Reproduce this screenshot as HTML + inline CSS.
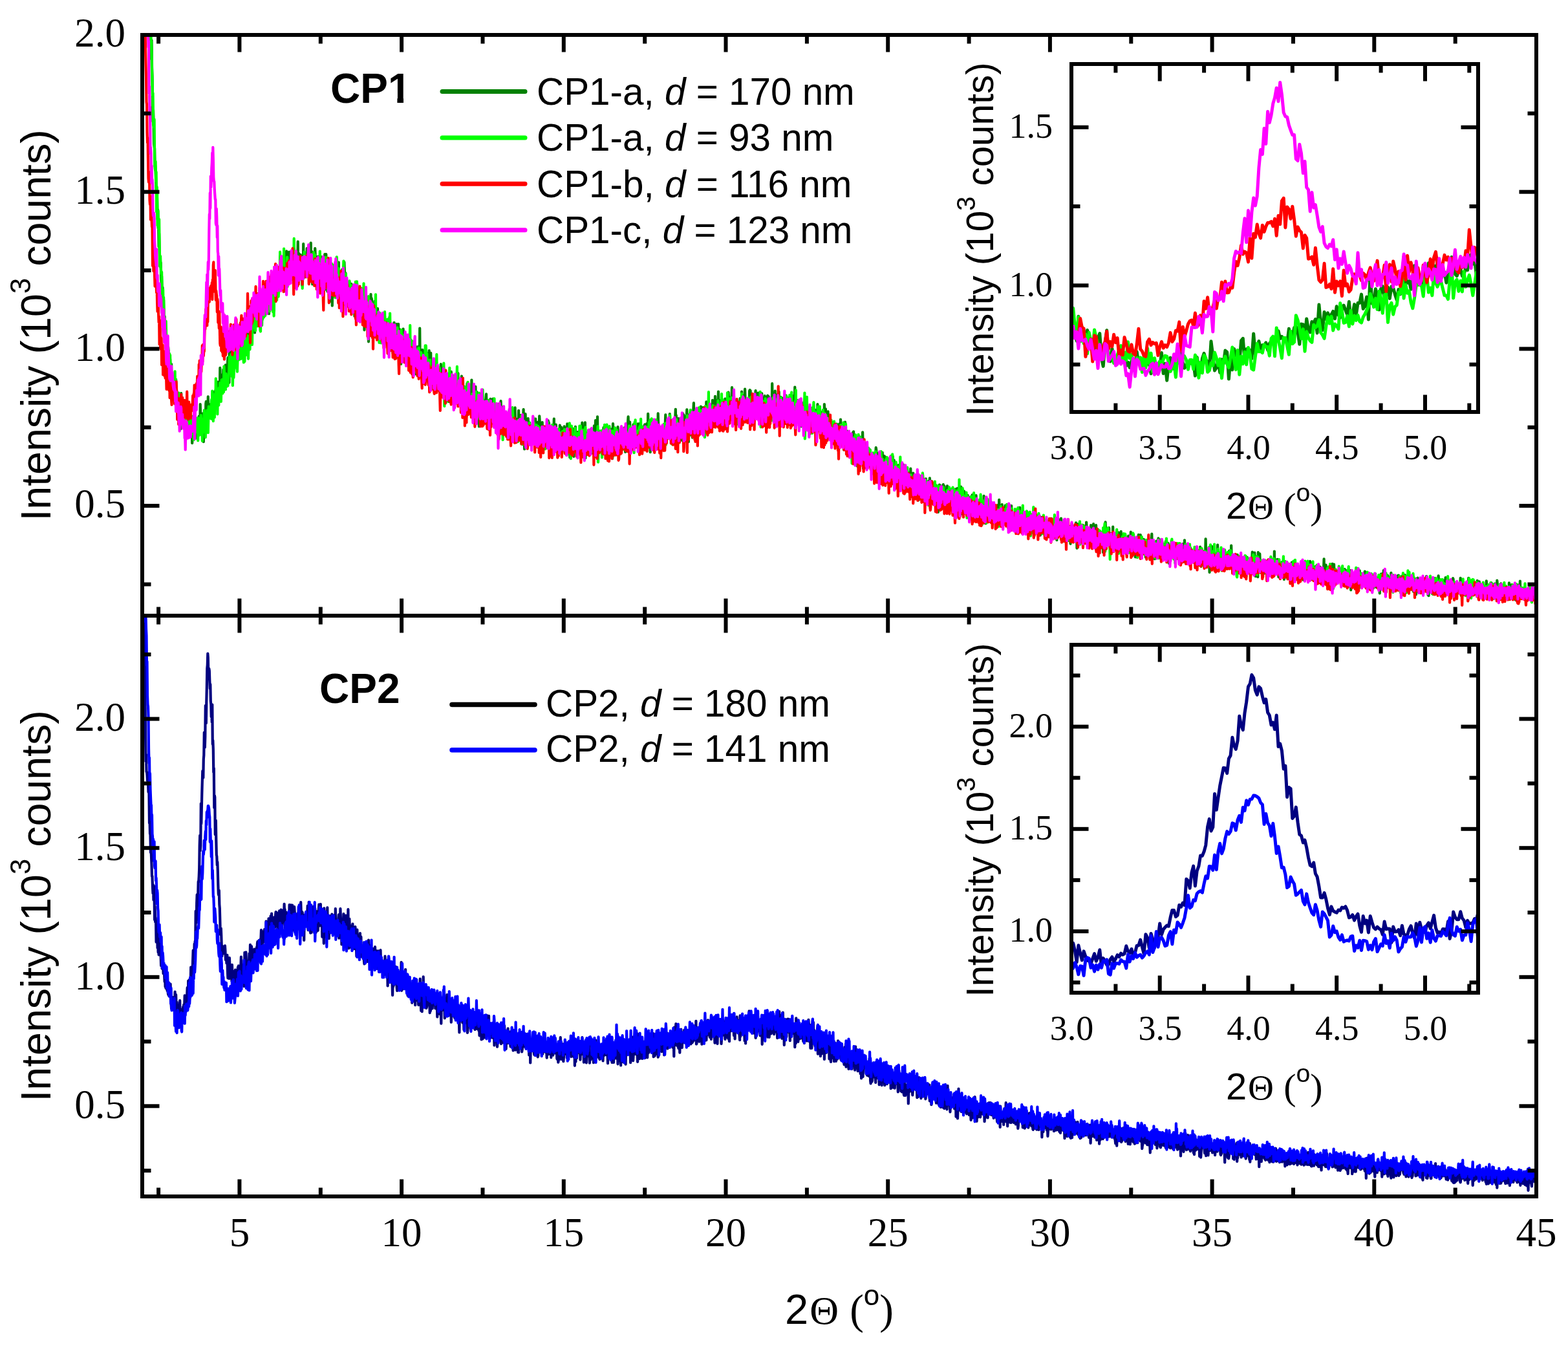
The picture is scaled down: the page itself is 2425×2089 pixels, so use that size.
<!DOCTYPE html>
<html><head><meta charset="utf-8"><title>XRD patterns CP1 CP2</title>
<style>html,body{margin:0;padding:0;background:#fff;overflow:hidden}svg{display:block}</style></head><body>
<svg width="2425" height="2089" viewBox="0 0 2425 2089">
<rect width="2425" height="2089" fill="#fff"/>
<defs>
<clipPath id="cT"><rect x="220.0" y="54.0" width="2156.0" height="898.0"/></clipPath>
<clipPath id="cB"><rect x="220.0" y="952.0" width="2156.0" height="898.0"/></clipPath>
<clipPath id="cI1"><rect x="1657.0" y="99.0" width="629.0" height="538.0"/></clipPath>
<clipPath id="cI2"><rect x="1657.0" y="997.0" width="629.0" height="538.0"/></clipPath>
</defs>
<g clip-path="url(#cT)" fill="none" stroke-width="4.2" stroke-linejoin="round" stroke-linecap="butt">
<path stroke="#008000" d="M218.0 -200.0L218.5 -200.0L219.0 -200.0L219.5 -200.0L220.0 -200.0L220.5 -200.0L221.0 -200.0L221.5 -200.0L222.0 -200.0L222.5 -200.0L223.0 -200.0L223.5 -200.0L224.0 -200.0L224.5 -200.0L225.0 -178.7L225.5 -182.7L226.0 -153.6L226.5 -130.1L227.0 -104.1L227.5 -99.0L228.0 -89.2L228.5 -68.8L229.0 -85.1L229.5 -65.2L230.0 20.9L230.5 18.7L231.0 -0.2L231.5 18.5L232.0 20.7L232.5 35.1L233.0 14.7L233.5 89.5L234.0 91.1L234.5 62.4L235.0 102.9L235.5 117.8L236.0 153.5L236.5 188.0L237.0 170.6L237.5 185.6L238.1 222.2L238.6 226.5L239.1 229.6L239.6 257.2L240.1 255.5L240.6 264.1L241.1 276.1L241.6 295.5L242.1 287.9L242.6 293.1L243.1 311.8L243.6 339.2L244.1 324.4L244.6 353.0L245.1 341.5L245.6 381.4L246.1 361.1L246.6 384.7L247.1 411.6L247.6 404.8L248.1 404.8L248.6 406.3L249.1 430.0L249.6 438.4L250.1 427.0L250.6 445.0L251.1 443.7L251.6 445.2L252.1 487.9L252.6 469.5L253.1 463.8L253.6 491.6L254.1 504.6L254.6 489.0L255.1 501.4L255.6 498.2L256.1 520.0L256.6 540.1L257.1 526.5L257.6 535.4L258.1 523.5L258.6 535.1L259.1 562.7L259.6 560.4L260.1 536.8L260.6 542.7L261.1 562.9L261.6 557.6L262.1 554.8L262.6 557.4L263.1 555.0L263.6 565.5L264.1 572.6L264.6 577.2L265.1 563.1L265.6 607.1L266.1 582.9L266.6 583.1L267.1 603.6L267.6 584.0L268.1 598.6L268.6 582.1L269.1 596.6L269.6 589.1L270.1 584.6L270.6 597.1L271.1 614.7L271.6 624.5L272.1 586.9L272.6 611.6L273.1 620.6L273.6 612.6L274.2 618.6L274.7 608.0L275.2 619.7L275.7 621.9L276.2 632.4L276.7 620.1L277.2 639.7L277.7 621.3L278.2 613.0L278.7 650.7L279.2 663.5L279.7 629.0L280.2 608.2L280.7 651.4L281.2 656.0L281.7 636.2L282.2 654.3L282.7 651.9L283.2 651.5L283.7 642.7L284.2 654.7L284.7 647.9L285.2 654.0L285.7 662.6L286.2 657.4L286.7 665.5L287.2 655.4L287.7 669.2L288.2 669.6L288.7 641.3L289.2 659.2L289.7 659.9L290.2 654.1L290.7 665.2L291.2 663.5L291.7 656.4L292.2 658.3L292.7 674.8L293.2 652.3L293.7 668.4L294.2 673.6L294.7 671.8L295.2 665.9L295.7 642.9L296.2 674.5L296.7 659.2L297.2 685.1L297.7 660.7L298.2 650.3L298.7 663.0L299.2 667.3L299.7 657.4L300.2 651.9L300.7 652.2L301.2 637.3L301.7 657.2L302.2 666.2L302.7 660.9L303.2 660.2L303.7 658.1L304.2 659.6L304.7 657.2L305.2 678.1L305.7 649.6L306.2 665.5L306.7 672.2L307.2 651.5L307.7 643.6L308.2 652.9L308.7 656.5L309.2 668.7L309.7 625.1L310.3 647.5L310.8 670.1L311.3 665.5L311.8 655.1L312.3 673.3L312.8 652.9L313.3 659.4L313.8 639.4L314.3 641.6L314.8 683.1L315.3 650.6L315.8 668.9L316.3 636.7L316.8 646.7L317.3 641.4L317.8 659.0L318.3 624.3L318.8 620.8L319.3 655.2L319.8 637.1L320.3 647.8L320.8 638.7L321.3 651.7L321.8 613.4L322.3 645.2L322.8 635.7L323.3 624.9L323.8 637.0L324.3 630.9L324.8 633.5L325.3 627.2L325.8 638.4L326.3 628.6L326.8 624.8L327.3 625.2L327.8 619.5L328.3 622.7L328.8 609.1L329.3 621.0L329.8 617.8L330.3 623.1L330.8 620.5L331.3 628.3L331.8 605.7L332.3 624.7L332.8 618.8L333.3 604.3L333.8 602.6L334.3 611.1L334.8 629.6L335.3 598.6L335.8 599.4L336.3 618.6L336.8 590.6L337.3 607.3L337.8 611.3L338.3 595.0L338.8 597.2L339.3 591.2L339.8 612.4L340.3 568.9L340.8 597.6L341.3 608.1L341.8 580.2L342.3 591.1L342.8 581.5L343.3 588.7L343.8 584.1L344.3 579.2L344.8 590.5L345.3 571.5L345.9 584.8L346.4 588.7L346.9 575.7L347.4 570.0L347.9 577.4L348.4 584.3L348.9 564.4L349.4 593.5L349.9 583.1L350.4 568.5L350.9 585.2L351.4 566.4L351.9 566.4L352.4 553.1L352.9 575.1L353.4 570.4L353.9 557.0L354.4 591.7L354.9 519.3L355.4 567.0L355.9 566.4L356.4 544.8L356.9 555.4L357.4 576.8L357.9 544.7L358.4 540.7L358.9 556.5L359.4 553.3L359.9 542.3L360.4 559.4L360.9 540.9L361.4 543.0L361.9 553.4L362.4 561.7L362.9 545.5L363.4 552.9L363.9 527.3L364.4 537.5L364.9 528.1L365.4 535.5L365.9 532.7L366.4 545.3L366.9 525.1L367.4 509.2L367.9 535.7L368.4 538.3L368.9 531.5L369.4 534.7L369.9 536.5L370.4 524.3L370.9 529.0L371.4 505.1L371.9 523.3L372.4 518.1L372.9 508.9L373.4 524.8L373.9 500.8L374.4 527.7L374.9 529.4L375.4 522.7L375.9 518.7L376.4 535.3L376.9 516.3L377.4 537.5L377.9 495.8L378.4 515.0L378.9 521.9L379.4 524.9L379.9 517.2L380.4 514.4L380.9 524.9L381.4 522.6L382.0 512.0L382.5 515.9L383.0 495.5L383.5 492.1L384.0 506.6L384.5 499.7L385.0 523.5L385.5 496.0L386.0 504.4L386.5 496.6L387.0 480.6L387.5 532.6L388.0 497.3L388.5 515.0L389.0 491.1L389.5 516.3L390.0 504.3L390.5 494.0L391.0 487.6L391.5 494.2L392.0 505.3L392.5 501.2L393.0 480.7L393.5 492.2L394.0 514.5L394.5 479.0L395.0 484.2L395.5 477.2L396.0 493.1L396.5 476.4L397.0 501.7L397.5 478.5L398.0 492.5L398.5 475.7L399.0 470.4L399.5 493.9L400.0 483.7L400.5 481.8L401.0 465.2L401.5 471.1L402.0 497.3L402.5 473.3L403.0 468.7L403.5 448.8L404.0 501.1L404.5 484.5L405.0 457.8L405.5 494.6L406.0 491.8L406.5 467.2L407.0 459.6L407.5 482.5L408.0 464.9L408.5 470.2L409.0 449.9L409.5 470.5L410.0 455.9L410.5 481.8L411.0 471.0L411.5 469.1L412.0 451.1L412.5 458.2L413.0 476.2L413.5 455.4L414.0 453.4L414.5 465.0L415.0 466.3L415.5 464.7L416.0 485.1L416.5 457.7L417.0 456.2L417.5 471.0L418.1 447.4L418.6 476.6L419.1 464.1L419.6 462.2L420.1 426.3L420.6 476.5L421.1 444.9L421.6 438.6L422.1 445.8L422.6 433.4L423.1 463.7L423.6 481.1L424.1 436.7L424.6 463.9L425.1 450.6L425.6 461.9L426.1 429.1L426.6 430.9L427.1 452.8L427.6 428.6L428.1 439.0L428.6 441.9L429.1 438.2L429.6 441.1L430.1 428.5L430.6 432.0L431.1 440.7L431.6 420.3L432.1 442.9L432.6 429.1L433.1 426.4L433.6 410.3L434.1 438.2L434.6 404.9L435.1 426.9L435.6 431.5L436.1 437.7L436.6 418.7L437.1 425.8L437.6 441.9L438.1 441.6L438.6 432.7L439.1 433.8L439.6 407.4L440.1 402.7L440.6 409.5L441.1 416.4L441.6 427.3L442.1 419.7L442.6 407.1L443.1 388.4L443.6 405.8L444.1 422.8L444.6 417.7L445.1 425.0L445.6 429.0L446.1 419.9L446.6 414.0L447.1 389.7L447.6 415.6L448.1 396.2L448.6 390.0L449.1 414.5L449.6 391.9L450.1 404.8L450.6 421.2L451.1 410.9L451.6 414.3L452.1 417.8L452.6 417.2L453.1 411.9L453.7 407.4L454.2 426.6L454.7 413.6L455.2 435.6L455.7 409.2L456.2 403.7L456.7 410.3L457.2 408.3L457.7 403.7L458.2 422.0L458.7 415.5L459.2 404.3L459.7 396.9L460.2 405.7L460.7 373.7L461.2 412.6L461.7 396.3L462.2 392.2L462.7 412.7L463.2 422.7L463.7 427.9L464.2 408.0L464.7 393.9L465.2 406.1L465.7 407.5L466.2 415.5L466.7 401.5L467.2 441.2L467.7 406.2L468.2 409.1L468.7 429.7L469.2 377.2L469.7 429.8L470.2 425.1L470.7 426.9L471.2 392.7L471.7 422.1L472.2 399.1L472.7 400.3L473.2 405.1L473.7 428.2L474.2 417.9L474.7 384.1L475.2 427.9L475.7 421.1L476.2 411.2L476.7 396.9L477.2 405.2L477.7 398.0L478.2 424.7L478.7 395.1L479.2 400.7L479.7 432.8L480.2 386.6L480.7 375.6L481.2 420.9L481.7 408.8L482.2 389.2L482.7 431.8L483.2 439.5L483.7 429.4L484.2 418.8L484.7 419.1L485.2 401.8L485.7 407.0L486.2 429.6L486.7 403.0L487.2 384.0L487.7 394.2L488.2 397.5L488.7 412.0L489.2 398.0L489.8 427.0L490.3 401.9L490.8 414.5L491.3 396.9L491.8 406.9L492.3 430.0L492.8 412.4L493.3 396.6L493.8 431.4L494.3 423.3L494.8 426.6L495.3 437.5L495.8 401.7L496.3 396.9L496.8 404.7L497.3 413.1L497.8 417.7L498.3 413.7L498.8 428.2L499.3 404.6L499.8 402.7L500.3 404.6L500.8 426.3L501.3 417.7L501.8 421.5L502.3 393.2L502.8 417.0L503.3 447.5L503.8 414.4L504.3 393.1L504.8 410.9L505.3 408.4L505.8 421.1L506.3 450.7L506.8 448.7L507.3 440.9L507.8 424.9L508.3 418.9L508.8 413.7L509.3 429.2L509.8 410.6L510.3 429.1L510.8 435.7L511.3 413.4L511.8 439.5L512.3 466.3L512.8 442.5L513.3 426.1L513.8 472.7L514.3 433.5L514.8 433.6L515.3 449.9L515.8 451.2L516.3 436.8L516.8 438.5L517.3 412.8L517.8 426.1L518.3 454.8L518.8 444.8L519.3 422.7L519.8 405.9L520.3 428.2L520.8 429.8L521.3 407.8L521.8 435.5L522.3 440.1L522.8 456.5L523.3 444.0L523.8 405.6L524.3 458.0L524.8 437.8L525.3 458.7L525.9 437.0L526.4 426.5L526.9 443.2L527.4 429.7L527.9 430.3L528.4 434.7L528.9 416.9L529.4 430.8L529.9 446.8L530.4 452.6L530.9 455.4L531.4 436.8L531.9 448.7L532.4 405.4L532.9 418.5L533.4 448.4L533.9 450.5L534.4 422.0L534.9 473.6L535.4 453.5L535.9 433.9L536.4 460.9L536.9 455.1L537.4 453.7L537.9 439.7L538.4 447.6L538.9 444.2L539.4 441.9L539.9 450.4L540.4 435.4L540.9 462.0L541.4 472.5L541.9 477.8L542.4 476.0L542.9 461.2L543.4 439.1L543.9 451.7L544.4 463.1L544.9 470.3L545.4 463.0L545.9 461.6L546.4 464.4L546.9 477.1L547.4 464.0L547.9 443.2L548.4 488.9L548.9 461.9L549.4 489.0L549.9 456.8L550.4 470.4L550.9 489.7L551.4 459.3L551.9 435.5L552.4 460.1L552.9 445.7L553.4 463.5L553.9 493.4L554.4 456.5L554.9 469.7L555.4 484.9L555.9 453.7L556.4 461.2L556.9 473.1L557.4 454.0L557.9 478.9L558.4 458.1L558.9 480.8L559.4 460.5L559.9 484.0L560.4 448.1L560.9 465.9L561.5 449.9L562.0 482.0L562.5 477.6L563.0 459.7L563.5 510.3L564.0 487.4L564.5 458.5L565.0 467.0L565.5 460.3L566.0 478.8L566.5 467.2L567.0 485.8L567.5 495.3L568.0 500.3L568.5 484.9L569.0 485.5L569.5 487.1L570.0 528.3L570.5 507.3L571.0 487.5L571.5 476.7L572.0 489.3L572.5 494.0L573.0 514.4L573.5 455.0L574.0 498.8L574.5 460.9L575.0 463.2L575.5 481.5L576.0 493.8L576.5 484.6L577.0 502.9L577.5 484.0L578.0 488.1L578.5 481.4L579.0 476.1L579.5 465.9L580.0 495.6L580.5 476.5L581.0 502.2L581.5 504.2L582.0 500.9L582.5 506.4L583.0 480.0L583.5 481.3L584.0 477.0L584.5 495.3L585.0 491.7L585.5 503.8L586.0 512.2L586.5 490.8L587.0 493.8L587.5 513.0L588.0 490.4L588.5 522.7L589.0 501.8L589.5 508.5L590.0 507.6L590.5 515.6L591.0 488.4L591.5 494.1L592.0 486.2L592.5 501.0L593.0 520.9L593.5 508.9L594.0 520.4L594.5 498.7L595.0 488.9L595.5 501.4L596.0 514.4L596.5 511.8L597.0 504.5L597.6 527.3L598.1 506.2L598.6 506.0L599.1 516.5L599.6 515.3L600.1 507.8L600.6 521.7L601.1 522.2L601.6 501.1L602.1 509.0L602.6 489.9L603.1 526.3L603.6 537.4L604.1 501.3L604.6 501.5L605.1 524.8L605.6 535.0L606.1 516.4L606.6 539.8L607.1 521.3L607.6 546.5L608.1 520.9L608.6 546.6L609.1 521.8L609.6 498.8L610.1 523.1L610.6 509.7L611.1 529.1L611.6 532.9L612.1 541.4L612.6 508.0L613.1 523.2L613.6 501.2L614.1 539.0L614.6 526.8L615.1 523.2L615.6 505.9L616.1 501.0L616.6 534.3L617.1 541.2L617.6 549.7L618.1 509.3L618.6 528.7L619.1 536.6L619.6 529.1L620.1 562.8L620.6 552.2L621.1 517.5L621.6 525.1L622.1 528.8L622.6 544.5L623.1 523.9L623.6 508.7L624.1 548.8L624.6 532.9L625.1 539.3L625.6 529.2L626.1 534.3L626.6 536.9L627.1 547.0L627.6 536.1L628.1 544.4L628.6 538.7L629.1 538.1L629.6 529.1L630.1 545.9L630.6 542.9L631.1 525.1L631.6 542.5L632.1 543.5L632.6 529.2L633.1 537.5L633.7 540.3L634.2 539.1L634.7 558.7L635.2 536.9L635.7 526.1L636.2 536.3L636.7 564.7L637.2 541.1L637.7 557.1L638.2 548.7L638.7 544.6L639.2 562.2L639.7 529.8L640.2 548.6L640.7 537.9L641.2 540.4L641.7 531.7L642.2 534.2L642.7 569.2L643.2 550.0L643.7 578.7L644.2 557.3L644.7 542.8L645.2 540.7L645.7 536.4L646.2 558.4L646.7 549.9L647.2 553.2L647.7 538.6L648.2 535.0L648.7 560.6L649.2 507.7L649.7 557.0L650.2 562.2L650.7 550.2L651.2 548.7L651.7 551.9L652.2 567.8L652.7 541.0L653.2 559.7L653.7 541.2L654.2 543.5L654.7 578.1L655.2 574.8L655.7 575.6L656.2 560.1L656.7 563.1L657.2 560.8L657.7 575.1L658.2 559.7L658.7 547.8L659.2 583.2L659.7 569.1L660.2 563.9L660.7 569.2L661.2 570.6L661.7 546.1L662.2 552.7L662.7 558.7L663.2 579.6L663.7 542.0L664.2 566.3L664.7 578.7L665.2 576.1L665.7 578.5L666.2 545.9L666.7 570.6L667.2 572.9L667.7 601.3L668.2 565.3L668.7 588.4L669.3 589.8L669.8 568.3L670.3 587.3L670.8 566.4L671.3 563.2L671.8 600.3L672.3 579.9L672.8 598.4L673.3 579.9L673.8 568.1L674.3 597.1L674.8 557.8L675.3 584.7L675.8 596.1L676.3 583.3L676.8 572.2L677.3 599.8L677.8 583.0L678.3 600.6L678.8 568.8L679.3 582.3L679.8 589.9L680.3 572.1L680.8 601.5L681.3 590.7L681.8 563.2L682.3 588.2L682.8 570.1L683.3 585.0L683.8 596.5L684.3 591.3L684.8 587.6L685.3 594.0L685.8 599.6L686.3 599.4L686.8 608.5L687.3 589.1L687.8 586.0L688.3 581.9L688.8 614.0L689.3 582.0L689.8 592.5L690.3 610.4L690.8 591.9L691.3 583.4L691.8 587.3L692.3 585.2L692.8 582.8L693.3 583.8L693.8 595.7L694.3 621.2L694.8 605.3L695.3 591.9L695.8 602.4L696.3 588.5L696.8 587.5L697.3 597.1L697.8 574.9L698.3 610.3L698.8 587.2L699.3 604.8L699.8 608.9L700.3 592.5L700.8 607.6L701.3 589.9L701.8 615.0L702.3 600.6L702.8 611.7L703.3 604.6L703.8 606.6L704.3 616.2L704.8 594.7L705.4 618.3L705.9 615.4L706.4 592.8L706.9 592.2L707.4 596.2L707.9 600.5L708.4 577.2L708.9 620.1L709.4 614.7L709.9 618.1L710.4 595.3L710.9 603.1L711.4 593.4L711.9 595.4L712.4 610.3L712.9 617.8L713.4 620.2L713.9 581.7L714.4 597.1L714.9 601.9L715.4 613.6L715.9 612.2L716.4 614.2L716.9 614.3L717.4 639.8L717.9 611.8L718.4 616.0L718.9 608.1L719.4 609.4L719.9 602.0L720.4 612.7L720.9 603.3L721.4 644.1L721.9 626.8L722.4 593.0L722.9 628.8L723.4 617.8L723.9 606.2L724.4 625.7L724.9 606.7L725.4 632.9L725.9 639.0L726.4 632.3L726.9 636.5L727.4 617.1L727.9 621.0L728.4 613.6L728.9 630.3L729.4 587.6L729.9 619.6L730.4 619.3L730.9 613.6L731.4 622.3L731.9 627.2L732.4 618.9L732.9 609.3L733.4 612.6L733.9 609.6L734.4 627.9L734.9 630.8L735.4 597.9L735.9 625.0L736.4 616.7L736.9 613.9L737.4 606.1L737.9 639.4L738.4 629.3L738.9 629.1L739.4 627.8L739.9 653.2L740.4 626.0L740.9 659.5L741.5 621.9L742.0 619.3L742.5 618.9L743.0 640.6L743.5 615.3L744.0 637.2L744.5 641.8L745.0 639.1L745.5 637.9L746.0 626.1L746.5 618.6L747.0 653.6L747.5 635.4L748.0 618.6L748.5 627.2L749.0 623.8L749.5 647.9L750.0 619.2L750.5 649.2L751.0 628.7L751.5 615.2L752.0 609.4L752.5 625.8L753.0 621.7L753.5 639.6L754.0 638.4L754.5 619.2L755.0 633.3L755.5 635.1L756.0 650.5L756.5 632.4L757.0 626.9L757.5 644.1L758.0 641.0L758.5 616.8L759.0 633.5L759.5 639.3L760.0 649.5L760.5 643.7L761.0 639.7L761.5 621.0L762.0 644.4L762.5 616.6L763.0 648.7L763.5 642.3L764.0 628.6L764.5 641.5L765.0 648.7L765.5 640.8L766.0 634.3L766.5 659.8L767.0 643.0L767.5 641.6L768.0 645.3L768.5 632.3L769.0 647.8L769.5 645.7L770.0 641.3L770.5 633.5L771.0 644.8L771.5 624.9L772.0 653.3L772.5 628.1L773.0 653.3L773.5 645.5L774.0 639.6L774.5 620.2L775.0 633.9L775.5 649.3L776.0 629.8L776.5 647.6L777.1 654.5L777.6 640.4L778.1 644.8L778.6 635.1L779.1 652.8L779.6 642.2L780.1 639.6L780.6 643.9L781.1 647.7L781.6 655.7L782.1 637.5L782.6 646.6L783.1 642.7L783.6 652.7L784.1 648.7L784.6 661.1L785.1 648.4L785.6 640.8L786.1 648.8L786.6 640.2L787.1 646.8L787.6 634.9L788.1 653.1L788.6 670.0L789.1 646.4L789.6 653.5L790.1 663.1L790.6 644.6L791.1 649.3L791.6 647.5L792.1 656.7L792.6 650.9L793.1 650.5L793.6 633.3L794.1 661.7L794.6 654.3L795.1 650.2L795.6 674.4L796.1 673.2L796.6 630.4L797.1 675.6L797.6 649.1L798.1 665.6L798.6 664.8L799.1 679.0L799.6 666.9L800.1 647.9L800.6 673.0L801.1 650.6L801.6 654.0L802.1 634.8L802.6 663.5L803.1 643.9L803.6 648.5L804.1 662.1L804.6 678.0L805.1 642.1L805.6 675.0L806.1 665.1L806.6 650.0L807.1 647.6L807.6 670.1L808.1 661.1L808.6 663.9L809.1 647.8L809.6 633.0L810.1 682.4L810.6 651.5L811.1 694.4L811.6 662.1L812.1 675.1L812.6 640.2L813.2 661.1L813.7 671.5L814.2 669.0L814.7 670.1L815.2 661.7L815.7 665.8L816.2 656.8L816.7 647.0L817.2 656.7L817.7 678.7L818.2 683.4L818.7 673.8L819.2 653.6L819.7 669.4L820.2 673.3L820.7 664.5L821.2 682.1L821.7 679.2L822.2 660.8L822.7 670.2L823.2 672.0L823.7 663.5L824.2 673.9L824.7 675.2L825.2 672.8L825.7 661.0L826.2 667.3L826.7 681.5L827.2 671.7L827.7 661.2L828.2 647.6L828.7 681.6L829.2 665.1L829.7 671.9L830.2 659.9L830.7 664.3L831.2 652.9L831.7 663.8L832.2 675.8L832.7 675.9L833.2 665.4L833.7 665.7L834.2 643.4L834.7 651.6L835.2 683.6L835.7 666.7L836.2 685.6L836.7 689.4L837.2 662.7L837.7 664.9L838.2 682.8L838.7 653.0L839.2 682.4L839.7 684.6L840.2 664.4L840.7 669.4L841.2 673.7L841.7 672.8L842.2 669.7L842.7 673.9L843.2 674.4L843.7 693.7L844.2 687.6L844.7 666.0L845.2 680.8L845.7 666.9L846.2 659.3L846.7 677.2L847.2 670.2L847.7 650.3L848.2 665.8L848.7 653.2L849.3 656.7L849.8 665.5L850.3 675.3L850.8 683.5L851.3 686.6L851.8 668.9L852.3 669.3L852.8 676.5L853.3 665.2L853.8 681.5L854.3 662.5L854.8 674.5L855.3 675.5L855.8 675.2L856.3 676.4L856.8 647.7L857.3 693.4L857.8 673.6L858.3 661.9L858.8 667.8L859.3 679.2L859.8 656.6L860.3 687.9L860.8 690.7L861.3 669.9L861.8 692.5L862.3 702.8L862.8 666.7L863.3 668.1L863.8 668.5L864.3 682.2L864.8 674.8L865.3 687.6L865.8 657.7L866.3 668.3L866.8 668.9L867.3 698.8L867.8 668.3L868.3 660.8L868.8 663.9L869.3 668.7L869.8 677.6L870.3 681.4L870.8 671.0L871.3 673.5L871.8 675.2L872.3 681.3L872.8 659.3L873.3 690.9L873.8 678.3L874.3 684.5L874.8 666.7L875.3 662.3L875.8 664.5L876.3 669.9L876.8 693.9L877.3 655.3L877.8 672.7L878.3 679.6L878.8 678.2L879.3 682.3L879.8 673.9L880.3 675.1L880.8 682.6L881.3 707.1L881.8 679.0L882.3 673.4L882.8 672.9L883.3 680.4L883.8 673.7L884.3 667.4L884.9 684.0L885.4 662.6L885.9 700.4L886.4 692.8L886.9 688.9L887.4 705.9L887.9 689.9L888.4 665.1L888.9 665.2L889.4 677.8L889.9 659.9L890.4 676.3L890.9 684.5L891.4 676.3L891.9 680.5L892.4 670.9L892.9 695.7L893.4 668.0L893.9 684.1L894.4 669.6L894.9 696.1L895.4 683.7L895.9 678.2L896.4 669.2L896.9 692.6L897.4 660.7L897.9 673.8L898.4 685.0L898.9 665.7L899.4 678.1L899.9 666.4L900.4 653.5L900.9 670.7L901.4 685.1L901.9 684.0L902.4 672.8L902.9 676.1L903.4 688.5L903.9 686.7L904.4 672.0L904.9 653.4L905.4 708.4L905.9 671.4L906.4 681.7L906.9 670.8L907.4 669.8L907.9 678.8L908.4 690.6L908.9 694.9L909.4 700.2L909.9 665.9L910.4 681.8L910.9 685.4L911.4 682.5L911.9 694.3L912.4 676.1L912.9 664.9L913.4 666.9L913.9 696.8L914.4 664.5L914.9 688.0L915.4 700.7L915.9 693.1L916.4 690.2L916.9 679.6L917.4 691.0L917.9 696.3L918.4 682.5L918.9 658.3L919.4 687.4L919.9 674.5L920.4 678.7L921.0 650.2L921.5 700.6L922.0 667.5L922.5 693.8L923.0 686.2L923.5 680.7L924.0 644.4L924.5 688.1L925.0 700.5L925.5 665.3L926.0 688.9L926.5 682.3L927.0 679.9L927.5 678.6L928.0 681.6L928.5 676.7L929.0 675.4L929.5 670.2L930.0 684.4L930.5 688.0L931.0 691.4L931.5 673.1L932.0 680.2L932.5 673.6L933.0 673.7L933.5 661.1L934.0 677.4L934.5 671.4L935.0 693.0L935.5 691.6L936.0 683.1L936.5 693.1L937.0 672.0L937.5 694.4L938.0 678.9L938.5 706.8L939.0 691.8L939.5 683.3L940.0 682.4L940.5 699.3L941.0 678.3L941.5 668.7L942.0 672.3L942.5 686.7L943.0 685.9L943.5 692.5L944.0 672.4L944.5 663.3L945.0 685.1L945.5 698.0L946.0 677.0L946.5 671.3L947.0 709.2L947.5 677.5L948.0 655.0L948.5 669.9L949.0 672.8L949.5 674.4L950.0 667.0L950.5 689.2L951.0 688.0L951.5 674.1L952.0 686.2L952.5 675.7L953.0 699.6L953.5 670.0L954.0 669.0L954.5 677.8L955.0 676.4L955.5 660.2L956.0 690.1L956.5 688.2L957.1 690.1L957.6 682.6L958.1 689.1L958.6 677.4L959.1 684.9L959.6 693.7L960.1 694.8L960.6 664.1L961.1 678.2L961.6 679.9L962.1 677.0L962.6 678.1L963.1 668.8L963.6 670.9L964.1 683.6L964.6 686.1L965.1 688.9L965.6 690.7L966.1 661.2L966.6 686.8L967.1 699.0L967.6 685.9L968.1 685.2L968.6 672.7L969.1 686.1L969.6 670.3L970.1 671.8L970.6 662.0L971.1 651.9L971.6 644.3L972.1 660.8L972.6 688.7L973.1 680.2L973.6 672.9L974.1 652.6L974.6 668.0L975.1 662.0L975.6 677.3L976.1 668.7L976.6 667.2L977.1 680.2L977.6 666.4L978.1 663.1L978.6 676.7L979.1 663.5L979.6 656.4L980.1 674.0L980.6 674.6L981.1 678.0L981.6 681.4L982.1 672.7L982.6 678.9L983.1 677.7L983.6 682.8L984.1 691.2L984.6 684.5L985.1 670.3L985.6 687.1L986.1 681.0L986.6 655.4L987.1 661.1L987.6 681.3L988.1 666.8L988.6 680.7L989.1 655.2L989.6 679.8L990.1 672.3L990.6 657.7L991.1 682.3L991.6 658.4L992.1 682.0L992.7 670.1L993.2 676.0L993.7 673.6L994.2 670.7L994.7 673.3L995.2 683.7L995.7 662.6L996.2 664.1L996.7 657.7L997.2 656.5L997.7 686.9L998.2 657.5L998.7 657.2L999.2 677.6L999.7 660.0L1000.2 655.1L1000.7 677.4L1001.2 686.7L1001.7 675.2L1002.2 639.9L1002.7 668.4L1003.2 684.5L1003.7 673.7L1004.2 681.9L1004.7 675.1L1005.2 669.5L1005.7 699.1L1006.2 666.3L1006.7 654.4L1007.2 672.4L1007.7 674.4L1008.2 657.7L1008.7 684.1L1009.2 683.7L1009.7 685.3L1010.2 671.3L1010.7 665.1L1011.2 670.4L1011.7 663.1L1012.2 659.9L1012.7 663.5L1013.2 678.0L1013.7 671.9L1014.2 654.8L1014.7 680.4L1015.2 671.4L1015.7 673.1L1016.2 670.4L1016.7 680.3L1017.2 683.3L1017.7 639.3L1018.2 657.3L1018.7 675.8L1019.2 668.4L1019.7 660.0L1020.2 671.4L1020.7 660.4L1021.2 674.2L1021.7 671.2L1022.2 668.0L1022.7 672.1L1023.2 694.4L1023.7 666.5L1024.2 663.7L1024.7 661.1L1025.2 677.6L1025.7 662.4L1026.2 663.7L1026.7 686.0L1027.2 690.7L1027.7 660.4L1028.2 676.4L1028.8 654.3L1029.3 641.3L1029.8 671.9L1030.3 673.0L1030.8 665.2L1031.3 657.3L1031.8 677.7L1032.3 650.7L1032.8 653.4L1033.3 657.0L1033.8 670.4L1034.3 653.9L1034.8 654.4L1035.3 677.6L1035.8 640.2L1036.3 667.1L1036.8 659.4L1037.3 669.4L1037.8 659.0L1038.3 650.1L1038.8 672.2L1039.3 681.7L1039.8 667.9L1040.3 677.5L1040.8 671.2L1041.3 663.9L1041.8 663.1L1042.3 647.6L1042.8 673.6L1043.3 657.9L1043.8 667.6L1044.3 646.2L1044.8 632.9L1045.3 658.0L1045.8 642.3L1046.3 667.1L1046.8 679.1L1047.3 675.3L1047.8 678.6L1048.3 671.4L1048.8 663.2L1049.3 647.2L1049.8 652.2L1050.3 654.8L1050.8 664.7L1051.3 668.0L1051.8 659.2L1052.3 657.9L1052.8 656.4L1053.3 655.0L1053.8 660.4L1054.3 680.8L1054.8 671.5L1055.3 668.0L1055.8 639.2L1056.3 663.2L1056.8 650.5L1057.3 641.4L1057.8 654.1L1058.3 662.2L1058.8 660.9L1059.3 669.1L1059.8 653.7L1060.3 644.2L1060.8 650.4L1061.3 647.9L1061.8 648.3L1062.3 633.4L1062.8 663.4L1063.3 654.2L1063.8 647.7L1064.3 641.3L1064.9 683.1L1065.4 661.1L1065.9 657.3L1066.4 666.5L1066.9 644.9L1067.4 651.8L1067.9 658.7L1068.4 672.6L1068.9 668.9L1069.4 664.8L1069.9 648.0L1070.4 667.0L1070.9 676.6L1071.4 669.3L1071.9 659.2L1072.4 632.9L1072.9 623.2L1073.4 657.2L1073.9 640.6L1074.4 635.1L1074.9 636.2L1075.4 652.1L1075.9 665.5L1076.4 655.9L1076.9 671.5L1077.4 647.0L1077.9 640.6L1078.4 671.1L1078.9 649.6L1079.4 645.4L1079.9 634.1L1080.4 632.4L1080.9 638.8L1081.4 655.8L1081.9 651.8L1082.4 633.4L1082.9 654.1L1083.4 647.4L1083.9 628.6L1084.4 644.9L1084.9 662.1L1085.4 649.3L1085.9 638.3L1086.4 647.6L1086.9 631.7L1087.4 630.1L1087.9 652.3L1088.4 650.3L1088.9 645.4L1089.4 658.0L1089.9 639.4L1090.4 645.6L1090.9 634.2L1091.4 650.1L1091.9 653.1L1092.4 621.3L1092.9 652.6L1093.4 649.0L1093.9 650.5L1094.4 645.3L1094.9 652.2L1095.4 641.8L1095.9 649.3L1096.4 645.7L1096.9 636.4L1097.4 632.3L1097.9 634.8L1098.4 648.7L1098.9 635.2L1099.4 641.1L1099.9 640.7L1100.5 659.4L1101.0 631.3L1101.5 640.6L1102.0 618.8L1102.5 631.1L1103.0 651.4L1103.5 654.3L1104.0 624.6L1104.5 648.1L1105.0 629.7L1105.5 641.1L1106.0 612.8L1106.5 636.3L1107.0 619.4L1107.5 621.3L1108.0 642.2L1108.5 640.5L1109.0 619.1L1109.5 636.3L1110.0 646.4L1110.5 621.9L1111.0 605.6L1111.5 636.1L1112.0 619.0L1112.5 637.2L1113.0 619.2L1113.5 637.7L1114.0 619.1L1114.5 628.2L1115.0 636.5L1115.5 631.4L1116.0 640.4L1116.5 647.1L1117.0 646.1L1117.5 634.2L1118.0 645.8L1118.5 628.0L1119.0 626.7L1119.5 627.3L1120.0 638.5L1120.5 631.8L1121.0 632.6L1121.5 616.6L1122.0 641.5L1122.5 636.4L1123.0 634.4L1123.5 633.2L1124.0 640.2L1124.5 638.7L1125.0 619.1L1125.5 638.5L1126.0 620.0L1126.5 606.7L1127.0 615.4L1127.5 651.7L1128.0 621.1L1128.5 624.5L1129.0 623.6L1129.5 649.1L1130.0 620.8L1130.5 642.5L1131.0 614.2L1131.5 616.7L1132.0 599.1L1132.5 633.7L1133.0 647.1L1133.5 616.6L1134.0 618.5L1134.5 633.3L1135.0 612.6L1135.5 620.4L1136.0 643.7L1136.6 632.5L1137.1 633.5L1137.6 629.5L1138.1 625.8L1138.6 636.2L1139.1 630.2L1139.6 620.8L1140.1 628.6L1140.6 630.8L1141.1 631.2L1141.6 628.7L1142.1 650.1L1142.6 625.4L1143.1 639.5L1143.6 625.9L1144.1 644.6L1144.6 616.1L1145.1 624.2L1145.6 643.0L1146.1 624.1L1146.6 635.9L1147.1 605.5L1147.6 620.9L1148.1 636.2L1148.6 624.0L1149.1 627.0L1149.6 612.4L1150.1 622.3L1150.6 620.5L1151.1 639.8L1151.6 617.1L1152.1 601.7L1152.6 618.9L1153.1 626.9L1153.6 624.5L1154.1 637.8L1154.6 624.3L1155.1 639.5L1155.6 625.9L1156.1 631.1L1156.6 636.3L1157.1 619.6L1157.6 644.1L1158.1 627.0L1158.6 642.2L1159.1 604.8L1159.6 603.1L1160.1 616.5L1160.6 604.0L1161.1 619.5L1161.6 620.1L1162.1 631.6L1162.6 637.2L1163.1 625.0L1163.6 632.9L1164.1 631.8L1164.6 617.9L1165.1 628.1L1165.6 645.1L1166.1 629.2L1166.6 635.7L1167.1 630.2L1167.6 639.7L1168.1 612.5L1168.6 604.2L1169.1 639.9L1169.6 619.1L1170.1 619.7L1170.6 639.5L1171.1 625.6L1171.6 610.1L1172.1 616.8L1172.7 607.7L1173.2 640.8L1173.7 635.8L1174.2 623.5L1174.7 622.8L1175.2 626.7L1175.7 631.7L1176.2 632.0L1176.7 634.3L1177.2 621.8L1177.7 659.9L1178.2 608.3L1178.7 633.5L1179.2 644.2L1179.7 620.9L1180.2 644.0L1180.7 622.8L1181.2 632.2L1181.7 620.5L1182.2 618.2L1182.7 612.2L1183.2 633.4L1183.7 631.1L1184.2 627.8L1184.7 644.5L1185.2 620.7L1185.7 626.2L1186.2 643.7L1186.7 613.5L1187.2 611.7L1187.7 643.5L1188.2 621.2L1188.7 613.2L1189.2 618.1L1189.7 639.7L1190.2 644.6L1190.7 629.5L1191.2 634.0L1191.7 628.3L1192.2 629.4L1192.7 622.0L1193.2 634.9L1193.7 630.2L1194.2 593.2L1194.7 629.9L1195.2 619.7L1195.7 625.1L1196.2 625.9L1196.7 639.4L1197.2 622.4L1197.7 629.3L1198.2 619.0L1198.7 604.5L1199.2 626.6L1199.7 619.8L1200.2 641.0L1200.7 627.5L1201.2 610.6L1201.7 629.7L1202.2 636.5L1202.7 626.6L1203.2 631.3L1203.7 632.0L1204.2 633.6L1204.7 605.8L1205.2 639.6L1205.7 634.2L1206.2 636.2L1206.7 614.8L1207.2 632.9L1207.7 614.2L1208.3 627.7L1208.8 630.0L1209.3 647.1L1209.8 615.6L1210.3 623.6L1210.8 625.3L1211.3 631.6L1211.8 635.2L1212.3 645.3L1212.8 619.3L1213.3 627.4L1213.8 634.9L1214.3 638.2L1214.8 629.4L1215.3 632.0L1215.8 611.6L1216.3 622.0L1216.8 638.3L1217.3 644.4L1217.8 634.2L1218.3 642.3L1218.8 630.8L1219.3 627.0L1219.8 624.4L1220.3 627.1L1220.8 634.4L1221.3 625.2L1221.8 642.8L1222.3 633.4L1222.8 623.0L1223.3 629.3L1223.8 647.8L1224.3 646.6L1224.8 652.1L1225.3 612.0L1225.8 651.6L1226.3 635.1L1226.8 612.0L1227.3 621.1L1227.8 618.4L1228.3 639.9L1228.8 625.5L1229.3 598.5L1229.8 634.9L1230.3 629.8L1230.8 638.5L1231.3 635.1L1231.8 630.7L1232.3 618.9L1232.8 645.9L1233.3 652.3L1233.8 635.4L1234.3 633.4L1234.8 619.4L1235.3 627.7L1235.8 643.6L1236.3 629.8L1236.8 623.5L1237.3 633.4L1237.8 640.9L1238.3 629.2L1238.8 641.4L1239.3 659.3L1239.8 622.1L1240.3 652.9L1240.8 641.9L1241.3 641.8L1241.8 642.3L1242.3 641.8L1242.8 655.5L1243.3 632.7L1243.8 638.7L1244.4 638.8L1244.9 626.9L1245.4 626.8L1245.9 624.2L1246.4 618.4L1246.9 634.8L1247.4 658.2L1247.9 638.0L1248.4 640.5L1248.9 640.0L1249.4 648.0L1249.9 651.5L1250.4 632.1L1250.9 630.3L1251.4 654.8L1251.9 635.7L1252.4 644.1L1252.9 646.9L1253.4 634.6L1253.9 643.4L1254.4 649.4L1254.9 642.6L1255.4 666.6L1255.9 650.6L1256.4 649.0L1256.9 660.4L1257.4 642.4L1257.9 641.5L1258.4 651.9L1258.9 647.2L1259.4 637.6L1259.9 633.4L1260.4 654.8L1260.9 642.3L1261.4 634.5L1261.9 647.1L1262.4 656.0L1262.9 656.2L1263.4 651.3L1263.9 659.8L1264.4 625.0L1264.9 655.1L1265.4 644.4L1265.9 647.0L1266.4 642.0L1266.9 654.1L1267.4 664.9L1267.9 631.4L1268.4 651.5L1268.9 649.5L1269.4 648.9L1269.9 637.0L1270.4 642.9L1270.9 638.6L1271.4 643.0L1271.9 650.9L1272.4 650.1L1272.9 661.8L1273.4 675.8L1273.9 656.7L1274.4 666.5L1274.9 625.0L1275.4 637.1L1275.9 641.8L1276.4 661.8L1276.9 632.3L1277.4 675.7L1277.9 670.3L1278.4 665.8L1278.9 668.1L1279.4 656.0L1279.9 655.6L1280.5 636.4L1281.0 647.2L1281.5 644.9L1282.0 654.4L1282.5 661.2L1283.0 667.6L1283.5 677.3L1284.0 670.4L1284.5 665.2L1285.0 652.5L1285.5 680.7L1286.0 677.4L1286.5 659.7L1287.0 674.4L1287.5 659.1L1288.0 667.9L1288.5 672.1L1289.0 679.0L1289.5 665.3L1290.0 672.8L1290.5 671.8L1291.0 672.5L1291.5 663.5L1292.0 664.3L1292.5 685.6L1293.0 668.4L1293.5 662.5L1294.0 655.6L1294.5 658.8L1295.0 665.6L1295.5 681.1L1296.0 677.3L1296.5 658.7L1297.0 677.2L1297.5 658.1L1298.0 655.7L1298.5 682.2L1299.0 665.7L1299.5 672.2L1300.0 648.6L1300.5 662.3L1301.0 677.7L1301.5 667.8L1302.0 682.9L1302.5 674.7L1303.0 671.1L1303.5 672.1L1304.0 670.7L1304.5 684.6L1305.0 695.5L1305.5 679.2L1306.0 685.5L1306.5 683.7L1307.0 652.6L1307.5 663.8L1308.0 679.0L1308.5 693.3L1309.0 692.2L1309.5 674.2L1310.0 666.7L1310.5 682.1L1311.0 677.8L1311.5 676.9L1312.0 668.3L1312.5 701.2L1313.0 679.2L1313.5 676.8L1314.0 671.2L1314.5 677.7L1315.0 694.5L1315.5 689.2L1316.1 700.0L1316.6 681.5L1317.1 681.9L1317.6 678.8L1318.1 695.4L1318.6 697.7L1319.1 668.9L1319.6 684.0L1320.1 667.3L1320.6 682.0L1321.1 703.1L1321.6 678.8L1322.1 674.5L1322.6 693.3L1323.1 709.7L1323.6 681.9L1324.1 691.1L1324.6 686.9L1325.1 719.6L1325.6 685.8L1326.1 721.0L1326.6 700.9L1327.1 682.3L1327.6 712.1L1328.1 712.9L1328.6 698.0L1329.1 675.6L1329.6 676.4L1330.1 700.8L1330.6 683.8L1331.1 688.8L1331.6 692.6L1332.1 692.0L1332.6 704.0L1333.1 687.9L1333.6 685.5L1334.1 668.3L1334.6 687.9L1335.1 724.5L1335.6 711.4L1336.1 695.3L1336.6 698.5L1337.1 719.6L1337.6 701.5L1338.1 704.2L1338.6 701.3L1339.1 702.4L1339.6 691.6L1340.1 686.2L1340.6 694.9L1341.1 714.4L1341.6 712.1L1342.1 710.3L1342.6 704.2L1343.1 708.5L1343.6 708.0L1344.1 714.4L1344.6 694.8L1345.1 696.2L1345.6 695.5L1346.1 706.8L1346.6 701.4L1347.1 716.3L1347.6 717.7L1348.1 713.0L1348.6 701.4L1349.1 709.5L1349.6 720.3L1350.1 707.5L1350.6 704.4L1351.1 707.4L1351.6 716.5L1352.2 709.1L1352.7 714.6L1353.2 713.9L1353.7 711.7L1354.2 703.1L1354.7 692.2L1355.2 695.3L1355.7 705.4L1356.2 716.5L1356.7 715.9L1357.2 715.7L1357.7 701.1L1358.2 742.6L1358.7 711.1L1359.2 735.0L1359.7 714.5L1360.2 700.9L1360.7 724.6L1361.2 739.3L1361.7 702.1L1362.2 700.2L1362.7 711.1L1363.2 703.5L1363.7 725.3L1364.2 705.0L1364.7 699.8L1365.2 711.1L1365.7 715.2L1366.2 705.0L1366.7 706.9L1367.2 726.8L1367.7 705.1L1368.2 711.8L1368.7 718.2L1369.2 706.6L1369.7 710.8L1370.2 713.0L1370.7 726.3L1371.2 712.7L1371.7 733.1L1372.2 723.2L1372.7 739.7L1373.2 740.1L1373.7 718.2L1374.2 723.9L1374.7 722.4L1375.2 717.5L1375.7 720.3L1376.2 733.3L1376.7 723.7L1377.2 725.4L1377.7 730.4L1378.2 726.6L1378.7 729.3L1379.2 732.5L1379.7 729.6L1380.2 724.0L1380.7 705.5L1381.2 735.4L1381.7 721.9L1382.2 742.5L1382.7 711.5L1383.2 731.5L1383.7 726.9L1384.2 715.6L1384.7 718.8L1385.2 744.5L1385.7 723.8L1386.2 732.1L1386.7 723.7L1387.2 728.7L1387.7 723.0L1388.3 727.9L1388.8 732.5L1389.3 719.4L1389.8 747.4L1390.3 736.3L1390.8 741.9L1391.3 733.9L1391.8 737.1L1392.3 734.5L1392.8 738.2L1393.3 738.3L1393.8 750.5L1394.3 734.4L1394.8 731.2L1395.3 740.6L1395.8 741.5L1396.3 741.6L1396.8 718.4L1397.3 733.7L1397.8 732.0L1398.3 739.2L1398.8 741.5L1399.3 745.6L1399.8 721.4L1400.3 754.4L1400.8 734.5L1401.3 738.0L1401.8 740.6L1402.3 754.1L1402.8 751.0L1403.3 728.9L1403.8 746.0L1404.3 730.5L1404.8 732.9L1405.3 734.0L1405.8 732.5L1406.3 752.5L1406.8 745.4L1407.3 734.1L1407.8 753.8L1408.3 724.7L1408.8 747.3L1409.3 742.6L1409.8 752.4L1410.3 738.8L1410.8 750.0L1411.3 745.4L1411.8 754.6L1412.3 731.6L1412.8 760.0L1413.3 739.5L1413.8 741.8L1414.3 740.1L1414.8 754.9L1415.3 734.7L1415.8 735.6L1416.3 743.9L1416.8 742.6L1417.3 747.5L1417.8 739.8L1418.3 754.6L1418.8 741.2L1419.3 742.9L1419.8 761.2L1420.3 773.5L1420.8 748.9L1421.3 749.6L1421.8 736.2L1422.3 747.9L1422.8 753.6L1423.3 762.4L1423.9 750.1L1424.4 755.2L1424.9 760.5L1425.4 751.1L1425.9 739.7L1426.4 749.5L1426.9 761.0L1427.4 747.6L1427.9 761.9L1428.4 766.9L1428.9 746.7L1429.4 757.2L1429.9 741.1L1430.4 749.2L1430.9 760.4L1431.4 750.6L1431.9 740.3L1432.4 755.1L1432.9 763.9L1433.4 760.2L1433.9 761.9L1434.4 765.7L1434.9 767.0L1435.4 750.5L1435.9 744.0L1436.4 758.6L1436.9 747.6L1437.4 746.6L1437.9 739.3L1438.4 757.8L1438.9 759.6L1439.4 752.3L1439.9 755.7L1440.4 753.9L1440.9 744.4L1441.4 761.5L1441.9 755.4L1442.4 767.3L1442.9 759.5L1443.4 764.7L1443.9 765.7L1444.4 760.7L1444.9 763.1L1445.4 755.4L1445.9 751.4L1446.4 773.9L1446.9 749.9L1447.4 781.4L1447.9 757.7L1448.4 753.4L1448.9 766.8L1449.4 762.9L1449.9 768.4L1450.4 752.4L1450.9 791.9L1451.4 770.9L1451.9 780.4L1452.4 760.1L1452.9 749.6L1453.4 750.8L1453.9 756.1L1454.4 760.3L1454.9 770.3L1455.4 751.4L1455.9 757.3L1456.4 771.6L1456.9 776.0L1457.4 770.0L1457.9 753.7L1458.4 752.3L1458.9 749.0L1459.4 772.2L1460.0 768.4L1460.5 751.9L1461.0 763.2L1461.5 758.2L1462.0 778.4L1462.5 769.4L1463.0 766.3L1463.5 769.7L1464.0 770.5L1464.5 782.3L1465.0 751.3L1465.5 765.7L1466.0 781.2L1466.5 757.2L1467.0 767.0L1467.5 761.0L1468.0 769.8L1468.5 775.6L1469.0 775.6L1469.5 765.2L1470.0 761.3L1470.5 764.2L1471.0 762.9L1471.5 757.8L1472.0 766.7L1472.5 760.0L1473.0 759.2L1473.5 767.1L1474.0 770.8L1474.5 774.4L1475.0 781.8L1475.5 785.4L1476.0 758.3L1476.5 771.1L1477.0 776.3L1477.5 756.4L1478.0 762.3L1478.5 771.1L1479.0 762.3L1479.5 773.8L1480.0 768.8L1480.5 755.1L1481.0 762.5L1481.5 775.2L1482.0 766.3L1482.5 761.8L1483.0 774.3L1483.5 777.3L1484.0 755.8L1484.5 776.4L1485.0 786.2L1485.5 772.6L1486.0 752.5L1486.5 768.3L1487.0 765.3L1487.5 794.8L1488.0 779.7L1488.5 763.3L1489.0 778.6L1489.5 762.6L1490.0 770.6L1490.5 771.5L1491.0 759.6L1491.5 780.2L1492.0 780.1L1492.5 774.8L1493.0 774.0L1493.5 792.1L1494.0 764.8L1494.5 774.4L1495.0 778.2L1495.5 771.0L1496.1 780.7L1496.6 765.9L1497.1 776.8L1497.6 770.8L1498.1 786.0L1498.6 780.5L1499.1 774.6L1499.6 787.0L1500.1 784.6L1500.6 779.1L1501.1 768.4L1501.6 771.9L1502.1 770.7L1502.6 776.5L1503.1 771.1L1503.6 765.3L1504.1 778.3L1504.6 776.0L1505.1 774.8L1505.6 798.9L1506.1 781.5L1506.6 776.8L1507.1 773.9L1507.6 784.0L1508.1 772.2L1508.6 787.3L1509.1 783.2L1509.6 766.2L1510.1 794.4L1510.6 782.9L1511.1 783.7L1511.6 783.3L1512.1 787.6L1512.6 776.9L1513.1 792.9L1513.6 795.4L1514.1 779.0L1514.6 794.6L1515.1 780.3L1515.6 783.8L1516.1 790.4L1516.6 787.5L1517.1 785.4L1517.6 780.5L1518.1 790.7L1518.6 787.0L1519.1 798.4L1519.6 787.9L1520.1 803.2L1520.6 786.2L1521.1 790.1L1521.6 766.9L1522.1 774.5L1522.6 787.9L1523.1 778.0L1523.6 784.2L1524.1 797.5L1524.6 809.4L1525.1 777.2L1525.6 784.0L1526.1 805.6L1526.6 782.1L1527.1 779.7L1527.6 794.5L1528.1 781.2L1528.6 804.3L1529.1 790.7L1529.6 788.6L1530.1 781.9L1530.6 785.6L1531.1 787.3L1531.7 784.5L1532.2 795.6L1532.7 776.4L1533.2 793.1L1533.7 782.9L1534.2 790.3L1534.7 792.7L1535.2 785.3L1535.7 786.7L1536.2 778.7L1536.7 781.3L1537.2 796.4L1537.7 786.8L1538.2 790.6L1538.7 798.9L1539.2 801.8L1539.7 789.7L1540.2 797.0L1540.7 804.8L1541.2 793.3L1541.7 790.6L1542.2 791.8L1542.7 803.8L1543.2 798.3L1543.7 780.8L1544.2 800.3L1544.7 796.4L1545.2 772.8L1545.7 790.6L1546.2 798.5L1546.7 811.6L1547.2 791.4L1547.7 806.9L1548.2 794.8L1548.7 802.5L1549.2 809.9L1549.7 780.1L1550.2 796.1L1550.7 787.0L1551.2 788.8L1551.7 802.2L1552.2 794.9L1552.7 799.1L1553.2 787.3L1553.7 792.3L1554.2 799.5L1554.7 781.5L1555.2 791.9L1555.7 792.6L1556.2 803.9L1556.7 793.4L1557.2 810.3L1557.7 793.2L1558.2 805.8L1558.7 795.9L1559.2 800.2L1559.7 795.8L1560.2 794.8L1560.7 798.7L1561.2 798.8L1561.7 811.7L1562.2 815.5L1562.7 787.4L1563.2 793.7L1563.7 812.2L1564.2 782.0L1564.7 805.6L1565.2 794.8L1565.7 795.7L1566.2 798.7L1566.7 794.3L1567.2 812.2L1567.8 800.4L1568.3 802.4L1568.8 799.5L1569.3 802.9L1569.8 806.3L1570.3 807.2L1570.8 793.0L1571.3 808.5L1571.8 797.9L1572.3 798.1L1572.8 802.2L1573.3 797.7L1573.8 796.8L1574.3 806.5L1574.8 798.9L1575.3 785.1L1575.8 811.6L1576.3 804.9L1576.8 809.2L1577.3 784.9L1577.8 815.1L1578.3 802.7L1578.8 794.7L1579.3 810.7L1579.8 804.4L1580.3 809.6L1580.8 815.3L1581.3 804.2L1581.8 799.3L1582.3 807.3L1582.8 802.5L1583.3 798.0L1583.8 793.6L1584.3 815.2L1584.8 799.0L1585.3 810.0L1585.8 821.3L1586.3 811.7L1586.8 799.3L1587.3 802.4L1587.8 814.9L1588.3 791.2L1588.8 801.9L1589.3 806.2L1589.8 810.5L1590.3 802.1L1590.8 809.4L1591.3 796.1L1591.8 803.4L1592.3 800.9L1592.8 809.1L1593.3 819.5L1593.8 802.1L1594.3 815.7L1594.8 807.9L1595.3 807.2L1595.8 814.0L1596.3 799.5L1596.8 819.9L1597.3 794.5L1597.8 812.8L1598.3 799.4L1598.8 796.6L1599.3 815.6L1599.8 814.6L1600.3 800.1L1600.8 806.8L1601.3 807.8L1601.8 824.6L1602.3 823.1L1602.8 804.2L1603.3 796.5L1603.9 815.3L1604.4 816.8L1604.9 807.6L1605.4 805.5L1605.9 804.7L1606.4 813.6L1606.9 826.7L1607.4 797.3L1607.9 814.4L1608.4 799.3L1608.9 827.6L1609.4 807.3L1609.9 814.9L1610.4 820.1L1610.9 802.4L1611.4 799.8L1611.9 816.1L1612.4 805.6L1612.9 820.6L1613.4 816.8L1613.9 813.7L1614.4 814.7L1614.9 806.3L1615.4 822.3L1615.9 803.7L1616.4 803.8L1616.9 814.1L1617.4 822.6L1617.9 833.0L1618.4 813.2L1618.9 818.9L1619.4 812.0L1619.9 822.1L1620.4 813.1L1620.9 813.8L1621.4 813.2L1621.9 811.0L1622.4 811.1L1622.9 805.4L1623.4 820.5L1623.9 807.8L1624.4 812.7L1624.9 817.7L1625.4 822.8L1625.9 801.9L1626.4 812.5L1626.9 819.1L1627.4 814.1L1627.9 814.8L1628.4 819.5L1628.9 826.9L1629.4 813.9L1629.9 816.7L1630.4 817.9L1630.9 807.2L1631.4 826.9L1631.9 823.9L1632.4 814.6L1632.9 809.0L1633.4 811.0L1633.9 810.1L1634.4 835.1L1634.9 812.3L1635.4 813.1L1635.9 811.0L1636.4 822.7L1636.9 812.7L1637.4 808.6L1637.9 803.6L1638.4 815.2L1638.9 828.7L1639.5 817.1L1640.0 812.2L1640.5 813.5L1641.0 801.7L1641.5 819.7L1642.0 826.8L1642.5 823.6L1643.0 812.8L1643.5 825.3L1644.0 827.4L1644.5 825.8L1645.0 808.7L1645.5 817.0L1646.0 821.9L1646.5 812.0L1647.0 813.5L1647.5 827.6L1648.0 812.6L1648.5 817.6L1649.0 837.1L1649.5 829.9L1650.0 817.8L1650.5 816.0L1651.0 822.7L1651.5 828.7L1652.0 818.4L1652.5 835.9L1653.0 816.0L1653.5 822.1L1654.0 821.1L1654.5 826.5L1655.0 814.2L1655.5 840.8L1656.0 828.6L1656.5 816.6L1657.0 827.5L1657.5 809.5L1658.0 818.3L1658.5 828.3L1659.0 812.7L1659.5 822.9L1660.0 817.3L1660.5 827.5L1661.0 827.4L1661.5 816.6L1662.0 821.8L1662.5 829.0L1663.0 830.2L1663.5 817.5L1664.0 808.4L1664.5 830.1L1665.0 817.6L1665.5 847.6L1666.0 835.0L1666.5 817.9L1667.0 810.4L1667.5 823.3L1668.0 819.3L1668.5 821.8L1669.0 815.7L1669.5 833.2L1670.0 819.0L1670.5 828.0L1671.0 827.4L1671.5 824.7L1672.0 826.5L1672.5 831.3L1673.0 827.1L1673.5 833.0L1674.0 812.9L1674.5 819.5L1675.0 828.9L1675.6 812.4L1676.1 815.0L1676.6 821.7L1677.1 830.3L1677.6 823.9L1678.1 821.4L1678.6 814.7L1679.1 827.8L1679.6 831.1L1680.1 807.6L1680.6 815.2L1681.1 824.2L1681.6 834.5L1682.1 823.0L1682.6 817.9L1683.1 821.0L1683.6 820.5L1684.1 827.1L1684.6 818.2L1685.1 832.6L1685.6 831.4L1686.1 832.0L1686.6 833.3L1687.1 812.1L1687.6 842.2L1688.1 826.4L1688.6 836.6L1689.1 838.8L1689.6 827.9L1690.1 841.7L1690.6 829.7L1691.1 810.2L1691.6 830.1L1692.1 825.5L1692.6 836.4L1693.1 825.5L1693.6 841.9L1694.1 828.2L1694.6 830.9L1695.1 812.2L1695.6 830.8L1696.1 833.2L1696.6 835.0L1697.1 840.4L1697.6 824.3L1698.1 818.8L1698.6 833.9L1699.1 825.1L1699.6 834.0L1700.1 827.9L1700.6 827.6L1701.1 843.2L1701.6 837.9L1702.1 824.0L1702.6 847.4L1703.1 831.8L1703.6 834.8L1704.1 839.7L1704.6 831.8L1705.1 829.8L1705.6 828.0L1706.1 854.1L1706.6 818.9L1707.1 836.7L1707.6 824.3L1708.1 834.0L1708.6 837.9L1709.1 833.7L1709.6 807.3L1710.1 820.6L1710.6 836.4L1711.1 831.8L1711.7 824.5L1712.2 829.1L1712.7 833.3L1713.2 835.6L1713.7 843.0L1714.2 828.1L1714.7 825.3L1715.2 816.2L1715.7 839.1L1716.2 829.4L1716.7 835.1L1717.2 824.6L1717.7 835.8L1718.2 840.4L1718.7 849.0L1719.2 829.5L1719.7 834.1L1720.2 826.3L1720.7 840.1L1721.2 814.5L1721.7 841.6L1722.2 831.7L1722.7 832.6L1723.2 827.1L1723.7 837.6L1724.2 843.8L1724.7 844.5L1725.2 829.9L1725.7 835.8L1726.2 833.9L1726.7 843.5L1727.2 835.8L1727.7 835.3L1728.2 832.1L1728.7 849.2L1729.2 843.6L1729.7 823.4L1730.2 840.7L1730.7 838.3L1731.2 841.0L1731.7 850.0L1732.2 846.7L1732.7 835.0L1733.2 843.6L1733.7 821.8L1734.2 850.5L1734.7 854.2L1735.2 841.7L1735.7 848.4L1736.2 827.5L1736.7 842.3L1737.2 834.7L1737.7 850.5L1738.2 833.7L1738.7 834.0L1739.2 829.3L1739.7 837.6L1740.2 835.3L1740.7 838.3L1741.2 832.2L1741.7 843.2L1742.2 835.5L1742.7 844.6L1743.2 834.4L1743.7 842.4L1744.2 845.5L1744.7 845.9L1745.2 828.6L1745.7 853.2L1746.2 852.6L1746.7 835.6L1747.3 848.9L1747.8 844.7L1748.3 845.0L1748.8 822.7L1749.3 846.6L1749.8 847.1L1750.3 844.5L1750.8 839.6L1751.3 837.5L1751.8 853.5L1752.3 838.2L1752.8 826.1L1753.3 856.3L1753.8 837.4L1754.3 835.9L1754.8 840.9L1755.3 843.8L1755.8 861.3L1756.3 832.8L1756.8 845.1L1757.3 844.3L1757.8 832.9L1758.3 861.6L1758.8 843.4L1759.3 838.2L1759.8 837.3L1760.3 838.3L1760.8 826.9L1761.3 841.1L1761.8 835.3L1762.3 837.3L1762.8 855.4L1763.3 849.8L1763.8 827.1L1764.3 846.0L1764.8 844.5L1765.3 854.5L1765.8 846.8L1766.3 854.7L1766.8 849.1L1767.3 839.9L1767.8 851.1L1768.3 849.4L1768.8 833.9L1769.3 840.9L1769.8 840.7L1770.3 836.9L1770.8 849.4L1771.3 848.2L1771.8 861.6L1772.3 839.4L1772.8 847.0L1773.3 845.4L1773.8 854.2L1774.3 840.6L1774.8 840.7L1775.3 844.3L1775.8 858.5L1776.3 852.6L1776.8 846.3L1777.3 852.7L1777.8 843.1L1778.3 838.3L1778.8 852.3L1779.3 847.9L1779.8 852.0L1780.3 838.4L1780.8 839.6L1781.3 825.6L1781.8 846.8L1782.3 854.3L1782.8 843.8L1783.4 849.0L1783.9 845.7L1784.4 837.4L1784.9 849.6L1785.4 841.7L1785.9 864.3L1786.4 839.2L1786.9 846.6L1787.4 849.7L1787.9 851.8L1788.4 836.7L1788.9 852.0L1789.4 838.1L1789.9 852.2L1790.4 847.9L1790.9 845.5L1791.4 832.4L1791.9 846.5L1792.4 846.7L1792.9 849.2L1793.4 851.1L1793.9 853.6L1794.4 834.6L1794.9 837.4L1795.4 854.5L1795.9 847.9L1796.4 858.5L1796.9 841.9L1797.4 844.0L1797.9 848.6L1798.4 855.9L1798.9 843.6L1799.4 844.9L1799.9 851.2L1800.4 844.1L1800.9 860.5L1801.4 854.8L1801.9 857.6L1802.4 849.3L1802.9 837.2L1803.4 850.0L1803.9 841.6L1804.4 850.8L1804.9 853.9L1805.4 842.8L1805.9 846.6L1806.4 839.8L1806.9 843.4L1807.4 857.5L1807.9 871.2L1808.4 850.2L1808.9 860.6L1809.4 862.5L1809.9 863.2L1810.4 856.7L1810.9 853.3L1811.4 851.8L1811.9 835.9L1812.4 861.5L1812.9 852.2L1813.4 861.9L1813.9 860.1L1814.4 851.8L1814.9 849.2L1815.4 862.6L1815.9 843.7L1816.4 860.0L1816.9 845.3L1817.4 853.3L1817.9 845.9L1818.4 848.7L1818.9 855.4L1819.5 849.5L1820.0 863.8L1820.5 863.6L1821.0 856.3L1821.5 842.9L1822.0 859.5L1822.5 858.4L1823.0 840.9L1823.5 853.6L1824.0 854.0L1824.5 862.3L1825.0 853.8L1825.5 849.7L1826.0 854.8L1826.5 848.6L1827.0 852.0L1827.5 846.5L1828.0 848.4L1828.5 855.9L1829.0 848.2L1829.5 841.1L1830.0 852.8L1830.5 864.7L1831.0 853.8L1831.5 856.9L1832.0 835.4L1832.5 849.8L1833.0 864.3L1833.5 857.2L1834.0 844.6L1834.5 865.0L1835.0 859.9L1835.5 856.2L1836.0 857.4L1836.5 861.0L1837.0 855.5L1837.5 867.5L1838.0 861.1L1838.5 861.4L1839.0 859.2L1839.5 859.3L1840.0 857.1L1840.5 859.9L1841.0 860.5L1841.5 854.6L1842.0 850.6L1842.5 850.2L1843.0 866.5L1843.5 855.9L1844.0 852.1L1844.5 860.0L1845.0 854.5L1845.5 859.8L1846.0 855.4L1846.5 870.0L1847.0 854.9L1847.5 862.2L1848.0 864.3L1848.5 861.0L1849.0 851.3L1849.5 851.7L1850.0 857.1L1850.5 852.5L1851.0 862.3L1851.5 868.8L1852.0 873.7L1852.5 859.7L1853.0 860.7L1853.5 859.4L1854.0 859.3L1854.5 850.6L1855.1 867.0L1855.6 866.0L1856.1 845.5L1856.6 854.4L1857.1 862.7L1857.6 876.0L1858.1 867.0L1858.6 863.4L1859.1 861.4L1859.6 859.4L1860.1 862.7L1860.6 852.3L1861.1 870.2L1861.6 863.4L1862.1 866.5L1862.6 855.5L1863.1 860.2L1863.6 855.6L1864.1 861.1L1864.6 833.3L1865.1 856.4L1865.6 867.7L1866.1 862.1L1866.6 865.2L1867.1 856.5L1867.6 855.0L1868.1 859.5L1868.6 863.9L1869.1 867.7L1869.6 850.5L1870.1 854.3L1870.6 885.0L1871.1 862.4L1871.6 869.4L1872.1 865.9L1872.6 850.4L1873.1 871.8L1873.6 871.2L1874.1 844.9L1874.6 867.1L1875.1 865.3L1875.6 855.0L1876.1 867.6L1876.6 863.5L1877.1 862.0L1877.6 853.3L1878.1 876.2L1878.6 870.4L1879.1 865.2L1879.6 857.4L1880.1 869.2L1880.6 861.0L1881.1 868.4L1881.6 867.6L1882.1 855.1L1882.6 866.5L1883.1 842.6L1883.6 862.2L1884.1 856.6L1884.6 859.5L1885.1 876.9L1885.6 876.9L1886.1 861.7L1886.6 873.8L1887.1 869.7L1887.6 868.1L1888.1 872.6L1888.6 856.9L1889.1 860.0L1889.6 864.6L1890.1 861.8L1890.6 872.9L1891.2 859.6L1891.7 872.7L1892.2 854.7L1892.7 871.4L1893.2 870.7L1893.7 857.9L1894.2 861.8L1894.7 873.9L1895.2 862.3L1895.7 866.9L1896.2 866.9L1896.7 862.4L1897.2 862.5L1897.7 859.6L1898.2 863.7L1898.7 864.9L1899.2 868.2L1899.7 856.4L1900.2 873.4L1900.7 853.4L1901.2 851.5L1901.7 851.6L1902.2 868.9L1902.7 852.3L1903.2 859.5L1903.7 860.1L1904.2 843.6L1904.7 866.8L1905.2 864.0L1905.7 877.7L1906.2 885.0L1906.7 866.4L1907.2 865.4L1907.7 863.4L1908.2 866.5L1908.7 883.6L1909.2 866.1L1909.7 860.6L1910.2 857.3L1910.7 876.1L1911.2 875.8L1911.7 874.4L1912.2 874.1L1912.7 881.4L1913.2 874.6L1913.7 857.8L1914.2 877.5L1914.7 883.6L1915.2 871.8L1915.7 873.6L1916.2 864.9L1916.7 875.5L1917.2 871.4L1917.7 876.4L1918.2 877.4L1918.7 867.6L1919.2 869.5L1919.7 870.9L1920.2 866.7L1920.7 876.7L1921.2 870.5L1921.7 869.2L1922.2 862.1L1922.7 884.9L1923.2 873.5L1923.7 867.7L1924.2 875.4L1924.7 870.5L1925.2 866.2L1925.7 867.8L1926.2 884.1L1926.7 880.3L1927.3 892.3L1927.8 866.7L1928.3 870.1L1928.8 861.8L1929.3 871.4L1929.8 880.3L1930.3 864.0L1930.8 881.7L1931.3 872.1L1931.8 873.6L1932.3 866.4L1932.8 865.5L1933.3 875.4L1933.8 877.8L1934.3 872.8L1934.8 876.8L1935.3 865.6L1935.8 869.8L1936.3 862.4L1936.8 853.5L1937.3 879.2L1937.8 877.3L1938.3 869.4L1938.8 870.1L1939.3 875.6L1939.8 885.8L1940.3 854.5L1940.8 872.6L1941.3 881.9L1941.8 891.1L1942.3 863.2L1942.8 871.1L1943.3 873.6L1943.8 881.3L1944.3 874.5L1944.8 876.6L1945.3 892.2L1945.8 854.2L1946.3 870.7L1946.8 876.6L1947.3 881.2L1947.8 878.6L1948.3 856.4L1948.8 871.4L1949.3 884.2L1949.8 867.9L1950.3 870.8L1950.8 870.7L1951.3 875.6L1951.8 875.9L1952.3 873.2L1952.8 876.4L1953.3 885.2L1953.8 882.3L1954.3 874.9L1954.8 886.8L1955.3 876.1L1955.8 877.5L1956.3 869.9L1956.8 874.1L1957.3 877.6L1957.8 877.6L1958.3 872.3L1958.8 868.7L1959.3 883.5L1959.8 886.9L1960.3 881.2L1960.8 892.7L1961.3 881.6L1961.8 869.8L1962.3 868.8L1962.9 864.8L1963.4 875.6L1963.9 875.0L1964.4 880.6L1964.9 880.1L1965.4 874.3L1965.9 869.8L1966.4 873.4L1966.9 891.4L1967.4 873.0L1967.9 876.7L1968.4 881.1L1968.9 875.8L1969.4 870.3L1969.9 875.9L1970.4 882.3L1970.9 852.6L1971.4 881.8L1971.9 873.8L1972.4 868.1L1972.9 883.6L1973.4 873.4L1973.9 883.6L1974.4 879.5L1974.9 883.1L1975.4 864.8L1975.9 887.7L1976.4 874.0L1976.9 877.6L1977.4 892.3L1977.9 865.3L1978.4 882.2L1978.9 880.0L1979.4 876.6L1979.9 884.8L1980.4 883.9L1980.9 878.6L1981.4 884.8L1981.9 877.7L1982.4 869.3L1982.9 885.9L1983.4 890.1L1983.9 879.7L1984.4 875.8L1984.9 874.0L1985.4 886.8L1985.9 896.0L1986.4 872.6L1986.9 873.9L1987.4 868.2L1987.9 886.2L1988.4 875.2L1988.9 872.0L1989.4 892.7L1989.9 871.8L1990.4 869.2L1990.9 875.4L1991.4 875.7L1991.9 874.3L1992.4 881.6L1992.9 890.2L1993.4 886.5L1993.9 881.2L1994.4 886.1L1994.9 872.7L1995.4 883.0L1995.9 881.0L1996.4 893.0L1996.9 877.4L1997.4 885.4L1997.9 869.6L1998.4 892.9L1999.0 878.2L1999.5 883.5L2000.0 883.3L2000.5 868.5L2001.0 873.9L2001.5 887.0L2002.0 870.9L2002.5 885.6L2003.0 875.3L2003.5 893.5L2004.0 883.5L2004.5 883.3L2005.0 883.6L2005.5 892.7L2006.0 895.0L2006.5 881.6L2007.0 877.2L2007.5 881.3L2008.0 884.1L2008.5 892.5L2009.0 883.7L2009.5 885.8L2010.0 887.0L2010.5 880.7L2011.0 880.8L2011.5 879.2L2012.0 884.0L2012.5 888.1L2013.0 883.7L2013.5 884.5L2014.0 894.1L2014.5 884.9L2015.0 894.3L2015.5 896.6L2016.0 888.5L2016.5 887.3L2017.0 877.9L2017.5 885.1L2018.0 879.2L2018.5 872.8L2019.0 882.2L2019.5 880.4L2020.0 888.1L2020.5 877.4L2021.0 882.9L2021.5 882.9L2022.0 891.4L2022.5 890.1L2023.0 888.3L2023.5 882.9L2024.0 876.0L2024.5 894.5L2025.0 886.4L2025.5 886.1L2026.0 867.9L2026.5 885.5L2027.0 887.9L2027.5 878.9L2028.0 892.1L2028.5 880.5L2029.0 896.2L2029.5 870.2L2030.0 884.8L2030.5 887.6L2031.0 893.9L2031.5 885.8L2032.0 884.2L2032.5 890.0L2033.0 876.5L2033.5 887.3L2034.0 884.4L2034.5 883.1L2035.1 875.6L2035.6 887.9L2036.1 884.8L2036.6 883.3L2037.1 881.1L2037.6 898.4L2038.1 877.5L2038.6 886.5L2039.1 890.7L2039.6 886.0L2040.1 899.3L2040.6 891.3L2041.1 884.6L2041.6 876.5L2042.1 886.6L2042.6 883.3L2043.1 888.2L2043.6 880.2L2044.1 889.1L2044.6 883.2L2045.1 888.8L2045.6 893.3L2046.1 893.5L2046.6 891.2L2047.1 878.6L2047.6 864.4L2048.1 888.2L2048.6 892.1L2049.1 883.2L2049.6 883.6L2050.1 890.8L2050.6 873.7L2051.1 881.1L2051.6 880.7L2052.1 886.9L2052.6 886.5L2053.1 880.7L2053.6 897.2L2054.1 893.2L2054.6 887.0L2055.1 897.9L2055.6 876.3L2056.1 892.2L2056.6 890.9L2057.1 885.7L2057.6 877.5L2058.1 888.4L2058.6 893.5L2059.1 894.7L2059.6 886.7L2060.1 892.4L2060.6 871.9L2061.1 879.8L2061.6 910.6L2062.1 895.1L2062.6 886.3L2063.1 872.7L2063.6 902.9L2064.1 892.0L2064.6 880.6L2065.1 893.9L2065.6 888.6L2066.1 892.7L2066.6 884.6L2067.1 896.9L2067.6 889.2L2068.1 899.5L2068.6 882.8L2069.1 885.4L2069.6 889.9L2070.1 889.5L2070.7 889.6L2071.2 892.4L2071.7 888.9L2072.2 887.5L2072.7 890.6L2073.2 894.3L2073.7 893.0L2074.2 893.4L2074.7 887.2L2075.2 889.4L2075.7 876.9L2076.2 891.7L2076.7 890.1L2077.2 895.0L2077.7 890.1L2078.2 893.9L2078.7 896.8L2079.2 889.9L2079.7 880.1L2080.2 897.0L2080.7 895.6L2081.2 891.5L2081.7 889.6L2082.2 882.4L2082.7 895.9L2083.2 892.5L2083.7 897.1L2084.2 897.7L2084.7 895.0L2085.2 899.5L2085.7 888.8L2086.2 884.8L2086.7 895.6L2087.2 897.0L2087.7 883.2L2088.2 893.8L2088.7 882.2L2089.2 912.3L2089.7 893.7L2090.2 899.6L2090.7 896.3L2091.2 887.2L2091.7 885.4L2092.2 894.1L2092.7 886.5L2093.2 900.7L2093.7 891.2L2094.2 894.2L2094.7 904.8L2095.2 887.1L2095.7 897.9L2096.2 890.5L2096.7 898.7L2097.2 892.3L2097.7 889.4L2098.2 893.7L2098.7 897.0L2099.2 889.7L2099.7 892.4L2100.2 896.8L2100.7 893.7L2101.2 894.6L2101.7 896.4L2102.2 888.0L2102.7 882.4L2103.2 897.7L2103.7 895.1L2104.2 900.8L2104.7 903.5L2105.2 886.8L2105.7 899.1L2106.2 892.3L2106.8 903.9L2107.3 899.1L2107.8 891.6L2108.3 891.7L2108.8 893.4L2109.3 892.2L2109.8 893.6L2110.3 888.3L2110.8 883.7L2111.3 891.4L2111.8 896.1L2112.3 902.3L2112.8 898.7L2113.3 897.7L2113.8 885.8L2114.3 906.1L2114.8 901.1L2115.3 902.7L2115.8 890.0L2116.3 900.6L2116.8 908.3L2117.3 909.9L2117.8 894.0L2118.3 907.2L2118.8 888.8L2119.3 889.1L2119.8 904.0L2120.3 898.7L2120.8 896.4L2121.3 906.7L2121.8 905.0L2122.3 901.0L2122.8 897.0L2123.3 895.0L2123.8 909.6L2124.3 895.4L2124.8 897.8L2125.3 898.9L2125.8 900.3L2126.3 890.3L2126.8 886.8L2127.3 900.4L2127.8 898.6L2128.3 908.2L2128.8 900.3L2129.3 893.0L2129.8 898.3L2130.3 895.3L2130.8 898.5L2131.3 897.1L2131.8 893.4L2132.3 892.7L2132.8 911.0L2133.3 899.4L2133.8 917.5L2134.3 897.9L2134.8 901.7L2135.3 902.1L2135.8 887.7L2136.3 895.8L2136.8 890.7L2137.3 894.1L2137.8 887.0L2138.3 900.0L2138.8 900.1L2139.3 899.1L2139.8 882.1L2140.3 901.4L2140.8 898.4L2141.3 889.4L2141.8 892.5L2142.3 902.0L2142.9 887.1L2143.4 895.6L2143.9 889.2L2144.4 894.9L2144.9 893.8L2145.4 904.0L2145.9 889.6L2146.4 903.8L2146.9 898.7L2147.4 892.0L2147.9 901.5L2148.4 898.5L2148.9 899.3L2149.4 898.4L2149.9 895.6L2150.4 909.5L2150.9 903.1L2151.4 885.9L2151.9 912.7L2152.4 904.0L2152.9 894.5L2153.4 912.1L2153.9 905.6L2154.4 905.3L2154.9 889.6L2155.4 905.8L2155.9 895.9L2156.4 904.3L2156.9 900.1L2157.4 907.8L2157.9 910.1L2158.4 903.5L2158.9 909.5L2159.4 901.6L2159.9 899.7L2160.4 897.8L2160.9 890.5L2161.4 891.2L2161.9 908.0L2162.4 905.7L2162.9 889.6L2163.4 901.2L2163.9 903.4L2164.4 893.8L2164.9 905.1L2165.4 894.9L2165.9 903.1L2166.4 892.6L2166.9 902.1L2167.4 895.8L2167.9 894.3L2168.4 890.6L2168.9 906.6L2169.4 904.0L2169.9 910.8L2170.4 912.9L2170.9 904.8L2171.4 900.6L2171.9 893.4L2172.4 904.5L2172.9 889.1L2173.4 900.6L2173.9 896.0L2174.4 903.6L2174.9 910.2L2175.4 891.6L2175.9 904.0L2176.4 894.8L2176.9 904.6L2177.4 898.3L2177.9 903.3L2178.5 904.6L2179.0 903.3L2179.5 897.9L2180.0 910.4L2180.5 908.9L2181.0 896.1L2181.5 907.4L2182.0 901.4L2182.5 911.6L2183.0 904.2L2183.5 895.6L2184.0 902.3L2184.5 901.5L2185.0 905.5L2185.5 902.3L2186.0 914.7L2186.5 913.8L2187.0 900.5L2187.5 914.8L2188.0 894.7L2188.5 897.7L2189.0 911.2L2189.5 917.7L2190.0 919.3L2190.5 901.5L2191.0 904.2L2191.5 894.8L2192.0 900.6L2192.5 893.5L2193.0 898.0L2193.5 910.0L2194.0 905.0L2194.5 909.4L2195.0 906.0L2195.5 907.4L2196.0 905.6L2196.5 895.2L2197.0 907.7L2197.5 912.0L2198.0 908.4L2198.5 907.4L2199.0 908.1L2199.5 905.5L2200.0 907.2L2200.5 897.2L2201.0 898.5L2201.5 909.5L2202.0 898.1L2202.5 895.4L2203.0 904.6L2203.5 910.1L2204.0 901.8L2204.5 905.2L2205.0 902.6L2205.5 911.7L2206.0 891.2L2206.5 906.1L2207.0 901.4L2207.5 908.8L2208.0 904.0L2208.5 919.9L2209.0 913.5L2209.5 921.2L2210.0 898.7L2210.5 914.2L2211.0 915.3L2211.5 897.9L2212.0 908.4L2212.5 906.3L2213.0 898.3L2213.5 902.1L2214.0 903.3L2214.6 901.1L2215.1 918.1L2215.6 897.1L2216.1 896.9L2216.6 893.5L2217.1 919.2L2217.6 911.1L2218.1 909.3L2218.6 894.6L2219.1 902.0L2219.6 894.2L2220.1 902.9L2220.6 910.0L2221.1 914.3L2221.6 909.6L2222.1 896.9L2222.6 911.5L2223.1 917.6L2223.6 904.2L2224.1 897.2L2224.6 890.3L2225.1 898.1L2225.6 899.9L2226.1 917.8L2226.6 908.7L2227.1 908.8L2227.6 905.5L2228.1 912.4L2228.6 901.3L2229.1 898.4L2229.6 905.8L2230.1 908.5L2230.6 905.4L2231.1 904.2L2231.6 901.6L2232.1 912.4L2232.6 897.5L2233.1 906.6L2233.6 908.0L2234.1 902.5L2234.6 911.5L2235.1 901.4L2235.6 893.2L2236.1 904.3L2236.6 905.9L2237.1 910.3L2237.6 897.6L2238.1 900.0L2238.6 917.1L2239.1 901.1L2239.6 911.8L2240.1 915.1L2240.6 908.0L2241.1 911.9L2241.6 900.2L2242.1 915.9L2242.6 916.1L2243.1 913.9L2243.6 908.8L2244.1 904.1L2244.6 915.0L2245.1 912.6L2245.6 918.1L2246.1 909.3L2246.6 914.7L2247.1 894.2L2247.6 895.8L2248.1 914.2L2248.6 907.4L2249.1 905.6L2249.6 911.9L2250.1 910.9L2250.7 904.3L2251.2 910.2L2251.7 910.5L2252.2 908.8L2252.7 900.7L2253.2 910.3L2253.7 906.2L2254.2 907.2L2254.7 904.2L2255.2 910.1L2255.7 912.0L2256.2 913.3L2256.7 907.4L2257.2 908.1L2257.7 910.6L2258.2 907.6L2258.7 893.9L2259.2 904.1L2259.7 920.9L2260.2 900.9L2260.7 908.3L2261.2 915.8L2261.7 900.7L2262.2 909.8L2262.7 902.9L2263.2 913.3L2263.7 902.7L2264.2 911.3L2264.7 903.4L2265.2 904.3L2265.7 917.0L2266.2 907.3L2266.7 906.7L2267.2 910.1L2267.7 921.1L2268.2 908.0L2268.7 911.9L2269.2 902.2L2269.7 916.7L2270.2 903.7L2270.7 909.1L2271.2 893.8L2271.7 916.5L2272.2 904.0L2272.7 913.6L2273.2 916.2L2273.7 903.4L2274.2 906.4L2274.7 903.6L2275.2 920.6L2275.7 918.0L2276.2 906.7L2276.7 915.8L2277.2 902.1L2277.7 899.9L2278.2 911.3L2278.7 910.4L2279.2 910.4L2279.7 912.5L2280.2 910.9L2280.7 912.2L2281.2 908.0L2281.7 912.9L2282.2 914.1L2282.7 912.7L2283.2 914.8L2283.7 911.4L2284.2 907.5L2284.7 897.9L2285.2 921.4L2285.7 919.8L2286.3 911.5L2286.8 910.9L2287.3 911.5L2287.8 899.3L2288.3 922.8L2288.8 912.3L2289.3 919.4L2289.8 913.3L2290.3 908.1L2290.8 920.6L2291.3 905.0L2291.8 916.9L2292.3 918.2L2292.8 922.0L2293.3 916.0L2293.8 916.3L2294.3 906.4L2294.8 921.6L2295.3 910.4L2295.8 906.5L2296.3 913.4L2296.8 907.0L2297.3 916.3L2297.8 909.3L2298.3 914.1L2298.8 898.4L2299.3 913.8L2299.8 914.0L2300.3 909.6L2300.8 915.5L2301.3 913.4L2301.8 910.1L2302.3 906.7L2302.8 916.1L2303.3 911.9L2303.8 913.4L2304.3 908.0L2304.8 907.3L2305.3 909.9L2305.8 910.8L2306.3 901.2L2306.8 918.1L2307.3 902.3L2307.8 909.3L2308.3 922.3L2308.8 911.9L2309.3 921.7L2309.8 913.6L2310.3 925.6L2310.8 908.3L2311.3 917.9L2311.8 902.5L2312.3 917.5L2312.8 912.6L2313.3 921.6L2313.8 913.9L2314.3 912.8L2314.8 909.9L2315.3 897.6L2315.8 902.8L2316.3 908.3L2316.8 915.3L2317.3 915.0L2317.8 915.2L2318.3 918.7L2318.8 909.1L2319.3 913.7L2319.8 910.1L2320.3 915.0L2320.8 911.1L2321.3 902.4L2321.8 911.3L2322.4 907.7L2322.9 918.8L2323.4 914.4L2323.9 915.9L2324.4 910.4L2324.9 911.7L2325.4 917.8L2325.9 911.4L2326.4 912.8L2326.9 923.4L2327.4 913.8L2327.9 906.2L2328.4 919.2L2328.9 906.8L2329.4 909.3L2329.9 912.6L2330.4 910.9L2330.9 918.7L2331.4 909.3L2331.9 922.6L2332.4 920.8L2332.9 910.4L2333.4 920.7L2333.9 901.3L2334.4 911.8L2334.9 908.2L2335.4 907.8L2335.9 916.4L2336.4 913.8L2336.9 911.0L2337.4 914.0L2337.9 904.2L2338.4 907.6L2338.9 912.7L2339.4 906.2L2339.9 913.7L2340.4 909.3L2340.9 913.2L2341.4 915.9L2341.9 920.1L2342.4 918.8L2342.9 914.0L2343.4 911.7L2343.9 927.7L2344.4 917.1L2344.9 910.9L2345.4 915.6L2345.9 921.5L2346.4 921.0L2346.9 904.3L2347.4 924.7L2347.9 916.9L2348.4 909.8L2348.9 927.4L2349.4 910.8L2349.9 924.7L2350.4 908.8L2350.9 898.5L2351.4 922.9L2351.9 915.6L2352.4 912.9L2352.9 918.8L2353.4 911.9L2353.9 919.7L2354.4 918.8L2354.9 920.4L2355.4 915.7L2355.9 912.5L2356.4 909.4L2356.9 916.2L2357.4 922.2L2357.9 918.6L2358.5 918.8L2359.0 918.1L2359.5 912.1L2360.0 916.6L2360.5 915.2L2361.0 915.5L2361.5 916.4L2362.0 918.8L2362.5 911.4L2363.0 916.5L2363.5 916.7L2364.0 923.0L2364.5 920.4L2365.0 919.8L2365.5 912.6L2366.0 927.1L2366.5 911.7L2367.0 915.5L2367.5 920.7L2368.0 921.7L2368.5 913.3L2369.0 915.1L2369.5 928.8L2370.0 920.8L2370.5 922.2L2371.0 917.0L2371.5 920.6L2372.0 913.8L2372.5 919.9L2373.0 918.4L2373.5 909.1L2374.0 918.3L2374.5 919.9L2375.0 916.6L2375.5 924.9L2376.0 926.8"/>
<path stroke="#00FF00" d="M218.0 -200.0L218.5 -200.0L219.0 -200.0L219.5 -200.0L220.0 -200.0L220.5 -200.0L221.0 -200.0L221.5 -200.0L222.0 -200.0L222.5 -200.0L223.0 -200.0L223.5 -200.0L224.0 -200.0L224.5 -191.4L225.0 -198.1L225.5 -168.3L226.0 -163.9L226.5 -123.7L227.0 -122.3L227.5 -86.3L228.0 -105.7L228.5 -77.9L229.0 -66.3L229.5 -53.6L230.0 -12.0L230.5 -32.6L231.0 -42.8L231.5 41.5L232.0 57.3L232.5 67.3L233.0 38.4L233.5 66.7L234.0 64.5L234.5 86.3L235.0 110.7L235.5 124.5L236.0 147.5L236.5 143.9L237.0 193.1L237.5 194.7L238.1 197.1L238.6 184.5L239.1 241.2L239.6 259.4L240.1 263.2L240.6 249.8L241.1 280.5L241.6 265.9L242.1 327.5L242.6 289.3L243.1 300.5L243.6 348.7L244.1 333.4L244.6 326.4L245.1 353.7L245.6 349.8L246.1 339.0L246.6 380.3L247.1 397.1L247.6 411.6L248.1 396.0L248.6 413.2L249.1 418.3L249.6 423.8L250.1 420.5L250.6 453.6L251.1 468.9L251.6 490.5L252.1 447.9L252.6 472.1L253.1 459.8L253.6 487.6L254.1 503.7L254.6 492.7L255.1 505.9L255.6 527.1L256.1 527.2L256.6 496.6L257.1 520.1L257.6 523.8L258.1 537.2L258.6 546.6L259.1 529.7L259.6 546.3L260.1 558.3L260.6 553.6L261.1 566.8L261.6 555.9L262.1 546.9L262.6 575.1L263.1 549.1L263.6 578.6L264.1 570.9L264.6 586.1L265.1 581.0L265.6 580.2L266.1 588.7L266.6 594.5L267.1 596.6L267.6 600.7L268.1 612.3L268.6 598.5L269.1 592.6L269.6 588.7L270.1 594.2L270.6 574.3L271.1 602.6L271.6 614.2L272.1 588.1L272.6 625.5L273.1 603.2L273.6 628.3L274.2 614.5L274.7 644.2L275.2 611.7L275.7 626.1L276.2 637.4L276.7 607.7L277.2 620.1L277.7 630.1L278.2 640.9L278.7 634.1L279.2 637.0L279.7 628.0L280.2 628.5L280.7 647.0L281.2 646.9L281.7 648.0L282.2 658.7L282.7 651.0L283.2 646.3L283.7 638.2L284.2 631.8L284.7 657.2L285.2 642.3L285.7 654.4L286.2 626.0L286.7 651.2L287.2 645.5L287.7 662.6L288.2 661.8L288.7 650.7L289.2 658.0L289.7 650.0L290.2 672.4L290.7 647.4L291.2 665.5L291.7 635.8L292.2 659.0L292.7 643.3L293.2 671.8L293.7 651.0L294.2 666.0L294.7 661.5L295.2 655.6L295.7 659.5L296.2 652.9L296.7 647.4L297.2 648.4L297.7 656.9L298.2 671.5L298.7 665.1L299.2 658.1L299.7 680.1L300.2 647.3L300.7 658.6L301.2 658.8L301.7 645.2L302.2 648.6L302.7 654.0L303.2 668.2L303.7 653.6L304.2 653.5L304.7 667.9L305.2 646.3L305.7 652.8L306.2 681.3L306.7 657.8L307.2 673.8L307.7 646.7L308.2 650.6L308.7 672.3L309.2 669.8L309.7 658.5L310.3 662.3L310.8 642.1L311.3 650.9L311.8 662.3L312.3 652.3L312.8 681.8L313.3 654.8L313.8 648.2L314.3 659.8L314.8 665.5L315.3 650.6L315.8 634.3L316.3 654.0L316.8 668.7L317.3 638.9L317.8 676.3L318.3 648.3L318.8 659.8L319.3 641.5L319.8 660.9L320.3 634.7L320.8 645.3L321.3 667.4L321.8 669.1L322.3 648.6L322.8 628.6L323.3 640.9L323.8 640.4L324.3 642.8L324.8 630.3L325.3 633.4L325.8 633.5L326.3 647.3L326.8 620.8L327.3 617.7L327.8 648.0L328.3 604.5L328.8 622.1L329.3 635.4L329.8 651.1L330.3 619.7L330.8 619.8L331.3 632.4L331.8 645.5L332.3 609.7L332.8 628.9L333.3 626.4L333.8 585.4L334.3 592.7L334.8 605.5L335.3 621.1L335.8 606.4L336.3 640.4L336.8 610.2L337.3 619.4L337.8 624.4L338.3 626.7L338.8 599.8L339.3 603.8L339.8 601.8L340.3 592.2L340.8 611.7L341.3 615.4L341.8 620.9L342.3 602.1L342.8 587.6L343.3 597.7L343.8 586.9L344.3 608.4L344.8 598.6L345.3 601.2L345.9 606.2L346.4 566.6L346.9 578.1L347.4 597.1L347.9 596.1L348.4 586.2L348.9 602.5L349.4 577.9L349.9 598.5L350.4 585.9L350.9 593.0L351.4 585.1L351.9 594.7L352.4 596.7L352.9 588.0L353.4 583.3L353.9 577.4L354.4 571.7L354.9 552.2L355.4 560.2L355.9 572.7L356.4 559.3L356.9 576.3L357.4 548.1L357.9 558.6L358.4 582.0L358.9 554.1L359.4 552.4L359.9 596.2L360.4 570.5L360.9 566.1L361.4 583.9L361.9 572.0L362.4 569.6L362.9 550.0L363.4 551.8L363.9 520.9L364.4 559.1L364.9 538.2L365.4 551.3L365.9 548.0L366.4 565.7L366.9 574.6L367.4 559.0L367.9 538.3L368.4 526.9L368.9 538.8L369.4 539.4L369.9 556.1L370.4 524.5L370.9 526.2L371.4 550.0L371.9 543.1L372.4 554.9L372.9 522.1L373.4 535.4L373.9 541.4L374.4 534.4L374.9 533.5L375.4 544.3L375.9 554.7L376.4 554.9L376.9 560.5L377.4 531.2L377.9 507.8L378.4 558.9L378.9 534.4L379.4 530.4L379.9 548.3L380.4 532.3L380.9 549.0L381.4 518.2L382.0 541.4L382.5 531.7L383.0 523.4L383.5 537.5L384.0 554.8L384.5 537.5L385.0 519.6L385.5 529.9L386.0 524.4L386.5 540.3L387.0 522.4L387.5 512.6L388.0 519.8L388.5 492.5L389.0 518.6L389.5 527.5L390.0 533.0L390.5 493.3L391.0 507.4L391.5 490.7L392.0 496.2L392.5 478.4L393.0 481.6L393.5 502.6L394.0 492.5L394.5 480.3L395.0 511.1L395.5 473.4L396.0 475.7L396.5 478.0L397.0 493.4L397.5 485.7L398.0 504.5L398.5 487.5L399.0 495.7L399.5 485.7L400.0 493.1L400.5 481.7L401.0 468.7L401.5 502.5L402.0 471.0L402.5 510.7L403.0 512.5L403.5 483.7L404.0 481.4L404.5 474.8L405.0 503.2L405.5 480.6L406.0 477.5L406.5 461.3L407.0 479.6L407.5 470.2L408.0 490.6L408.5 479.0L409.0 482.1L409.5 465.4L410.0 488.4L410.5 485.6L411.0 465.3L411.5 447.6L412.0 466.6L412.5 467.0L413.0 475.3L413.5 454.4L414.0 461.4L414.5 443.8L415.0 462.7L415.5 479.8L416.0 473.7L416.5 478.7L417.0 481.5L417.5 445.2L418.1 450.8L418.6 478.7L419.1 435.2L419.6 456.0L420.1 472.0L420.6 452.1L421.1 457.6L421.6 466.6L422.1 482.3L422.6 453.2L423.1 448.6L423.6 488.6L424.1 443.0L424.6 441.1L425.1 455.6L425.6 446.3L426.1 451.0L426.6 458.0L427.1 450.2L427.6 424.7L428.1 463.9L428.6 438.8L429.1 438.6L429.6 450.4L430.1 445.7L430.6 458.6L431.1 449.8L431.6 436.3L432.1 430.9L432.6 447.7L433.1 389.7L433.6 441.2L434.1 430.3L434.6 434.6L435.1 436.3L435.6 410.8L436.1 435.8L436.6 408.7L437.1 410.7L437.6 441.7L438.1 410.7L438.6 434.5L439.1 384.5L439.6 429.3L440.1 436.8L440.6 450.3L441.1 440.7L441.6 429.7L442.1 435.3L442.6 438.1L443.1 429.8L443.6 422.2L444.1 397.5L444.6 443.2L445.1 425.9L445.6 431.5L446.1 439.4L446.6 435.4L447.1 429.9L447.6 405.8L448.1 419.0L448.6 423.8L449.1 406.8L449.6 411.4L450.1 418.6L450.6 409.5L451.1 427.2L451.6 405.6L452.1 407.8L452.6 420.5L453.1 432.2L453.7 391.7L454.2 412.5L454.7 368.9L455.2 423.2L455.7 400.9L456.2 419.7L456.7 409.4L457.2 400.7L457.7 424.6L458.2 414.1L458.7 410.1L459.2 410.7L459.7 403.4L460.2 397.0L460.7 399.7L461.2 407.9L461.7 416.8L462.2 428.2L462.7 422.3L463.2 419.1L463.7 401.2L464.2 416.5L464.7 429.3L465.2 401.7L465.7 422.6L466.2 422.0L466.7 414.0L467.2 403.6L467.7 446.0L468.2 426.9L468.7 407.7L469.2 415.6L469.7 422.9L470.2 418.1L470.7 389.6L471.2 416.7L471.7 399.5L472.2 398.3L472.7 416.5L473.2 403.3L473.7 416.5L474.2 418.8L474.7 426.4L475.2 396.9L475.7 415.7L476.2 418.0L476.7 426.5L477.2 383.2L477.7 399.0L478.2 411.9L478.7 420.3L479.2 432.7L479.7 405.9L480.2 406.0L480.7 431.2L481.2 393.4L481.7 399.2L482.2 425.0L482.7 419.1L483.2 417.4L483.7 408.9L484.2 413.6L484.7 435.7L485.2 390.1L485.7 407.3L486.2 393.6L486.7 393.9L487.2 415.6L487.7 407.8L488.2 402.2L488.7 401.9L489.2 415.9L489.8 422.8L490.3 413.4L490.8 426.0L491.3 422.6L491.8 444.5L492.3 413.7L492.8 430.3L493.3 423.7L493.8 416.5L494.3 411.4L494.8 388.6L495.3 413.6L495.8 437.6L496.3 415.2L496.8 426.1L497.3 411.8L497.8 428.0L498.3 428.6L498.8 425.9L499.3 427.9L499.8 445.7L500.3 429.0L500.8 419.7L501.3 402.2L501.8 424.3L502.3 425.8L502.8 412.2L503.3 413.0L503.8 397.9L504.3 413.0L504.8 422.2L505.3 402.7L505.8 400.2L506.3 429.9L506.8 421.0L507.3 448.2L507.8 429.3L508.3 437.3L508.8 427.9L509.3 432.2L509.8 428.0L510.3 427.5L510.8 419.2L511.3 423.4L511.8 435.4L512.3 446.3L512.8 410.1L513.3 407.9L513.8 435.5L514.3 421.2L514.8 451.9L515.3 452.9L515.8 434.6L516.3 409.8L516.8 446.7L517.3 444.1L517.8 409.2L518.3 460.3L518.8 424.0L519.3 426.8L519.8 437.3L520.3 432.0L520.8 397.3L521.3 452.0L521.8 440.7L522.3 440.0L522.8 447.0L523.3 456.9L523.8 415.0L524.3 435.3L524.8 464.2L525.3 449.5L525.9 434.0L526.4 434.5L526.9 461.4L527.4 442.5L527.9 437.9L528.4 436.4L528.9 436.8L529.4 469.1L529.9 416.9L530.4 440.8L530.9 418.3L531.4 403.6L531.9 447.4L532.4 463.1L532.9 433.5L533.4 448.9L533.9 453.2L534.4 461.9L534.9 423.5L535.4 454.3L535.9 468.4L536.4 455.2L536.9 465.8L537.4 447.4L537.9 456.1L538.4 465.6L538.9 442.4L539.4 460.5L539.9 441.5L540.4 434.3L540.9 457.8L541.4 462.3L541.9 450.6L542.4 441.2L542.9 454.4L543.4 452.8L543.9 455.6L544.4 451.2L544.9 447.1L545.4 466.5L545.9 463.7L546.4 456.7L546.9 467.2L547.4 456.3L547.9 451.0L548.4 459.4L548.9 468.0L549.4 470.9L549.9 435.6L550.4 448.4L550.9 477.1L551.4 473.6L551.9 435.7L552.4 441.3L552.9 461.2L553.4 447.1L553.9 484.9L554.4 464.4L554.9 454.4L555.4 491.5L555.9 476.8L556.4 455.2L556.9 450.8L557.4 475.5L557.9 463.5L558.4 445.6L558.9 473.9L559.4 487.7L559.9 470.4L560.4 475.5L560.9 452.2L561.5 468.7L562.0 482.6L562.5 438.3L563.0 479.4L563.5 466.3L564.0 464.0L564.5 463.0L565.0 472.0L565.5 466.8L566.0 476.4L566.5 495.8L567.0 479.6L567.5 479.9L568.0 480.2L568.5 476.3L569.0 487.5L569.5 461.0L570.0 458.2L570.5 511.0L571.0 481.0L571.5 491.5L572.0 518.4L572.5 477.1L573.0 492.0L573.5 489.2L574.0 493.6L574.5 470.1L575.0 468.6L575.5 482.5L576.0 477.3L576.5 489.0L577.0 486.1L577.5 498.8L578.0 488.6L578.5 499.5L579.0 485.1L579.5 479.4L580.0 487.0L580.5 475.5L581.0 455.4L581.5 521.7L582.0 493.2L582.5 501.7L583.0 500.6L583.5 513.5L584.0 494.7L584.5 499.4L585.0 505.0L585.5 500.4L586.0 505.5L586.5 529.9L587.0 483.7L587.5 503.0L588.0 512.3L588.5 495.7L589.0 509.4L589.5 530.5L590.0 489.3L590.5 524.6L591.0 505.3L591.5 501.2L592.0 485.0L592.5 487.6L593.0 502.0L593.5 515.1L594.0 510.8L594.5 490.9L595.0 482.0L595.5 499.3L596.0 515.8L596.5 493.7L597.0 513.1L597.6 514.0L598.1 512.8L598.6 501.5L599.1 506.2L599.6 497.0L600.1 493.4L600.6 504.4L601.1 543.2L601.6 535.1L602.1 510.6L602.6 514.1L603.1 484.6L603.6 514.5L604.1 516.6L604.6 502.4L605.1 501.2L605.6 519.1L606.1 510.1L606.6 532.1L607.1 530.0L607.6 501.3L608.1 537.1L608.6 506.4L609.1 510.1L609.6 509.3L610.1 507.9L610.6 513.0L611.1 549.6L611.6 534.9L612.1 529.9L612.6 510.2L613.1 537.9L613.6 532.7L614.1 528.6L614.6 506.7L615.1 543.8L615.6 543.1L616.1 517.2L616.6 554.3L617.1 522.1L617.6 533.0L618.1 548.3L618.6 533.4L619.1 541.6L619.6 526.5L620.1 524.4L620.6 510.0L621.1 530.3L621.6 529.3L622.1 538.7L622.6 531.8L623.1 518.1L623.6 557.8L624.1 524.2L624.6 540.4L625.1 532.8L625.6 530.0L626.1 523.5L626.6 532.1L627.1 540.8L627.6 532.0L628.1 536.4L628.6 539.7L629.1 534.8L629.6 526.5L630.1 536.7L630.6 536.9L631.1 556.3L631.6 541.5L632.1 564.7L632.6 531.4L633.1 553.6L633.7 524.8L634.2 503.1L634.7 547.9L635.2 525.9L635.7 538.4L636.2 551.4L636.7 555.6L637.2 537.8L637.7 527.5L638.2 541.5L638.7 566.3L639.2 560.7L639.7 550.6L640.2 530.5L640.7 544.9L641.2 544.8L641.7 533.9L642.2 552.7L642.7 551.7L643.2 553.4L643.7 574.6L644.2 546.0L644.7 547.2L645.2 540.4L645.7 568.9L646.2 564.6L646.7 542.5L647.2 550.9L647.7 537.8L648.2 567.1L648.7 553.9L649.2 565.7L649.7 553.5L650.2 564.2L650.7 551.6L651.2 545.1L651.7 550.8L652.2 583.2L652.7 548.4L653.2 555.3L653.7 574.8L654.2 573.3L654.7 562.4L655.2 555.6L655.7 569.2L656.2 584.7L656.7 560.8L657.2 562.8L657.7 534.3L658.2 582.3L658.7 534.3L659.2 544.7L659.7 563.5L660.2 546.8L660.7 567.1L661.2 556.4L661.7 578.6L662.2 568.8L662.7 583.1L663.2 590.7L663.7 574.6L664.2 580.0L664.7 564.9L665.2 556.5L665.7 575.2L666.2 572.8L666.7 571.7L667.2 595.7L667.7 571.6L668.2 575.3L668.7 576.5L669.3 590.2L669.8 601.7L670.3 580.4L670.8 573.7L671.3 561.3L671.8 564.4L672.3 560.7L672.8 574.8L673.3 565.4L673.8 582.9L674.3 572.9L674.8 569.5L675.3 548.0L675.8 579.0L676.3 598.4L676.8 565.7L677.3 593.2L677.8 584.5L678.3 587.8L678.8 595.9L679.3 568.3L679.8 578.0L680.3 593.4L680.8 585.3L681.3 592.0L681.8 579.3L682.3 592.1L682.8 597.3L683.3 596.2L683.8 594.0L684.3 585.3L684.8 600.7L685.3 590.8L685.8 584.6L686.3 561.5L686.8 580.2L687.3 628.1L687.8 597.9L688.3 596.8L688.8 588.3L689.3 573.3L689.8 583.9L690.3 621.9L690.8 590.0L691.3 592.8L691.8 589.4L692.3 578.1L692.8 608.7L693.3 582.0L693.8 616.3L694.3 595.6L694.8 591.9L695.3 568.9L695.8 606.0L696.3 618.5L696.8 589.6L697.3 606.5L697.8 579.5L698.3 607.8L698.8 610.2L699.3 584.5L699.8 599.0L700.3 588.2L700.8 618.3L701.3 580.9L701.8 608.7L702.3 591.8L702.8 614.4L703.3 621.4L703.8 605.9L704.3 601.0L704.8 584.2L705.4 599.5L705.9 595.4L706.4 596.4L706.9 566.9L707.4 615.1L707.9 590.1L708.4 607.6L708.9 602.9L709.4 613.1L709.9 592.6L710.4 622.3L710.9 623.4L711.4 610.2L711.9 622.1L712.4 599.8L712.9 597.5L713.4 618.1L713.9 599.8L714.4 617.6L714.9 610.5L715.4 610.2L715.9 587.8L716.4 610.9L716.9 622.2L717.4 622.6L717.9 597.3L718.4 632.3L718.9 618.1L719.4 617.3L719.9 642.6L720.4 619.0L720.9 601.6L721.4 611.2L721.9 625.2L722.4 606.3L722.9 608.7L723.4 590.9L723.9 624.5L724.4 620.5L724.9 615.7L725.4 618.1L725.9 615.7L726.4 618.4L726.9 625.7L727.4 637.0L727.9 624.7L728.4 635.0L728.9 631.2L729.4 625.5L729.9 613.2L730.4 609.4L730.9 632.4L731.4 616.6L731.9 611.0L732.4 621.5L732.9 640.9L733.4 647.3L733.9 612.4L734.4 611.3L734.9 619.2L735.4 635.4L735.9 605.8L736.4 609.0L736.9 624.3L737.4 626.8L737.9 647.7L738.4 615.8L738.9 644.2L739.4 617.3L739.9 617.0L740.4 624.8L740.9 607.5L741.5 630.4L742.0 619.9L742.5 617.7L743.0 624.5L743.5 632.7L744.0 613.5L744.5 623.4L745.0 630.9L745.5 630.9L746.0 627.7L746.5 602.6L747.0 628.6L747.5 633.0L748.0 643.0L748.5 645.2L749.0 653.5L749.5 628.6L750.0 631.3L750.5 644.1L751.0 649.8L751.5 636.4L752.0 639.0L752.5 648.9L753.0 629.9L753.5 632.0L754.0 634.6L754.5 625.2L755.0 642.3L755.5 618.9L756.0 647.1L756.5 629.4L757.0 628.3L757.5 639.1L758.0 632.2L758.5 651.7L759.0 654.6L759.5 639.6L760.0 646.1L760.5 630.9L761.0 637.7L761.5 631.1L762.0 634.9L762.5 636.5L763.0 638.1L763.5 643.8L764.0 645.2L764.5 616.3L765.0 660.9L765.5 642.8L766.0 629.2L766.5 636.3L767.0 625.0L767.5 635.3L768.0 656.7L768.5 646.1L769.0 658.9L769.5 631.3L770.0 626.3L770.5 648.5L771.0 637.3L771.5 648.7L772.0 660.9L772.5 649.6L773.0 663.1L773.5 651.6L774.0 642.8L774.5 637.1L775.0 630.8L775.5 649.9L776.0 643.6L776.5 641.7L777.1 640.4L777.6 680.1L778.1 656.4L778.6 638.4L779.1 660.9L779.6 645.3L780.1 638.8L780.6 670.6L781.1 651.1L781.6 646.5L782.1 649.3L782.6 667.4L783.1 646.0L783.6 656.7L784.1 641.0L784.6 645.8L785.1 657.3L785.6 649.2L786.1 659.5L786.6 659.8L787.1 670.2L787.6 655.1L788.1 643.4L788.6 651.6L789.1 653.4L789.6 660.7L790.1 659.8L790.6 645.5L791.1 671.4L791.6 630.9L792.1 655.6L792.6 630.2L793.1 641.9L793.6 660.4L794.1 647.5L794.6 653.3L795.1 651.2L795.6 647.7L796.1 663.3L796.6 664.4L797.1 662.3L797.6 673.4L798.1 661.1L798.6 655.7L799.1 655.8L799.6 656.7L800.1 663.7L800.6 650.4L801.1 683.0L801.6 664.5L802.1 664.0L802.6 650.3L803.1 653.2L803.6 651.9L804.1 661.1L804.6 650.8L805.1 673.2L805.6 661.3L806.1 686.3L806.6 643.2L807.1 644.8L807.6 669.9L808.1 673.0L808.6 687.4L809.1 681.2L809.6 662.7L810.1 666.1L810.6 681.2L811.1 670.4L811.6 672.5L812.1 659.9L812.6 657.4L813.2 668.1L813.7 664.5L814.2 666.1L814.7 689.8L815.2 664.4L815.7 667.4L816.2 658.4L816.7 687.8L817.2 658.6L817.7 674.6L818.2 664.6L818.7 654.2L819.2 684.6L819.7 683.0L820.2 657.2L820.7 681.4L821.2 679.6L821.7 662.2L822.2 671.4L822.7 660.6L823.2 666.1L823.7 669.9L824.2 658.8L824.7 645.4L825.2 671.3L825.7 653.7L826.2 657.8L826.7 669.4L827.2 665.7L827.7 681.5L828.2 678.0L828.7 668.1L829.2 671.9L829.7 657.0L830.2 686.2L830.7 675.1L831.2 679.1L831.7 673.8L832.2 659.2L832.7 685.8L833.2 662.9L833.7 679.2L834.2 676.3L834.7 661.6L835.2 676.1L835.7 665.6L836.2 671.9L836.7 675.2L837.2 677.4L837.7 692.9L838.2 682.0L838.7 671.9L839.2 671.6L839.7 690.6L840.2 662.9L840.7 667.8L841.2 688.8L841.7 686.1L842.2 668.9L842.7 694.3L843.2 683.0L843.7 675.5L844.2 676.4L844.7 675.7L845.2 670.8L845.7 684.2L846.2 680.8L846.7 652.6L847.2 691.2L847.7 680.7L848.2 674.6L848.7 683.1L849.3 662.4L849.8 675.3L850.3 667.8L850.8 705.4L851.3 663.2L851.8 663.7L852.3 685.0L852.8 662.2L853.3 673.9L853.8 666.6L854.3 656.8L854.8 676.0L855.3 688.4L855.8 677.4L856.3 691.5L856.8 686.3L857.3 686.0L857.8 685.5L858.3 664.7L858.8 668.5L859.3 687.8L859.8 665.4L860.3 696.7L860.8 685.4L861.3 679.7L861.8 665.0L862.3 670.2L862.8 673.3L863.3 664.0L863.8 670.5L864.3 663.4L864.8 687.3L865.3 697.4L865.8 683.4L866.3 669.6L866.8 676.0L867.3 669.1L867.8 671.1L868.3 673.4L868.8 670.1L869.3 687.1L869.8 667.2L870.3 690.5L870.8 680.7L871.3 695.1L871.8 673.9L872.3 696.7L872.8 664.0L873.3 694.6L873.8 676.9L874.3 681.3L874.8 689.5L875.3 666.0L875.8 684.7L876.3 663.7L876.8 691.4L877.3 688.9L877.8 702.2L878.3 674.0L878.8 670.0L879.3 677.7L879.8 682.0L880.3 690.4L880.8 654.3L881.3 672.1L881.8 700.7L882.3 683.8L882.8 709.2L883.3 662.9L883.8 658.5L884.3 664.2L884.9 681.0L885.4 687.0L885.9 696.0L886.4 674.6L886.9 688.7L887.4 684.6L887.9 687.6L888.4 683.9L888.9 670.6L889.4 661.8L889.9 678.9L890.4 680.3L890.9 692.9L891.4 694.2L891.9 692.4L892.4 670.8L892.9 677.9L893.4 669.9L893.9 675.9L894.4 685.1L894.9 694.4L895.4 684.7L895.9 696.5L896.4 658.5L896.9 677.7L897.4 684.7L897.9 658.6L898.4 685.0L898.9 674.5L899.4 682.5L899.9 676.8L900.4 684.8L900.9 675.3L901.4 664.9L901.9 694.8L902.4 705.5L902.9 665.8L903.4 678.9L903.9 671.1L904.4 684.0L904.9 663.6L905.4 660.6L905.9 693.9L906.4 673.4L906.9 687.7L907.4 698.8L907.9 684.3L908.4 674.6L908.9 696.2L909.4 695.3L909.9 667.3L910.4 680.7L910.9 676.6L911.4 693.9L911.9 688.5L912.4 679.9L912.9 679.2L913.4 679.7L913.9 663.6L914.4 679.5L914.9 698.5L915.4 691.2L915.9 682.2L916.4 667.3L916.9 689.3L917.4 686.0L917.9 682.0L918.4 689.6L918.9 690.9L919.4 684.4L919.9 670.7L920.4 676.5L921.0 685.1L921.5 677.4L922.0 696.2L922.5 670.8L923.0 673.7L923.5 678.7L924.0 700.2L924.5 659.3L925.0 714.6L925.5 693.2L926.0 692.3L926.5 674.3L927.0 698.8L927.5 679.4L928.0 683.8L928.5 685.3L929.0 672.5L929.5 666.2L930.0 677.6L930.5 685.1L931.0 707.5L931.5 665.6L932.0 685.4L932.5 702.7L933.0 680.2L933.5 665.8L934.0 683.6L934.5 695.0L935.0 656.8L935.5 675.1L936.0 678.1L936.5 670.6L937.0 706.1L937.5 682.6L938.0 683.7L938.5 656.5L939.0 688.1L939.5 687.9L940.0 697.2L940.5 690.8L941.0 683.9L941.5 678.7L942.0 683.8L942.5 659.1L943.0 676.0L943.5 674.3L944.0 666.1L944.5 674.3L945.0 687.1L945.5 698.6L946.0 677.2L946.5 690.5L947.0 666.4L947.5 689.7L948.0 706.0L948.5 680.5L949.0 668.9L949.5 683.2L950.0 678.8L950.5 679.1L951.0 661.4L951.5 677.3L952.0 681.1L952.5 687.5L953.0 698.9L953.5 664.7L954.0 667.5L954.5 691.1L955.0 673.5L955.5 676.6L956.0 684.5L956.5 683.6L957.1 671.6L957.6 693.5L958.1 685.8L958.6 680.7L959.1 679.9L959.6 682.1L960.1 677.2L960.6 673.6L961.1 689.6L961.6 678.5L962.1 685.3L962.6 662.4L963.1 695.1L963.6 681.8L964.1 671.2L964.6 682.2L965.1 682.7L965.6 684.9L966.1 675.3L966.6 691.8L967.1 679.5L967.6 679.7L968.1 694.9L968.6 675.3L969.1 683.5L969.6 674.7L970.1 668.4L970.6 674.1L971.1 691.2L971.6 674.2L972.1 695.7L972.6 686.2L973.1 658.7L973.6 677.4L974.1 659.8L974.6 679.3L975.1 677.1L975.6 689.6L976.1 666.4L976.6 679.1L977.1 669.8L977.6 671.8L978.1 670.6L978.6 672.8L979.1 676.9L979.6 676.3L980.1 684.0L980.6 700.1L981.1 670.5L981.6 652.5L982.1 663.7L982.6 649.4L983.1 670.1L983.6 686.3L984.1 686.5L984.6 666.9L985.1 671.3L985.6 676.9L986.1 666.6L986.6 684.7L987.1 668.9L987.6 677.8L988.1 672.8L988.6 661.1L989.1 675.9L989.6 658.8L990.1 659.2L990.6 682.6L991.1 647.8L991.6 687.9L992.1 674.9L992.7 665.4L993.2 699.3L993.7 661.9L994.2 660.6L994.7 674.6L995.2 670.2L995.7 670.7L996.2 675.4L996.7 660.8L997.2 677.1L997.7 673.3L998.2 668.5L998.7 663.0L999.2 660.0L999.7 689.1L1000.2 695.3L1000.7 673.8L1001.2 672.8L1001.7 684.3L1002.2 668.5L1002.7 664.8L1003.2 667.5L1003.7 653.0L1004.2 683.4L1004.7 671.3L1005.2 649.6L1005.7 663.6L1006.2 683.9L1006.7 668.9L1007.2 657.7L1007.7 647.3L1008.2 663.3L1008.7 657.5L1009.2 683.3L1009.7 673.4L1010.2 656.9L1010.7 681.3L1011.2 671.0L1011.7 691.4L1012.2 653.3L1012.7 671.5L1013.2 663.5L1013.7 686.9L1014.2 684.7L1014.7 649.0L1015.2 673.4L1015.7 675.6L1016.2 663.5L1016.7 662.9L1017.2 691.4L1017.7 680.1L1018.2 668.3L1018.7 668.7L1019.2 664.7L1019.7 673.5L1020.2 671.7L1020.7 665.9L1021.2 676.1L1021.7 677.6L1022.2 674.3L1022.7 667.8L1023.2 669.5L1023.7 673.2L1024.2 670.5L1024.7 668.0L1025.2 663.7L1025.7 663.1L1026.2 681.8L1026.7 655.9L1027.2 685.2L1027.7 660.6L1028.2 674.8L1028.8 660.0L1029.3 654.4L1029.8 687.8L1030.3 659.4L1030.8 663.0L1031.3 671.3L1031.8 661.6L1032.3 671.5L1032.8 664.4L1033.3 677.6L1033.8 656.5L1034.3 658.6L1034.8 656.8L1035.3 672.6L1035.8 644.0L1036.3 642.3L1036.8 665.7L1037.3 669.4L1037.8 669.1L1038.3 656.5L1038.8 652.5L1039.3 672.6L1039.8 687.1L1040.3 658.7L1040.8 664.2L1041.3 661.6L1041.8 657.6L1042.3 676.0L1042.8 662.5L1043.3 666.5L1043.8 658.7L1044.3 648.9L1044.8 662.7L1045.3 672.4L1045.8 648.3L1046.3 654.3L1046.8 664.6L1047.3 682.8L1047.8 672.0L1048.3 660.3L1048.8 655.5L1049.3 667.7L1049.8 656.6L1050.3 668.7L1050.8 666.1L1051.3 655.1L1051.8 664.1L1052.3 659.3L1052.8 650.8L1053.3 647.7L1053.8 667.3L1054.3 663.3L1054.8 675.4L1055.3 675.1L1055.8 656.6L1056.3 665.8L1056.8 680.9L1057.3 653.5L1057.8 669.0L1058.3 662.9L1058.8 654.4L1059.3 654.4L1059.8 659.5L1060.3 681.4L1060.8 652.0L1061.3 665.1L1061.8 674.3L1062.3 683.2L1062.8 642.6L1063.3 655.9L1063.8 656.1L1064.3 650.2L1064.9 657.8L1065.4 673.7L1065.9 648.8L1066.4 644.9L1066.9 650.2L1067.4 638.3L1067.9 633.8L1068.4 664.6L1068.9 660.3L1069.4 644.8L1069.9 652.8L1070.4 652.1L1070.9 643.6L1071.4 645.6L1071.9 658.9L1072.4 652.2L1072.9 661.6L1073.4 655.4L1073.9 665.7L1074.4 675.3L1074.9 658.2L1075.4 659.0L1075.9 641.7L1076.4 633.6L1076.9 651.2L1077.4 645.8L1077.9 658.3L1078.4 661.4L1078.9 653.8L1079.4 653.5L1079.9 646.6L1080.4 648.4L1080.9 630.3L1081.4 651.7L1081.9 668.0L1082.4 647.3L1082.9 656.1L1083.4 645.8L1083.9 635.0L1084.4 655.1L1084.9 648.3L1085.4 641.2L1085.9 657.9L1086.4 644.2L1086.9 640.2L1087.4 636.8L1087.9 633.3L1088.4 639.3L1088.9 641.0L1089.4 661.4L1089.9 676.1L1090.4 656.0L1090.9 628.0L1091.4 642.9L1091.9 670.2L1092.4 648.7L1092.9 639.4L1093.4 664.9L1093.9 636.5L1094.4 656.2L1094.9 630.6L1095.4 642.1L1095.9 606.2L1096.4 657.5L1096.9 638.5L1097.4 658.8L1097.9 628.0L1098.4 639.7L1098.9 630.2L1099.4 639.6L1099.9 654.2L1100.5 648.0L1101.0 654.6L1101.5 652.2L1102.0 638.1L1102.5 627.1L1103.0 629.4L1103.5 633.3L1104.0 645.7L1104.5 633.0L1105.0 648.7L1105.5 636.2L1106.0 628.7L1106.5 640.5L1107.0 643.6L1107.5 643.1L1108.0 630.7L1108.5 641.3L1109.0 654.2L1109.5 642.3L1110.0 649.7L1110.5 619.6L1111.0 636.9L1111.5 654.1L1112.0 633.6L1112.5 628.2L1113.0 632.0L1113.5 640.5L1114.0 634.4L1114.5 632.7L1115.0 624.1L1115.5 631.4L1116.0 609.0L1116.5 637.9L1117.0 617.3L1117.5 634.9L1118.0 654.9L1118.5 648.5L1119.0 655.9L1119.5 654.6L1120.0 620.3L1120.5 641.9L1121.0 627.0L1121.5 644.4L1122.0 633.9L1122.5 646.0L1123.0 623.3L1123.5 636.3L1124.0 638.5L1124.5 635.0L1125.0 607.4L1125.5 627.5L1126.0 622.8L1126.5 647.1L1127.0 640.0L1127.5 628.8L1128.0 653.9L1128.5 616.3L1129.0 628.7L1129.5 631.9L1130.0 633.9L1130.5 634.2L1131.0 637.3L1131.5 614.9L1132.0 623.0L1132.5 616.4L1133.0 634.4L1133.5 641.1L1134.0 614.7L1134.5 644.9L1135.0 637.6L1135.5 622.0L1136.0 617.5L1136.6 645.6L1137.1 633.2L1137.6 629.6L1138.1 631.4L1138.6 639.9L1139.1 621.7L1139.6 635.7L1140.1 632.3L1140.6 655.9L1141.1 630.6L1141.6 652.1L1142.1 620.8L1142.6 623.3L1143.1 635.0L1143.6 627.0L1144.1 627.6L1144.6 630.6L1145.1 624.5L1145.6 630.2L1146.1 634.3L1146.6 638.0L1147.1 608.8L1147.6 626.2L1148.1 628.7L1148.6 619.9L1149.1 633.0L1149.6 632.9L1150.1 620.5L1150.6 616.2L1151.1 620.4L1151.6 645.8L1152.1 627.6L1152.6 628.6L1153.1 623.0L1153.6 638.7L1154.1 640.7L1154.6 629.7L1155.1 638.8L1155.6 640.9L1156.1 629.1L1156.6 617.4L1157.1 626.7L1157.6 615.2L1158.1 640.1L1158.6 620.1L1159.1 628.5L1159.6 638.7L1160.1 633.3L1160.6 638.5L1161.1 630.9L1161.6 637.2L1162.1 613.7L1162.6 632.6L1163.1 645.1L1163.6 630.8L1164.1 624.0L1164.6 632.2L1165.1 618.4L1165.6 639.2L1166.1 638.5L1166.6 609.5L1167.1 628.5L1167.6 622.2L1168.1 622.8L1168.6 621.8L1169.1 628.1L1169.6 630.8L1170.1 616.0L1170.6 634.4L1171.1 627.3L1171.6 620.7L1172.1 633.3L1172.7 646.6L1173.2 623.4L1173.7 616.1L1174.2 625.8L1174.7 648.3L1175.2 621.3L1175.7 605.9L1176.2 646.8L1176.7 660.4L1177.2 631.7L1177.7 628.0L1178.2 619.8L1178.7 619.4L1179.2 627.8L1179.7 622.6L1180.2 625.1L1180.7 627.5L1181.2 629.7L1181.7 630.8L1182.2 620.9L1182.7 624.4L1183.2 634.0L1183.7 616.4L1184.2 637.6L1184.7 631.8L1185.2 627.6L1185.7 651.2L1186.2 633.6L1186.7 619.4L1187.2 619.9L1187.7 643.1L1188.2 638.9L1188.7 641.8L1189.2 632.1L1189.7 630.2L1190.2 647.9L1190.7 625.8L1191.2 628.7L1191.7 630.4L1192.2 637.3L1192.7 631.7L1193.2 650.2L1193.7 627.0L1194.2 627.3L1194.7 631.0L1195.2 643.4L1195.7 615.1L1196.2 616.8L1196.7 651.5L1197.2 625.1L1197.7 628.2L1198.2 659.6L1198.7 624.0L1199.2 622.5L1199.7 621.8L1200.2 628.2L1200.7 637.6L1201.2 636.1L1201.7 624.3L1202.2 616.7L1202.7 635.9L1203.2 633.5L1203.7 622.3L1204.2 655.2L1204.7 625.3L1205.2 633.2L1205.7 655.8L1206.2 621.8L1206.7 641.2L1207.2 621.6L1207.7 615.0L1208.3 645.2L1208.8 644.7L1209.3 631.1L1209.8 651.2L1210.3 622.8L1210.8 629.1L1211.3 620.0L1211.8 652.4L1212.3 629.1L1212.8 626.2L1213.3 652.3L1213.8 621.5L1214.3 647.6L1214.8 629.8L1215.3 647.1L1215.8 623.0L1216.3 612.6L1216.8 631.5L1217.3 632.0L1217.8 617.5L1218.3 637.6L1218.8 632.0L1219.3 623.3L1219.8 627.9L1220.3 614.8L1220.8 619.2L1221.3 610.9L1221.8 633.3L1222.3 620.3L1222.8 642.6L1223.3 622.9L1223.8 613.2L1224.3 606.5L1224.8 647.8L1225.3 635.6L1225.8 625.5L1226.3 643.9L1226.8 627.6L1227.3 627.9L1227.8 639.8L1228.3 640.5L1228.8 645.0L1229.3 631.1L1229.8 620.2L1230.3 631.6L1230.8 603.3L1231.3 652.2L1231.8 642.0L1232.3 627.8L1232.8 648.7L1233.3 631.8L1233.8 626.6L1234.3 634.1L1234.8 638.8L1235.3 625.7L1235.8 631.8L1236.3 628.5L1236.8 630.7L1237.3 644.8L1237.8 649.9L1238.3 641.8L1238.8 635.6L1239.3 639.9L1239.8 627.1L1240.3 635.2L1240.8 627.2L1241.3 637.1L1241.8 646.9L1242.3 629.2L1242.8 633.3L1243.3 648.8L1243.8 644.1L1244.4 607.6L1244.9 678.5L1245.4 627.1L1245.9 639.5L1246.4 641.2L1246.9 644.0L1247.4 646.6L1247.9 613.9L1248.4 646.3L1248.9 644.9L1249.4 632.4L1249.9 637.4L1250.4 644.1L1250.9 645.5L1251.4 657.7L1251.9 630.3L1252.4 655.0L1252.9 670.9L1253.4 631.3L1253.9 635.0L1254.4 639.9L1254.9 650.0L1255.4 630.6L1255.9 656.9L1256.4 669.8L1256.9 643.2L1257.4 636.0L1257.9 638.4L1258.4 622.0L1258.9 636.5L1259.4 648.9L1259.9 648.7L1260.4 636.6L1260.9 647.8L1261.4 648.9L1261.9 667.8L1262.4 651.4L1262.9 663.0L1263.4 645.7L1263.9 647.2L1264.4 640.8L1264.9 628.8L1265.4 651.6L1265.9 633.3L1266.4 663.1L1266.9 648.6L1267.4 639.8L1267.9 628.7L1268.4 663.9L1268.9 654.5L1269.4 650.3L1269.9 653.4L1270.4 663.4L1270.9 671.5L1271.4 667.1L1271.9 654.4L1272.4 669.1L1272.9 633.8L1273.4 640.4L1273.9 676.4L1274.4 660.7L1274.9 640.3L1275.4 639.2L1275.9 643.3L1276.4 672.6L1276.9 660.8L1277.4 642.4L1277.9 656.1L1278.4 662.8L1278.9 652.2L1279.4 647.1L1279.9 657.1L1280.5 656.2L1281.0 647.1L1281.5 666.0L1282.0 670.3L1282.5 651.6L1283.0 674.2L1283.5 655.4L1284.0 669.6L1284.5 652.2L1285.0 675.5L1285.5 649.5L1286.0 659.5L1286.5 666.5L1287.0 673.1L1287.5 665.5L1288.0 674.5L1288.5 677.9L1289.0 652.6L1289.5 658.4L1290.0 651.6L1290.5 681.0L1291.0 688.1L1291.5 684.3L1292.0 659.5L1292.5 658.1L1293.0 688.3L1293.5 656.4L1294.0 673.1L1294.5 682.0L1295.0 669.8L1295.5 662.9L1296.0 672.0L1296.5 671.9L1297.0 679.7L1297.5 686.5L1298.0 675.1L1298.5 689.5L1299.0 664.9L1299.5 681.5L1300.0 657.7L1300.5 690.4L1301.0 657.3L1301.5 683.2L1302.0 683.6L1302.5 670.8L1303.0 664.4L1303.5 675.2L1304.0 679.1L1304.5 653.3L1305.0 670.2L1305.5 689.6L1306.0 679.5L1306.5 658.1L1307.0 673.6L1307.5 668.5L1308.0 655.5L1308.5 685.0L1309.0 674.7L1309.5 686.6L1310.0 679.6L1310.5 674.0L1311.0 695.1L1311.5 679.1L1312.0 679.5L1312.5 669.8L1313.0 688.4L1313.5 696.3L1314.0 678.3L1314.5 695.4L1315.0 681.4L1315.5 677.6L1316.1 693.9L1316.6 686.0L1317.1 696.4L1317.6 716.6L1318.1 701.8L1318.6 709.2L1319.1 686.5L1319.6 698.8L1320.1 689.1L1320.6 688.4L1321.1 676.7L1321.6 692.5L1322.1 693.5L1322.6 684.0L1323.1 672.3L1323.6 691.1L1324.1 686.9L1324.6 693.2L1325.1 699.1L1325.6 708.6L1326.1 693.1L1326.6 695.6L1327.1 695.7L1327.6 671.9L1328.1 697.5L1328.6 690.6L1329.1 698.4L1329.6 682.2L1330.1 698.5L1330.6 675.6L1331.1 699.0L1331.6 688.1L1332.1 685.9L1332.6 699.8L1333.1 688.4L1333.6 697.3L1334.1 706.6L1334.6 706.0L1335.1 695.6L1335.6 680.3L1336.1 705.2L1336.6 694.4L1337.1 709.3L1337.6 698.3L1338.1 715.4L1338.6 710.2L1339.1 702.2L1339.6 710.5L1340.1 705.7L1340.6 692.4L1341.1 704.9L1341.6 711.6L1342.1 717.4L1342.6 710.3L1343.1 692.6L1343.6 706.1L1344.1 707.2L1344.6 698.3L1345.1 697.4L1345.6 695.9L1346.1 710.7L1346.6 717.0L1347.1 725.3L1347.6 715.2L1348.1 712.2L1348.6 700.8L1349.1 705.5L1349.6 715.2L1350.1 700.2L1350.6 723.2L1351.1 721.3L1351.6 722.9L1352.2 722.4L1352.7 713.8L1353.2 720.4L1353.7 719.8L1354.2 698.0L1354.7 727.9L1355.2 723.6L1355.7 715.6L1356.2 708.7L1356.7 708.6L1357.2 716.8L1357.7 718.2L1358.2 717.4L1358.7 707.1L1359.2 724.9L1359.7 740.2L1360.2 713.9L1360.7 728.4L1361.2 717.1L1361.7 702.3L1362.2 716.0L1362.7 698.2L1363.2 734.3L1363.7 715.5L1364.2 714.2L1364.7 709.9L1365.2 726.5L1365.7 717.5L1366.2 718.2L1366.7 718.8L1367.2 734.3L1367.7 738.2L1368.2 715.0L1368.7 717.3L1369.2 720.8L1369.7 714.8L1370.2 710.5L1370.7 734.0L1371.2 714.2L1371.7 707.1L1372.2 712.3L1372.7 717.0L1373.2 716.1L1373.7 738.5L1374.2 729.0L1374.7 713.6L1375.2 709.1L1375.7 719.9L1376.2 729.6L1376.7 726.6L1377.2 716.7L1377.7 705.0L1378.2 717.9L1378.7 731.6L1379.2 720.1L1379.7 722.3L1380.2 702.4L1380.7 721.2L1381.2 727.2L1381.7 728.6L1382.2 740.7L1382.7 739.1L1383.2 733.5L1383.7 737.2L1384.2 727.2L1384.7 728.4L1385.2 720.1L1385.7 714.5L1386.2 728.7L1386.7 732.5L1387.2 749.7L1387.7 727.2L1388.3 724.6L1388.8 739.4L1389.3 735.9L1389.8 739.3L1390.3 721.6L1390.8 726.4L1391.3 720.6L1391.8 745.5L1392.3 706.5L1392.8 742.4L1393.3 744.4L1393.8 732.4L1394.3 740.2L1394.8 716.5L1395.3 739.3L1395.8 742.4L1396.3 725.8L1396.8 723.6L1397.3 744.7L1397.8 741.4L1398.3 740.4L1398.8 738.7L1399.3 720.1L1399.8 725.0L1400.3 727.2L1400.8 725.3L1401.3 738.3L1401.8 729.9L1402.3 739.7L1402.8 746.8L1403.3 722.8L1403.8 757.5L1404.3 740.0L1404.8 746.1L1405.3 757.3L1405.8 744.7L1406.3 740.5L1406.8 736.8L1407.3 750.0L1407.8 734.5L1408.3 739.2L1408.8 734.4L1409.3 762.0L1409.8 747.6L1410.3 749.5L1410.8 737.9L1411.3 751.3L1411.8 749.3L1412.3 755.8L1412.8 756.6L1413.3 754.3L1413.8 735.6L1414.3 756.1L1414.8 770.0L1415.3 743.1L1415.8 750.8L1416.3 741.1L1416.8 741.5L1417.3 750.2L1417.8 751.5L1418.3 753.1L1418.8 747.9L1419.3 755.8L1419.8 746.4L1420.3 734.9L1420.8 755.4L1421.3 755.3L1421.8 755.6L1422.3 743.5L1422.8 743.3L1423.3 735.9L1423.9 743.3L1424.4 749.3L1424.9 746.3L1425.4 763.8L1425.9 745.7L1426.4 749.7L1426.9 731.3L1427.4 738.4L1427.9 760.2L1428.4 757.9L1428.9 744.0L1429.4 773.1L1429.9 762.1L1430.4 749.7L1430.9 747.2L1431.4 751.9L1431.9 742.6L1432.4 756.9L1432.9 753.5L1433.4 756.6L1433.9 765.6L1434.4 754.7L1434.9 760.7L1435.4 754.8L1435.9 781.3L1436.4 755.0L1436.9 761.5L1437.4 762.5L1437.9 756.3L1438.4 761.5L1438.9 748.1L1439.4 745.3L1439.9 749.0L1440.4 748.5L1440.9 754.5L1441.4 757.9L1441.9 770.9L1442.4 762.3L1442.9 747.2L1443.4 751.7L1443.9 764.1L1444.4 758.5L1444.9 749.5L1445.4 761.5L1445.9 744.5L1446.4 767.7L1446.9 753.0L1447.4 754.1L1447.9 759.3L1448.4 758.3L1448.9 756.2L1449.4 783.5L1449.9 757.3L1450.4 751.0L1450.9 758.4L1451.4 751.5L1451.9 774.0L1452.4 763.5L1452.9 759.9L1453.4 765.8L1453.9 752.0L1454.4 759.0L1454.9 768.7L1455.4 756.2L1455.9 756.4L1456.4 768.6L1456.9 758.6L1457.4 761.2L1457.9 761.7L1458.4 777.2L1458.9 753.3L1459.4 759.5L1460.0 766.1L1460.5 762.7L1461.0 763.1L1461.5 769.4L1462.0 772.2L1462.5 765.9L1463.0 772.7L1463.5 771.9L1464.0 778.5L1464.5 770.3L1465.0 758.3L1465.5 766.0L1466.0 767.8L1466.5 771.4L1467.0 772.7L1467.5 783.1L1468.0 753.3L1468.5 776.1L1469.0 783.7L1469.5 765.8L1470.0 767.4L1470.5 774.9L1471.0 784.2L1471.5 783.5L1472.0 755.7L1472.5 771.9L1473.0 777.2L1473.5 753.5L1474.0 776.5L1474.5 780.3L1475.0 766.6L1475.5 768.4L1476.0 757.3L1476.5 787.0L1477.0 769.8L1477.5 788.7L1478.0 768.5L1478.5 779.2L1479.0 777.6L1479.5 780.4L1480.0 765.7L1480.5 758.5L1481.0 774.8L1481.5 776.6L1482.0 779.1L1482.5 769.6L1483.0 784.4L1483.5 741.6L1484.0 777.3L1484.5 759.2L1485.0 774.0L1485.5 788.5L1486.0 790.5L1486.5 780.0L1487.0 782.9L1487.5 778.7L1488.0 787.4L1488.5 754.7L1489.0 757.0L1489.5 794.1L1490.0 772.8L1490.5 766.3L1491.0 780.8L1491.5 780.0L1492.0 767.9L1492.5 773.2L1493.0 789.8L1493.5 767.2L1494.0 783.4L1494.5 761.6L1495.0 788.1L1495.5 800.8L1496.1 778.6L1496.6 768.4L1497.1 775.1L1497.6 778.6L1498.1 788.9L1498.6 771.9L1499.1 797.9L1499.6 773.4L1500.1 792.3L1500.6 786.8L1501.1 793.7L1501.6 790.1L1502.1 767.9L1502.6 793.0L1503.1 780.4L1503.6 789.8L1504.1 772.9L1504.6 795.4L1505.1 782.9L1505.6 774.6L1506.1 762.1L1506.6 794.5L1507.1 791.8L1507.6 784.3L1508.1 770.2L1508.6 793.7L1509.1 776.7L1509.6 790.3L1510.1 794.3L1510.6 799.7L1511.1 783.8L1511.6 776.0L1512.1 786.3L1512.6 805.3L1513.1 790.9L1513.6 776.9L1514.1 777.9L1514.6 783.7L1515.1 772.6L1515.6 798.4L1516.1 798.2L1516.6 764.7L1517.1 780.8L1517.6 789.1L1518.1 791.9L1518.6 811.5L1519.1 779.9L1519.6 807.1L1520.1 806.3L1520.6 788.6L1521.1 774.3L1521.6 792.2L1522.1 785.2L1522.6 792.8L1523.1 785.3L1523.6 804.6L1524.1 769.7L1524.6 798.4L1525.1 784.4L1525.6 808.7L1526.1 773.4L1526.6 786.0L1527.1 771.5L1527.6 796.4L1528.1 780.8L1528.6 792.2L1529.1 791.1L1529.6 778.8L1530.1 799.4L1530.6 784.3L1531.1 773.2L1531.7 775.2L1532.2 781.7L1532.7 788.6L1533.2 800.8L1533.7 778.6L1534.2 798.4L1534.7 781.1L1535.2 795.4L1535.7 792.4L1536.2 792.6L1536.7 787.1L1537.2 796.9L1537.7 791.4L1538.2 798.0L1538.7 788.4L1539.2 790.8L1539.7 789.6L1540.2 801.5L1540.7 790.9L1541.2 793.6L1541.7 788.8L1542.2 793.8L1542.7 803.4L1543.2 787.9L1543.7 800.9L1544.2 792.3L1544.7 814.1L1545.2 790.5L1545.7 789.2L1546.2 803.9L1546.7 790.2L1547.2 799.1L1547.7 783.2L1548.2 789.9L1548.7 807.6L1549.2 798.2L1549.7 812.6L1550.2 799.5L1550.7 791.7L1551.2 789.2L1551.7 797.9L1552.2 799.3L1552.7 795.8L1553.2 802.9L1553.7 794.5L1554.2 787.4L1554.7 795.9L1555.2 790.0L1555.7 805.1L1556.2 802.5L1556.7 795.1L1557.2 779.9L1557.7 789.2L1558.2 783.0L1558.7 798.2L1559.2 787.4L1559.7 814.1L1560.2 794.2L1560.7 818.0L1561.2 788.0L1561.7 794.9L1562.2 788.8L1562.7 795.8L1563.2 804.1L1563.7 806.5L1564.2 798.1L1564.7 786.4L1565.2 794.4L1565.7 805.1L1566.2 805.4L1566.7 806.8L1567.2 802.5L1567.8 801.5L1568.3 805.2L1568.8 800.9L1569.3 815.3L1569.8 787.1L1570.3 799.1L1570.8 787.7L1571.3 798.9L1571.8 803.4L1572.3 801.0L1572.8 799.9L1573.3 807.9L1573.8 805.5L1574.3 785.0L1574.8 793.9L1575.3 807.1L1575.8 797.9L1576.3 810.2L1576.8 790.2L1577.3 811.9L1577.8 795.0L1578.3 802.9L1578.8 802.9L1579.3 810.6L1579.8 805.8L1580.3 810.4L1580.8 811.4L1581.3 799.7L1581.8 781.5L1582.3 807.1L1582.8 795.3L1583.3 804.4L1583.8 810.8L1584.3 792.6L1584.8 799.0L1585.3 794.6L1585.8 803.9L1586.3 803.7L1586.8 812.4L1587.3 807.6L1587.8 790.4L1588.3 825.7L1588.8 802.2L1589.3 792.7L1589.8 798.7L1590.3 798.1L1590.8 808.4L1591.3 796.1L1591.8 796.0L1592.3 806.7L1592.8 791.7L1593.3 810.9L1593.8 828.7L1594.3 806.9L1594.8 808.0L1595.3 814.6L1595.8 811.3L1596.3 812.1L1596.8 823.6L1597.3 796.7L1597.8 807.6L1598.3 784.1L1598.8 808.0L1599.3 804.5L1599.8 821.4L1600.3 799.3L1600.8 818.0L1601.3 803.8L1601.8 800.5L1602.3 802.0L1602.8 816.2L1603.3 816.0L1603.9 802.4L1604.4 798.8L1604.9 796.6L1605.4 809.7L1605.9 810.5L1606.4 793.9L1606.9 815.0L1607.4 803.3L1607.9 812.8L1608.4 822.6L1608.9 820.1L1609.4 806.4L1609.9 808.6L1610.4 806.3L1610.9 813.8L1611.4 815.3L1611.9 808.5L1612.4 812.7L1612.9 825.3L1613.4 815.2L1613.9 796.7L1614.4 818.3L1614.9 806.9L1615.4 812.6L1615.9 805.6L1616.4 819.7L1616.9 823.4L1617.4 808.5L1617.9 818.6L1618.4 812.9L1618.9 815.5L1619.4 804.5L1619.9 810.7L1620.4 811.9L1620.9 821.7L1621.4 826.9L1621.9 820.7L1622.4 806.3L1622.9 807.7L1623.4 808.7L1623.9 817.4L1624.4 822.9L1624.9 804.2L1625.4 812.7L1625.9 809.8L1626.4 822.7L1626.9 820.6L1627.4 809.2L1627.9 808.5L1628.4 823.6L1628.9 812.6L1629.4 825.3L1629.9 804.9L1630.4 809.8L1630.9 796.0L1631.4 802.7L1631.9 821.5L1632.4 814.3L1632.9 820.2L1633.4 815.0L1633.9 809.6L1634.4 816.5L1634.9 816.0L1635.4 828.1L1635.9 811.8L1636.4 817.0L1636.9 811.7L1637.4 808.2L1637.9 817.0L1638.4 811.4L1638.9 822.7L1639.5 809.5L1640.0 817.9L1640.5 822.9L1641.0 819.9L1641.5 830.2L1642.0 823.7L1642.5 822.0L1643.0 818.2L1643.5 819.3L1644.0 824.2L1644.5 820.4L1645.0 837.1L1645.5 818.3L1646.0 814.4L1646.5 812.6L1647.0 810.2L1647.5 821.3L1648.0 820.4L1648.5 823.8L1649.0 824.0L1649.5 819.0L1650.0 808.7L1650.5 834.6L1651.0 824.6L1651.5 818.2L1652.0 829.1L1652.5 817.2L1653.0 832.5L1653.5 823.9L1654.0 835.1L1654.5 818.9L1655.0 828.0L1655.5 816.1L1656.0 824.1L1656.5 829.9L1657.0 825.4L1657.5 821.0L1658.0 822.3L1658.5 824.4L1659.0 825.4L1659.5 822.4L1660.0 815.6L1660.5 827.6L1661.0 819.2L1661.5 834.1L1662.0 815.4L1662.5 820.2L1663.0 826.3L1663.5 826.2L1664.0 837.8L1664.5 822.9L1665.0 825.8L1665.5 835.6L1666.0 827.7L1666.5 819.3L1667.0 822.8L1667.5 822.1L1668.0 829.1L1668.5 817.5L1669.0 824.9L1669.5 817.7L1670.0 806.4L1670.5 841.7L1671.0 829.3L1671.5 825.2L1672.0 831.5L1672.5 816.8L1673.0 828.4L1673.5 811.7L1674.0 819.4L1674.5 822.3L1675.0 826.1L1675.6 819.0L1676.1 822.1L1676.6 814.0L1677.1 822.9L1677.6 817.9L1678.1 823.1L1678.6 823.9L1679.1 839.6L1679.6 826.8L1680.1 823.7L1680.6 836.7L1681.1 838.6L1681.6 829.8L1682.1 824.9L1682.6 841.5L1683.1 825.0L1683.6 819.8L1684.1 829.9L1684.6 825.9L1685.1 824.2L1685.6 833.6L1686.1 823.1L1686.6 824.7L1687.1 838.7L1687.6 824.3L1688.1 821.5L1688.6 837.7L1689.1 821.8L1689.6 831.2L1690.1 840.2L1690.6 837.8L1691.1 836.7L1691.6 825.0L1692.1 833.6L1692.6 832.9L1693.1 840.2L1693.6 829.8L1694.1 840.3L1694.6 835.7L1695.1 825.2L1695.6 824.9L1696.1 834.8L1696.6 831.0L1697.1 826.3L1697.6 830.9L1698.1 821.0L1698.6 820.0L1699.1 831.8L1699.6 841.3L1700.1 832.6L1700.6 820.4L1701.1 822.3L1701.6 821.9L1702.1 822.6L1702.6 836.1L1703.1 829.7L1703.6 823.2L1704.1 830.0L1704.6 825.1L1705.1 840.6L1705.6 842.4L1706.1 816.1L1706.6 826.4L1707.1 827.8L1707.6 820.9L1708.1 814.7L1708.6 809.5L1709.1 852.8L1709.6 830.1L1710.1 824.9L1710.6 849.1L1711.1 848.2L1711.7 835.1L1712.2 818.3L1712.7 826.1L1713.2 816.3L1713.7 831.7L1714.2 825.4L1714.7 821.8L1715.2 830.6L1715.7 834.6L1716.2 833.6L1716.7 864.9L1717.2 832.2L1717.7 850.2L1718.2 841.8L1718.7 829.4L1719.2 832.0L1719.7 851.8L1720.2 831.2L1720.7 829.4L1721.2 834.1L1721.7 830.2L1722.2 831.3L1722.7 850.0L1723.2 837.9L1723.7 838.7L1724.2 846.3L1724.7 836.9L1725.2 843.3L1725.7 837.4L1726.2 843.9L1726.7 828.4L1727.2 818.9L1727.7 841.8L1728.2 836.9L1728.7 836.9L1729.2 833.8L1729.7 838.9L1730.2 855.8L1730.7 834.9L1731.2 838.9L1731.7 846.7L1732.2 839.7L1732.7 842.3L1733.2 836.3L1733.7 841.0L1734.2 840.8L1734.7 837.7L1735.2 836.7L1735.7 838.7L1736.2 829.4L1736.7 837.0L1737.2 845.3L1737.7 825.1L1738.2 838.3L1738.7 826.6L1739.2 848.1L1739.7 835.0L1740.2 825.7L1740.7 829.4L1741.2 839.1L1741.7 844.7L1742.2 844.9L1742.7 841.6L1743.2 848.1L1743.7 846.4L1744.2 848.5L1744.7 848.6L1745.2 838.7L1745.7 855.0L1746.2 839.4L1746.7 835.3L1747.3 848.6L1747.8 848.4L1748.3 841.0L1748.8 841.6L1749.3 833.7L1749.8 857.5L1750.3 842.1L1750.8 830.3L1751.3 841.0L1751.8 827.5L1752.3 824.3L1752.8 846.4L1753.3 829.9L1753.8 837.9L1754.3 842.3L1754.8 844.5L1755.3 844.1L1755.8 849.8L1756.3 843.9L1756.8 835.1L1757.3 832.6L1757.8 845.9L1758.3 838.6L1758.8 839.1L1759.3 862.0L1759.8 837.4L1760.3 853.1L1760.8 852.5L1761.3 836.7L1761.8 830.0L1762.3 852.5L1762.8 850.8L1763.3 851.4L1763.8 848.1L1764.3 847.1L1764.8 850.7L1765.3 857.2L1765.8 830.1L1766.3 848.4L1766.8 850.6L1767.3 837.3L1767.8 847.6L1768.3 836.0L1768.8 838.5L1769.3 837.0L1769.8 848.2L1770.3 840.0L1770.8 857.6L1771.3 856.2L1771.8 844.8L1772.3 847.9L1772.8 834.8L1773.3 847.7L1773.8 859.8L1774.3 845.2L1774.8 848.2L1775.3 844.4L1775.8 855.3L1776.3 852.3L1776.8 845.7L1777.3 840.3L1777.8 843.0L1778.3 840.4L1778.8 858.0L1779.3 848.3L1779.8 844.9L1780.3 839.0L1780.8 844.7L1781.3 848.8L1781.8 847.9L1782.3 847.7L1782.8 858.4L1783.4 846.9L1783.9 840.9L1784.4 841.7L1784.9 862.2L1785.4 847.5L1785.9 859.5L1786.4 839.0L1786.9 843.5L1787.4 842.2L1787.9 853.2L1788.4 863.3L1788.9 856.3L1789.4 851.0L1789.9 860.1L1790.4 856.3L1790.9 834.5L1791.4 858.9L1791.9 844.2L1792.4 863.4L1792.9 846.8L1793.4 842.2L1793.9 845.4L1794.4 839.5L1794.9 834.9L1795.4 860.0L1795.9 847.1L1796.4 845.2L1796.9 846.0L1797.4 836.9L1797.9 847.3L1798.4 840.1L1798.9 840.5L1799.4 848.5L1799.9 845.5L1800.4 855.9L1800.9 847.4L1801.4 848.5L1801.9 851.2L1802.4 853.8L1802.9 842.6L1803.4 851.1L1803.9 832.5L1804.4 840.1L1804.9 844.5L1805.4 855.1L1805.9 843.5L1806.4 849.6L1806.9 850.1L1807.4 859.4L1807.9 846.4L1808.4 849.1L1808.9 854.7L1809.4 856.4L1809.9 853.4L1810.4 861.6L1810.9 855.7L1811.4 840.7L1811.9 856.6L1812.4 833.6L1812.9 862.2L1813.4 843.3L1813.9 843.4L1814.4 842.9L1814.9 847.6L1815.4 864.7L1815.9 843.3L1816.4 844.0L1816.9 852.1L1817.4 870.9L1817.9 844.2L1818.4 859.9L1818.9 854.9L1819.5 843.2L1820.0 842.6L1820.5 850.1L1821.0 857.5L1821.5 840.0L1822.0 844.3L1822.5 854.6L1823.0 861.0L1823.5 851.4L1824.0 864.2L1824.5 840.1L1825.0 850.0L1825.5 856.8L1826.0 850.9L1826.5 867.2L1827.0 854.8L1827.5 859.4L1828.0 866.8L1828.5 859.6L1829.0 852.0L1829.5 865.9L1830.0 856.5L1830.5 866.4L1831.0 853.6L1831.5 868.9L1832.0 849.8L1832.5 850.3L1833.0 849.1L1833.5 841.6L1834.0 854.4L1834.5 854.9L1835.0 851.3L1835.5 859.7L1836.0 870.9L1836.5 865.7L1837.0 865.8L1837.5 855.0L1838.0 861.5L1838.5 859.7L1839.0 852.4L1839.5 855.4L1840.0 841.5L1840.5 857.4L1841.0 864.4L1841.5 847.4L1842.0 860.5L1842.5 858.0L1843.0 849.8L1843.5 856.2L1844.0 852.3L1844.5 862.5L1845.0 860.1L1845.5 852.9L1846.0 862.1L1846.5 861.1L1847.0 858.4L1847.5 845.9L1848.0 846.9L1848.5 856.5L1849.0 857.8L1849.5 863.8L1850.0 848.3L1850.5 855.4L1851.0 851.4L1851.5 869.5L1852.0 852.6L1852.5 857.6L1853.0 853.1L1853.5 851.0L1854.0 858.9L1854.5 861.9L1855.1 853.9L1855.6 868.5L1856.1 848.4L1856.6 856.8L1857.1 868.0L1857.6 849.7L1858.1 852.3L1858.6 848.0L1859.1 852.1L1859.6 856.1L1860.1 860.2L1860.6 868.1L1861.1 854.3L1861.6 855.6L1862.1 863.4L1862.6 855.8L1863.1 867.2L1863.6 852.4L1864.1 859.4L1864.6 858.8L1865.1 866.3L1865.6 853.6L1866.1 859.7L1866.6 865.4L1867.1 858.2L1867.6 862.8L1868.1 853.4L1868.6 873.0L1869.1 870.3L1869.6 846.3L1870.1 865.5L1870.6 858.1L1871.1 865.0L1871.6 860.4L1872.1 842.3L1872.6 877.2L1873.1 858.2L1873.6 862.0L1874.1 862.3L1874.6 868.6L1875.1 869.9L1875.6 852.5L1876.1 859.1L1876.6 872.1L1877.1 863.1L1877.6 873.3L1878.1 841.6L1878.6 860.6L1879.1 877.1L1879.6 856.6L1880.1 859.0L1880.6 861.4L1881.1 862.5L1881.6 868.1L1882.1 865.5L1882.6 879.4L1883.1 854.4L1883.6 849.2L1884.1 860.7L1884.6 859.9L1885.1 874.9L1885.6 867.9L1886.1 875.5L1886.6 874.8L1887.1 860.9L1887.6 854.4L1888.1 865.7L1888.6 846.6L1889.1 859.1L1889.6 882.4L1890.1 868.6L1890.6 855.8L1891.2 864.5L1891.7 858.0L1892.2 878.5L1892.7 856.4L1893.2 874.9L1893.7 863.6L1894.2 850.3L1894.7 865.7L1895.2 868.1L1895.7 860.7L1896.2 872.8L1896.7 873.8L1897.2 859.4L1897.7 878.0L1898.2 876.2L1898.7 853.8L1899.2 876.4L1899.7 863.8L1900.2 858.9L1900.7 867.7L1901.2 875.3L1901.7 861.3L1902.2 874.5L1902.7 851.8L1903.2 851.1L1903.7 875.5L1904.2 863.5L1904.7 873.2L1905.2 865.2L1905.7 870.0L1906.2 875.5L1906.7 864.4L1907.2 880.7L1907.7 866.1L1908.2 869.7L1908.7 874.4L1909.2 861.9L1909.7 868.4L1910.2 871.4L1910.7 870.1L1911.2 870.6L1911.7 862.1L1912.2 871.3L1912.7 890.8L1913.2 892.4L1913.7 877.2L1914.2 878.8L1914.7 871.6L1915.2 879.7L1915.7 875.7L1916.2 859.9L1916.7 879.7L1917.2 863.6L1917.7 870.8L1918.2 860.3L1918.7 863.4L1919.2 869.7L1919.7 862.1L1920.2 868.5L1920.7 878.6L1921.2 866.6L1921.7 866.6L1922.2 871.2L1922.7 868.5L1923.2 873.7L1923.7 868.1L1924.2 872.6L1924.7 882.1L1925.2 872.7L1925.7 859.0L1926.2 864.7L1926.7 859.8L1927.3 870.9L1927.8 874.0L1928.3 879.0L1928.8 870.0L1929.3 863.7L1929.8 865.3L1930.3 865.9L1930.8 875.2L1931.3 870.7L1931.8 877.3L1932.3 865.5L1932.8 867.3L1933.3 876.5L1933.8 870.9L1934.3 888.6L1934.8 866.8L1935.3 878.1L1935.8 874.8L1936.3 867.7L1936.8 867.3L1937.3 877.3L1937.8 860.7L1938.3 857.6L1938.8 861.9L1939.3 863.0L1939.8 872.2L1940.3 862.5L1940.8 879.2L1941.3 881.0L1941.8 871.7L1942.3 871.1L1942.8 879.4L1943.3 860.1L1943.8 883.9L1944.3 888.4L1944.8 876.3L1945.3 861.4L1945.8 868.0L1946.3 871.0L1946.8 872.6L1947.3 869.6L1947.8 871.4L1948.3 873.1L1948.8 874.8L1949.3 885.7L1949.8 866.9L1950.3 877.2L1950.8 871.4L1951.3 870.6L1951.8 866.7L1952.3 880.1L1952.8 868.4L1953.3 868.3L1953.8 875.4L1954.3 875.0L1954.8 873.6L1955.3 882.2L1955.8 878.2L1956.3 883.2L1956.8 866.3L1957.3 880.7L1957.8 882.9L1958.3 874.0L1958.8 871.3L1959.3 878.0L1959.8 882.3L1960.3 872.4L1960.8 869.3L1961.3 887.5L1961.8 869.0L1962.3 888.6L1962.9 871.0L1963.4 879.0L1963.9 877.7L1964.4 870.7L1964.9 865.5L1965.4 860.9L1965.9 866.2L1966.4 871.2L1966.9 886.0L1967.4 879.3L1967.9 875.4L1968.4 880.8L1968.9 872.3L1969.4 878.3L1969.9 863.7L1970.4 878.0L1970.9 886.0L1971.4 880.5L1971.9 882.1L1972.4 871.8L1972.9 866.9L1973.4 869.7L1973.9 869.7L1974.4 882.2L1974.9 885.2L1975.4 883.1L1975.9 877.1L1976.4 879.9L1976.9 875.4L1977.4 870.1L1977.9 877.0L1978.4 865.3L1978.9 883.2L1979.4 873.1L1979.9 878.2L1980.4 870.5L1980.9 878.1L1981.4 881.7L1981.9 878.9L1982.4 884.4L1982.9 886.0L1983.4 872.4L1983.9 882.6L1984.4 869.6L1984.9 860.3L1985.4 881.1L1985.9 872.2L1986.4 879.2L1986.9 892.3L1987.4 879.4L1987.9 868.2L1988.4 887.6L1988.9 880.1L1989.4 880.3L1989.9 889.5L1990.4 876.9L1990.9 880.3L1991.4 875.1L1991.9 879.0L1992.4 889.6L1992.9 878.5L1993.4 875.1L1993.9 881.4L1994.4 875.7L1994.9 875.9L1995.4 895.3L1995.9 875.5L1996.4 894.5L1996.9 889.4L1997.4 881.2L1997.9 887.3L1998.4 886.2L1999.0 872.5L1999.5 888.2L2000.0 872.2L2000.5 867.6L2001.0 870.7L2001.5 888.8L2002.0 891.9L2002.5 880.6L2003.0 865.9L2003.5 882.7L2004.0 885.2L2004.5 882.2L2005.0 876.0L2005.5 872.9L2006.0 881.5L2006.5 882.5L2007.0 878.0L2007.5 881.4L2008.0 884.7L2008.5 894.4L2009.0 881.0L2009.5 886.2L2010.0 883.7L2010.5 884.1L2011.0 888.4L2011.5 878.2L2012.0 874.6L2012.5 878.5L2013.0 887.0L2013.5 881.2L2014.0 877.5L2014.5 883.3L2015.0 877.6L2015.5 892.7L2016.0 884.3L2016.5 872.6L2017.0 875.8L2017.5 883.8L2018.0 882.1L2018.5 867.7L2019.0 875.3L2019.5 888.1L2020.0 881.0L2020.5 886.5L2021.0 887.5L2021.5 891.9L2022.0 878.3L2022.5 867.7L2023.0 877.4L2023.5 892.8L2024.0 879.8L2024.5 894.0L2025.0 882.1L2025.5 876.3L2026.0 873.4L2026.5 883.0L2027.0 881.7L2027.5 883.9L2028.0 885.3L2028.5 873.1L2029.0 890.9L2029.5 895.5L2030.0 871.9L2030.5 868.4L2031.0 895.7L2031.5 877.9L2032.0 878.9L2032.5 887.6L2033.0 891.4L2033.5 883.7L2034.0 887.2L2034.5 879.1L2035.1 889.4L2035.6 876.7L2036.1 889.5L2036.6 873.7L2037.1 879.0L2037.6 877.3L2038.1 888.1L2038.6 887.0L2039.1 886.1L2039.6 877.2L2040.1 890.3L2040.6 891.2L2041.1 887.3L2041.6 883.3L2042.1 886.5L2042.6 886.4L2043.1 895.2L2043.6 890.4L2044.1 893.7L2044.6 878.9L2045.1 886.6L2045.6 881.6L2046.1 895.6L2046.6 886.8L2047.1 884.0L2047.6 894.0L2048.1 891.2L2048.6 890.4L2049.1 885.8L2049.6 885.0L2050.1 896.9L2050.6 884.8L2051.1 885.7L2051.6 885.2L2052.1 893.4L2052.6 887.9L2053.1 878.5L2053.6 879.5L2054.1 891.8L2054.6 876.5L2055.1 890.6L2055.6 894.0L2056.1 880.0L2056.6 885.7L2057.1 872.0L2057.6 889.7L2058.1 887.2L2058.6 883.1L2059.1 886.4L2059.6 891.1L2060.1 888.4L2060.6 888.6L2061.1 888.7L2061.6 888.8L2062.1 899.3L2062.6 882.5L2063.1 893.1L2063.6 890.6L2064.1 894.4L2064.6 890.4L2065.1 882.3L2065.6 880.4L2066.1 887.0L2066.6 888.1L2067.1 892.9L2067.6 891.3L2068.1 887.8L2068.6 890.6L2069.1 896.4L2069.6 889.2L2070.1 897.0L2070.7 875.5L2071.2 887.8L2071.7 893.9L2072.2 886.8L2072.7 895.2L2073.2 891.9L2073.7 879.5L2074.2 881.4L2074.7 898.5L2075.2 898.1L2075.7 894.0L2076.2 875.0L2076.7 890.2L2077.2 888.9L2077.7 894.3L2078.2 881.7L2078.7 884.3L2079.2 902.9L2079.7 896.9L2080.2 903.7L2080.7 899.2L2081.2 896.8L2081.7 900.5L2082.2 895.8L2082.7 886.7L2083.2 883.8L2083.7 890.8L2084.2 886.6L2084.7 901.0L2085.2 881.7L2085.7 876.1L2086.2 892.9L2086.7 888.1L2087.2 889.6L2087.7 907.0L2088.2 885.2L2088.7 889.0L2089.2 903.4L2089.7 895.3L2090.2 884.5L2090.7 888.6L2091.2 902.0L2091.7 896.6L2092.2 897.4L2092.7 891.7L2093.2 897.7L2093.7 892.6L2094.2 894.2L2094.7 903.2L2095.2 890.3L2095.7 891.4L2096.2 897.9L2096.7 888.3L2097.2 877.8L2097.7 904.3L2098.2 892.0L2098.7 887.9L2099.2 893.4L2099.7 897.7L2100.2 878.8L2100.7 897.3L2101.2 894.8L2101.7 898.4L2102.2 885.8L2102.7 908.7L2103.2 900.3L2103.7 897.4L2104.2 892.2L2104.7 892.0L2105.2 887.7L2105.7 895.3L2106.2 899.6L2106.8 895.0L2107.3 900.6L2107.8 898.4L2108.3 898.1L2108.8 892.8L2109.3 889.3L2109.8 902.5L2110.3 899.1L2110.8 895.3L2111.3 895.1L2111.8 897.0L2112.3 891.4L2112.8 896.8L2113.3 907.2L2113.8 886.6L2114.3 904.0L2114.8 884.5L2115.3 893.9L2115.8 893.5L2116.3 905.7L2116.8 894.0L2117.3 897.3L2117.8 901.6L2118.3 892.3L2118.8 891.0L2119.3 888.1L2119.8 904.4L2120.3 901.6L2120.8 887.0L2121.3 892.8L2121.8 891.0L2122.3 900.0L2122.8 894.1L2123.3 891.1L2123.8 904.8L2124.3 901.2L2124.8 895.0L2125.3 887.6L2125.8 899.7L2126.3 892.4L2126.8 902.5L2127.3 904.9L2127.8 892.8L2128.3 903.9L2128.8 896.8L2129.3 900.9L2129.8 893.8L2130.3 905.7L2130.8 906.6L2131.3 906.8L2131.8 898.8L2132.3 889.0L2132.8 892.1L2133.3 896.4L2133.8 898.6L2134.3 889.7L2134.8 898.5L2135.3 891.0L2135.8 889.0L2136.3 893.5L2136.8 895.5L2137.3 895.6L2137.8 898.7L2138.3 896.4L2138.8 904.1L2139.3 903.9L2139.8 888.1L2140.3 899.3L2140.8 909.7L2141.3 889.7L2141.8 889.7L2142.3 895.8L2142.9 906.9L2143.4 886.1L2143.9 891.7L2144.4 890.8L2144.9 900.6L2145.4 896.3L2145.9 900.9L2146.4 900.7L2146.9 906.8L2147.4 904.4L2147.9 902.6L2148.4 899.1L2148.9 892.9L2149.4 895.8L2149.9 911.3L2150.4 892.8L2150.9 909.5L2151.4 896.5L2151.9 901.0L2152.4 899.4L2152.9 903.0L2153.4 906.8L2153.9 889.3L2154.4 916.0L2154.9 905.9L2155.4 891.5L2155.9 900.3L2156.4 900.1L2156.9 905.9L2157.4 907.8L2157.9 896.5L2158.4 901.6L2158.9 898.3L2159.4 895.6L2159.9 911.9L2160.4 907.5L2160.9 905.1L2161.4 899.3L2161.9 896.3L2162.4 907.7L2162.9 902.4L2163.4 901.7L2163.9 901.8L2164.4 890.9L2164.9 906.0L2165.4 900.1L2165.9 916.4L2166.4 902.1L2166.9 900.6L2167.4 896.8L2167.9 904.8L2168.4 905.2L2168.9 909.5L2169.4 904.9L2169.9 886.1L2170.4 912.9L2170.9 912.9L2171.4 901.2L2171.9 908.0L2172.4 893.7L2172.9 911.8L2173.4 891.2L2173.9 904.9L2174.4 912.9L2174.9 916.6L2175.4 908.1L2175.9 906.4L2176.4 899.9L2176.9 910.7L2177.4 882.4L2177.9 896.9L2178.5 903.6L2179.0 906.1L2179.5 884.8L2180.0 907.5L2180.5 897.6L2181.0 892.9L2181.5 908.7L2182.0 898.9L2182.5 906.0L2183.0 893.6L2183.5 893.3L2184.0 899.2L2184.5 901.8L2185.0 910.9L2185.5 886.9L2186.0 893.0L2186.5 898.3L2187.0 893.2L2187.5 903.0L2188.0 910.5L2188.5 897.0L2189.0 909.5L2189.5 906.7L2190.0 898.4L2190.5 913.6L2191.0 903.2L2191.5 905.4L2192.0 911.1L2192.5 911.5L2193.0 905.0L2193.5 905.5L2194.0 902.6L2194.5 913.5L2195.0 903.2L2195.5 912.1L2196.0 909.1L2196.5 897.6L2197.0 908.4L2197.5 907.2L2198.0 909.4L2198.5 904.1L2199.0 898.7L2199.5 906.4L2200.0 899.9L2200.5 912.8L2201.0 901.3L2201.5 905.1L2202.0 903.9L2202.5 910.5L2203.0 908.5L2203.5 902.5L2204.0 912.3L2204.5 899.6L2205.0 907.5L2205.5 901.7L2206.0 912.1L2206.5 915.4L2207.0 900.6L2207.5 900.4L2208.0 905.2L2208.5 900.7L2209.0 905.1L2209.5 900.7L2210.0 904.1L2210.5 911.4L2211.0 898.0L2211.5 911.5L2212.0 890.6L2212.5 906.2L2213.0 911.4L2213.5 906.8L2214.0 905.0L2214.6 904.5L2215.1 901.8L2215.6 909.4L2216.1 918.9L2216.6 911.1L2217.1 902.8L2217.6 898.4L2218.1 918.6L2218.6 905.0L2219.1 898.5L2219.6 914.9L2220.1 894.7L2220.6 910.8L2221.1 906.6L2221.6 909.1L2222.1 894.4L2222.6 900.2L2223.1 905.2L2223.6 908.4L2224.1 917.1L2224.6 908.1L2225.1 910.1L2225.6 907.1L2226.1 918.7L2226.6 898.1L2227.1 900.5L2227.6 896.0L2228.1 910.3L2228.6 906.7L2229.1 914.5L2229.6 900.8L2230.1 908.1L2230.6 895.8L2231.1 901.9L2231.6 901.7L2232.1 903.2L2232.6 916.4L2233.1 902.1L2233.6 917.3L2234.1 905.0L2234.6 903.1L2235.1 914.5L2235.6 911.1L2236.1 908.2L2236.6 905.4L2237.1 905.3L2237.6 907.0L2238.1 912.9L2238.6 905.5L2239.1 891.2L2239.6 911.1L2240.1 897.1L2240.6 915.2L2241.1 911.7L2241.6 899.0L2242.1 902.1L2242.6 897.3L2243.1 903.8L2243.6 911.7L2244.1 907.3L2244.6 910.7L2245.1 901.1L2245.6 904.0L2246.1 899.9L2246.6 912.5L2247.1 909.7L2247.6 910.9L2248.1 910.5L2248.6 909.2L2249.1 900.0L2249.6 907.3L2250.1 900.7L2250.7 907.0L2251.2 919.9L2251.7 917.4L2252.2 909.6L2252.7 901.0L2253.2 908.5L2253.7 918.1L2254.2 907.8L2254.7 910.3L2255.2 904.9L2255.7 903.4L2256.2 907.0L2256.7 913.0L2257.2 915.5L2257.7 911.2L2258.2 909.4L2258.7 906.7L2259.2 912.0L2259.7 913.1L2260.2 905.9L2260.7 903.9L2261.2 907.4L2261.7 915.8L2262.2 911.2L2262.7 895.4L2263.2 916.2L2263.7 911.7L2264.2 903.6L2264.7 915.6L2265.2 911.5L2265.7 901.3L2266.2 903.3L2266.7 921.1L2267.2 905.8L2267.7 911.7L2268.2 918.6L2268.7 903.0L2269.2 913.1L2269.7 910.1L2270.2 915.3L2270.7 904.8L2271.2 904.1L2271.7 904.9L2272.2 894.7L2272.7 906.0L2273.2 911.9L2273.7 906.5L2274.2 907.7L2274.7 905.2L2275.2 924.9L2275.7 904.3L2276.2 896.9L2276.7 904.1L2277.2 913.6L2277.7 895.9L2278.2 904.6L2278.7 896.4L2279.2 903.1L2279.7 911.2L2280.2 919.7L2280.7 908.6L2281.2 905.8L2281.7 911.7L2282.2 917.6L2282.7 903.9L2283.2 914.0L2283.7 900.4L2284.2 912.8L2284.7 906.9L2285.2 911.4L2285.7 906.8L2286.3 906.0L2286.8 922.9L2287.3 913.9L2287.8 913.2L2288.3 913.4L2288.8 910.2L2289.3 902.6L2289.8 916.3L2290.3 906.5L2290.8 912.5L2291.3 914.5L2291.8 919.5L2292.3 915.1L2292.8 917.2L2293.3 907.4L2293.8 900.7L2294.3 907.0L2294.8 905.8L2295.3 915.6L2295.8 906.1L2296.3 915.9L2296.8 916.5L2297.3 909.1L2297.8 914.8L2298.3 906.8L2298.8 909.9L2299.3 912.6L2299.8 914.6L2300.3 909.7L2300.8 909.3L2301.3 910.5L2301.8 904.0L2302.3 914.7L2302.8 919.8L2303.3 919.4L2303.8 917.3L2304.3 917.0L2304.8 912.1L2305.3 901.0L2305.8 917.7L2306.3 916.7L2306.8 914.7L2307.3 917.6L2307.8 916.3L2308.3 907.1L2308.8 903.6L2309.3 916.0L2309.8 912.1L2310.3 905.9L2310.8 909.7L2311.3 912.9L2311.8 909.6L2312.3 912.5L2312.8 916.1L2313.3 908.7L2313.8 915.9L2314.3 915.1L2314.8 910.2L2315.3 919.2L2315.8 907.7L2316.3 916.7L2316.8 918.3L2317.3 908.9L2317.8 908.2L2318.3 906.5L2318.8 904.1L2319.3 918.6L2319.8 914.1L2320.3 919.2L2320.8 917.2L2321.3 907.3L2321.8 910.8L2322.4 911.1L2322.9 910.2L2323.4 915.4L2323.9 905.1L2324.4 919.0L2324.9 908.9L2325.4 916.6L2325.9 918.7L2326.4 900.8L2326.9 915.4L2327.4 909.0L2327.9 918.1L2328.4 917.8L2328.9 906.0L2329.4 910.9L2329.9 913.0L2330.4 910.6L2330.9 909.8L2331.4 908.4L2331.9 910.6L2332.4 909.5L2332.9 911.8L2333.4 912.9L2333.9 907.0L2334.4 927.1L2334.9 908.8L2335.4 913.7L2335.9 912.8L2336.4 915.5L2336.9 918.3L2337.4 910.4L2337.9 921.4L2338.4 920.2L2338.9 920.3L2339.4 904.4L2339.9 914.5L2340.4 914.6L2340.9 923.1L2341.4 914.2L2341.9 909.6L2342.4 921.4L2342.9 914.4L2343.4 913.6L2343.9 911.2L2344.4 909.0L2344.9 903.0L2345.4 915.1L2345.9 915.0L2346.4 919.0L2346.9 909.4L2347.4 915.5L2347.9 912.5L2348.4 911.1L2348.9 916.3L2349.4 916.5L2349.9 914.5L2350.4 914.6L2350.9 915.2L2351.4 916.4L2351.9 915.8L2352.4 908.3L2352.9 919.3L2353.4 915.1L2353.9 915.6L2354.4 909.2L2354.9 918.8L2355.4 917.2L2355.9 918.8L2356.4 911.0L2356.9 912.0L2357.4 913.2L2357.9 915.0L2358.5 902.4L2359.0 914.1L2359.5 927.5L2360.0 924.7L2360.5 924.4L2361.0 918.7L2361.5 925.2L2362.0 916.1L2362.5 924.8L2363.0 916.6L2363.5 920.1L2364.0 913.3L2364.5 915.6L2365.0 922.2L2365.5 905.6L2366.0 923.2L2366.5 919.7L2367.0 924.9L2367.5 910.7L2368.0 910.9L2368.5 917.2L2369.0 931.4L2369.5 912.0L2370.0 906.0L2370.5 922.1L2371.0 914.0L2371.5 911.4L2372.0 916.6L2372.5 924.0L2373.0 918.1L2373.5 920.8L2374.0 913.7L2374.5 927.6L2375.0 913.9L2375.5 916.7L2376.0 926.5"/>
<path stroke="#FF0000" d="M218.0 -200.0L218.5 -200.0L219.0 -200.0L219.5 -200.0L220.0 -185.8L220.5 -152.0L221.0 -81.1L221.5 -87.0L222.0 -49.6L222.5 -110.5L223.0 -32.0L223.5 -3.5L224.0 13.3L224.5 41.4L225.0 73.6L225.5 97.6L226.0 118.2L226.5 157.5L227.0 161.3L227.5 203.9L228.0 220.5L228.5 213.3L229.0 245.6L229.5 275.8L230.0 281.5L230.5 279.6L231.0 266.0L231.5 309.3L232.0 316.2L232.5 303.3L233.0 339.6L233.5 336.6L234.0 324.7L234.5 336.2L235.0 350.8L235.5 349.5L236.0 411.1L236.5 361.1L237.0 399.8L237.5 419.2L238.1 398.9L238.6 401.2L239.1 426.0L239.6 442.6L240.1 433.2L240.6 440.3L241.1 424.9L241.6 439.5L242.1 452.3L242.6 444.0L243.1 467.1L243.6 481.7L244.1 465.0L244.6 469.6L245.1 485.5L245.6 498.3L246.1 489.7L246.6 532.5L247.1 495.0L247.6 503.7L248.1 538.3L248.6 521.3L249.1 540.4L249.6 522.8L250.1 564.1L250.6 553.3L251.1 535.7L251.6 533.3L252.1 579.5L252.6 561.2L253.1 553.6L253.6 568.6L254.1 543.3L254.6 581.5L255.1 564.4L255.6 584.7L256.1 556.0L256.6 576.4L257.1 583.0L257.6 601.9L258.1 561.4L258.6 574.9L259.1 576.8L259.6 573.8L260.1 585.3L260.6 599.2L261.1 602.7L261.6 604.2L262.1 578.9L262.6 615.2L263.1 605.9L263.6 603.9L264.1 598.5L264.6 595.4L265.1 618.9L265.6 626.0L266.1 606.1L266.6 592.4L267.1 599.1L267.6 606.8L268.1 614.4L268.6 608.1L269.1 615.7L269.6 604.0L270.1 624.5L270.6 614.4L271.1 618.5L271.6 611.8L272.1 616.8L272.6 590.2L273.1 604.1L273.6 605.4L274.2 648.8L274.7 629.9L275.2 634.3L275.7 621.8L276.2 656.1L276.7 616.1L277.2 618.1L277.7 646.6L278.2 643.3L278.7 641.8L279.2 632.3L279.7 625.8L280.2 609.8L280.7 636.6L281.2 625.7L281.7 633.3L282.2 614.8L282.7 627.0L283.2 620.0L283.7 648.8L284.2 638.6L284.7 646.0L285.2 618.8L285.7 628.7L286.2 639.9L286.7 641.5L287.2 630.3L287.7 643.9L288.2 646.3L288.7 629.4L289.2 605.7L289.7 637.1L290.2 640.3L290.7 647.1L291.2 648.5L291.7 626.1L292.2 621.7L292.7 631.1L293.2 626.7L293.7 628.7L294.2 627.8L294.7 646.8L295.2 633.4L295.7 625.8L296.2 635.5L296.7 630.9L297.2 634.0L297.7 627.1L298.2 611.9L298.7 625.8L299.2 621.6L299.7 608.7L300.2 609.5L300.7 595.6L301.2 639.8L301.7 602.9L302.2 617.7L302.7 608.7L303.2 598.6L303.7 593.9L304.2 592.6L304.7 601.6L305.2 581.8L305.7 603.0L306.2 599.1L306.7 585.3L307.2 599.6L307.7 563.6L308.2 575.1L308.7 557.7L309.2 582.1L309.7 583.2L310.3 572.7L310.8 561.8L311.3 574.8L311.8 558.5L312.3 559.5L312.8 534.3L313.3 559.5L313.8 533.1L314.3 550.7L314.8 550.2L315.3 541.9L315.8 543.2L316.3 520.1L316.8 502.8L317.3 508.9L317.8 497.2L318.3 478.1L318.8 491.5L319.3 487.5L319.8 489.3L320.3 503.5L320.8 466.5L321.3 497.6L321.8 460.0L322.3 465.5L322.8 445.8L323.3 459.3L323.8 466.8L324.3 446.9L324.8 457.2L325.3 449.0L325.8 443.1L326.3 443.1L326.8 441.5L327.3 448.5L327.8 437.0L328.3 463.1L328.8 432.5L329.3 445.5L329.8 409.7L330.3 405.4L330.8 450.6L331.3 418.8L331.8 422.3L332.3 437.2L332.8 418.1L333.3 438.3L333.8 464.0L334.3 449.7L334.8 455.1L335.3 457.8L335.8 482.4L336.3 462.3L336.8 466.6L337.3 498.6L337.8 497.7L338.3 495.5L338.8 507.7L339.3 481.8L339.8 508.3L340.3 531.0L340.8 534.4L341.3 530.9L341.8 505.5L342.3 542.5L342.8 541.5L343.3 537.6L343.8 544.7L344.3 514.1L344.8 550.3L345.3 533.0L345.9 539.8L346.4 533.0L346.9 555.6L347.4 516.2L347.9 540.1L348.4 537.2L348.9 549.3L349.4 545.9L349.9 528.2L350.4 522.0L350.9 524.4L351.4 517.7L351.9 523.5L352.4 531.9L352.9 520.6L353.4 523.1L353.9 531.7L354.4 520.1L354.9 512.0L355.4 525.3L355.9 532.6L356.4 517.7L356.9 501.5L357.4 529.0L357.9 526.9L358.4 526.9L358.9 508.3L359.4 548.6L359.9 518.7L360.4 507.3L360.9 533.5L361.4 502.3L361.9 514.6L362.4 528.6L362.9 518.1L363.4 540.8L363.9 527.4L364.4 494.9L364.9 530.8L365.4 493.7L365.9 519.0L366.4 504.0L366.9 516.2L367.4 546.4L367.9 523.4L368.4 512.6L368.9 530.0L369.4 532.0L369.9 508.4L370.4 521.4L370.9 534.8L371.4 520.5L371.9 499.0L372.4 516.3L372.9 496.6L373.4 487.8L373.9 507.3L374.4 522.3L374.9 523.9L375.4 505.8L375.9 492.8L376.4 500.3L376.9 495.7L377.4 508.4L377.9 497.5L378.4 507.3L378.9 504.5L379.4 516.9L379.9 520.0L380.4 504.3L380.9 512.1L381.4 509.3L382.0 486.2L382.5 496.1L383.0 453.9L383.5 480.4L384.0 501.0L384.5 480.9L385.0 486.0L385.5 499.6L386.0 474.2L386.5 499.3L387.0 530.1L387.5 476.2L388.0 495.0L388.5 465.2L389.0 494.0L389.5 500.6L390.0 462.1L390.5 497.7L391.0 479.2L391.5 461.2L392.0 479.0L392.5 481.0L393.0 477.8L393.5 466.8L394.0 489.0L394.5 468.6L395.0 468.3L395.5 443.1L396.0 479.6L396.5 487.0L397.0 463.2L397.5 478.3L398.0 468.0L398.5 469.5L399.0 454.2L399.5 479.1L400.0 470.5L400.5 504.3L401.0 480.2L401.5 445.4L402.0 475.9L402.5 475.5L403.0 482.1L403.5 456.0L404.0 461.0L404.5 479.6L405.0 452.7L405.5 457.8L406.0 450.2L406.5 469.2L407.0 434.9L407.5 453.0L408.0 459.9L408.5 464.9L409.0 460.4L409.5 444.2L410.0 459.6L410.5 439.9L411.0 446.4L411.5 434.9L412.0 441.9L412.5 453.8L413.0 479.6L413.5 447.6L414.0 440.0L414.5 448.4L415.0 442.2L415.5 456.3L416.0 454.4L416.5 461.8L417.0 428.3L417.5 444.9L418.1 453.7L418.6 465.1L419.1 447.6L419.6 424.2L420.1 437.6L420.6 454.0L421.1 422.5L421.6 421.9L422.1 427.8L422.6 429.9L423.1 424.1L423.6 432.3L424.1 428.4L424.6 450.2L425.1 416.7L425.6 434.4L426.1 408.0L426.6 466.1L427.1 425.9L427.6 421.3L428.1 439.9L428.6 427.9L429.1 423.1L429.6 425.0L430.1 440.6L430.6 434.4L431.1 417.0L431.6 412.8L432.1 429.4L432.6 429.2L433.1 426.9L433.6 414.3L434.1 444.2L434.6 447.8L435.1 426.2L435.6 443.7L436.1 435.8L436.6 425.6L437.1 419.4L437.6 441.7L438.1 414.0L438.6 451.2L439.1 417.1L439.6 447.7L440.1 443.0L440.6 414.8L441.1 429.8L441.6 435.2L442.1 429.9L442.6 416.4L443.1 423.7L443.6 423.2L444.1 407.2L444.6 432.9L445.1 429.2L445.6 429.8L446.1 405.0L446.6 407.6L447.1 403.2L447.6 422.4L448.1 424.2L448.6 409.5L449.1 427.7L449.6 409.8L450.1 411.4L450.6 432.1L451.1 423.2L451.6 423.7L452.1 396.6L452.6 384.1L453.1 423.4L453.7 421.7L454.2 455.3L454.7 418.8L455.2 422.0L455.7 437.6L456.2 410.5L456.7 444.8L457.2 425.1L457.7 419.9L458.2 440.2L458.7 409.4L459.2 406.5L459.7 442.2L460.2 442.5L460.7 413.1L461.2 422.4L461.7 439.6L462.2 426.2L462.7 423.5L463.2 424.0L463.7 409.9L464.2 416.3L464.7 396.1L465.2 401.9L465.7 412.0L466.2 406.2L466.7 402.6L467.2 411.6L467.7 439.8L468.2 409.4L468.7 420.9L469.2 398.3L469.7 420.6L470.2 414.3L470.7 417.1L471.2 397.4L471.7 419.3L472.2 425.9L472.7 417.4L473.2 428.4L473.7 419.6L474.2 422.0L474.7 418.0L475.2 393.8L475.7 427.9L476.2 421.4L476.7 424.9L477.2 412.2L477.7 439.3L478.2 432.2L478.7 422.7L479.2 414.3L479.7 423.0L480.2 429.7L480.7 435.2L481.2 415.2L481.7 401.7L482.2 418.2L482.7 420.3L483.2 416.7L483.7 437.1L484.2 428.1L484.7 427.6L485.2 419.6L485.7 424.6L486.2 442.0L486.7 408.1L487.2 400.1L487.7 428.8L488.2 419.3L488.7 421.5L489.2 414.2L489.8 447.4L490.3 402.6L490.8 433.2L491.3 408.2L491.8 425.7L492.3 432.8L492.8 429.4L493.3 414.6L493.8 440.4L494.3 433.6L494.8 435.4L495.3 453.6L495.8 410.1L496.3 420.8L496.8 429.8L497.3 412.9L497.8 443.9L498.3 431.4L498.8 405.6L499.3 416.6L499.8 463.4L500.3 479.7L500.8 446.7L501.3 416.5L501.8 439.0L502.3 435.6L502.8 424.0L503.3 445.9L503.8 430.3L504.3 422.2L504.8 427.3L505.3 428.6L505.8 443.4L506.3 427.6L506.8 441.6L507.3 416.9L507.8 399.1L508.3 447.2L508.8 468.3L509.3 443.4L509.8 432.3L510.3 423.0L510.8 423.0L511.3 450.2L511.8 450.7L512.3 421.5L512.8 455.9L513.3 424.9L513.8 444.3L514.3 430.5L514.8 431.8L515.3 431.2L515.8 431.0L516.3 457.4L516.8 439.4L517.3 443.9L517.8 440.2L518.3 427.4L518.8 449.4L519.3 456.2L519.8 456.8L520.3 451.3L520.8 436.6L521.3 459.5L521.8 431.7L522.3 444.6L522.8 452.4L523.3 468.7L523.8 446.6L524.3 440.7L524.8 476.2L525.3 434.5L525.9 428.5L526.4 447.6L526.9 445.9L527.4 419.0L527.9 436.2L528.4 466.9L528.9 454.9L529.4 457.3L529.9 457.6L530.4 489.5L530.9 445.6L531.4 465.8L531.9 454.9L532.4 459.5L532.9 445.7L533.4 462.6L533.9 470.1L534.4 451.8L534.9 439.9L535.4 464.7L535.9 441.2L536.4 457.3L536.9 468.9L537.4 440.3L537.9 473.8L538.4 448.4L538.9 470.1L539.4 457.2L539.9 481.3L540.4 476.1L540.9 449.8L541.4 462.5L541.9 465.1L542.4 472.2L542.9 460.2L543.4 486.5L543.9 483.0L544.4 470.0L544.9 479.9L545.4 478.4L545.9 470.0L546.4 471.4L546.9 473.0L547.4 447.0L547.9 456.6L548.4 454.0L548.9 472.0L549.4 479.1L549.9 492.8L550.4 477.8L550.9 502.5L551.4 482.0L551.9 463.6L552.4 452.1L552.9 461.7L553.4 487.6L553.9 469.2L554.4 487.5L554.9 465.5L555.4 479.0L555.9 465.9L556.4 442.6L556.9 466.0L557.4 446.9L557.9 477.3L558.4 484.8L558.9 462.2L559.4 457.2L559.9 489.3L560.4 481.0L560.9 502.5L561.5 485.8L562.0 471.3L562.5 485.2L563.0 492.4L563.5 504.5L564.0 480.5L564.5 475.0L565.0 478.3L565.5 483.6L566.0 505.2L566.5 463.9L567.0 489.5L567.5 491.3L568.0 479.7L568.5 520.1L569.0 491.8L569.5 493.4L570.0 487.0L570.5 474.2L571.0 486.7L571.5 518.9L572.0 499.0L572.5 492.1L573.0 493.5L573.5 513.6L574.0 519.4L574.5 489.8L575.0 493.2L575.5 498.7L576.0 522.5L576.5 475.4L577.0 539.6L577.5 505.6L578.0 472.8L578.5 503.9L579.0 499.2L579.5 518.9L580.0 485.0L580.5 521.5L581.0 501.0L581.5 503.1L582.0 519.7L582.5 494.0L583.0 525.7L583.5 516.3L584.0 507.9L584.5 513.6L585.0 502.2L585.5 496.5L586.0 513.5L586.5 517.3L587.0 517.5L587.5 516.0L588.0 500.6L588.5 514.9L589.0 507.0L589.5 514.2L590.0 524.8L590.5 502.4L591.0 528.4L591.5 514.9L592.0 495.5L592.5 530.6L593.0 517.1L593.5 538.1L594.0 524.2L594.5 537.8L595.0 523.1L595.5 526.0L596.0 517.5L596.5 498.5L597.0 516.4L597.6 511.9L598.1 521.8L598.6 524.9L599.1 533.2L599.6 546.6L600.1 522.1L600.6 501.8L601.1 517.6L601.6 531.5L602.1 502.9L602.6 531.1L603.1 534.0L603.6 542.4L604.1 539.5L604.6 530.5L605.1 501.1L605.6 530.8L606.1 542.2L606.6 537.0L607.1 532.4L607.6 552.6L608.1 528.7L608.6 521.6L609.1 527.1L609.6 523.8L610.1 549.3L610.6 555.1L611.1 516.2L611.6 519.2L612.1 554.4L612.6 531.8L613.1 534.6L613.6 528.3L614.1 533.1L614.6 542.9L615.1 534.2L615.6 535.2L616.1 538.3L616.6 562.5L617.1 577.9L617.6 549.4L618.1 560.9L618.6 536.7L619.1 531.1L619.6 537.5L620.1 546.2L620.6 540.9L621.1 527.0L621.6 552.2L622.1 531.1L622.6 534.4L623.1 540.7L623.6 525.6L624.1 554.4L624.6 533.2L625.1 558.0L625.6 556.4L626.1 560.7L626.6 541.5L627.1 560.0L627.6 547.6L628.1 563.5L628.6 535.4L629.1 525.9L629.6 547.2L630.1 529.3L630.6 543.8L631.1 523.5L631.6 550.7L632.1 572.8L632.6 533.7L633.1 555.1L633.7 567.3L634.2 562.9L634.7 575.8L635.2 557.5L635.7 569.6L636.2 537.2L636.7 548.3L637.2 578.6L637.7 577.2L638.2 565.6L638.7 583.5L639.2 560.7L639.7 560.3L640.2 570.1L640.7 567.7L641.2 554.8L641.7 543.5L642.2 543.1L642.7 562.3L643.2 552.3L643.7 573.1L644.2 558.9L644.7 576.9L645.2 555.9L645.7 581.5L646.2 578.5L646.7 566.8L647.2 560.1L647.7 586.0L648.2 575.0L648.7 566.9L649.2 566.2L649.7 580.3L650.2 568.9L650.7 574.0L651.2 553.4L651.7 564.6L652.2 588.9L652.7 600.5L653.2 571.9L653.7 558.7L654.2 571.9L654.7 563.5L655.2 581.2L655.7 592.8L656.2 566.7L656.7 575.3L657.2 568.5L657.7 594.9L658.2 575.8L658.7 586.4L659.2 568.9L659.7 586.8L660.2 587.6L660.7 587.8L661.2 565.1L661.7 581.1L662.2 591.4L662.7 595.2L663.2 595.9L663.7 565.1L664.2 606.5L664.7 594.9L665.2 576.8L665.7 570.5L666.2 587.5L666.7 576.4L667.2 577.2L667.7 574.8L668.2 587.0L668.7 567.4L669.3 585.8L669.8 569.7L670.3 602.8L670.8 577.9L671.3 605.6L671.8 609.0L672.3 584.6L672.8 601.5L673.3 586.1L673.8 605.3L674.3 572.6L674.8 592.8L675.3 607.3L675.8 591.5L676.3 583.2L676.8 604.0L677.3 588.5L677.8 570.1L678.3 585.0L678.8 596.2L679.3 603.5L679.8 589.8L680.3 615.9L680.8 635.0L681.3 606.2L681.8 611.7L682.3 577.4L682.8 597.5L683.3 611.7L683.8 614.2L684.3 594.2L684.8 610.9L685.3 608.2L685.8 602.6L686.3 600.7L686.8 601.0L687.3 601.1L687.8 587.0L688.3 582.5L688.8 623.8L689.3 572.5L689.8 602.7L690.3 589.5L690.8 614.0L691.3 601.4L691.8 603.1L692.3 604.7L692.8 596.1L693.3 599.1L693.8 619.4L694.3 608.9L694.8 599.0L695.3 599.9L695.8 612.6L696.3 612.3L696.8 611.1L697.3 623.0L697.8 625.5L698.3 591.3L698.8 615.4L699.3 609.8L699.8 620.4L700.3 596.0L700.8 590.8L701.3 615.0L701.8 606.5L702.3 622.1L702.8 592.1L703.3 602.5L703.8 624.1L704.3 599.3L704.8 610.4L705.4 610.0L705.9 611.1L706.4 623.7L706.9 622.5L707.4 608.9L707.9 617.3L708.4 628.4L708.9 593.0L709.4 620.2L709.9 624.7L710.4 626.7L710.9 610.4L711.4 607.3L711.9 616.4L712.4 609.2L712.9 637.9L713.4 624.7L713.9 626.2L714.4 620.9L714.9 615.4L715.4 645.9L715.9 584.6L716.4 632.6L716.9 618.4L717.4 613.0L717.9 613.1L718.4 620.7L718.9 658.5L719.4 637.1L719.9 615.5L720.4 635.8L720.9 637.7L721.4 653.5L721.9 611.4L722.4 620.1L722.9 637.1L723.4 628.4L723.9 628.4L724.4 640.8L724.9 631.1L725.4 625.2L725.9 622.0L726.4 613.9L726.9 628.9L727.4 635.0L727.9 625.1L728.4 637.6L728.9 645.3L729.4 617.3L729.9 635.6L730.4 630.0L730.9 624.1L731.4 645.1L731.9 624.8L732.4 627.4L732.9 634.1L733.4 628.7L733.9 642.5L734.4 659.8L734.9 637.6L735.4 645.2L735.9 624.6L736.4 632.0L736.9 641.7L737.4 635.2L737.9 620.2L738.4 623.1L738.9 632.3L739.4 631.9L739.9 640.5L740.4 639.1L740.9 631.0L741.5 639.6L742.0 635.0L742.5 651.8L743.0 658.6L743.5 659.2L744.0 644.8L744.5 624.5L745.0 626.5L745.5 652.2L746.0 659.1L746.5 632.0L747.0 636.1L747.5 657.7L748.0 629.8L748.5 640.4L749.0 627.3L749.5 639.0L750.0 633.0L750.5 639.9L751.0 655.0L751.5 646.9L752.0 652.3L752.5 635.1L753.0 656.6L753.5 663.1L754.0 637.8L754.5 632.7L755.0 629.5L755.5 633.9L756.0 664.3L756.5 655.2L757.0 653.7L757.5 648.0L758.0 672.9L758.5 648.4L759.0 645.4L759.5 659.8L760.0 647.8L760.5 635.7L761.0 649.2L761.5 637.8L762.0 638.6L762.5 645.8L763.0 646.4L763.5 655.4L764.0 637.1L764.5 657.1L765.0 660.0L765.5 644.1L766.0 660.8L766.5 647.9L767.0 640.9L767.5 652.4L768.0 652.4L768.5 643.3L769.0 645.5L769.5 672.0L770.0 669.7L770.5 639.7L771.0 650.7L771.5 679.2L772.0 671.1L772.5 655.7L773.0 667.4L773.5 651.1L774.0 655.8L774.5 651.4L775.0 670.6L775.5 650.4L776.0 635.4L776.5 667.1L777.1 643.3L777.6 647.3L778.1 651.4L778.6 659.8L779.1 672.5L779.6 669.5L780.1 651.1L780.6 648.9L781.1 646.4L781.6 649.6L782.1 650.5L782.6 665.9L783.1 674.9L783.6 659.2L784.1 656.0L784.6 661.0L785.1 679.4L785.6 668.3L786.1 679.4L786.6 661.3L787.1 675.1L787.6 665.3L788.1 660.0L788.6 662.4L789.1 648.7L789.6 676.9L790.1 689.3L790.6 654.3L791.1 649.4L791.6 649.3L792.1 662.5L792.6 659.8L793.1 664.8L793.6 681.0L794.1 673.1L794.6 661.3L795.1 673.6L795.6 646.0L796.1 685.0L796.6 672.8L797.1 655.7L797.6 675.2L798.1 681.4L798.6 684.1L799.1 677.3L799.6 652.5L800.1 665.0L800.6 664.1L801.1 675.9L801.6 660.9L802.1 669.4L802.6 681.1L803.1 676.1L803.6 669.1L804.1 658.5L804.6 672.4L805.1 666.4L805.6 649.7L806.1 681.4L806.6 686.6L807.1 662.0L807.6 668.3L808.1 674.5L808.6 670.7L809.1 677.6L809.6 668.4L810.1 678.1L810.6 665.7L811.1 687.8L811.6 684.1L812.1 673.9L812.6 680.7L813.2 667.9L813.7 676.3L814.2 682.1L814.7 674.0L815.2 682.4L815.7 694.0L816.2 689.5L816.7 686.0L817.2 682.5L817.7 676.4L818.2 667.6L818.7 671.8L819.2 658.4L819.7 664.2L820.2 680.5L820.7 660.4L821.2 665.8L821.7 684.0L822.2 675.7L822.7 667.3L823.2 676.9L823.7 668.5L824.2 675.5L824.7 672.3L825.2 683.7L825.7 676.2L826.2 684.6L826.7 673.3L827.2 699.5L827.7 677.3L828.2 667.4L828.7 674.9L829.2 681.8L829.7 675.7L830.2 691.1L830.7 691.1L831.2 686.0L831.7 683.8L832.2 671.7L832.7 692.3L833.2 671.6L833.7 700.0L834.2 691.5L834.7 683.3L835.2 670.3L835.7 689.9L836.2 706.9L836.7 678.8L837.2 683.9L837.7 695.6L838.2 695.3L838.7 691.6L839.2 683.0L839.7 676.9L840.2 700.5L840.7 659.3L841.2 685.0L841.7 688.8L842.2 677.4L842.7 683.7L843.2 659.4L843.7 673.1L844.2 689.3L844.7 689.7L845.2 691.0L845.7 689.4L846.2 678.4L846.7 692.9L847.2 668.3L847.7 687.0L848.2 687.8L848.7 675.9L849.3 708.1L849.8 696.8L850.3 680.1L850.8 686.7L851.3 687.0L851.8 682.7L852.3 693.7L852.8 689.1L853.3 702.2L853.8 707.9L854.3 673.7L854.8 697.8L855.3 695.6L855.8 672.6L856.3 676.4L856.8 693.8L857.3 693.9L857.8 689.2L858.3 698.8L858.8 682.5L859.3 687.0L859.8 687.2L860.3 680.5L860.8 681.0L861.3 668.9L861.8 672.5L862.3 707.7L862.8 679.4L863.3 701.5L863.8 704.9L864.3 681.7L864.8 697.2L865.3 693.0L865.8 678.0L866.3 697.0L866.8 699.6L867.3 686.3L867.8 676.7L868.3 684.3L868.8 707.0L869.3 697.3L869.8 691.9L870.3 669.3L870.8 680.7L871.3 681.2L871.8 677.4L872.3 693.9L872.8 685.4L873.3 685.3L873.8 701.3L874.3 691.0L874.8 684.7L875.3 702.6L875.8 682.1L876.3 682.7L876.8 679.8L877.3 699.5L877.8 689.9L878.3 675.4L878.8 682.6L879.3 699.8L879.8 688.8L880.3 675.8L880.8 692.1L881.3 687.2L881.8 663.5L882.3 691.8L882.8 692.6L883.3 702.3L883.8 698.6L884.3 675.3L884.9 693.0L885.4 704.4L885.9 701.7L886.4 691.5L886.9 683.3L887.4 699.7L887.9 683.9L888.4 697.0L888.9 687.8L889.4 686.1L889.9 685.2L890.4 696.5L890.9 693.6L891.4 686.4L891.9 705.9L892.4 690.0L892.9 686.4L893.4 680.7L893.9 692.4L894.4 694.0L894.9 690.5L895.4 700.0L895.9 694.4L896.4 687.7L896.9 689.1L897.4 703.5L897.9 695.8L898.4 715.2L898.9 683.6L899.4 698.1L899.9 689.8L900.4 704.3L900.9 693.3L901.4 687.6L901.9 681.8L902.4 707.2L902.9 683.4L903.4 694.3L903.9 701.0L904.4 687.4L904.9 695.8L905.4 695.8L905.9 700.3L906.4 690.2L906.9 692.3L907.4 694.6L907.9 703.1L908.4 698.3L908.9 688.4L909.4 678.9L909.9 693.1L910.4 677.4L910.9 692.9L911.4 704.6L911.9 686.0L912.4 703.3L912.9 688.5L913.4 681.2L913.9 696.2L914.4 693.8L914.9 666.1L915.4 690.3L915.9 690.0L916.4 684.4L916.9 693.9L917.4 693.8L917.9 688.8L918.4 718.8L918.9 677.6L919.4 704.5L919.9 704.6L920.4 687.1L921.0 692.6L921.5 706.5L922.0 690.6L922.5 705.3L923.0 700.5L923.5 709.2L924.0 701.9L924.5 688.6L925.0 691.6L925.5 689.6L926.0 683.0L926.5 693.4L927.0 700.1L927.5 696.0L928.0 675.1L928.5 692.6L929.0 689.5L929.5 694.0L930.0 690.3L930.5 688.3L931.0 693.1L931.5 694.7L932.0 701.4L932.5 702.1L933.0 688.6L933.5 684.9L934.0 683.0L934.5 692.4L935.0 701.9L935.5 686.2L936.0 686.3L936.5 709.2L937.0 684.3L937.5 686.6L938.0 674.9L938.5 705.1L939.0 706.7L939.5 684.4L940.0 712.3L940.5 700.7L941.0 704.6L941.5 703.7L942.0 713.3L942.5 695.3L943.0 682.1L943.5 687.8L944.0 687.8L944.5 696.4L945.0 676.9L945.5 686.7L946.0 681.0L946.5 709.1L947.0 688.6L947.5 704.6L948.0 688.4L948.5 690.0L949.0 704.3L949.5 690.1L950.0 679.4L950.5 686.5L951.0 685.5L951.5 701.1L952.0 699.1L952.5 703.7L953.0 690.2L953.5 678.7L954.0 686.8L954.5 691.4L955.0 703.5L955.5 686.5L956.0 693.8L956.5 711.8L957.1 709.8L957.6 694.7L958.1 700.6L958.6 673.0L959.1 690.4L959.6 702.0L960.1 696.0L960.6 673.4L961.1 700.8L961.6 682.1L962.1 685.6L962.6 674.4L963.1 684.5L963.6 694.5L964.1 684.4L964.6 689.3L965.1 679.4L965.6 690.5L966.1 668.3L966.6 690.8L967.1 684.8L967.6 696.7L968.1 688.1L968.6 689.1L969.1 687.4L969.6 679.4L970.1 695.0L970.6 698.2L971.1 676.9L971.6 692.0L972.1 696.1L972.6 676.2L973.1 680.2L973.6 717.3L974.1 692.6L974.6 679.9L975.1 679.3L975.6 693.8L976.1 671.2L976.6 696.7L977.1 690.5L977.6 686.6L978.1 687.9L978.6 679.0L979.1 676.6L979.6 688.1L980.1 672.4L980.6 694.9L981.1 689.7L981.6 668.6L982.1 686.2L982.6 675.6L983.1 691.8L983.6 689.9L984.1 688.1L984.6 685.0L985.1 690.4L985.6 686.5L986.1 679.3L986.6 673.4L987.1 685.2L987.6 679.3L988.1 676.3L988.6 697.9L989.1 703.2L989.6 668.4L990.1 671.6L990.6 685.2L991.1 681.9L991.6 695.9L992.1 700.7L992.7 682.1L993.2 701.6L993.7 675.4L994.2 692.7L994.7 682.0L995.2 664.0L995.7 664.4L996.2 687.9L996.7 673.2L997.2 696.0L997.7 691.1L998.2 680.6L998.7 669.4L999.2 690.7L999.7 678.4L1000.2 683.2L1000.7 698.0L1001.2 685.6L1001.7 667.6L1002.2 684.9L1002.7 678.3L1003.2 674.7L1003.7 691.7L1004.2 670.1L1004.7 667.0L1005.2 665.9L1005.7 668.9L1006.2 688.3L1006.7 689.5L1007.2 691.6L1007.7 692.8L1008.2 691.5L1008.7 671.8L1009.2 666.6L1009.7 689.6L1010.2 673.5L1010.7 696.2L1011.2 685.8L1011.7 693.1L1012.2 699.9L1012.7 681.4L1013.2 681.0L1013.7 686.3L1014.2 687.4L1014.7 692.4L1015.2 682.9L1015.7 688.0L1016.2 678.7L1016.7 694.5L1017.2 678.6L1017.7 675.4L1018.2 667.2L1018.7 669.2L1019.2 678.6L1019.7 688.1L1020.2 700.6L1020.7 680.5L1021.2 664.7L1021.7 661.9L1022.2 708.1L1022.7 688.3L1023.2 683.7L1023.7 691.2L1024.2 677.6L1024.7 679.1L1025.2 685.1L1025.7 679.7L1026.2 696.8L1026.7 689.8L1027.2 688.8L1027.7 668.9L1028.2 696.7L1028.8 680.9L1029.3 669.9L1029.8 679.0L1030.3 669.3L1030.8 685.3L1031.3 673.2L1031.8 667.9L1032.3 653.0L1032.8 669.6L1033.3 661.7L1033.8 677.2L1034.3 676.1L1034.8 659.7L1035.3 670.5L1035.8 661.1L1036.3 668.8L1036.8 653.0L1037.3 650.0L1037.8 685.6L1038.3 655.5L1038.8 671.2L1039.3 670.6L1039.8 677.0L1040.3 667.6L1040.8 687.8L1041.3 683.4L1041.8 683.7L1042.3 671.8L1042.8 664.7L1043.3 666.6L1043.8 670.5L1044.3 681.1L1044.8 693.9L1045.3 669.7L1045.8 672.4L1046.3 669.9L1046.8 657.9L1047.3 675.7L1047.8 675.8L1048.3 699.2L1048.8 667.0L1049.3 673.6L1049.8 681.2L1050.3 668.5L1050.8 684.3L1051.3 678.6L1051.8 650.5L1052.3 663.9L1052.8 661.8L1053.3 663.6L1053.8 664.7L1054.3 669.5L1054.8 646.0L1055.3 672.2L1055.8 663.1L1056.3 673.6L1056.8 674.9L1057.3 698.1L1057.8 692.2L1058.3 653.2L1058.8 653.7L1059.3 675.1L1059.8 670.5L1060.3 663.1L1060.8 680.9L1061.3 649.8L1061.8 681.1L1062.3 677.3L1062.8 700.0L1063.3 651.9L1063.8 668.0L1064.3 650.3L1064.9 679.5L1065.4 664.3L1065.9 667.1L1066.4 665.5L1066.9 644.2L1067.4 641.8L1067.9 651.6L1068.4 671.4L1068.9 656.6L1069.4 651.3L1069.9 659.9L1070.4 659.6L1070.9 660.3L1071.4 675.7L1071.9 662.6L1072.4 647.0L1072.9 676.1L1073.4 663.7L1073.9 655.0L1074.4 679.6L1074.9 665.5L1075.4 682.9L1075.9 670.3L1076.4 679.2L1076.9 673.2L1077.4 668.3L1077.9 665.7L1078.4 664.6L1078.9 689.4L1079.4 643.9L1079.9 664.7L1080.4 673.8L1080.9 668.3L1081.4 657.4L1081.9 672.1L1082.4 665.2L1082.9 665.6L1083.4 653.8L1083.9 668.2L1084.4 654.3L1084.9 655.3L1085.4 660.7L1085.9 644.6L1086.4 658.3L1086.9 671.7L1087.4 654.7L1087.9 656.4L1088.4 658.0L1088.9 654.7L1089.4 630.3L1089.9 654.2L1090.4 651.4L1090.9 659.2L1091.4 641.2L1091.9 656.6L1092.4 664.9L1092.9 669.5L1093.4 649.3L1093.9 646.6L1094.4 673.0L1094.9 662.9L1095.4 647.1L1095.9 642.4L1096.4 669.1L1096.9 658.5L1097.4 644.0L1097.9 659.5L1098.4 658.4L1098.9 659.2L1099.4 667.8L1099.9 652.1L1100.5 648.9L1101.0 668.3L1101.5 650.9L1102.0 639.1L1102.5 649.3L1103.0 640.6L1103.5 657.7L1104.0 635.4L1104.5 660.1L1105.0 629.2L1105.5 655.9L1106.0 658.8L1106.5 660.7L1107.0 655.0L1107.5 655.8L1108.0 657.9L1108.5 653.6L1109.0 642.0L1109.5 639.4L1110.0 653.3L1110.5 635.0L1111.0 660.6L1111.5 660.8L1112.0 661.9L1112.5 641.7L1113.0 666.4L1113.5 664.5L1114.0 633.5L1114.5 628.3L1115.0 632.4L1115.5 665.0L1116.0 647.5L1116.5 637.9L1117.0 646.3L1117.5 665.9L1118.0 651.1L1118.5 666.6L1119.0 661.1L1119.5 621.8L1120.0 638.7L1120.5 663.4L1121.0 663.6L1121.5 640.8L1122.0 653.0L1122.5 639.1L1123.0 653.2L1123.5 647.9L1124.0 642.6L1124.5 657.2L1125.0 667.4L1125.5 658.8L1126.0 653.0L1126.5 647.1L1127.0 645.3L1127.5 645.3L1128.0 638.4L1128.5 654.6L1129.0 627.9L1129.5 620.7L1130.0 639.6L1130.5 641.5L1131.0 629.1L1131.5 636.0L1132.0 641.2L1132.5 645.2L1133.0 651.7L1133.5 656.6L1134.0 635.2L1134.5 629.0L1135.0 655.0L1135.5 643.4L1136.0 640.0L1136.6 647.3L1137.1 651.1L1137.6 646.8L1138.1 665.0L1138.6 642.7L1139.1 645.3L1139.6 617.2L1140.1 630.8L1140.6 645.7L1141.1 641.7L1141.6 621.5L1142.1 622.7L1142.6 639.2L1143.1 642.8L1143.6 658.1L1144.1 645.0L1144.6 643.1L1145.1 649.6L1145.6 620.8L1146.1 662.8L1146.6 642.5L1147.1 636.1L1147.6 635.7L1148.1 621.1L1148.6 657.0L1149.1 649.4L1149.6 639.5L1150.1 639.1L1150.6 645.1L1151.1 649.5L1151.6 628.1L1152.1 652.8L1152.6 647.3L1153.1 623.8L1153.6 620.4L1154.1 630.4L1154.6 650.6L1155.1 650.5L1155.6 651.1L1156.1 653.8L1156.6 645.4L1157.1 625.8L1157.6 638.0L1158.1 649.4L1158.6 649.7L1159.1 654.3L1159.6 626.6L1160.1 664.2L1160.6 637.5L1161.1 657.5L1161.6 653.1L1162.1 658.1L1162.6 629.5L1163.1 641.7L1163.6 608.8L1164.1 652.9L1164.6 653.6L1165.1 634.0L1165.6 634.3L1166.1 644.2L1166.6 664.5L1167.1 624.1L1167.6 634.4L1168.1 636.4L1168.6 648.0L1169.1 633.6L1169.6 647.6L1170.1 640.6L1170.6 643.4L1171.1 626.5L1171.6 646.7L1172.1 645.3L1172.7 628.4L1173.2 638.7L1173.7 641.6L1174.2 644.2L1174.7 630.3L1175.2 649.0L1175.7 636.0L1176.2 617.8L1176.7 636.9L1177.2 650.7L1177.7 655.6L1178.2 639.9L1178.7 656.0L1179.2 660.3L1179.7 650.6L1180.2 654.5L1180.7 631.6L1181.2 658.7L1181.7 623.4L1182.2 650.7L1182.7 640.5L1183.2 634.1L1183.7 639.4L1184.2 633.6L1184.7 653.6L1185.2 668.6L1185.7 644.5L1186.2 661.8L1186.7 649.0L1187.2 631.3L1187.7 644.6L1188.2 649.3L1188.7 655.6L1189.2 645.8L1189.7 644.5L1190.2 660.9L1190.7 639.1L1191.2 655.1L1191.7 640.1L1192.2 647.9L1192.7 631.2L1193.2 632.7L1193.7 642.6L1194.2 644.0L1194.7 637.7L1195.2 626.7L1195.7 630.4L1196.2 640.9L1196.7 639.1L1197.2 624.4L1197.7 661.8L1198.2 636.5L1198.7 653.3L1199.2 627.0L1199.7 648.5L1200.2 644.1L1200.7 655.4L1201.2 642.6L1201.7 633.5L1202.2 623.3L1202.7 657.5L1203.2 647.9L1203.7 597.3L1204.2 631.8L1204.7 642.9L1205.2 636.8L1205.7 673.9L1206.2 624.2L1206.7 641.1L1207.2 659.7L1207.7 629.5L1208.3 650.5L1208.8 655.1L1209.3 637.2L1209.8 638.6L1210.3 648.7L1210.8 644.3L1211.3 659.2L1211.8 660.4L1212.3 633.3L1212.8 628.5L1213.3 638.9L1213.8 639.6L1214.3 648.7L1214.8 645.7L1215.3 655.1L1215.8 624.0L1216.3 651.1L1216.8 639.8L1217.3 644.7L1217.8 661.0L1218.3 622.4L1218.8 649.4L1219.3 654.1L1219.8 643.9L1220.3 655.8L1220.8 645.2L1221.3 656.8L1221.8 639.2L1222.3 645.2L1222.8 661.9L1223.3 634.1L1223.8 644.0L1224.3 659.2L1224.8 642.4L1225.3 641.7L1225.8 625.2L1226.3 656.9L1226.8 637.1L1227.3 648.3L1227.8 640.2L1228.3 650.5L1228.8 648.2L1229.3 642.0L1229.8 661.6L1230.3 672.3L1230.8 648.3L1231.3 653.5L1231.8 647.4L1232.3 641.2L1232.8 651.2L1233.3 635.1L1233.8 649.5L1234.3 647.8L1234.8 639.7L1235.3 642.6L1235.8 650.6L1236.3 648.2L1236.8 658.6L1237.3 657.1L1237.8 649.0L1238.3 640.9L1238.8 655.5L1239.3 640.9L1239.8 628.4L1240.3 626.2L1240.8 650.8L1241.3 639.1L1241.8 644.3L1242.3 642.5L1242.8 642.0L1243.3 645.8L1243.8 642.5L1244.4 649.9L1244.9 655.3L1245.4 649.5L1245.9 646.9L1246.4 638.7L1246.9 648.7L1247.4 644.6L1247.9 636.9L1248.4 664.2L1248.9 656.6L1249.4 647.6L1249.9 653.7L1250.4 665.8L1250.9 643.0L1251.4 655.4L1251.9 666.2L1252.4 633.3L1252.9 669.9L1253.4 655.5L1253.9 663.3L1254.4 654.6L1254.9 649.6L1255.4 665.6L1255.9 657.7L1256.4 658.2L1256.9 668.4L1257.4 643.9L1257.9 655.5L1258.4 661.0L1258.9 665.6L1259.4 662.0L1259.9 656.9L1260.4 664.0L1260.9 644.8L1261.4 688.2L1261.9 683.9L1262.4 662.7L1262.9 681.1L1263.4 661.1L1263.9 668.1L1264.4 654.3L1264.9 656.5L1265.4 646.6L1265.9 651.3L1266.4 647.8L1266.9 656.3L1267.4 650.5L1267.9 657.2L1268.4 669.9L1268.9 677.6L1269.4 677.5L1269.9 658.6L1270.4 691.3L1270.9 662.7L1271.4 673.5L1271.9 657.0L1272.4 663.4L1272.9 674.4L1273.4 666.1L1273.9 692.2L1274.4 663.8L1274.9 661.9L1275.4 688.2L1275.9 658.2L1276.4 669.5L1276.9 666.5L1277.4 684.8L1277.9 662.3L1278.4 662.9L1278.9 669.9L1279.4 681.1L1279.9 661.9L1280.5 656.8L1281.0 666.6L1281.5 660.2L1282.0 678.2L1282.5 670.3L1283.0 668.1L1283.5 671.0L1284.0 641.5L1284.5 668.6L1285.0 679.8L1285.5 664.6L1286.0 686.3L1286.5 670.4L1287.0 666.2L1287.5 680.6L1288.0 679.0L1288.5 686.2L1289.0 674.6L1289.5 683.9L1290.0 657.5L1290.5 669.9L1291.0 679.8L1291.5 693.4L1292.0 655.5L1292.5 663.9L1293.0 673.4L1293.5 676.8L1294.0 677.4L1294.5 684.8L1295.0 659.2L1295.5 678.0L1296.0 696.5L1296.5 688.2L1297.0 709.7L1297.5 674.3L1298.0 673.5L1298.5 662.8L1299.0 659.5L1299.5 691.5L1300.0 678.4L1300.5 672.7L1301.0 675.3L1301.5 689.9L1302.0 675.9L1302.5 679.6L1303.0 670.5L1303.5 686.1L1304.0 688.8L1304.5 692.1L1305.0 691.1L1305.5 695.7L1306.0 691.4L1306.5 682.6L1307.0 683.4L1307.5 674.5L1308.0 677.3L1308.5 682.8L1309.0 702.5L1309.5 684.2L1310.0 678.1L1310.5 705.3L1311.0 703.7L1311.5 702.4L1312.0 703.7L1312.5 696.0L1313.0 703.4L1313.5 689.5L1314.0 707.2L1314.5 695.8L1315.0 700.3L1315.5 705.7L1316.1 684.5L1316.6 695.8L1317.1 690.6L1317.6 700.5L1318.1 689.7L1318.6 691.1L1319.1 699.7L1319.6 717.5L1320.1 690.1L1320.6 691.8L1321.1 697.7L1321.6 697.5L1322.1 699.1L1322.6 698.8L1323.1 712.0L1323.6 702.2L1324.1 698.6L1324.6 709.0L1325.1 713.2L1325.6 683.4L1326.1 697.1L1326.6 707.3L1327.1 709.6L1327.6 732.9L1328.1 720.3L1328.6 708.2L1329.1 692.3L1329.6 728.2L1330.1 714.2L1330.6 686.9L1331.1 700.4L1331.6 703.5L1332.1 695.7L1332.6 709.9L1333.1 710.9L1333.6 701.9L1334.1 700.8L1334.6 721.4L1335.1 694.5L1335.6 729.3L1336.1 718.6L1336.6 679.3L1337.1 717.4L1337.6 705.5L1338.1 723.3L1338.6 716.5L1339.1 721.1L1339.6 718.0L1340.1 707.3L1340.6 696.3L1341.1 705.8L1341.6 699.0L1342.1 720.9L1342.6 700.7L1343.1 710.4L1343.6 702.4L1344.1 721.4L1344.6 719.8L1345.1 703.5L1345.6 711.7L1346.1 717.3L1346.6 725.8L1347.1 720.1L1347.6 714.4L1348.1 712.3L1348.6 725.9L1349.1 724.0L1349.6 716.4L1350.1 732.6L1350.6 711.8L1351.1 721.9L1351.6 723.6L1352.2 747.6L1352.7 739.5L1353.2 734.1L1353.7 729.7L1354.2 735.4L1354.7 720.6L1355.2 723.4L1355.7 727.8L1356.2 746.3L1356.7 711.3L1357.2 728.9L1357.7 720.3L1358.2 733.5L1358.7 727.0L1359.2 720.1L1359.7 725.2L1360.2 718.0L1360.7 730.1L1361.2 708.1L1361.7 748.2L1362.2 734.8L1362.7 719.4L1363.2 732.3L1363.7 734.6L1364.2 748.5L1364.7 718.4L1365.2 750.3L1365.7 726.1L1366.2 729.6L1366.7 723.0L1367.2 717.3L1367.7 739.7L1368.2 741.0L1368.7 736.3L1369.2 750.9L1369.7 725.4L1370.2 738.1L1370.7 732.7L1371.2 746.1L1371.7 734.9L1372.2 741.6L1372.7 736.3L1373.2 746.9L1373.7 725.8L1374.2 743.0L1374.7 762.6L1375.2 730.6L1375.7 740.4L1376.2 746.6L1376.7 712.7L1377.2 738.8L1377.7 752.0L1378.2 745.0L1378.7 735.3L1379.2 741.7L1379.7 727.2L1380.2 729.3L1380.7 748.2L1381.2 740.1L1381.7 734.4L1382.2 745.2L1382.7 746.0L1383.2 732.8L1383.7 737.4L1384.2 756.2L1384.7 747.9L1385.2 746.9L1385.7 744.2L1386.2 750.4L1386.7 730.1L1387.2 753.5L1387.7 754.9L1388.3 742.3L1388.8 767.1L1389.3 755.2L1389.8 738.9L1390.3 758.6L1390.8 754.1L1391.3 735.2L1391.8 741.7L1392.3 745.9L1392.8 744.3L1393.3 753.7L1393.8 744.2L1394.3 749.5L1394.8 723.0L1395.3 742.7L1395.8 751.6L1396.3 749.0L1396.8 748.2L1397.3 762.7L1397.8 757.4L1398.3 734.5L1398.8 763.7L1399.3 755.8L1399.8 740.2L1400.3 735.7L1400.8 760.9L1401.3 736.7L1401.8 754.9L1402.3 735.3L1402.8 747.0L1403.3 754.9L1403.8 745.2L1404.3 747.2L1404.8 760.5L1405.3 732.1L1405.8 756.8L1406.3 742.4L1406.8 758.7L1407.3 772.1L1407.8 765.5L1408.3 755.7L1408.8 748.3L1409.3 738.1L1409.8 754.7L1410.3 758.5L1410.8 768.1L1411.3 756.8L1411.8 753.7L1412.3 778.4L1412.8 744.4L1413.3 746.3L1413.8 735.5L1414.3 766.7L1414.8 757.8L1415.3 758.3L1415.8 771.6L1416.3 767.2L1416.8 768.8L1417.3 754.5L1417.8 755.5L1418.3 746.9L1418.8 764.1L1419.3 774.0L1419.8 756.5L1420.3 757.4L1420.8 754.8L1421.3 749.5L1421.8 767.4L1422.3 754.3L1422.8 772.0L1423.3 761.0L1423.9 756.1L1424.4 764.1L1424.9 761.2L1425.4 776.9L1425.9 770.0L1426.4 762.6L1426.9 775.8L1427.4 772.7L1427.9 741.4L1428.4 762.5L1428.9 773.2L1429.4 775.4L1429.9 752.5L1430.4 792.9L1430.9 769.8L1431.4 761.0L1431.9 772.7L1432.4 762.6L1432.9 777.9L1433.4 768.3L1433.9 768.0L1434.4 768.5L1434.9 767.5L1435.4 768.8L1435.9 758.7L1436.4 772.1L1436.9 775.4L1437.4 772.7L1437.9 773.2L1438.4 785.0L1438.9 788.9L1439.4 783.8L1439.9 768.5L1440.4 777.8L1440.9 775.5L1441.4 744.6L1441.9 761.4L1442.4 774.3L1442.9 778.5L1443.4 759.6L1443.9 780.3L1444.4 761.4L1444.9 767.7L1445.4 760.4L1445.9 780.5L1446.4 765.3L1446.9 791.2L1447.4 775.9L1447.9 764.3L1448.4 768.1L1448.9 792.2L1449.4 768.6L1449.9 770.9L1450.4 776.0L1450.9 782.4L1451.4 778.4L1451.9 781.4L1452.4 767.3L1452.9 772.0L1453.4 766.5L1453.9 770.2L1454.4 788.9L1454.9 775.8L1455.4 757.1L1455.9 787.9L1456.4 775.0L1456.9 785.1L1457.4 786.3L1457.9 776.2L1458.4 769.7L1458.9 771.3L1459.4 774.3L1460.0 769.9L1460.5 794.3L1461.0 771.5L1461.5 775.6L1462.0 781.3L1462.5 779.8L1463.0 787.9L1463.5 769.2L1464.0 787.3L1464.5 794.2L1465.0 780.6L1465.5 786.1L1466.0 781.6L1466.5 767.0L1467.0 782.5L1467.5 780.2L1468.0 760.4L1468.5 794.8L1469.0 778.4L1469.5 771.1L1470.0 768.1L1470.5 761.4L1471.0 788.6L1471.5 777.0L1472.0 783.7L1472.5 787.2L1473.0 789.8L1473.5 796.8L1474.0 780.3L1474.5 776.6L1475.0 793.6L1475.5 776.8L1476.0 789.2L1476.5 793.6L1477.0 808.7L1477.5 774.2L1478.0 778.0L1478.5 787.7L1479.0 788.5L1479.5 797.1L1480.0 780.4L1480.5 786.0L1481.0 780.5L1481.5 784.0L1482.0 798.8L1482.5 800.4L1483.0 782.2L1483.5 801.9L1484.0 783.8L1484.5 778.1L1485.0 798.5L1485.5 780.5L1486.0 786.4L1486.5 782.0L1487.0 792.9L1487.5 787.3L1488.0 783.3L1488.5 770.5L1489.0 780.7L1489.5 783.0L1490.0 799.7L1490.5 784.7L1491.0 794.2L1491.5 788.7L1492.0 785.7L1492.5 779.3L1493.0 782.9L1493.5 786.8L1494.0 789.2L1494.5 776.3L1495.0 797.1L1495.5 788.7L1496.1 776.5L1496.6 791.1L1497.1 781.8L1497.6 781.4L1498.1 771.5L1498.6 779.4L1499.1 805.1L1499.6 790.1L1500.1 787.6L1500.6 782.8L1501.1 787.0L1501.6 773.4L1502.1 780.8L1502.6 801.9L1503.1 797.1L1503.6 810.4L1504.1 775.7L1504.6 793.0L1505.1 793.3L1505.6 806.7L1506.1 796.4L1506.6 788.7L1507.1 796.5L1507.6 796.6L1508.1 798.9L1508.6 775.2L1509.1 798.6L1509.6 807.1L1510.1 798.7L1510.6 797.4L1511.1 795.2L1511.6 796.8L1512.1 805.0L1512.6 796.7L1513.1 791.5L1513.6 808.1L1514.1 777.3L1514.6 779.9L1515.1 812.3L1515.6 799.2L1516.1 786.7L1516.6 783.8L1517.1 779.9L1517.6 813.2L1518.1 806.6L1518.6 801.3L1519.1 791.7L1519.6 806.7L1520.1 793.0L1520.6 792.9L1521.1 790.6L1521.6 809.0L1522.1 795.6L1522.6 796.8L1523.1 801.4L1523.6 785.8L1524.1 800.4L1524.6 784.6L1525.1 803.4L1525.6 782.5L1526.1 783.1L1526.6 805.7L1527.1 795.2L1527.6 795.5L1528.1 807.4L1528.6 791.4L1529.1 793.3L1529.6 806.7L1530.1 798.0L1530.6 790.9L1531.1 800.5L1531.7 805.7L1532.2 784.4L1532.7 808.3L1533.2 796.4L1533.7 789.4L1534.2 792.5L1534.7 816.5L1535.2 802.8L1535.7 801.2L1536.2 802.0L1536.7 794.5L1537.2 795.3L1537.7 799.1L1538.2 798.0L1538.7 791.4L1539.2 789.3L1539.7 817.9L1540.2 781.1L1540.7 805.9L1541.2 794.0L1541.7 815.9L1542.2 805.9L1542.7 812.7L1543.2 791.7L1543.7 793.6L1544.2 801.6L1544.7 803.3L1545.2 798.4L1545.7 810.5L1546.2 807.7L1546.7 809.2L1547.2 795.0L1547.7 802.3L1548.2 814.1L1548.7 799.7L1549.2 798.2L1549.7 790.6L1550.2 808.2L1550.7 799.6L1551.2 784.7L1551.7 806.5L1552.2 806.9L1552.7 799.2L1553.2 808.4L1553.7 804.0L1554.2 808.7L1554.7 811.3L1555.2 796.5L1555.7 807.9L1556.2 813.7L1556.7 807.4L1557.2 806.2L1557.7 802.4L1558.2 796.8L1558.7 789.5L1559.2 816.4L1559.7 807.8L1560.2 822.0L1560.7 803.9L1561.2 801.3L1561.7 812.0L1562.2 814.4L1562.7 815.3L1563.2 819.9L1563.7 801.1L1564.2 789.8L1564.7 817.1L1565.2 792.6L1565.7 808.3L1566.2 819.8L1566.7 802.5L1567.2 800.9L1567.8 804.3L1568.3 810.2L1568.8 793.2L1569.3 810.7L1569.8 802.7L1570.3 802.7L1570.8 816.5L1571.3 825.1L1571.8 824.2L1572.3 812.5L1572.8 805.9L1573.3 825.0L1573.8 815.8L1574.3 795.9L1574.8 825.5L1575.3 805.7L1575.8 806.8L1576.3 803.0L1576.8 823.2L1577.3 807.3L1577.8 822.7L1578.3 798.7L1578.8 818.3L1579.3 807.4L1579.8 817.9L1580.3 809.8L1580.8 824.7L1581.3 808.7L1581.8 806.0L1582.3 811.6L1582.8 797.3L1583.3 808.4L1583.8 804.9L1584.3 807.5L1584.8 795.5L1585.3 817.9L1585.8 814.6L1586.3 814.3L1586.8 807.0L1587.3 810.3L1587.8 805.3L1588.3 810.1L1588.8 817.4L1589.3 813.5L1589.8 809.2L1590.3 833.3L1590.8 801.0L1591.3 818.3L1591.8 816.6L1592.3 811.2L1592.8 815.8L1593.3 826.5L1593.8 815.8L1594.3 801.7L1594.8 804.8L1595.3 803.2L1595.8 819.0L1596.3 816.2L1596.8 805.1L1597.3 801.4L1597.8 814.3L1598.3 823.1L1598.8 831.7L1599.3 802.3L1599.8 828.3L1600.3 811.2L1600.8 807.2L1601.3 786.5L1601.8 813.6L1602.3 816.3L1602.8 811.3L1603.3 811.0L1603.9 803.8L1604.4 809.6L1604.9 822.5L1605.4 834.5L1605.9 813.3L1606.4 822.0L1606.9 803.7L1607.4 827.9L1607.9 814.6L1608.4 822.9L1608.9 824.3L1609.4 802.0L1609.9 815.3L1610.4 818.5L1610.9 810.5L1611.4 824.0L1611.9 820.5L1612.4 823.0L1612.9 799.9L1613.4 814.6L1613.9 812.1L1614.4 807.9L1614.9 819.5L1615.4 819.4L1615.9 832.6L1616.4 814.0L1616.9 816.0L1617.4 822.1L1617.9 807.9L1618.4 834.4L1618.9 815.1L1619.4 831.1L1619.9 829.1L1620.4 821.0L1620.9 807.5L1621.4 829.9L1621.9 828.3L1622.4 830.3L1622.9 801.9L1623.4 815.2L1623.9 816.3L1624.4 801.8L1624.9 817.9L1625.4 838.8L1625.9 824.8L1626.4 831.0L1626.9 802.7L1627.4 833.2L1627.9 818.1L1628.4 825.5L1628.9 824.9L1629.4 821.0L1629.9 822.5L1630.4 827.4L1630.9 832.4L1631.4 827.4L1631.9 830.9L1632.4 829.8L1632.9 820.9L1633.4 823.4L1633.9 818.0L1634.4 824.4L1634.9 805.5L1635.4 829.0L1635.9 831.5L1636.4 813.8L1636.9 829.1L1637.4 821.9L1637.9 814.6L1638.4 824.1L1638.9 826.5L1639.5 815.0L1640.0 820.7L1640.5 828.4L1641.0 834.4L1641.5 827.3L1642.0 838.6L1642.5 831.9L1643.0 833.9L1643.5 821.9L1644.0 817.9L1644.5 830.4L1645.0 828.7L1645.5 834.6L1646.0 837.1L1646.5 828.9L1647.0 820.4L1647.5 821.3L1648.0 820.4L1648.5 828.0L1649.0 849.6L1649.5 817.8L1650.0 814.5L1650.5 818.1L1651.0 818.3L1651.5 816.7L1652.0 803.0L1652.5 823.7L1653.0 813.0L1653.5 819.6L1654.0 820.9L1654.5 828.0L1655.0 830.0L1655.5 836.9L1656.0 822.1L1656.5 830.0L1657.0 837.9L1657.5 834.2L1658.0 838.0L1658.5 813.9L1659.0 830.0L1659.5 827.1L1660.0 838.6L1660.5 837.2L1661.0 819.3L1661.5 830.5L1662.0 826.7L1662.5 812.8L1663.0 810.7L1663.5 823.0L1664.0 824.8L1664.5 827.1L1665.0 831.7L1665.5 811.9L1666.0 840.0L1666.5 830.4L1667.0 846.3L1667.5 840.8L1668.0 826.5L1668.5 826.1L1669.0 827.3L1669.5 833.1L1670.0 836.5L1670.5 835.2L1671.0 833.9L1671.5 821.3L1672.0 818.3L1672.5 827.2L1673.0 835.7L1673.5 839.3L1674.0 828.7L1674.5 833.4L1675.0 847.2L1675.6 819.9L1676.1 831.8L1676.6 834.6L1677.1 839.5L1677.6 839.6L1678.1 824.5L1678.6 840.4L1679.1 831.6L1679.6 827.1L1680.1 816.9L1680.6 827.6L1681.1 833.2L1681.6 836.8L1682.1 825.8L1682.6 824.6L1683.1 837.0L1683.6 828.4L1684.1 834.8L1684.6 847.6L1685.1 842.4L1685.6 827.0L1686.1 821.7L1686.6 828.3L1687.1 836.0L1687.6 840.5L1688.1 829.9L1688.6 831.8L1689.1 848.5L1689.6 829.3L1690.1 840.9L1690.6 829.3L1691.1 830.6L1691.6 829.1L1692.1 826.2L1692.6 829.5L1693.1 844.5L1693.6 844.4L1694.1 827.0L1694.6 831.9L1695.1 849.4L1695.6 853.2L1696.1 828.7L1696.6 817.5L1697.1 829.4L1697.6 838.6L1698.1 834.4L1698.6 859.9L1699.1 845.3L1699.6 828.4L1700.1 829.8L1700.6 855.2L1701.1 827.3L1701.6 832.9L1702.1 829.6L1702.6 839.4L1703.1 837.7L1703.6 847.0L1704.1 835.3L1704.6 830.5L1705.1 846.1L1705.6 835.2L1706.1 842.9L1706.6 829.7L1707.1 830.3L1707.6 858.6L1708.1 835.0L1708.6 830.4L1709.1 843.8L1709.6 841.0L1710.1 840.5L1710.6 849.0L1711.1 840.4L1711.7 826.5L1712.2 835.7L1712.7 827.0L1713.2 831.5L1713.7 829.9L1714.2 839.1L1714.7 833.7L1715.2 823.4L1715.7 828.0L1716.2 837.8L1716.7 846.5L1717.2 848.5L1717.7 838.8L1718.2 837.2L1718.7 856.4L1719.2 839.3L1719.7 838.3L1720.2 838.8L1720.7 846.0L1721.2 822.3L1721.7 834.3L1722.2 853.2L1722.7 847.8L1723.2 835.3L1723.7 837.8L1724.2 841.1L1724.7 842.6L1725.2 844.2L1725.7 846.3L1726.2 851.2L1726.7 838.0L1727.2 866.0L1727.7 849.1L1728.2 832.8L1728.7 849.8L1729.2 853.3L1729.7 827.7L1730.2 834.9L1730.7 845.0L1731.2 848.7L1731.7 845.9L1732.2 846.9L1732.7 846.2L1733.2 850.4L1733.7 839.9L1734.2 849.1L1734.7 859.6L1735.2 855.4L1735.7 844.8L1736.2 853.4L1736.7 865.5L1737.2 832.7L1737.7 841.2L1738.2 849.3L1738.7 849.8L1739.2 841.4L1739.7 834.4L1740.2 851.0L1740.7 842.5L1741.2 851.2L1741.7 843.4L1742.2 855.6L1742.7 861.4L1743.2 845.7L1743.7 847.1L1744.2 840.7L1744.7 852.2L1745.2 835.5L1745.7 846.1L1746.2 834.3L1746.7 849.9L1747.3 834.8L1747.8 847.8L1748.3 846.2L1748.8 839.5L1749.3 862.1L1749.8 856.4L1750.3 832.7L1750.8 860.2L1751.3 852.0L1751.8 843.5L1752.3 836.1L1752.8 852.3L1753.3 847.2L1753.8 857.6L1754.3 851.6L1754.8 840.1L1755.3 845.9L1755.8 848.9L1756.3 845.3L1756.8 847.7L1757.3 847.5L1757.8 851.9L1758.3 857.1L1758.8 843.6L1759.3 858.7L1759.8 841.0L1760.3 832.0L1760.8 837.1L1761.3 830.7L1761.8 858.1L1762.3 847.7L1762.8 856.5L1763.3 855.9L1763.8 863.9L1764.3 859.9L1764.8 843.1L1765.3 844.5L1765.8 840.4L1766.3 841.1L1766.8 844.0L1767.3 857.0L1767.8 851.4L1768.3 844.6L1768.8 840.5L1769.3 853.8L1769.8 854.8L1770.3 854.4L1770.8 838.0L1771.3 846.4L1771.8 853.6L1772.3 857.4L1772.8 847.7L1773.3 864.9L1773.8 853.2L1774.3 856.1L1774.8 856.3L1775.3 850.0L1775.8 848.3L1776.3 827.2L1776.8 851.0L1777.3 846.3L1777.8 858.5L1778.3 865.4L1778.8 842.9L1779.3 836.4L1779.8 860.3L1780.3 852.9L1780.8 843.5L1781.3 851.7L1781.8 871.8L1782.3 844.5L1782.8 853.9L1783.4 847.0L1783.9 860.6L1784.4 845.9L1784.9 844.7L1785.4 858.9L1785.9 849.3L1786.4 858.4L1786.9 857.4L1787.4 860.8L1787.9 857.0L1788.4 859.1L1788.9 844.4L1789.4 855.6L1789.9 862.9L1790.4 843.1L1790.9 849.7L1791.4 846.3L1791.9 854.8L1792.4 848.8L1792.9 855.2L1793.4 862.1L1793.9 853.7L1794.4 853.5L1794.9 853.6L1795.4 848.1L1795.9 868.7L1796.4 852.6L1796.9 861.4L1797.4 857.3L1797.9 851.6L1798.4 854.7L1798.9 860.6L1799.4 849.4L1799.9 855.9L1800.4 848.1L1800.9 845.8L1801.4 858.5L1801.9 864.4L1802.4 855.2L1802.9 849.4L1803.4 853.4L1803.9 865.3L1804.4 869.5L1804.9 863.6L1805.4 863.8L1805.9 851.4L1806.4 855.9L1806.9 849.6L1807.4 857.3L1807.9 843.5L1808.4 856.7L1808.9 852.5L1809.4 860.1L1809.9 853.5L1810.4 848.5L1810.9 851.0L1811.4 847.2L1811.9 862.1L1812.4 853.8L1812.9 844.1L1813.4 855.6L1813.9 858.9L1814.4 859.5L1814.9 861.9L1815.4 856.7L1815.9 847.1L1816.4 854.5L1816.9 858.3L1817.4 864.4L1817.9 867.2L1818.4 839.8L1818.9 862.2L1819.5 857.8L1820.0 862.5L1820.5 857.5L1821.0 862.2L1821.5 858.1L1822.0 847.8L1822.5 864.9L1823.0 855.2L1823.5 859.9L1824.0 853.9L1824.5 864.9L1825.0 856.5L1825.5 867.4L1826.0 874.0L1826.5 870.2L1827.0 867.5L1827.5 869.0L1828.0 862.9L1828.5 852.0L1829.0 869.4L1829.5 857.3L1830.0 859.7L1830.5 866.4L1831.0 868.3L1831.5 857.9L1832.0 857.6L1832.5 864.1L1833.0 862.6L1833.5 861.7L1834.0 871.8L1834.5 860.9L1835.0 859.5L1835.5 848.5L1836.0 871.8L1836.5 868.8L1837.0 861.6L1837.5 866.8L1838.0 865.5L1838.5 862.5L1839.0 864.9L1839.5 863.0L1840.0 859.4L1840.5 875.3L1841.0 858.7L1841.5 880.2L1842.0 850.2L1842.5 856.2L1843.0 868.0L1843.5 855.7L1844.0 864.6L1844.5 860.3L1845.0 857.9L1845.5 861.1L1846.0 863.8L1846.5 859.2L1847.0 865.5L1847.5 867.0L1848.0 871.4L1848.5 878.0L1849.0 852.4L1849.5 858.6L1850.0 875.2L1850.5 861.7L1851.0 863.2L1851.5 881.5L1852.0 871.2L1852.5 865.8L1853.0 852.1L1853.5 856.9L1854.0 855.8L1854.5 863.0L1855.1 857.9L1855.6 874.4L1856.1 861.0L1856.6 860.2L1857.1 875.3L1857.6 864.0L1858.1 854.5L1858.6 851.6L1859.1 855.5L1859.6 871.5L1860.1 867.0L1860.6 870.3L1861.1 857.2L1861.6 872.9L1862.1 874.5L1862.6 878.9L1863.1 865.3L1863.6 863.6L1864.1 871.5L1864.6 872.7L1865.1 868.6L1865.6 857.2L1866.1 877.4L1866.6 867.7L1867.1 865.9L1867.6 864.8L1868.1 858.3L1868.6 861.6L1869.1 865.8L1869.6 857.0L1870.1 859.5L1870.6 865.9L1871.1 866.4L1871.6 877.1L1872.1 867.4L1872.6 874.3L1873.1 877.0L1873.6 870.7L1874.1 881.6L1874.6 875.5L1875.1 872.8L1875.6 866.6L1876.1 871.5L1876.6 866.3L1877.1 857.6L1877.6 863.4L1878.1 878.1L1878.6 882.9L1879.1 876.6L1879.6 876.5L1880.1 884.7L1880.6 882.9L1881.1 883.0L1881.6 874.9L1882.1 860.0L1882.6 858.0L1883.1 878.4L1883.6 874.3L1884.1 881.2L1884.6 883.3L1885.1 871.9L1885.6 871.1L1886.1 876.3L1886.6 867.1L1887.1 874.3L1887.6 864.0L1888.1 875.8L1888.6 865.9L1889.1 873.8L1889.6 871.5L1890.1 867.9L1890.6 882.4L1891.2 878.1L1891.7 873.3L1892.2 874.9L1892.7 871.0L1893.2 879.0L1893.7 882.9L1894.2 874.0L1894.7 871.2L1895.2 879.3L1895.7 864.5L1896.2 868.4L1896.7 867.3L1897.2 867.9L1897.7 879.9L1898.2 858.1L1898.7 878.9L1899.2 871.0L1899.7 868.4L1900.2 871.3L1900.7 872.4L1901.2 879.7L1901.7 876.7L1902.2 873.6L1902.7 864.3L1903.2 878.7L1903.7 868.9L1904.2 870.7L1904.7 873.3L1905.2 878.0L1905.7 875.0L1906.2 886.6L1906.7 873.3L1907.2 871.7L1907.7 877.9L1908.2 870.3L1908.7 871.9L1909.2 879.5L1909.7 868.2L1910.2 878.2L1910.7 856.8L1911.2 881.9L1911.7 880.4L1912.2 879.2L1912.7 872.9L1913.2 866.3L1913.7 874.1L1914.2 877.8L1914.7 861.1L1915.2 867.6L1915.7 877.1L1916.2 876.0L1916.7 886.4L1917.2 875.0L1917.7 862.9L1918.2 883.9L1918.7 885.8L1919.2 874.7L1919.7 893.1L1920.2 865.8L1920.7 886.9L1921.2 881.3L1921.7 877.3L1922.2 867.5L1922.7 873.5L1923.2 890.2L1923.7 888.8L1924.2 875.2L1924.7 891.9L1925.2 879.0L1925.7 883.0L1926.2 871.3L1926.7 868.5L1927.3 895.4L1927.8 874.3L1928.3 872.8L1928.8 883.1L1929.3 882.0L1929.8 886.4L1930.3 880.3L1930.8 875.0L1931.3 868.3L1931.8 867.7L1932.3 880.2L1932.8 884.2L1933.3 871.1L1933.8 898.3L1934.3 888.6L1934.8 873.9L1935.3 862.6L1935.8 884.3L1936.3 878.0L1936.8 886.8L1937.3 879.4L1937.8 879.5L1938.3 884.4L1938.8 876.2L1939.3 880.3L1939.8 875.5L1940.3 880.7L1940.8 887.9L1941.3 878.3L1941.8 873.2L1942.3 885.1L1942.8 869.8L1943.3 876.3L1943.8 882.2L1944.3 879.4L1944.8 882.7L1945.3 886.2L1945.8 873.2L1946.3 873.4L1946.8 883.1L1947.3 881.3L1947.8 881.5L1948.3 875.1L1948.8 869.6L1949.3 884.9L1949.8 878.0L1950.3 880.4L1950.8 876.4L1951.3 870.1L1951.8 886.7L1952.3 895.2L1952.8 881.8L1953.3 892.1L1953.8 868.7L1954.3 885.7L1954.8 882.8L1955.3 879.1L1955.8 879.4L1956.3 884.0L1956.8 881.0L1957.3 874.3L1957.8 883.3L1958.3 868.0L1958.8 878.7L1959.3 898.1L1959.8 875.0L1960.3 893.9L1960.8 879.0L1961.3 865.4L1961.8 873.9L1962.3 889.7L1962.9 887.4L1963.4 881.6L1963.9 871.4L1964.4 887.0L1964.9 874.0L1965.4 879.7L1965.9 882.7L1966.4 883.2L1966.9 870.2L1967.4 892.9L1967.9 890.3L1968.4 875.9L1968.9 875.3L1969.4 891.7L1969.9 889.0L1970.4 890.7L1970.9 878.7L1971.4 887.3L1971.9 872.6L1972.4 877.3L1972.9 881.0L1973.4 881.5L1973.9 879.1L1974.4 877.1L1974.9 883.0L1975.4 881.3L1975.9 877.7L1976.4 883.8L1976.9 876.3L1977.4 884.4L1977.9 888.9L1978.4 882.2L1978.9 871.9L1979.4 873.1L1979.9 895.1L1980.4 881.6L1980.9 887.4L1981.4 886.3L1981.9 886.5L1982.4 885.7L1982.9 887.9L1983.4 886.2L1983.9 882.8L1984.4 892.9L1984.9 893.2L1985.4 892.4L1985.9 892.6L1986.4 880.5L1986.9 892.5L1987.4 885.4L1987.9 884.4L1988.4 879.9L1988.9 884.8L1989.4 877.6L1989.9 885.5L1990.4 883.4L1990.9 879.9L1991.4 895.5L1991.9 882.6L1992.4 874.8L1992.9 884.7L1993.4 887.2L1993.9 872.2L1994.4 884.9L1994.9 877.0L1995.4 902.4L1995.9 885.1L1996.4 889.4L1996.9 883.3L1997.4 877.7L1997.9 887.1L1998.4 887.7L1999.0 906.0L1999.5 880.7L2000.0 877.0L2000.5 885.3L2001.0 889.8L2001.5 883.9L2002.0 879.3L2002.5 882.1L2003.0 872.1L2003.5 890.6L2004.0 896.3L2004.5 883.4L2005.0 878.0L2005.5 890.2L2006.0 887.0L2006.5 891.6L2007.0 895.9L2007.5 892.4L2008.0 901.7L2008.5 885.5L2009.0 884.2L2009.5 881.3L2010.0 893.3L2010.5 892.1L2011.0 899.4L2011.5 897.9L2012.0 881.7L2012.5 868.3L2013.0 895.3L2013.5 890.8L2014.0 881.6L2014.5 893.0L2015.0 884.2L2015.5 890.4L2016.0 890.5L2016.5 882.1L2017.0 890.3L2017.5 897.4L2018.0 882.9L2018.5 888.5L2019.0 892.6L2019.5 894.4L2020.0 884.9L2020.5 893.9L2021.0 888.2L2021.5 882.1L2022.0 889.9L2022.5 881.6L2023.0 898.8L2023.5 885.1L2024.0 885.7L2024.5 876.5L2025.0 889.4L2025.5 883.4L2026.0 890.7L2026.5 897.0L2027.0 895.8L2027.5 894.7L2028.0 884.5L2028.5 895.3L2029.0 889.7L2029.5 883.9L2030.0 881.6L2030.5 883.7L2031.0 880.0L2031.5 898.2L2032.0 893.8L2032.5 888.3L2033.0 882.9L2033.5 887.1L2034.0 896.0L2034.5 892.0L2035.1 902.2L2035.6 885.3L2036.1 903.2L2036.6 889.5L2037.1 883.7L2037.6 884.9L2038.1 902.3L2038.6 889.8L2039.1 893.7L2039.6 893.4L2040.1 880.2L2040.6 889.6L2041.1 901.4L2041.6 899.1L2042.1 886.9L2042.6 890.3L2043.1 899.7L2043.6 903.5L2044.1 895.8L2044.6 895.1L2045.1 886.6L2045.6 896.4L2046.1 887.8L2046.6 884.1L2047.1 903.5L2047.6 896.6L2048.1 882.0L2048.6 895.8L2049.1 892.9L2049.6 886.3L2050.1 898.2L2050.6 895.9L2051.1 904.4L2051.6 889.4L2052.1 896.6L2052.6 895.9L2053.1 911.0L2053.6 886.9L2054.1 888.9L2054.6 899.1L2055.1 885.4L2055.6 910.6L2056.1 894.4L2056.6 905.5L2057.1 875.5L2057.6 912.0L2058.1 902.6L2058.6 899.5L2059.1 889.0L2059.6 888.9L2060.1 892.0L2060.6 896.4L2061.1 880.2L2061.6 899.8L2062.1 892.8L2062.6 883.1L2063.1 903.5L2063.6 900.7L2064.1 887.7L2064.6 892.2L2065.1 904.3L2065.6 895.2L2066.1 882.4L2066.6 897.3L2067.1 890.2L2067.6 894.9L2068.1 900.5L2068.6 884.9L2069.1 889.4L2069.6 887.9L2070.1 897.1L2070.7 895.5L2071.2 894.7L2071.7 893.3L2072.2 898.7L2072.7 899.9L2073.2 887.6L2073.7 904.1L2074.2 899.7L2074.7 899.3L2075.2 900.3L2075.7 905.1L2076.2 902.2L2076.7 891.6L2077.2 899.5L2077.7 902.2L2078.2 886.0L2078.7 906.3L2079.2 890.4L2079.7 895.1L2080.2 906.7L2080.7 900.3L2081.2 900.3L2081.7 889.0L2082.2 891.6L2082.7 899.7L2083.2 905.9L2083.7 909.4L2084.2 899.2L2084.7 907.6L2085.2 899.4L2085.7 899.7L2086.2 895.8L2086.7 891.7L2087.2 897.7L2087.7 895.4L2088.2 899.8L2088.7 891.7L2089.2 893.3L2089.7 888.1L2090.2 889.6L2090.7 903.8L2091.2 908.8L2091.7 894.8L2092.2 891.4L2092.7 903.7L2093.2 889.2L2093.7 898.7L2094.2 900.0L2094.7 897.1L2095.2 909.0L2095.7 910.6L2096.2 902.0L2096.7 907.7L2097.2 900.0L2097.7 900.0L2098.2 917.2L2098.7 905.5L2099.2 896.7L2099.7 915.8L2100.2 902.6L2100.7 909.5L2101.2 913.6L2101.7 893.2L2102.2 893.5L2102.7 903.6L2103.2 904.2L2103.7 891.6L2104.2 893.0L2104.7 901.1L2105.2 895.3L2105.7 900.5L2106.2 903.3L2106.8 897.2L2107.3 904.2L2107.8 897.5L2108.3 903.1L2108.8 904.6L2109.3 905.4L2109.8 898.7L2110.3 895.5L2110.8 899.0L2111.3 907.7L2111.8 897.9L2112.3 908.0L2112.8 909.5L2113.3 903.5L2113.8 896.8L2114.3 897.7L2114.8 898.6L2115.3 893.2L2115.8 896.7L2116.3 904.8L2116.8 897.3L2117.3 904.3L2117.8 899.9L2118.3 898.7L2118.8 903.1L2119.3 912.5L2119.8 903.7L2120.3 904.8L2120.8 903.5L2121.3 905.6L2121.8 910.3L2122.3 913.5L2122.8 898.6L2123.3 897.8L2123.8 900.6L2124.3 903.4L2124.8 890.3L2125.3 898.8L2125.8 903.1L2126.3 897.8L2126.8 903.8L2127.3 898.8L2127.8 901.6L2128.3 899.9L2128.8 903.1L2129.3 906.5L2129.8 900.3L2130.3 896.3L2130.8 909.6L2131.3 907.2L2131.8 910.9L2132.3 898.1L2132.8 905.3L2133.3 898.1L2133.8 909.1L2134.3 898.6L2134.8 907.8L2135.3 907.1L2135.8 900.6L2136.3 906.7L2136.8 908.1L2137.3 898.5L2137.8 904.8L2138.3 896.4L2138.8 888.0L2139.3 908.1L2139.8 906.7L2140.3 914.4L2140.8 912.3L2141.3 900.8L2141.8 902.8L2142.3 903.0L2142.9 901.9L2143.4 910.3L2143.9 915.8L2144.4 898.0L2144.9 903.4L2145.4 897.8L2145.9 905.3L2146.4 900.3L2146.9 908.6L2147.4 905.3L2147.9 906.4L2148.4 903.0L2148.9 896.4L2149.4 901.3L2149.9 924.1L2150.4 906.2L2150.9 905.6L2151.4 900.5L2151.9 904.8L2152.4 910.3L2152.9 910.9L2153.4 908.0L2153.9 910.5L2154.4 896.8L2154.9 902.1L2155.4 905.7L2155.9 899.9L2156.4 892.3L2156.9 907.5L2157.4 906.4L2157.9 908.2L2158.4 914.2L2158.9 910.4L2159.4 912.4L2159.9 903.4L2160.4 903.6L2160.9 901.0L2161.4 911.6L2161.9 900.3L2162.4 912.9L2162.9 907.9L2163.4 898.5L2163.9 898.9L2164.4 899.9L2164.9 893.4L2165.4 900.3L2165.9 908.6L2166.4 908.4L2166.9 912.0L2167.4 905.6L2167.9 912.0L2168.4 911.2L2168.9 913.5L2169.4 918.1L2169.9 891.5L2170.4 901.7L2170.9 920.6L2171.4 904.6L2171.9 911.1L2172.4 921.2L2172.9 909.0L2173.4 906.3L2173.9 904.0L2174.4 900.7L2174.9 913.2L2175.4 908.1L2175.9 903.6L2176.4 904.5L2176.9 905.5L2177.4 907.4L2177.9 900.2L2178.5 916.1L2179.0 917.6L2179.5 897.1L2180.0 905.5L2180.5 901.2L2181.0 906.8L2181.5 910.6L2182.0 911.3L2182.5 907.5L2183.0 911.4L2183.5 908.9L2184.0 909.0L2184.5 903.3L2185.0 903.5L2185.5 898.4L2186.0 913.1L2186.5 908.9L2187.0 902.6L2187.5 906.5L2188.0 924.1L2188.5 906.4L2189.0 908.8L2189.5 911.8L2190.0 911.5L2190.5 913.4L2191.0 901.5L2191.5 904.6L2192.0 907.6L2192.5 901.9L2193.0 903.1L2193.5 914.2L2194.0 915.7L2194.5 915.4L2195.0 904.4L2195.5 909.2L2196.0 901.5L2196.5 905.9L2197.0 910.5L2197.5 917.1L2198.0 910.9L2198.5 895.3L2199.0 913.7L2199.5 914.5L2200.0 910.8L2200.5 900.9L2201.0 909.7L2201.5 916.4L2202.0 913.4L2202.5 910.5L2203.0 909.1L2203.5 903.3L2204.0 894.1L2204.5 901.2L2205.0 905.8L2205.5 910.0L2206.0 914.9L2206.5 906.3L2207.0 902.0L2207.5 904.9L2208.0 910.9L2208.5 905.9L2209.0 911.5L2209.5 911.2L2210.0 911.7L2210.5 909.8L2211.0 910.9L2211.5 904.1L2212.0 910.5L2212.5 911.1L2213.0 904.1L2213.5 906.3L2214.0 903.7L2214.6 915.5L2215.1 902.6L2215.6 910.9L2216.1 917.4L2216.6 911.9L2217.1 918.7L2217.6 917.3L2218.1 913.7L2218.6 905.3L2219.1 919.5L2219.6 909.5L2220.1 913.0L2220.6 901.8L2221.1 910.3L2221.6 907.8L2222.1 902.9L2222.6 918.4L2223.1 913.8L2223.6 920.9L2224.1 917.0L2224.6 909.9L2225.1 912.9L2225.6 909.5L2226.1 914.5L2226.6 916.3L2227.1 913.0L2227.6 917.6L2228.1 919.1L2228.6 922.1L2229.1 913.2L2229.6 909.8L2230.1 920.1L2230.6 915.5L2231.1 926.8L2231.6 920.2L2232.1 912.5L2232.6 921.0L2233.1 910.4L2233.6 915.6L2234.1 911.0L2234.6 916.6L2235.1 922.0L2235.6 913.5L2236.1 909.0L2236.6 916.7L2237.1 911.2L2237.6 917.9L2238.1 915.7L2238.6 906.1L2239.1 913.8L2239.6 919.4L2240.1 910.4L2240.6 913.5L2241.1 917.1L2241.6 909.7L2242.1 931.6L2242.6 910.5L2243.1 902.4L2243.6 912.2L2244.1 925.5L2244.6 905.9L2245.1 898.9L2245.6 910.7L2246.1 920.6L2246.6 918.3L2247.1 915.0L2247.6 913.1L2248.1 907.2L2248.6 910.9L2249.1 928.0L2249.6 916.2L2250.1 915.3L2250.7 903.2L2251.2 918.0L2251.7 922.9L2252.2 916.4L2252.7 913.0L2253.2 925.8L2253.7 908.1L2254.2 915.5L2254.7 909.8L2255.2 910.6L2255.7 911.6L2256.2 906.4L2256.7 904.8L2257.2 917.4L2257.7 915.4L2258.2 908.7L2258.7 914.1L2259.2 918.7L2259.7 914.5L2260.2 920.3L2260.7 918.2L2261.2 936.0L2261.7 914.4L2262.2 904.1L2262.7 910.9L2263.2 911.1L2263.7 914.2L2264.2 920.0L2264.7 912.4L2265.2 915.1L2265.7 916.3L2266.2 914.0L2266.7 919.0L2267.2 914.8L2267.7 911.7L2268.2 909.6L2268.7 914.8L2269.2 910.8L2269.7 914.6L2270.2 929.5L2270.7 927.5L2271.2 917.1L2271.7 922.6L2272.2 912.5L2272.7 923.9L2273.2 918.5L2273.7 919.4L2274.2 920.6L2274.7 919.6L2275.2 916.3L2275.7 915.6L2276.2 919.4L2276.7 915.2L2277.2 913.1L2277.7 917.5L2278.2 920.5L2278.7 920.5L2279.2 919.3L2279.7 919.7L2280.2 916.0L2280.7 900.3L2281.2 909.8L2281.7 916.4L2282.2 913.0L2282.7 913.1L2283.2 909.0L2283.7 908.1L2284.2 922.5L2284.7 903.3L2285.2 921.9L2285.7 916.2L2286.3 921.8L2286.8 927.1L2287.3 927.6L2287.8 905.0L2288.3 908.0L2288.8 922.9L2289.3 923.7L2289.8 908.0L2290.3 922.8L2290.8 914.3L2291.3 904.8L2291.8 912.5L2292.3 908.2L2292.8 915.8L2293.3 927.4L2293.8 922.2L2294.3 928.0L2294.8 915.4L2295.3 925.3L2295.8 916.7L2296.3 920.5L2296.8 921.7L2297.3 914.5L2297.8 920.5L2298.3 922.7L2298.8 911.7L2299.3 918.0L2299.8 926.7L2300.3 910.7L2300.8 926.4L2301.3 916.6L2301.8 914.8L2302.3 919.6L2302.8 923.1L2303.3 920.1L2303.8 920.3L2304.3 924.9L2304.8 913.1L2305.3 921.9L2305.8 922.7L2306.3 910.1L2306.8 922.8L2307.3 927.7L2307.8 918.9L2308.3 918.5L2308.8 918.4L2309.3 906.0L2309.8 922.0L2310.3 910.5L2310.8 913.4L2311.3 909.9L2311.8 919.3L2312.3 920.7L2312.8 920.0L2313.3 916.9L2313.8 913.0L2314.3 908.9L2314.8 929.5L2315.3 912.4L2315.8 916.6L2316.3 918.6L2316.8 925.2L2317.3 916.9L2317.8 929.9L2318.3 911.5L2318.8 924.7L2319.3 919.8L2319.8 920.1L2320.3 915.7L2320.8 927.2L2321.3 914.2L2321.8 916.8L2322.4 910.0L2322.9 917.5L2323.4 920.1L2323.9 930.8L2324.4 921.6L2324.9 909.5L2325.4 922.2L2325.9 922.5L2326.4 920.4L2326.9 914.5L2327.4 930.2L2327.9 908.8L2328.4 916.2L2328.9 915.4L2329.4 919.8L2329.9 908.0L2330.4 922.5L2330.9 915.0L2331.4 919.3L2331.9 927.5L2332.4 920.8L2332.9 915.7L2333.4 921.7L2333.9 922.5L2334.4 920.2L2334.9 925.3L2335.4 926.8L2335.9 919.8L2336.4 925.9L2336.9 916.8L2337.4 916.0L2337.9 912.6L2338.4 914.5L2338.9 922.0L2339.4 917.9L2339.9 927.3L2340.4 917.9L2340.9 923.5L2341.4 912.4L2341.9 924.8L2342.4 919.6L2342.9 925.2L2343.4 917.0L2343.9 916.9L2344.4 926.7L2344.9 909.1L2345.4 917.8L2345.9 929.3L2346.4 926.3L2346.9 931.8L2347.4 932.9L2347.9 921.8L2348.4 933.5L2348.9 918.8L2349.4 930.9L2349.9 923.4L2350.4 910.9L2350.9 923.3L2351.4 921.5L2351.9 913.9L2352.4 923.2L2352.9 918.2L2353.4 926.2L2353.9 923.7L2354.4 920.7L2354.9 921.4L2355.4 926.1L2355.9 920.2L2356.4 918.0L2356.9 917.8L2357.4 921.4L2357.9 927.3L2358.5 917.7L2359.0 916.7L2359.5 927.7L2360.0 935.6L2360.5 923.0L2361.0 915.9L2361.5 916.8L2362.0 929.0L2362.5 914.2L2363.0 927.4L2363.5 916.6L2364.0 924.7L2364.5 916.4L2365.0 919.2L2365.5 923.7L2366.0 918.1L2366.5 926.3L2367.0 924.7L2367.5 924.3L2368.0 927.6L2368.5 917.0L2369.0 917.0L2369.5 922.6L2370.0 928.4L2370.5 919.9L2371.0 921.0L2371.5 919.0L2372.0 922.8L2372.5 924.1L2373.0 914.6L2373.5 926.5L2374.0 924.1L2374.5 933.6L2375.0 925.2L2375.5 925.9L2376.0 925.1"/>
<path stroke="#FF00FF" d="M218.0 -200.0L218.5 -200.0L219.0 -200.0L219.5 -200.0L220.0 -200.0L220.5 -200.0L221.0 -172.7L221.5 -162.5L222.0 -103.5L222.5 -120.7L223.0 -103.0L223.5 -113.8L224.0 -74.6L224.5 -65.4L225.0 -14.4L225.5 -75.6L226.0 15.8L226.5 -31.2L227.0 7.4L227.5 29.5L228.0 37.7L228.5 51.5L229.0 47.0L229.5 73.2L230.0 63.6L230.5 144.5L231.0 133.8L231.5 172.1L232.0 165.7L232.5 237.4L233.0 227.9L233.5 237.9L234.0 282.8L234.5 256.4L235.0 281.1L235.5 277.7L236.0 287.6L236.5 327.3L237.0 333.6L237.5 334.0L238.1 329.5L238.6 338.6L239.1 373.2L239.6 382.0L240.1 394.8L240.6 401.1L241.1 404.7L241.6 410.9L242.1 385.4L242.6 428.9L243.1 431.2L243.6 425.5L244.1 450.8L244.6 446.9L245.1 445.8L245.6 439.2L246.1 472.9L246.6 438.6L247.1 466.8L247.6 463.1L248.1 457.2L248.6 463.5L249.1 461.5L249.6 477.5L250.1 483.9L250.6 483.1L251.1 505.0L251.6 478.5L252.1 509.6L252.6 519.9L253.1 478.7L253.6 512.0L254.1 529.7L254.6 492.7L255.1 525.5L255.6 510.5L256.1 539.1L256.6 534.8L257.1 557.1L257.6 563.2L258.1 554.1L258.6 545.5L259.1 537.3L259.6 519.3L260.1 567.0L260.6 543.7L261.1 567.3L261.6 564.4L262.1 584.2L262.6 586.9L263.1 580.8L263.6 588.8L264.1 576.5L264.6 588.0L265.1 566.3L265.6 582.7L266.1 585.3L266.6 576.0L267.1 586.4L267.6 596.0L268.1 599.3L268.6 602.4L269.1 590.5L269.6 596.8L270.1 604.5L270.6 601.9L271.1 620.7L271.6 610.6L272.1 636.2L272.6 605.8L273.1 623.3L273.6 624.6L274.2 622.1L274.7 631.8L275.2 637.2L275.7 622.8L276.2 638.0L276.7 652.6L277.2 639.4L277.7 666.6L278.2 630.0L278.7 653.1L279.2 652.5L279.7 628.8L280.2 631.3L280.7 655.7L281.2 650.9L281.7 646.7L282.2 640.9L282.7 662.4L283.2 660.2L283.7 648.6L284.2 660.1L284.7 655.3L285.2 657.5L285.7 677.7L286.2 675.0L286.7 695.4L287.2 668.8L287.7 651.1L288.2 679.0L288.7 652.8L289.2 655.7L289.7 667.8L290.2 667.5L290.7 666.7L291.2 677.4L291.7 671.0L292.2 668.5L292.7 661.1L293.2 659.1L293.7 676.3L294.2 658.3L294.7 675.8L295.2 668.2L295.7 661.3L296.2 664.6L296.7 664.6L297.2 658.9L297.7 666.8L298.2 666.5L298.7 659.8L299.2 644.9L299.7 655.1L300.2 629.3L300.7 645.5L301.2 678.8L301.7 645.4L302.2 616.6L302.7 631.7L303.2 632.7L303.7 633.8L304.2 603.6L304.7 603.7L305.2 604.0L305.7 603.2L306.2 587.1L306.7 590.9L307.2 612.3L307.7 583.9L308.2 587.4L308.7 586.9L309.2 572.0L309.7 577.1L310.3 610.5L310.8 549.5L311.3 551.8L311.8 562.2L312.3 561.0L312.8 548.6L313.3 563.5L313.8 538.0L314.3 540.1L314.8 536.5L315.3 538.4L315.8 529.1L316.3 498.1L316.8 487.0L317.3 489.6L317.8 488.0L318.3 490.3L318.8 458.6L319.3 436.5L319.8 473.3L320.3 424.5L320.8 463.5L321.3 427.1L321.8 405.1L322.3 417.0L322.8 402.6L323.3 358.9L323.8 331.2L324.3 338.1L324.8 298.3L325.3 322.1L325.8 272.5L326.3 289.7L326.8 278.3L327.3 260.2L327.8 251.5L328.3 236.3L328.8 256.9L329.3 227.8L329.8 246.3L330.3 274.0L330.8 280.1L331.3 280.8L331.8 293.5L332.3 301.2L332.8 308.4L333.3 308.4L333.8 345.2L334.3 348.0L334.8 322.9L335.3 336.5L335.8 367.2L336.3 349.0L336.8 388.9L337.3 392.4L337.8 425.8L338.3 396.5L338.8 420.2L339.3 415.7L339.8 431.6L340.3 450.0L340.8 457.0L341.3 449.1L341.8 474.4L342.3 480.0L342.8 482.1L343.3 476.6L343.8 479.2L344.3 469.2L344.8 499.7L345.3 484.3L345.9 512.9L346.4 498.3L346.9 507.0L347.4 487.4L347.9 504.5L348.4 520.6L348.9 508.8L349.4 513.9L349.9 524.8L350.4 526.4L350.9 536.8L351.4 489.2L351.9 525.2L352.4 514.9L352.9 543.5L353.4 542.5L353.9 530.1L354.4 529.9L354.9 517.3L355.4 541.1L355.9 520.6L356.4 507.5L356.9 539.6L357.4 515.3L357.9 540.0L358.4 522.5L358.9 522.2L359.4 503.8L359.9 535.9L360.4 524.4L360.9 512.6L361.4 541.9L361.9 526.4L362.4 537.7L362.9 535.4L363.4 516.9L363.9 516.5L364.4 491.4L364.9 507.2L365.4 508.3L365.9 527.5L366.4 529.1L366.9 523.1L367.4 554.9L367.9 502.4L368.4 533.2L368.9 538.0L369.4 529.5L369.9 511.0L370.4 505.3L370.9 526.0L371.4 514.1L371.9 519.6L372.4 531.0L372.9 514.2L373.4 514.9L373.9 534.7L374.4 498.1L374.9 533.0L375.4 507.6L375.9 524.0L376.4 520.0L376.9 517.7L377.4 498.0L377.9 523.8L378.4 508.8L378.9 484.6L379.4 514.5L379.9 504.9L380.4 494.9L380.9 511.3L381.4 496.4L382.0 511.2L382.5 492.1L383.0 500.1L383.5 513.0L384.0 480.3L384.5 500.1L385.0 501.7L385.5 509.6L386.0 502.3L386.5 496.0L387.0 491.0L387.5 476.9L388.0 508.7L388.5 493.9L389.0 471.0L389.5 483.4L390.0 478.7L390.5 460.8L391.0 476.6L391.5 473.3L392.0 479.0L392.5 452.5L393.0 461.2L393.5 484.8L394.0 466.1L394.5 488.8L395.0 456.7L395.5 461.6L396.0 472.4L396.5 475.0L397.0 493.7L397.5 457.0L398.0 468.6L398.5 470.6L399.0 455.3L399.5 474.1L400.0 472.3L400.5 473.1L401.0 481.7L401.5 427.9L402.0 464.0L402.5 465.6L403.0 447.3L403.5 503.9L404.0 459.2L404.5 458.0L405.0 471.3L405.5 450.5L406.0 485.2L406.5 455.9L407.0 442.9L407.5 486.6L408.0 475.2L408.5 456.5L409.0 454.1L409.5 462.7L410.0 448.0L410.5 449.3L411.0 471.6L411.5 453.3L412.0 469.7L412.5 480.7L413.0 485.1L413.5 435.5L414.0 451.5L414.5 421.2L415.0 469.6L415.5 453.3L416.0 442.8L416.5 449.2L417.0 439.4L417.5 443.9L418.1 454.2L418.6 478.3L419.1 457.9L419.6 418.9L420.1 432.0L420.6 422.6L421.1 450.2L421.6 444.0L422.1 453.2L422.6 434.4L423.1 438.5L423.6 432.3L424.1 412.8L424.6 449.8L425.1 426.5L425.6 456.9L426.1 420.1L426.6 441.9L427.1 436.0L427.6 432.5L428.1 410.1L428.6 433.9L429.1 440.2L429.6 449.6L430.1 428.0L430.6 443.9L431.1 438.3L431.6 430.9L432.1 420.3L432.6 440.0L433.1 419.4L433.6 403.0L434.1 450.0L434.6 408.0L435.1 396.1L435.6 435.6L436.1 417.7L436.6 446.2L437.1 420.9L437.6 430.2L438.1 420.6L438.6 438.1L439.1 436.4L439.6 430.6L440.1 434.2L440.6 432.5L441.1 426.2L441.6 439.2L442.1 424.8L442.6 415.4L443.1 456.0L443.6 419.1L444.1 432.7L444.6 437.9L445.1 441.1L445.6 433.7L446.1 432.0L446.6 415.9L447.1 439.3L447.6 405.3L448.1 432.5L448.6 410.3L449.1 404.2L449.6 437.9L450.1 404.0L450.6 387.4L451.1 425.6L451.6 410.2L452.1 420.4L452.6 417.0L453.1 420.7L453.7 425.1L454.2 406.8L454.7 404.2L455.2 417.0L455.7 394.5L456.2 400.6L456.7 406.0L457.2 426.7L457.7 388.1L458.2 396.4L458.7 447.3L459.2 431.8L459.7 422.4L460.2 401.5L460.7 396.8L461.2 419.2L461.7 411.3L462.2 404.5L462.7 433.4L463.2 405.8L463.7 418.9L464.2 411.6L464.7 414.9L465.2 431.5L465.7 428.7L466.2 413.3L466.7 412.0L467.2 417.7L467.7 398.1L468.2 418.9L468.7 431.5L469.2 418.6L469.7 416.1L470.2 415.4L470.7 396.3L471.2 405.9L471.7 397.8L472.2 404.1L472.7 415.7L473.2 398.0L473.7 417.0L474.2 409.5L474.7 427.9L475.2 411.7L475.7 417.9L476.2 407.7L476.7 386.4L477.2 378.3L477.7 398.2L478.2 413.7L478.7 401.2L479.2 410.0L479.7 422.4L480.2 414.5L480.7 417.3L481.2 422.7L481.7 393.6L482.2 422.0L482.7 421.5L483.2 404.0L483.7 424.7L484.2 431.6L484.7 427.3L485.2 407.9L485.7 409.7L486.2 411.0L486.7 422.4L487.2 429.2L487.7 402.7L488.2 437.5L488.7 419.6L489.2 436.1L489.8 422.9L490.3 419.4L490.8 399.4L491.3 459.7L491.8 397.9L492.3 431.1L492.8 414.0L493.3 406.8L493.8 430.1L494.3 420.4L494.8 412.2L495.3 421.4L495.8 430.7L496.3 417.4L496.8 418.8L497.3 442.6L497.8 401.1L498.3 417.9L498.8 456.8L499.3 433.8L499.8 396.8L500.3 399.0L500.8 418.5L501.3 447.3L501.8 426.4L502.3 407.8L502.8 417.8L503.3 428.7L503.8 434.8L504.3 412.4L504.8 427.8L505.3 420.3L505.8 418.2L506.3 401.9L506.8 423.4L507.3 422.7L507.8 452.8L508.3 411.0L508.8 414.6L509.3 428.2L509.8 461.4L510.3 436.9L510.8 428.1L511.3 399.1L511.8 421.4L512.3 418.9L512.8 418.9L513.3 411.9L513.8 448.2L514.3 444.5L514.8 449.7L515.3 437.2L515.8 438.6L516.3 432.5L516.8 449.3L517.3 433.6L517.8 447.7L518.3 405.3L518.8 443.9L519.3 400.0L519.8 413.6L520.3 455.0L520.8 424.4L521.3 429.9L521.8 461.2L522.3 430.8L522.8 441.3L523.3 435.5L523.8 453.2L524.3 442.3L524.8 435.9L525.3 445.0L525.9 451.5L526.4 445.5L526.9 457.8L527.4 439.3L527.9 481.3L528.4 423.4L528.9 444.6L529.4 439.1L529.9 434.1L530.4 464.6L530.9 414.6L531.4 463.7L531.9 441.4L532.4 443.9L532.9 430.2L533.4 449.5L533.9 469.9L534.4 445.6L534.9 485.9L535.4 454.0L535.9 458.1L536.4 429.7L536.9 456.4L537.4 459.2L537.9 464.0L538.4 465.9L538.9 462.0L539.4 446.0L539.9 473.7L540.4 458.4L540.9 476.7L541.4 458.7L541.9 454.4L542.4 474.7L542.9 465.7L543.4 456.6L543.9 447.6L544.4 445.4L544.9 461.0L545.4 474.0L545.9 483.3L546.4 449.7L546.9 441.4L547.4 456.4L547.9 439.9L548.4 468.9L548.9 468.4L549.4 441.1L549.9 478.0L550.4 455.7L550.9 459.2L551.4 462.9L551.9 441.1L552.4 478.4L552.9 472.5L553.4 496.4L553.9 482.1L554.4 475.0L554.9 473.7L555.4 471.6L555.9 464.9L556.4 479.0L556.9 497.9L557.4 468.4L557.9 465.1L558.4 487.8L558.9 483.0L559.4 447.7L559.9 458.5L560.4 458.1L560.9 464.5L561.5 472.3L562.0 482.0L562.5 467.3L563.0 478.6L563.5 482.5L564.0 477.0L564.5 478.5L565.0 465.4L565.5 491.8L566.0 444.1L566.5 493.5L567.0 486.0L567.5 467.4L568.0 492.8L568.5 488.4L569.0 481.8L569.5 524.1L570.0 490.4L570.5 497.4L571.0 487.9L571.5 478.1L572.0 476.8L572.5 465.4L573.0 466.8L573.5 473.0L574.0 488.5L574.5 474.1L575.0 502.9L575.5 491.0L576.0 470.3L576.5 479.8L577.0 510.7L577.5 500.1L578.0 479.9L578.5 484.5L579.0 478.6L579.5 518.5L580.0 512.1L580.5 498.6L581.0 509.1L581.5 496.5L582.0 496.4L582.5 492.3L583.0 499.4L583.5 490.3L584.0 487.9L584.5 496.9L585.0 516.3L585.5 482.3L586.0 497.5L586.5 495.2L587.0 499.2L587.5 524.1L588.0 494.6L588.5 512.0L589.0 520.2L589.5 486.4L590.0 508.7L590.5 501.0L591.0 493.3L591.5 483.9L592.0 531.1L592.5 517.0L593.0 498.2L593.5 517.0L594.0 552.8L594.5 506.9L595.0 506.3L595.5 499.0L596.0 507.2L596.5 516.7L597.0 508.3L597.6 512.2L598.1 519.0L598.6 509.2L599.1 508.3L599.6 527.3L600.1 500.1L600.6 503.3L601.1 504.3L601.6 552.5L602.1 514.3L602.6 518.0L603.1 530.3L603.6 509.5L604.1 538.1L604.6 501.6L605.1 513.5L605.6 526.0L606.1 500.5L606.6 513.9L607.1 516.1L607.6 538.5L608.1 514.4L608.6 503.0L609.1 507.6L609.6 540.2L610.1 504.7L610.6 502.3L611.1 512.9L611.6 529.9L612.1 545.3L612.6 537.9L613.1 533.9L613.6 523.0L614.1 519.8L614.6 537.6L615.1 550.0L615.6 534.1L616.1 546.9L616.6 511.9L617.1 546.5L617.6 524.2L618.1 520.1L618.6 544.7L619.1 518.7L619.6 534.5L620.1 543.6L620.6 546.2L621.1 532.6L621.6 520.3L622.1 560.2L622.6 527.4L623.1 538.0L623.6 546.5L624.1 538.3L624.6 537.5L625.1 538.6L625.6 527.6L626.1 550.7L626.6 513.1L627.1 527.8L627.6 548.0L628.1 566.0L628.6 541.3L629.1 546.8L629.6 532.1L630.1 532.8L630.6 517.5L631.1 544.9L631.6 533.2L632.1 549.7L632.6 549.4L633.1 524.8L633.7 547.2L634.2 547.3L634.7 551.0L635.2 542.5L635.7 539.4L636.2 549.3L636.7 563.2L637.2 544.2L637.7 559.9L638.2 554.2L638.7 547.2L639.2 547.3L639.7 581.3L640.2 529.2L640.7 541.5L641.2 527.2L641.7 520.1L642.2 565.7L642.7 561.3L643.2 551.3L643.7 542.9L644.2 562.2L644.7 560.2L645.2 542.7L645.7 568.7L646.2 554.9L646.7 544.2L647.2 562.2L647.7 549.2L648.2 561.3L648.7 580.9L649.2 568.0L649.7 564.1L650.2 566.4L650.7 562.3L651.2 558.0L651.7 560.0L652.2 562.0L652.7 570.4L653.2 568.2L653.7 570.7L654.2 574.0L654.7 549.4L655.2 591.9L655.7 565.1L656.2 589.6L656.7 576.9L657.2 559.6L657.7 574.0L658.2 553.0L658.7 583.6L659.2 575.8L659.7 580.7L660.2 573.0L660.7 577.7L661.2 579.1L661.7 573.7L662.2 561.3L662.7 574.0L663.2 575.8L663.7 580.7L664.2 586.6L664.7 596.5L665.2 592.0L665.7 578.8L666.2 604.0L666.7 572.0L667.2 586.1L667.7 593.2L668.2 588.7L668.7 574.0L669.3 578.1L669.8 579.8L670.3 561.3L670.8 554.3L671.3 600.2L671.8 573.3L672.3 594.3L672.8 602.2L673.3 591.8L673.8 572.7L674.3 589.6L674.8 592.0L675.3 568.6L675.8 580.1L676.3 587.8L676.8 564.3L677.3 581.2L677.8 596.7L678.3 601.5L678.8 593.5L679.3 586.4L679.8 577.1L680.3 578.6L680.8 588.1L681.3 604.5L681.8 578.7L682.3 589.5L682.8 604.7L683.3 606.9L683.8 589.2L684.3 588.1L684.8 582.7L685.3 608.4L685.8 569.8L686.3 616.6L686.8 594.9L687.3 578.2L687.8 582.3L688.3 607.5L688.8 588.4L689.3 581.1L689.8 587.6L690.3 609.4L690.8 576.9L691.3 618.1L691.8 597.9L692.3 612.0L692.8 604.5L693.3 603.7L693.8 593.8L694.3 616.0L694.8 598.1L695.3 585.1L695.8 600.5L696.3 595.1L696.8 596.9L697.3 611.8L697.8 607.5L698.3 602.7L698.8 597.7L699.3 579.0L699.8 584.2L700.3 610.4L700.8 610.3L701.3 617.8L701.8 634.1L702.3 589.9L702.8 599.9L703.3 630.6L703.8 606.9L704.3 578.4L704.8 601.7L705.4 601.8L705.9 605.8L706.4 618.0L706.9 623.3L707.4 619.4L707.9 607.7L708.4 612.8L708.9 601.6L709.4 588.9L709.9 603.4L710.4 600.7L710.9 615.6L711.4 627.5L711.9 585.4L712.4 603.3L712.9 598.0L713.4 617.4L713.9 633.9L714.4 597.3L714.9 640.1L715.4 616.1L715.9 620.9L716.4 612.0L716.9 605.1L717.4 605.3L717.9 641.3L718.4 603.9L718.9 639.5L719.4 608.4L719.9 622.2L720.4 631.1L720.9 624.0L721.4 633.9L721.9 618.3L722.4 607.0L722.9 609.0L723.4 618.5L723.9 606.0L724.4 613.5L724.9 593.7L725.4 614.0L725.9 627.8L726.4 624.4L726.9 630.4L727.4 625.0L727.9 623.5L728.4 613.8L728.9 612.9L729.4 622.1L729.9 617.9L730.4 632.3L730.9 630.3L731.4 653.8L731.9 633.7L732.4 630.6L732.9 593.8L733.4 641.6L733.9 624.7L734.4 629.8L734.9 645.2L735.4 623.3L735.9 626.6L736.4 644.7L736.9 655.5L737.4 628.3L737.9 645.2L738.4 620.1L738.9 631.9L739.4 622.4L739.9 632.8L740.4 610.8L740.9 621.3L741.5 611.6L742.0 628.8L742.5 642.8L743.0 647.8L743.5 637.1L744.0 627.8L744.5 639.1L745.0 602.4L745.5 632.9L746.0 626.9L746.5 631.6L747.0 648.0L747.5 620.5L748.0 625.7L748.5 623.4L749.0 645.2L749.5 634.0L750.0 635.0L750.5 620.8L751.0 651.6L751.5 627.3L752.0 620.4L752.5 640.9L753.0 645.9L753.5 620.5L754.0 633.7L754.5 623.4L755.0 628.2L755.5 624.7L756.0 639.9L756.5 663.3L757.0 631.2L757.5 646.7L758.0 631.4L758.5 645.4L759.0 619.9L759.5 642.6L760.0 630.0L760.5 627.0L761.0 641.4L761.5 636.9L762.0 641.2L762.5 652.3L763.0 624.1L763.5 652.8L764.0 660.8L764.5 648.5L765.0 641.2L765.5 642.3L766.0 647.4L766.5 649.0L767.0 669.4L767.5 636.8L768.0 623.9L768.5 653.5L769.0 666.5L769.5 636.5L770.0 647.7L770.5 693.3L771.0 655.2L771.5 663.8L772.0 660.7L772.5 623.3L773.0 635.5L773.5 649.4L774.0 647.5L774.5 629.2L775.0 661.2L775.5 639.6L776.0 656.2L776.5 639.0L777.1 646.5L777.6 658.2L778.1 637.0L778.6 643.4L779.1 628.3L779.6 655.2L780.1 649.0L780.6 659.0L781.1 636.6L781.6 660.3L782.1 651.8L782.6 636.4L783.1 645.8L783.6 648.9L784.1 649.5L784.6 648.9L785.1 645.5L785.6 657.0L786.1 677.2L786.6 638.1L787.1 666.7L787.6 632.7L788.1 651.3L788.6 617.4L789.1 641.3L789.6 650.4L790.1 644.8L790.6 672.5L791.1 654.2L791.6 660.8L792.1 656.6L792.6 681.3L793.1 683.3L793.6 649.2L794.1 657.4L794.6 663.5L795.1 659.6L795.6 666.5L796.1 664.7L796.6 651.3L797.1 662.4L797.6 651.7L798.1 668.5L798.6 681.8L799.1 668.5L799.6 662.7L800.1 674.4L800.6 666.1L801.1 667.7L801.6 651.1L802.1 652.4L802.6 649.7L803.1 671.8L803.6 659.1L804.1 648.2L804.6 661.5L805.1 664.6L805.6 673.0L806.1 654.5L806.6 662.4L807.1 653.0L807.6 666.7L808.1 641.1L808.6 665.7L809.1 680.0L809.6 663.5L810.1 660.5L810.6 651.3L811.1 672.1L811.6 673.1L812.1 670.2L812.6 671.8L813.2 692.2L813.7 659.3L814.2 653.3L814.7 677.0L815.2 679.8L815.7 670.2L816.2 678.2L816.7 659.7L817.2 676.3L817.7 662.2L818.2 683.9L818.7 686.1L819.2 687.9L819.7 686.5L820.2 665.3L820.7 660.6L821.2 668.9L821.7 668.3L822.2 696.5L822.7 658.3L823.2 685.6L823.7 656.4L824.2 643.7L824.7 671.1L825.2 664.8L825.7 665.0L826.2 687.5L826.7 685.5L827.2 680.6L827.7 671.1L828.2 663.3L828.7 671.8L829.2 660.6L829.7 679.3L830.2 689.8L830.7 673.3L831.2 674.5L831.7 690.3L832.2 662.3L832.7 685.2L833.2 682.6L833.7 671.9L834.2 686.9L834.7 667.6L835.2 670.3L835.7 669.7L836.2 675.1L836.7 680.6L837.2 684.0L837.7 671.8L838.2 659.8L838.7 666.6L839.2 671.4L839.7 664.3L840.2 660.6L840.7 690.3L841.2 676.5L841.7 662.2L842.2 683.7L842.7 681.7L843.2 669.4L843.7 679.0L844.2 662.8L844.7 680.3L845.2 670.0L845.7 648.3L846.2 663.9L846.7 692.6L847.2 689.1L847.7 688.8L848.2 678.0L848.7 693.6L849.3 671.4L849.8 658.2L850.3 660.2L850.8 686.7L851.3 681.4L851.8 681.8L852.3 687.9L852.8 659.3L853.3 686.5L853.8 691.5L854.3 674.9L854.8 675.3L855.3 661.9L855.8 661.9L856.3 681.5L856.8 703.3L857.3 672.0L857.8 670.6L858.3 659.5L858.8 697.8L859.3 693.3L859.8 662.6L860.3 661.9L860.8 665.8L861.3 680.8L861.8 666.1L862.3 687.1L862.8 695.0L863.3 681.7L863.8 680.0L864.3 672.1L864.8 669.0L865.3 701.3L865.8 678.4L866.3 676.1L866.8 696.0L867.3 684.8L867.8 681.3L868.3 677.0L868.8 691.8L869.3 689.0L869.8 694.7L870.3 678.5L870.8 686.2L871.3 689.1L871.8 675.4L872.3 684.5L872.8 696.2L873.3 670.0L873.8 671.9L874.3 677.7L874.8 694.6L875.3 670.5L875.8 689.6L876.3 704.1L876.8 684.6L877.3 662.9L877.8 688.3L878.3 676.7L878.8 667.9L879.3 681.3L879.8 686.9L880.3 683.3L880.8 676.9L881.3 689.2L881.8 679.6L882.3 677.3L882.8 687.7L883.3 675.5L883.8 677.3L884.3 687.2L884.9 685.6L885.4 682.3L885.9 685.3L886.4 685.9L886.9 695.0L887.4 682.5L887.9 675.5L888.4 676.6L888.9 692.8L889.4 677.5L889.9 676.9L890.4 693.9L890.9 677.9L891.4 685.7L891.9 687.9L892.4 681.2L892.9 686.1L893.4 708.4L893.9 681.5L894.4 696.2L894.9 684.9L895.4 676.3L895.9 686.5L896.4 688.8L896.9 682.4L897.4 678.5L897.9 693.2L898.4 691.0L898.9 678.5L899.4 666.4L899.9 684.1L900.4 674.4L900.9 692.2L901.4 684.0L901.9 683.3L902.4 698.3L902.9 684.4L903.4 686.3L903.9 712.3L904.4 685.3L904.9 681.1L905.4 681.7L905.9 680.9L906.4 696.7L906.9 692.6L907.4 686.7L907.9 694.1L908.4 689.8L908.9 671.3L909.4 694.3L909.9 688.4L910.4 664.6L910.9 686.1L911.4 695.6L911.9 681.8L912.4 682.6L912.9 683.1L913.4 702.7L913.9 681.4L914.4 680.3L914.9 662.0L915.4 676.9L915.9 689.0L916.4 680.8L916.9 676.9L917.4 685.7L917.9 684.5L918.4 669.1L918.9 678.7L919.4 678.3L919.9 694.4L920.4 679.1L921.0 704.4L921.5 670.3L922.0 688.7L922.5 676.7L923.0 668.4L923.5 695.3L924.0 670.9L924.5 681.0L925.0 670.9L925.5 687.3L926.0 690.9L926.5 669.3L927.0 678.7L927.5 682.7L928.0 695.7L928.5 668.9L929.0 686.9L929.5 685.6L930.0 690.8L930.5 683.1L931.0 676.8L931.5 684.0L932.0 684.3L932.5 689.3L933.0 667.2L933.5 665.8L934.0 686.5L934.5 692.9L935.0 680.6L935.5 700.9L936.0 680.8L936.5 680.5L937.0 681.7L937.5 666.2L938.0 663.6L938.5 678.5L939.0 687.2L939.5 672.2L940.0 671.0L940.5 696.2L941.0 691.2L941.5 686.1L942.0 701.2L942.5 695.3L943.0 665.5L943.5 696.8L944.0 674.0L944.5 691.8L945.0 672.3L945.5 679.5L946.0 673.2L946.5 697.9L947.0 679.7L947.5 689.0L948.0 674.5L948.5 675.0L949.0 680.8L949.5 684.0L950.0 682.7L950.5 679.8L951.0 688.0L951.5 687.2L952.0 689.4L952.5 693.7L953.0 671.0L953.5 696.5L954.0 668.1L954.5 674.5L955.0 700.6L955.5 701.8L956.0 681.7L956.5 693.4L957.1 680.3L957.6 671.5L958.1 677.8L958.6 684.0L959.1 683.6L959.6 665.6L960.1 685.3L960.6 662.5L961.1 659.1L961.6 685.1L962.1 677.8L962.6 662.3L963.1 688.3L963.6 676.0L964.1 669.2L964.6 691.7L965.1 676.3L965.6 678.9L966.1 685.9L966.6 663.4L967.1 681.5L967.6 655.2L968.1 672.0L968.6 687.3L969.1 676.8L969.6 687.8L970.1 670.6L970.6 672.2L971.1 692.2L971.6 683.7L972.1 674.0L972.6 678.4L973.1 689.6L973.6 667.1L974.1 664.1L974.6 694.9L975.1 662.8L975.6 700.9L976.1 680.2L976.6 685.9L977.1 684.6L977.6 676.6L978.1 691.2L978.6 679.6L979.1 660.2L979.6 673.5L980.1 662.2L980.6 668.9L981.1 695.8L981.6 658.9L982.1 668.8L982.6 670.8L983.1 682.0L983.6 683.5L984.1 689.1L984.6 679.3L985.1 676.3L985.6 679.2L986.1 679.1L986.6 698.4L987.1 685.5L987.6 685.8L988.1 673.9L988.6 682.0L989.1 681.9L989.6 676.0L990.1 682.1L990.6 679.9L991.1 664.9L991.6 678.5L992.1 686.5L992.7 670.1L993.2 667.8L993.7 669.6L994.2 690.6L994.7 666.0L995.2 675.6L995.7 674.6L996.2 675.0L996.7 670.9L997.2 670.5L997.7 659.7L998.2 672.9L998.7 676.4L999.2 668.4L999.7 676.4L1000.2 663.4L1000.7 673.4L1001.2 666.9L1001.7 680.4L1002.2 664.1L1002.7 667.9L1003.2 683.7L1003.7 678.5L1004.2 673.5L1004.7 688.5L1005.2 685.9L1005.7 668.9L1006.2 668.6L1006.7 659.5L1007.2 687.7L1007.7 677.7L1008.2 695.5L1008.7 654.7L1009.2 687.8L1009.7 676.1L1010.2 652.6L1010.7 657.9L1011.2 682.5L1011.7 648.7L1012.2 668.1L1012.7 684.0L1013.2 670.0L1013.7 665.8L1014.2 665.9L1014.7 695.5L1015.2 652.7L1015.7 689.7L1016.2 674.6L1016.7 656.7L1017.2 667.9L1017.7 672.4L1018.2 678.5L1018.7 665.6L1019.2 656.8L1019.7 677.5L1020.2 666.9L1020.7 675.4L1021.2 675.8L1021.7 693.6L1022.2 668.2L1022.7 660.7L1023.2 672.3L1023.7 659.2L1024.2 668.5L1024.7 657.0L1025.2 668.5L1025.7 673.9L1026.2 675.2L1026.7 668.7L1027.2 666.4L1027.7 677.9L1028.2 670.9L1028.8 683.6L1029.3 683.6L1029.8 661.9L1030.3 664.8L1030.8 659.0L1031.3 667.0L1031.8 665.7L1032.3 648.4L1032.8 677.2L1033.3 664.9L1033.8 650.9L1034.3 645.8L1034.8 661.5L1035.3 668.7L1035.8 678.8L1036.3 669.0L1036.8 665.6L1037.3 666.9L1037.8 661.5L1038.3 660.7L1038.8 671.8L1039.3 676.3L1039.8 669.7L1040.3 661.7L1040.8 648.6L1041.3 683.8L1041.8 654.5L1042.3 669.0L1042.8 654.0L1043.3 645.3L1043.8 660.2L1044.3 677.8L1044.8 669.9L1045.3 661.3L1045.8 668.7L1046.3 665.7L1046.8 673.2L1047.3 667.1L1047.8 671.4L1048.3 655.2L1048.8 661.0L1049.3 656.2L1049.8 681.7L1050.3 668.8L1050.8 671.9L1051.3 668.3L1051.8 673.0L1052.3 671.2L1052.8 646.2L1053.3 666.1L1053.8 676.6L1054.3 666.1L1054.8 638.4L1055.3 654.9L1055.8 672.5L1056.3 665.0L1056.8 662.9L1057.3 661.6L1057.8 681.9L1058.3 672.0L1058.8 663.4L1059.3 680.1L1059.8 663.2L1060.3 660.3L1060.8 652.5L1061.3 649.2L1061.8 662.6L1062.3 657.9L1062.8 652.8L1063.3 649.0L1063.8 659.0L1064.3 667.8L1064.9 653.0L1065.4 649.9L1065.9 657.4L1066.4 652.6L1066.9 641.3L1067.4 663.8L1067.9 665.8L1068.4 669.7L1068.9 653.9L1069.4 647.2L1069.9 662.7L1070.4 637.3L1070.9 663.1L1071.4 653.6L1071.9 657.5L1072.4 641.0L1072.9 662.7L1073.4 637.6L1073.9 657.2L1074.4 669.7L1074.9 661.1L1075.4 656.4L1075.9 636.0L1076.4 659.4L1076.9 654.0L1077.4 631.0L1077.9 651.7L1078.4 660.1L1078.9 661.1L1079.4 669.8L1079.9 648.7L1080.4 639.1L1080.9 656.1L1081.4 663.5L1081.9 648.7L1082.4 651.4L1082.9 652.8L1083.4 646.1L1083.9 650.5L1084.4 654.6L1084.9 639.4L1085.4 670.6L1085.9 662.4L1086.4 652.8L1086.9 664.5L1087.4 632.7L1087.9 673.3L1088.4 641.2L1088.9 642.5L1089.4 644.7L1089.9 643.6L1090.4 654.4L1090.9 655.8L1091.4 631.9L1091.9 649.0L1092.4 663.4L1092.9 660.7L1093.4 663.8L1093.9 643.6L1094.4 633.6L1094.9 649.6L1095.4 644.3L1095.9 651.3L1096.4 635.6L1096.9 635.4L1097.4 634.6L1097.9 624.7L1098.4 658.1L1098.9 635.3L1099.4 661.2L1099.9 635.7L1100.5 634.4L1101.0 635.1L1101.5 634.0L1102.0 644.2L1102.5 649.5L1103.0 633.8L1103.5 649.0L1104.0 634.0L1104.5 651.1L1105.0 637.8L1105.5 638.1L1106.0 650.5L1106.5 644.6L1107.0 630.7L1107.5 640.3L1108.0 634.8L1108.5 646.5L1109.0 639.0L1109.5 656.4L1110.0 648.5L1110.5 625.9L1111.0 633.6L1111.5 639.3L1112.0 637.8L1112.5 654.1L1113.0 634.4L1113.5 652.5L1114.0 646.9L1114.5 631.0L1115.0 646.8L1115.5 644.2L1116.0 639.4L1116.5 637.2L1117.0 623.3L1117.5 657.0L1118.0 642.5L1118.5 631.3L1119.0 643.1L1119.5 642.0L1120.0 646.5L1120.5 640.8L1121.0 630.0L1121.5 623.3L1122.0 633.1L1122.5 621.5L1123.0 635.6L1123.5 655.0L1124.0 628.0L1124.5 658.7L1125.0 636.8L1125.5 636.0L1126.0 648.5L1126.5 638.0L1127.0 641.7L1127.5 633.9L1128.0 638.7L1128.5 628.5L1129.0 639.3L1129.5 628.2L1130.0 634.8L1130.5 632.0L1131.0 633.3L1131.5 639.8L1132.0 621.9L1132.5 627.7L1133.0 659.3L1133.5 647.6L1134.0 615.0L1134.5 636.8L1135.0 602.5L1135.5 628.7L1136.0 628.4L1136.6 638.5L1137.1 635.7L1137.6 631.4L1138.1 622.9L1138.6 631.9L1139.1 633.4L1139.6 643.8L1140.1 638.0L1140.6 637.5L1141.1 634.2L1141.6 640.8L1142.1 644.8L1142.6 636.1L1143.1 660.0L1143.6 649.4L1144.1 641.8L1144.6 628.4L1145.1 640.5L1145.6 644.9L1146.1 625.4L1146.6 634.3L1147.1 617.8L1147.6 635.3L1148.1 640.8L1148.6 637.1L1149.1 613.3L1149.6 615.9L1150.1 631.3L1150.6 621.5L1151.1 648.4L1151.6 619.1L1152.1 629.3L1152.6 634.0L1153.1 632.8L1153.6 630.3L1154.1 638.2L1154.6 637.5L1155.1 646.7L1155.6 616.1L1156.1 643.4L1156.6 635.3L1157.1 622.3L1157.6 620.3L1158.1 618.0L1158.6 640.5L1159.1 639.0L1159.6 634.9L1160.1 654.7L1160.6 624.7L1161.1 652.5L1161.6 636.0L1162.1 624.6L1162.6 625.4L1163.1 639.6L1163.6 624.7L1164.1 622.9L1164.6 653.5L1165.1 637.8L1165.6 627.6L1166.1 630.1L1166.6 637.3L1167.1 636.2L1167.6 609.4L1168.1 639.0L1168.6 623.2L1169.1 648.1L1169.6 629.1L1170.1 623.4L1170.6 639.4L1171.1 641.6L1171.6 614.1L1172.1 636.7L1172.7 623.1L1173.2 650.3L1173.7 615.4L1174.2 656.1L1174.7 644.2L1175.2 640.5L1175.7 634.4L1176.2 631.6L1176.7 615.9L1177.2 610.4L1177.7 612.6L1178.2 624.2L1178.7 631.0L1179.2 656.2L1179.7 634.2L1180.2 639.7L1180.7 626.3L1181.2 644.4L1181.7 642.5L1182.2 641.5L1182.7 626.1L1183.2 631.4L1183.7 644.6L1184.2 652.4L1184.7 639.6L1185.2 640.4L1185.7 639.5L1186.2 632.5L1186.7 625.3L1187.2 624.7L1187.7 640.9L1188.2 641.9L1188.7 616.6L1189.2 636.1L1189.7 625.4L1190.2 631.3L1190.7 629.2L1191.2 615.7L1191.7 636.0L1192.2 621.1L1192.7 627.4L1193.2 635.0L1193.7 638.5L1194.2 639.2L1194.7 620.5L1195.2 622.3L1195.7 642.8L1196.2 628.9L1196.7 653.5L1197.2 632.8L1197.7 610.6L1198.2 646.7L1198.7 630.1L1199.2 640.3L1199.7 632.6L1200.2 645.3L1200.7 631.5L1201.2 659.6L1201.7 636.6L1202.2 637.3L1202.7 634.8L1203.2 611.4L1203.7 646.9L1204.2 641.7L1204.7 649.3L1205.2 628.6L1205.7 634.1L1206.2 647.5L1206.7 624.0L1207.2 631.5L1207.7 618.7L1208.3 626.2L1208.8 633.9L1209.3 643.6L1209.8 659.0L1210.3 641.8L1210.8 622.6L1211.3 638.0L1211.8 644.9L1212.3 632.8L1212.8 627.5L1213.3 604.7L1213.8 647.0L1214.3 639.9L1214.8 648.9L1215.3 644.4L1215.8 626.2L1216.3 637.8L1216.8 653.0L1217.3 621.9L1217.8 617.1L1218.3 628.2L1218.8 648.3L1219.3 649.3L1219.8 623.0L1220.3 648.9L1220.8 644.0L1221.3 654.2L1221.8 616.6L1222.3 645.7L1222.8 640.2L1223.3 646.8L1223.8 646.2L1224.3 651.8L1224.8 626.5L1225.3 646.7L1225.8 622.9L1226.3 653.8L1226.8 634.2L1227.3 628.9L1227.8 652.9L1228.3 637.4L1228.8 646.7L1229.3 652.8L1229.8 645.4L1230.3 661.8L1230.8 644.3L1231.3 658.5L1231.8 633.9L1232.3 624.5L1232.8 625.9L1233.3 650.0L1233.8 643.5L1234.3 619.9L1234.8 627.9L1235.3 635.3L1235.8 666.5L1236.3 646.5L1236.8 617.9L1237.3 637.8L1237.8 648.1L1238.3 642.3L1238.8 616.4L1239.3 629.1L1239.8 658.2L1240.3 656.7L1240.8 643.6L1241.3 629.6L1241.8 653.0L1242.3 651.0L1242.8 673.7L1243.3 652.1L1243.8 638.5L1244.4 638.6L1244.9 662.3L1245.4 637.0L1245.9 655.6L1246.4 662.5L1246.9 641.0L1247.4 665.5L1247.9 652.6L1248.4 657.4L1248.9 649.5L1249.4 645.5L1249.9 653.3L1250.4 658.0L1250.9 654.5L1251.4 676.0L1251.9 650.4L1252.4 625.9L1252.9 645.1L1253.4 636.1L1253.9 649.2L1254.4 649.2L1254.9 644.4L1255.4 642.0L1255.9 642.6L1256.4 659.4L1256.9 649.9L1257.4 667.3L1257.9 638.8L1258.4 651.2L1258.9 654.2L1259.4 665.6L1259.9 646.2L1260.4 640.4L1260.9 646.2L1261.4 639.7L1261.9 661.1L1262.4 642.2L1262.9 652.9L1263.4 683.3L1263.9 650.2L1264.4 664.9L1264.9 655.5L1265.4 661.6L1265.9 664.2L1266.4 642.6L1266.9 661.0L1267.4 653.0L1267.9 647.4L1268.4 659.8L1268.9 669.7L1269.4 655.3L1269.9 657.3L1270.4 666.6L1270.9 655.4L1271.4 642.6L1271.9 646.3L1272.4 640.0L1272.9 642.1L1273.4 655.7L1273.9 658.1L1274.4 670.7L1274.9 645.5L1275.4 665.5L1275.9 653.0L1276.4 641.1L1276.9 658.7L1277.4 677.0L1277.9 672.3L1278.4 665.0L1278.9 646.4L1279.4 665.4L1279.9 663.6L1280.5 674.5L1281.0 658.9L1281.5 662.0L1282.0 654.5L1282.5 674.5L1283.0 657.4L1283.5 680.5L1284.0 672.5L1284.5 671.5L1285.0 668.0L1285.5 661.7L1286.0 692.5L1286.5 667.9L1287.0 671.7L1287.5 682.5L1288.0 671.4L1288.5 663.4L1289.0 673.7L1289.5 674.5L1290.0 661.8L1290.5 678.0L1291.0 658.2L1291.5 666.0L1292.0 665.8L1292.5 664.3L1293.0 657.3L1293.5 679.4L1294.0 659.0L1294.5 681.9L1295.0 668.3L1295.5 666.0L1296.0 671.4L1296.5 685.6L1297.0 687.1L1297.5 686.2L1298.0 674.8L1298.5 672.7L1299.0 668.8L1299.5 692.1L1300.0 672.1L1300.5 664.7L1301.0 674.5L1301.5 676.7L1302.0 668.0L1302.5 659.9L1303.0 661.3L1303.5 661.1L1304.0 692.1L1304.5 662.7L1305.0 682.2L1305.5 669.9L1306.0 686.1L1306.5 675.8L1307.0 686.5L1307.5 683.7L1308.0 659.9L1308.5 694.4L1309.0 671.0L1309.5 681.3L1310.0 694.4L1310.5 668.5L1311.0 682.8L1311.5 689.5L1312.0 680.2L1312.5 692.9L1313.0 666.5L1313.5 701.1L1314.0 690.9L1314.5 707.4L1315.0 683.5L1315.5 677.7L1316.1 676.9L1316.6 670.6L1317.1 687.7L1317.6 692.9L1318.1 678.4L1318.6 695.2L1319.1 685.5L1319.6 694.5L1320.1 697.7L1320.6 690.8L1321.1 678.6L1321.6 681.2L1322.1 689.9L1322.6 719.8L1323.1 692.0L1323.6 688.4L1324.1 687.0L1324.6 700.9L1325.1 682.8L1325.6 690.4L1326.1 714.6L1326.6 686.7L1327.1 677.6L1327.6 692.6L1328.1 704.3L1328.6 676.9L1329.1 685.9L1329.6 716.5L1330.1 686.2L1330.6 693.5L1331.1 695.2L1331.6 717.4L1332.1 716.9L1332.6 697.6L1333.1 679.5L1333.6 698.5L1334.1 699.8L1334.6 707.7L1335.1 705.8L1335.6 691.1L1336.1 710.6L1336.6 683.0L1337.1 698.3L1337.6 700.4L1338.1 705.6L1338.6 712.3L1339.1 707.8L1339.6 721.0L1340.1 705.3L1340.6 726.6L1341.1 683.7L1341.6 708.1L1342.1 724.0L1342.6 705.7L1343.1 707.6L1343.6 715.0L1344.1 706.9L1344.6 718.5L1345.1 711.8L1345.6 712.7L1346.1 706.0L1346.6 717.2L1347.1 708.8L1347.6 741.6L1348.1 701.1L1348.6 710.8L1349.1 707.2L1349.6 715.8L1350.1 704.3L1350.6 714.2L1351.1 712.0L1351.6 713.6L1352.2 720.3L1352.7 724.4L1353.2 709.7L1353.7 708.9L1354.2 716.3L1354.7 703.0L1355.2 714.9L1355.7 711.5L1356.2 705.4L1356.7 709.7L1357.2 719.3L1357.7 729.0L1358.2 725.9L1358.7 729.2L1359.2 710.4L1359.7 755.8L1360.2 698.4L1360.7 728.7L1361.2 708.7L1361.7 717.0L1362.2 714.8L1362.7 734.1L1363.2 710.3L1363.7 722.2L1364.2 715.1L1364.7 731.5L1365.2 722.5L1365.7 729.7L1366.2 719.4L1366.7 715.9L1367.2 725.6L1367.7 719.0L1368.2 718.6L1368.7 724.8L1369.2 727.2L1369.7 744.5L1370.2 714.2L1370.7 723.5L1371.2 728.1L1371.7 723.7L1372.2 731.5L1372.7 729.6L1373.2 721.7L1373.7 742.4L1374.2 730.4L1374.7 725.1L1375.2 743.8L1375.7 739.2L1376.2 715.6L1376.7 706.4L1377.2 725.8L1377.7 722.3L1378.2 738.1L1378.7 715.9L1379.2 730.4L1379.7 729.2L1380.2 726.3L1380.7 736.4L1381.2 738.0L1381.7 731.5L1382.2 742.2L1382.7 737.7L1383.2 758.2L1383.7 742.6L1384.2 728.0L1384.7 721.8L1385.2 727.2L1385.7 742.0L1386.2 733.1L1386.7 743.7L1387.2 745.2L1387.7 724.8L1388.3 738.7L1388.8 738.5L1389.3 733.6L1389.8 726.4L1390.3 734.8L1390.8 738.7L1391.3 733.1L1391.8 737.5L1392.3 740.0L1392.8 759.2L1393.3 746.1L1393.8 738.8L1394.3 747.9L1394.8 719.5L1395.3 715.3L1395.8 721.4L1396.3 747.5L1396.8 733.8L1397.3 734.8L1397.8 735.7L1398.3 755.1L1398.8 730.4L1399.3 723.0L1399.8 732.0L1400.3 719.3L1400.8 743.4L1401.3 733.9L1401.8 728.1L1402.3 750.3L1402.8 742.6L1403.3 749.0L1403.8 733.2L1404.3 753.3L1404.8 739.3L1405.3 747.8L1405.8 734.0L1406.3 748.2L1406.8 744.9L1407.3 741.1L1407.8 751.3L1408.3 748.4L1408.8 746.8L1409.3 749.6L1409.8 742.5L1410.3 752.8L1410.8 744.8L1411.3 749.0L1411.8 752.6L1412.3 757.6L1412.8 765.5L1413.3 754.4L1413.8 742.6L1414.3 751.6L1414.8 734.0L1415.3 758.5L1415.8 753.1L1416.3 765.0L1416.8 739.0L1417.3 763.3L1417.8 746.3L1418.3 748.1L1418.8 726.0L1419.3 738.5L1419.8 744.0L1420.3 750.4L1420.8 733.9L1421.3 755.7L1421.8 764.4L1422.3 744.2L1422.8 753.5L1423.3 759.9L1423.9 750.1L1424.4 748.7L1424.9 768.8L1425.4 744.7L1425.9 735.1L1426.4 758.3L1426.9 769.2L1427.4 752.5L1427.9 756.4L1428.4 748.0L1428.9 746.8L1429.4 757.1L1429.9 741.5L1430.4 774.9L1430.9 763.3L1431.4 755.0L1431.9 753.2L1432.4 758.1L1432.9 753.1L1433.4 770.1L1433.9 780.1L1434.4 750.2L1434.9 745.5L1435.4 758.5L1435.9 769.9L1436.4 765.7L1436.9 753.3L1437.4 757.3L1437.9 746.9L1438.4 744.0L1438.9 748.1L1439.4 762.4L1439.9 750.4L1440.4 755.8L1440.9 758.8L1441.4 759.4L1441.9 762.2L1442.4 771.3L1442.9 758.3L1443.4 769.4L1443.9 762.8L1444.4 754.9L1444.9 755.4L1445.4 780.7L1445.9 769.7L1446.4 774.0L1446.9 761.2L1447.4 771.0L1447.9 755.3L1448.4 768.8L1448.9 760.3L1449.4 774.2L1449.9 772.2L1450.4 768.0L1450.9 761.5L1451.4 785.4L1451.9 765.4L1452.4 780.1L1452.9 765.0L1453.4 783.8L1453.9 771.1L1454.4 756.0L1454.9 753.8L1455.4 777.3L1455.9 752.0L1456.4 772.3L1456.9 768.1L1457.4 763.9L1457.9 767.9L1458.4 765.8L1458.9 767.6L1459.4 761.4L1460.0 767.7L1460.5 774.1L1461.0 779.7L1461.5 780.3L1462.0 771.5L1462.5 764.3L1463.0 768.2L1463.5 774.3L1464.0 767.6L1464.5 777.1L1465.0 770.9L1465.5 768.0L1466.0 775.9L1466.5 760.2L1467.0 762.4L1467.5 775.7L1468.0 767.4L1468.5 771.6L1469.0 770.5L1469.5 770.8L1470.0 761.7L1470.5 771.0L1471.0 771.4L1471.5 765.6L1472.0 766.1L1472.5 758.7L1473.0 782.2L1473.5 768.6L1474.0 791.9L1474.5 774.8L1475.0 787.1L1475.5 787.6L1476.0 776.8L1476.5 785.7L1477.0 778.7L1477.5 801.2L1478.0 763.8L1478.5 801.2L1479.0 782.9L1479.5 761.4L1480.0 789.7L1480.5 761.7L1481.0 767.4L1481.5 778.4L1482.0 781.2L1482.5 780.7L1483.0 775.7L1483.5 769.4L1484.0 766.4L1484.5 798.0L1485.0 770.9L1485.5 773.4L1486.0 790.5L1486.5 771.3L1487.0 771.1L1487.5 771.4L1488.0 780.6L1488.5 772.9L1489.0 769.2L1489.5 786.5L1490.0 785.2L1490.5 786.2L1491.0 770.3L1491.5 781.0L1492.0 788.0L1492.5 790.9L1493.0 793.4L1493.5 779.9L1494.0 774.5L1494.5 770.7L1495.0 791.6L1495.5 791.5L1496.1 791.5L1496.6 790.9L1497.1 797.0L1497.6 769.6L1498.1 779.5L1498.6 788.6L1499.1 807.3L1499.6 772.0L1500.1 777.6L1500.6 783.6L1501.1 778.5L1501.6 791.3L1502.1 779.5L1502.6 790.4L1503.1 781.5L1503.6 787.2L1504.1 797.9L1504.6 795.9L1505.1 776.6L1505.6 777.5L1506.1 788.4L1506.6 793.2L1507.1 791.2L1507.6 783.8L1508.1 799.8L1508.6 778.9L1509.1 795.1L1509.6 798.1L1510.1 788.4L1510.6 771.0L1511.1 794.7L1511.6 792.0L1512.1 799.2L1512.6 786.6L1513.1 786.6L1513.6 789.3L1514.1 792.9L1514.6 786.2L1515.1 782.5L1515.6 793.9L1516.1 792.3L1516.6 796.0L1517.1 795.4L1517.6 779.8L1518.1 799.8L1518.6 789.3L1519.1 781.8L1519.6 795.8L1520.1 786.3L1520.6 785.0L1521.1 804.8L1521.6 783.2L1522.1 801.2L1522.6 791.2L1523.1 806.1L1523.6 807.1L1524.1 795.0L1524.6 778.5L1525.1 770.2L1525.6 768.6L1526.1 781.1L1526.6 782.7L1527.1 786.6L1527.6 787.6L1528.1 796.9L1528.6 797.8L1529.1 790.1L1529.6 789.9L1530.1 799.7L1530.6 805.0L1531.1 801.0L1531.7 764.7L1532.2 801.0L1532.7 782.0L1533.2 784.1L1533.7 785.5L1534.2 800.7L1534.7 777.4L1535.2 792.9L1535.7 801.0L1536.2 802.2L1536.7 797.2L1537.2 777.2L1537.7 807.8L1538.2 802.4L1538.7 796.4L1539.2 792.3L1539.7 806.3L1540.2 805.9L1540.7 802.1L1541.2 791.3L1541.7 799.0L1542.2 799.6L1542.7 796.0L1543.2 796.9L1543.7 789.6L1544.2 804.7L1544.7 798.3L1545.2 804.1L1545.7 792.1L1546.2 791.3L1546.7 801.0L1547.2 788.4L1547.7 800.7L1548.2 786.7L1548.7 802.7L1549.2 803.3L1549.7 812.7L1550.2 808.7L1550.7 803.2L1551.2 818.7L1551.7 800.3L1552.2 792.6L1552.7 795.6L1553.2 798.7L1553.7 794.6L1554.2 805.7L1554.7 805.1L1555.2 793.6L1555.7 802.3L1556.2 792.5L1556.7 805.6L1557.2 795.5L1557.7 790.6L1558.2 802.4L1558.7 786.8L1559.2 788.1L1559.7 823.4L1560.2 778.7L1560.7 816.5L1561.2 780.6L1561.7 810.4L1562.2 821.3L1562.7 814.7L1563.2 798.8L1563.7 812.0L1564.2 808.2L1564.7 792.6L1565.2 812.3L1565.7 799.2L1566.2 792.4L1566.7 820.1L1567.2 814.2L1567.8 802.1L1568.3 804.2L1568.8 801.7L1569.3 822.0L1569.8 811.9L1570.3 801.1L1570.8 799.4L1571.3 793.6L1571.8 808.2L1572.3 811.4L1572.8 813.7L1573.3 813.4L1573.8 823.4L1574.3 790.5L1574.8 809.5L1575.3 812.0L1575.8 811.5L1576.3 801.1L1576.8 805.3L1577.3 813.2L1577.8 797.6L1578.3 804.2L1578.8 808.4L1579.3 806.9L1579.8 796.6L1580.3 800.9L1580.8 808.1L1581.3 798.2L1581.8 826.5L1582.3 801.3L1582.8 815.1L1583.3 813.3L1583.8 810.0L1584.3 791.6L1584.8 809.6L1585.3 809.5L1585.8 803.1L1586.3 826.1L1586.8 810.6L1587.3 802.7L1587.8 817.5L1588.3 803.8L1588.8 815.6L1589.3 822.3L1589.8 801.5L1590.3 808.6L1590.8 802.7L1591.3 807.9L1591.8 818.9L1592.3 800.7L1592.8 806.0L1593.3 806.1L1593.8 813.2L1594.3 819.5L1594.8 797.4L1595.3 803.1L1595.8 808.4L1596.3 815.3L1596.8 798.5L1597.3 817.6L1597.8 817.0L1598.3 791.9L1598.8 805.3L1599.3 802.7L1599.8 804.5L1600.3 792.5L1600.8 807.4L1601.3 806.7L1601.8 818.7L1602.3 810.8L1602.8 824.6L1603.3 814.7L1603.9 811.7L1604.4 805.4L1604.9 800.0L1605.4 817.8L1605.9 821.3L1606.4 809.8L1606.9 819.8L1607.4 797.7L1607.9 801.5L1608.4 821.0L1608.9 810.7L1609.4 801.7L1609.9 820.8L1610.4 817.2L1610.9 813.8L1611.4 801.5L1611.9 809.3L1612.4 815.6L1612.9 810.8L1613.4 813.4L1613.9 812.3L1614.4 809.9L1614.9 812.1L1615.4 808.6L1615.9 814.3L1616.4 816.9L1616.9 817.3L1617.4 828.5L1617.9 819.1L1618.4 799.7L1618.9 815.7L1619.4 810.9L1619.9 808.1L1620.4 819.8L1620.9 818.6L1621.4 811.4L1621.9 823.9L1622.4 808.4L1622.9 810.4L1623.4 814.3L1623.9 814.3L1624.4 810.3L1624.9 815.8L1625.4 838.0L1625.9 812.5L1626.4 825.0L1626.9 821.3L1627.4 820.8L1627.9 820.8L1628.4 831.6L1628.9 833.6L1629.4 818.2L1629.9 817.2L1630.4 814.1L1630.9 828.6L1631.4 820.4L1631.9 811.2L1632.4 821.1L1632.9 823.1L1633.4 801.0L1633.9 832.4L1634.4 825.2L1634.9 827.8L1635.4 822.8L1635.9 791.9L1636.4 827.6L1636.9 821.2L1637.4 823.6L1637.9 825.6L1638.4 812.2L1638.9 823.2L1639.5 810.3L1640.0 807.4L1640.5 823.6L1641.0 807.7L1641.5 829.8L1642.0 817.0L1642.5 811.1L1643.0 828.6L1643.5 820.5L1644.0 816.0L1644.5 815.2L1645.0 817.3L1645.5 803.5L1646.0 821.7L1646.5 810.4L1647.0 802.7L1647.5 826.0L1648.0 824.4L1648.5 829.7L1649.0 815.1L1649.5 809.2L1650.0 836.1L1650.5 829.2L1651.0 826.7L1651.5 802.8L1652.0 824.9L1652.5 818.6L1653.0 832.1L1653.5 814.7L1654.0 831.0L1654.5 822.8L1655.0 831.1L1655.5 823.3L1656.0 823.8L1656.5 820.8L1657.0 821.1L1657.5 807.7L1658.0 829.2L1658.5 812.0L1659.0 820.6L1659.5 824.8L1660.0 820.9L1660.5 821.4L1661.0 816.6L1661.5 817.0L1662.0 818.8L1662.5 821.8L1663.0 837.4L1663.5 817.1L1664.0 815.0L1664.5 821.3L1665.0 822.0L1665.5 831.7L1666.0 822.4L1666.5 817.7L1667.0 835.9L1667.5 829.0L1668.0 829.7L1668.5 815.1L1669.0 829.3L1669.5 840.8L1670.0 824.6L1670.5 815.0L1671.0 827.5L1671.5 829.9L1672.0 824.6L1672.5 812.5L1673.0 828.8L1673.5 828.9L1674.0 823.4L1674.5 833.4L1675.0 841.2L1675.6 826.0L1676.1 830.3L1676.6 824.5L1677.1 826.5L1677.6 823.3L1678.1 836.8L1678.6 825.2L1679.1 835.6L1679.6 825.3L1680.1 831.9L1680.6 814.5L1681.1 835.9L1681.6 847.4L1682.1 827.8L1682.6 832.7L1683.1 836.7L1683.6 827.4L1684.1 815.8L1684.6 830.8L1685.1 835.4L1685.6 818.1L1686.1 820.6L1686.6 829.9L1687.1 834.6L1687.6 824.4L1688.1 836.1L1688.6 835.7L1689.1 837.4L1689.6 826.5L1690.1 818.6L1690.6 830.6L1691.1 816.7L1691.6 847.4L1692.1 831.7L1692.6 845.6L1693.1 824.5L1693.6 821.4L1694.1 846.6L1694.6 838.5L1695.1 831.9L1695.6 844.7L1696.1 839.9L1696.6 841.1L1697.1 832.5L1697.6 839.4L1698.1 842.8L1698.6 840.2L1699.1 834.8L1699.6 833.4L1700.1 835.8L1700.6 824.5L1701.1 837.4L1701.6 833.8L1702.1 829.8L1702.6 837.6L1703.1 824.0L1703.6 828.7L1704.1 828.6L1704.6 842.2L1705.1 836.3L1705.6 830.7L1706.1 826.8L1706.6 840.4L1707.1 839.6L1707.6 846.2L1708.1 847.7L1708.6 827.0L1709.1 835.9L1709.6 831.5L1710.1 827.2L1710.6 836.2L1711.1 835.1L1711.7 844.4L1712.2 841.0L1712.7 832.9L1713.2 825.2L1713.7 828.3L1714.2 842.0L1714.7 842.7L1715.2 831.1L1715.7 832.9L1716.2 832.5L1716.7 834.8L1717.2 826.8L1717.7 834.8L1718.2 825.6L1718.7 832.9L1719.2 837.1L1719.7 846.2L1720.2 834.9L1720.7 830.4L1721.2 836.2L1721.7 845.3L1722.2 852.4L1722.7 840.1L1723.2 824.0L1723.7 846.9L1724.2 841.9L1724.7 836.9L1725.2 830.7L1725.7 846.2L1726.2 838.2L1726.7 836.3L1727.2 848.0L1727.7 835.7L1728.2 847.0L1728.7 837.7L1729.2 834.2L1729.7 838.6L1730.2 849.1L1730.7 834.0L1731.2 833.9L1731.7 838.4L1732.2 833.3L1732.7 843.4L1733.2 846.4L1733.7 841.4L1734.2 836.4L1734.7 833.2L1735.2 845.8L1735.7 838.8L1736.2 839.2L1736.7 844.5L1737.2 856.5L1737.7 854.2L1738.2 833.7L1738.7 853.0L1739.2 855.3L1739.7 852.7L1740.2 844.2L1740.7 831.6L1741.2 838.8L1741.7 845.6L1742.2 844.4L1742.7 838.6L1743.2 841.7L1743.7 855.9L1744.2 832.8L1744.7 835.2L1745.2 850.8L1745.7 844.4L1746.2 839.2L1746.7 840.5L1747.3 845.4L1747.8 842.3L1748.3 828.8L1748.8 845.3L1749.3 835.4L1749.8 841.1L1750.3 852.1L1750.8 838.2L1751.3 840.5L1751.8 834.3L1752.3 831.0L1752.8 835.2L1753.3 841.0L1753.8 839.4L1754.3 837.1L1754.8 849.9L1755.3 851.6L1755.8 837.9L1756.3 852.6L1756.8 846.2L1757.3 830.4L1757.8 837.2L1758.3 834.8L1758.8 844.7L1759.3 835.7L1759.8 851.1L1760.3 851.0L1760.8 846.2L1761.3 850.4L1761.8 835.1L1762.3 846.5L1762.8 854.4L1763.3 838.6L1763.8 840.0L1764.3 836.5L1764.8 854.9L1765.3 852.4L1765.8 863.4L1766.3 843.2L1766.8 846.8L1767.3 850.7L1767.8 836.1L1768.3 852.4L1768.8 850.5L1769.3 853.6L1769.8 854.8L1770.3 847.4L1770.8 848.6L1771.3 850.1L1771.8 856.0L1772.3 857.9L1772.8 852.4L1773.3 848.3L1773.8 854.7L1774.3 851.4L1774.8 850.9L1775.3 855.5L1775.8 859.9L1776.3 849.6L1776.8 836.3L1777.3 844.9L1777.8 849.5L1778.3 854.0L1778.8 853.6L1779.3 840.6L1779.8 857.6L1780.3 835.1L1780.8 848.4L1781.3 846.4L1781.8 851.4L1782.3 841.4L1782.8 841.6L1783.4 854.5L1783.9 834.9L1784.4 847.5L1784.9 860.4L1785.4 845.3L1785.9 846.7L1786.4 847.8L1786.9 842.6L1787.4 841.0L1787.9 858.5L1788.4 851.1L1788.9 850.7L1789.4 849.4L1789.9 863.5L1790.4 848.0L1790.9 849.5L1791.4 835.4L1791.9 856.7L1792.4 854.0L1792.9 846.9L1793.4 850.5L1793.9 843.8L1794.4 841.3L1794.9 857.4L1795.4 849.9L1795.9 845.9L1796.4 856.7L1796.9 833.9L1797.4 848.8L1797.9 849.9L1798.4 862.9L1798.9 856.6L1799.4 866.7L1799.9 846.4L1800.4 857.8L1800.9 851.3L1801.4 849.1L1801.9 850.5L1802.4 855.3L1802.9 846.6L1803.4 860.9L1803.9 866.8L1804.4 863.9L1804.9 847.0L1805.4 842.1L1805.9 858.1L1806.4 857.3L1806.9 850.2L1807.4 863.6L1807.9 857.3L1808.4 864.6L1808.9 853.3L1809.4 876.2L1809.9 865.6L1810.4 867.5L1810.9 854.9L1811.4 850.7L1811.9 854.8L1812.4 838.9L1812.9 854.4L1813.4 862.1L1813.9 858.4L1814.4 849.9L1814.9 851.5L1815.4 838.7L1815.9 853.6L1816.4 862.4L1816.9 863.7L1817.4 849.3L1817.9 876.8L1818.4 852.6L1818.9 849.2L1819.5 859.2L1820.0 854.0L1820.5 845.9L1821.0 844.6L1821.5 845.5L1822.0 848.6L1822.5 857.4L1823.0 865.4L1823.5 872.5L1824.0 842.9L1824.5 848.6L1825.0 866.4L1825.5 848.4L1826.0 860.1L1826.5 860.9L1827.0 866.2L1827.5 841.3L1828.0 867.6L1828.5 865.9L1829.0 852.0L1829.5 851.1L1830.0 853.5L1830.5 865.4L1831.0 859.2L1831.5 864.3L1832.0 861.6L1832.5 844.1L1833.0 855.8L1833.5 852.0L1834.0 865.0L1834.5 862.3L1835.0 854.8L1835.5 849.1L1836.0 859.6L1836.5 847.1L1837.0 840.3L1837.5 872.3L1838.0 858.7L1838.5 853.8L1839.0 860.6L1839.5 846.3L1840.0 858.2L1840.5 856.6L1841.0 871.5L1841.5 851.8L1842.0 862.0L1842.5 856.3L1843.0 861.7L1843.5 865.1L1844.0 861.2L1844.5 869.7L1845.0 862.1L1845.5 851.8L1846.0 853.2L1846.5 867.8L1847.0 854.2L1847.5 863.6L1848.0 865.7L1848.5 856.4L1849.0 855.5L1849.5 865.8L1850.0 854.0L1850.5 861.3L1851.0 845.0L1851.5 872.7L1852.0 863.3L1852.5 863.7L1853.0 868.1L1853.5 872.0L1854.0 852.5L1854.5 859.7L1855.1 872.5L1855.6 866.3L1856.1 865.1L1856.6 859.8L1857.1 869.8L1857.6 851.3L1858.1 862.4L1858.6 851.8L1859.1 858.5L1859.6 864.7L1860.1 864.1L1860.6 859.9L1861.1 861.7L1861.6 861.0L1862.1 857.3L1862.6 853.9L1863.1 870.9L1863.6 875.7L1864.1 870.4L1864.6 854.3L1865.1 865.1L1865.6 868.5L1866.1 861.2L1866.6 858.4L1867.1 872.4L1867.6 871.5L1868.1 864.6L1868.6 865.1L1869.1 870.0L1869.6 847.5L1870.1 855.3L1870.6 865.9L1871.1 859.7L1871.6 873.9L1872.1 858.0L1872.6 866.5L1873.1 870.4L1873.6 875.5L1874.1 859.1L1874.6 864.9L1875.1 869.9L1875.6 858.0L1876.1 867.6L1876.6 863.8L1877.1 869.4L1877.6 862.9L1878.1 874.7L1878.6 869.2L1879.1 865.8L1879.6 872.5L1880.1 870.5L1880.6 861.1L1881.1 870.2L1881.6 858.8L1882.1 863.6L1882.6 866.7L1883.1 878.0L1883.6 855.8L1884.1 856.1L1884.6 864.9L1885.1 866.1L1885.6 866.7L1886.1 870.4L1886.6 869.3L1887.1 864.5L1887.6 878.7L1888.1 868.0L1888.6 864.7L1889.1 880.9L1889.6 872.9L1890.1 879.6L1890.6 878.8L1891.2 864.2L1891.7 877.2L1892.2 849.1L1892.7 870.1L1893.2 874.9L1893.7 871.0L1894.2 869.1L1894.7 866.9L1895.2 866.8L1895.7 867.0L1896.2 861.3L1896.7 860.5L1897.2 868.9L1897.7 866.7L1898.2 875.0L1898.7 874.1L1899.2 872.5L1899.7 859.8L1900.2 875.0L1900.7 868.4L1901.2 869.0L1901.7 864.1L1902.2 874.5L1902.7 873.0L1903.2 862.2L1903.7 868.3L1904.2 874.2L1904.7 861.6L1905.2 869.5L1905.7 874.2L1906.2 863.7L1906.7 857.5L1907.2 873.5L1907.7 877.9L1908.2 888.0L1908.7 857.3L1909.2 874.8L1909.7 873.1L1910.2 878.3L1910.7 872.4L1911.2 878.8L1911.7 860.0L1912.2 866.1L1912.7 875.2L1913.2 880.3L1913.7 867.1L1914.2 877.6L1914.7 862.2L1915.2 869.5L1915.7 871.9L1916.2 880.5L1916.7 870.0L1917.2 881.5L1917.7 863.5L1918.2 886.4L1918.7 874.7L1919.2 854.9L1919.7 875.9L1920.2 866.9L1920.7 864.6L1921.2 869.8L1921.7 873.4L1922.2 865.0L1922.7 864.8L1923.2 876.6L1923.7 861.1L1924.2 863.1L1924.7 880.1L1925.2 868.9L1925.7 868.7L1926.2 871.7L1926.7 877.4L1927.3 881.7L1927.8 869.3L1928.3 884.6L1928.8 877.2L1929.3 887.3L1929.8 878.4L1930.3 872.1L1930.8 883.7L1931.3 867.8L1931.8 866.7L1932.3 870.5L1932.8 868.8L1933.3 863.0L1933.8 868.3L1934.3 886.0L1934.8 874.9L1935.3 879.9L1935.8 873.7L1936.3 886.2L1936.8 873.7L1937.3 876.0L1937.8 870.3L1938.3 881.2L1938.8 876.2L1939.3 889.7L1939.8 875.7L1940.3 874.9L1940.8 884.3L1941.3 874.8L1941.8 884.7L1942.3 871.6L1942.8 880.9L1943.3 878.1L1943.8 863.3L1944.3 871.2L1944.8 864.4L1945.3 867.9L1945.8 876.1L1946.3 864.2L1946.8 873.5L1947.3 875.5L1947.8 878.6L1948.3 884.1L1948.8 871.7L1949.3 877.2L1949.8 872.5L1950.3 876.5L1950.8 871.4L1951.3 880.0L1951.8 874.0L1952.3 868.6L1952.8 866.6L1953.3 875.8L1953.8 882.5L1954.3 865.3L1954.8 867.0L1955.3 880.5L1955.8 866.6L1956.3 872.0L1956.8 882.3L1957.3 874.9L1957.8 884.7L1958.3 878.6L1958.8 878.8L1959.3 876.5L1959.8 868.3L1960.3 886.6L1960.8 898.0L1961.3 871.5L1961.8 878.5L1962.3 869.9L1962.9 870.6L1963.4 864.8L1963.9 890.7L1964.4 865.7L1964.9 877.1L1965.4 880.3L1965.9 865.8L1966.4 868.2L1966.9 886.8L1967.4 881.5L1967.9 866.9L1968.4 887.1L1968.9 874.5L1969.4 873.6L1969.9 878.5L1970.4 881.0L1970.9 871.7L1971.4 879.0L1971.9 884.5L1972.4 873.1L1972.9 888.3L1973.4 881.0L1973.9 874.7L1974.4 887.9L1974.9 867.5L1975.4 875.6L1975.9 878.5L1976.4 885.5L1976.9 876.9L1977.4 880.7L1977.9 875.8L1978.4 882.5L1978.9 876.6L1979.4 889.3L1979.9 889.7L1980.4 884.5L1980.9 893.4L1981.4 881.3L1981.9 879.2L1982.4 891.8L1982.9 881.4L1983.4 884.8L1983.9 885.2L1984.4 871.4L1984.9 883.1L1985.4 880.8L1985.9 884.9L1986.4 884.4L1986.9 881.7L1987.4 880.7L1987.9 882.6L1988.4 873.6L1988.9 882.7L1989.4 881.6L1989.9 868.9L1990.4 879.5L1990.9 875.2L1991.4 876.2L1991.9 883.9L1992.4 872.0L1992.9 879.3L1993.4 880.1L1993.9 880.6L1994.4 878.6L1994.9 875.5L1995.4 896.3L1995.9 871.9L1996.4 895.9L1996.9 890.3L1997.4 877.3L1997.9 883.1L1998.4 877.1L1999.0 890.3L1999.5 881.8L2000.0 878.1L2000.5 888.0L2001.0 887.3L2001.5 881.3L2002.0 878.9L2002.5 899.9L2003.0 885.0L2003.5 880.5L2004.0 872.5L2004.5 890.6L2005.0 882.0L2005.5 890.5L2006.0 889.6L2006.5 887.4L2007.0 871.5L2007.5 879.2L2008.0 876.3L2008.5 883.9L2009.0 875.5L2009.5 882.9L2010.0 878.0L2010.5 893.5L2011.0 889.4L2011.5 878.5L2012.0 868.1L2012.5 869.9L2013.0 890.5L2013.5 884.8L2014.0 885.4L2014.5 865.6L2015.0 888.8L2015.5 882.2L2016.0 875.4L2016.5 879.0L2017.0 892.8L2017.5 870.0L2018.0 899.0L2018.5 882.5L2019.0 887.3L2019.5 894.5L2020.0 887.2L2020.5 887.5L2021.0 893.0L2021.5 888.7L2022.0 886.5L2022.5 883.9L2023.0 900.5L2023.5 889.1L2024.0 884.9L2024.5 878.2L2025.0 877.5L2025.5 898.0L2026.0 889.8L2026.5 883.9L2027.0 880.4L2027.5 873.6L2028.0 888.0L2028.5 894.7L2029.0 885.5L2029.5 884.2L2030.0 890.6L2030.5 892.6L2031.0 881.8L2031.5 895.4L2032.0 890.3L2032.5 884.3L2033.0 885.3L2033.5 886.0L2034.0 893.2L2034.5 911.6L2035.1 893.0L2035.6 882.4L2036.1 880.7L2036.6 876.2L2037.1 883.3L2037.6 877.2L2038.1 887.5L2038.6 884.1L2039.1 872.4L2039.6 892.2L2040.1 891.2L2040.6 879.0L2041.1 881.3L2041.6 899.1L2042.1 878.3L2042.6 892.9L2043.1 892.6L2043.6 880.5L2044.1 884.4L2044.6 884.1L2045.1 877.9L2045.6 881.1L2046.1 905.9L2046.6 886.1L2047.1 883.2L2047.6 888.2L2048.1 890.1L2048.6 886.6L2049.1 886.8L2049.6 888.9L2050.1 889.5L2050.6 896.2L2051.1 888.1L2051.6 893.8L2052.1 883.3L2052.6 892.7L2053.1 891.9L2053.6 898.3L2054.1 891.2L2054.6 885.6L2055.1 897.7L2055.6 881.7L2056.1 889.2L2056.6 891.5L2057.1 884.9L2057.6 887.8L2058.1 903.6L2058.6 883.4L2059.1 886.1L2059.6 890.8L2060.1 912.3L2060.6 917.4L2061.1 903.4L2061.6 885.2L2062.1 884.3L2062.6 890.3L2063.1 891.4L2063.6 906.9L2064.1 891.6L2064.6 898.0L2065.1 892.7L2065.6 898.7L2066.1 886.2L2066.6 893.8L2067.1 889.2L2067.6 892.1L2068.1 896.8L2068.6 902.4L2069.1 900.8L2069.6 898.3L2070.1 891.5L2070.7 878.3L2071.2 889.4L2071.7 892.9L2072.2 886.1L2072.7 900.1L2073.2 890.4L2073.7 890.4L2074.2 907.8L2074.7 890.6L2075.2 896.7L2075.7 893.4L2076.2 894.7L2076.7 891.9L2077.2 898.3L2077.7 887.0L2078.2 886.3L2078.7 899.9L2079.2 891.6L2079.7 894.8L2080.2 884.4L2080.7 898.7L2081.2 892.5L2081.7 894.8L2082.2 903.4L2082.7 886.2L2083.2 891.8L2083.7 902.2L2084.2 888.1L2084.7 887.2L2085.2 904.6L2085.7 895.7L2086.2 896.1L2086.7 895.6L2087.2 895.0L2087.7 897.3L2088.2 906.5L2088.7 894.3L2089.2 903.7L2089.7 898.8L2090.2 891.2L2090.7 881.9L2091.2 885.2L2091.7 899.5L2092.2 896.1L2092.7 885.3L2093.2 890.9L2093.7 888.7L2094.2 900.3L2094.7 890.8L2095.2 890.2L2095.7 885.2L2096.2 882.5L2096.7 899.1L2097.2 885.0L2097.7 896.5L2098.2 894.1L2098.7 884.9L2099.2 893.3L2099.7 891.1L2100.2 883.5L2100.7 879.4L2101.2 890.1L2101.7 901.8L2102.2 893.8L2102.7 899.1L2103.2 898.0L2103.7 893.2L2104.2 897.6L2104.7 896.0L2105.2 896.9L2105.7 897.4L2106.2 909.3L2106.8 898.4L2107.3 898.0L2107.8 886.5L2108.3 891.5L2108.8 895.3L2109.3 901.1L2109.8 893.9L2110.3 907.2L2110.8 893.0L2111.3 902.4L2111.8 902.2L2112.3 889.9L2112.8 897.7L2113.3 898.8L2113.8 905.9L2114.3 889.0L2114.8 915.3L2115.3 894.7L2115.8 896.1L2116.3 895.0L2116.8 902.3L2117.3 905.2L2117.8 886.2L2118.3 895.0L2118.8 892.0L2119.3 909.4L2119.8 891.6L2120.3 888.3L2120.8 892.8L2121.3 909.9L2121.8 906.4L2122.3 916.3L2122.8 897.0L2123.3 892.2L2123.8 897.0L2124.3 902.4L2124.8 905.6L2125.3 893.7L2125.8 906.3L2126.3 886.6L2126.8 895.7L2127.3 889.8L2127.8 898.3L2128.3 901.0L2128.8 895.9L2129.3 904.9L2129.8 901.0L2130.3 900.4L2130.8 906.1L2131.3 896.4L2131.8 907.4L2132.3 912.9L2132.8 902.3L2133.3 901.2L2133.8 902.6L2134.3 900.7L2134.8 899.7L2135.3 898.8L2135.8 900.5L2136.3 901.1L2136.8 911.6L2137.3 897.7L2137.8 894.0L2138.3 903.6L2138.8 906.4L2139.3 894.8L2139.8 905.0L2140.3 899.5L2140.8 897.4L2141.3 893.2L2141.8 879.8L2142.3 901.9L2142.9 922.6L2143.4 899.8L2143.9 905.8L2144.4 896.3L2144.9 898.2L2145.4 894.5L2145.9 900.9L2146.4 894.7L2146.9 904.2L2147.4 895.8L2147.9 908.4L2148.4 907.3L2148.9 902.0L2149.4 897.0L2149.9 907.9L2150.4 901.5L2150.9 897.3L2151.4 896.9L2151.9 909.3L2152.4 889.2L2152.9 904.3L2153.4 899.1L2153.9 891.7L2154.4 907.0L2154.9 914.9L2155.4 893.9L2155.9 911.7L2156.4 901.1L2156.9 908.0L2157.4 889.3L2157.9 899.7L2158.4 890.4L2158.9 898.7L2159.4 905.9L2159.9 896.3L2160.4 909.3L2160.9 906.3L2161.4 896.4L2161.9 897.5L2162.4 909.0L2162.9 903.8L2163.4 904.1L2163.9 911.4L2164.4 895.2L2164.9 911.4L2165.4 903.8L2165.9 903.3L2166.4 902.6L2166.9 924.2L2167.4 902.2L2167.9 907.5L2168.4 894.5L2168.9 913.4L2169.4 896.9L2169.9 899.8L2170.4 909.0L2170.9 902.1L2171.4 899.2L2171.9 912.4L2172.4 915.6L2172.9 906.2L2173.4 899.4L2173.9 901.4L2174.4 903.3L2174.9 907.9L2175.4 907.2L2175.9 898.1L2176.4 900.4L2176.9 892.8L2177.4 899.6L2177.9 902.9L2178.5 906.4L2179.0 904.1L2179.5 893.8L2180.0 907.1L2180.5 906.1L2181.0 902.2L2181.5 900.8L2182.0 895.1L2182.5 905.0L2183.0 889.6L2183.5 903.6L2184.0 902.6L2184.5 902.3L2185.0 895.0L2185.5 898.1L2186.0 902.8L2186.5 911.2L2187.0 913.1L2187.5 902.5L2188.0 902.6L2188.5 905.5L2189.0 903.1L2189.5 909.3L2190.0 903.1L2190.5 896.1L2191.0 901.8L2191.5 904.3L2192.0 903.7L2192.5 898.5L2193.0 909.2L2193.5 907.9L2194.0 910.3L2194.5 916.8L2195.0 896.7L2195.5 900.7L2196.0 910.6L2196.5 893.4L2197.0 910.3L2197.5 902.8L2198.0 910.6L2198.5 896.6L2199.0 902.4L2199.5 901.1L2200.0 901.5L2200.5 890.6L2201.0 920.8L2201.5 908.5L2202.0 904.9L2202.5 902.0L2203.0 906.2L2203.5 905.7L2204.0 899.9L2204.5 899.5L2205.0 909.2L2205.5 897.4L2206.0 905.2L2206.5 903.9L2207.0 891.6L2207.5 895.5L2208.0 918.2L2208.5 900.6L2209.0 899.2L2209.5 903.3L2210.0 909.8L2210.5 896.1L2211.0 909.1L2211.5 906.1L2212.0 911.0L2212.5 907.5L2213.0 916.2L2213.5 898.8L2214.0 910.6L2214.6 906.3L2215.1 909.2L2215.6 896.7L2216.1 892.9L2216.6 903.5L2217.1 905.6L2217.6 905.2L2218.1 913.2L2218.6 913.5L2219.1 910.9L2219.6 906.6L2220.1 911.6L2220.6 909.2L2221.1 907.2L2221.6 903.4L2222.1 906.8L2222.6 911.7L2223.1 908.2L2223.6 916.5L2224.1 900.4L2224.6 903.2L2225.1 905.0L2225.6 919.4L2226.1 910.4L2226.6 907.4L2227.1 910.9L2227.6 904.0L2228.1 918.2L2228.6 904.9L2229.1 901.1L2229.6 911.8L2230.1 912.2L2230.6 916.2L2231.1 905.3L2231.6 910.1L2232.1 909.1L2232.6 913.5L2233.1 905.8L2233.6 908.9L2234.1 910.3L2234.6 911.6L2235.1 906.8L2235.6 911.9L2236.1 913.7L2236.6 912.7L2237.1 912.8L2237.6 917.0L2238.1 898.1L2238.6 899.4L2239.1 920.2L2239.6 914.2L2240.1 915.9L2240.6 899.6L2241.1 912.9L2241.6 906.9L2242.1 915.2L2242.6 911.6L2243.1 904.3L2243.6 896.0L2244.1 908.8L2244.6 900.7L2245.1 899.4L2245.6 901.2L2246.1 901.4L2246.6 914.4L2247.1 902.9L2247.6 908.5L2248.1 922.4L2248.6 906.0L2249.1 909.4L2249.6 915.0L2250.1 905.6L2250.7 915.2L2251.2 912.8L2251.7 913.5L2252.2 901.2L2252.7 914.1L2253.2 898.8L2253.7 906.8L2254.2 901.7L2254.7 909.1L2255.2 909.5L2255.7 908.9L2256.2 904.8L2256.7 907.7L2257.2 904.7L2257.7 917.0L2258.2 903.3L2258.7 900.6L2259.2 905.7L2259.7 906.3L2260.2 907.4L2260.7 913.8L2261.2 917.1L2261.7 911.5L2262.2 909.9L2262.7 912.0L2263.2 907.9L2263.7 914.6L2264.2 911.2L2264.7 917.0L2265.2 918.5L2265.7 901.7L2266.2 909.2L2266.7 912.0L2267.2 917.4L2267.7 908.5L2268.2 899.3L2268.7 915.9L2269.2 913.6L2269.7 908.8L2270.2 917.6L2270.7 924.4L2271.2 907.3L2271.7 913.0L2272.2 905.1L2272.7 906.1L2273.2 911.2L2273.7 921.0L2274.2 903.8L2274.7 908.7L2275.2 910.6L2275.7 911.1L2276.2 911.6L2276.7 908.7L2277.2 919.2L2277.7 911.0L2278.2 918.4L2278.7 917.4L2279.2 912.4L2279.7 915.3L2280.2 911.7L2280.7 912.8L2281.2 916.5L2281.7 908.4L2282.2 909.7L2282.7 914.6L2283.2 917.5L2283.7 903.6L2284.2 921.8L2284.7 909.3L2285.2 917.4L2285.7 907.9L2286.3 914.0L2286.8 901.6L2287.3 910.1L2287.8 915.0L2288.3 917.6L2288.8 909.2L2289.3 913.5L2289.8 923.8L2290.3 921.1L2290.8 924.6L2291.3 903.3L2291.8 904.7L2292.3 914.3L2292.8 906.4L2293.3 914.8L2293.8 914.9L2294.3 914.5L2294.8 909.7L2295.3 917.4L2295.8 911.3L2296.3 914.0L2296.8 925.7L2297.3 922.8L2297.8 909.1L2298.3 915.4L2298.8 917.2L2299.3 914.7L2299.8 916.3L2300.3 914.6L2300.8 908.8L2301.3 917.4L2301.8 912.4L2302.3 908.1L2302.8 913.1L2303.3 927.8L2303.8 906.6L2304.3 921.5L2304.8 917.7L2305.3 910.9L2305.8 902.8L2306.3 910.3L2306.8 913.9L2307.3 916.9L2307.8 918.3L2308.3 921.0L2308.8 909.7L2309.3 915.5L2309.8 914.2L2310.3 923.5L2310.8 913.8L2311.3 925.4L2311.8 912.0L2312.3 903.7L2312.8 921.1L2313.3 922.7L2313.8 907.3L2314.3 918.8L2314.8 907.7L2315.3 923.6L2315.8 913.3L2316.3 909.4L2316.8 913.1L2317.3 921.3L2317.8 932.2L2318.3 916.1L2318.8 920.3L2319.3 915.0L2319.8 905.2L2320.3 925.3L2320.8 917.8L2321.3 911.4L2321.8 903.3L2322.4 915.2L2322.9 908.5L2323.4 921.2L2323.9 915.2L2324.4 915.6L2324.9 911.6L2325.4 915.9L2325.9 916.6L2326.4 909.3L2326.9 915.5L2327.4 916.7L2327.9 914.5L2328.4 916.8L2328.9 909.9L2329.4 912.2L2329.9 921.4L2330.4 916.0L2330.9 926.6L2331.4 921.8L2331.9 916.2L2332.4 908.1L2332.9 913.8L2333.4 909.7L2333.9 920.4L2334.4 908.1L2334.9 912.7L2335.4 919.5L2335.9 919.0L2336.4 917.5L2336.9 925.2L2337.4 925.6L2337.9 921.1L2338.4 915.0L2338.9 917.3L2339.4 906.3L2339.9 910.3L2340.4 918.9L2340.9 909.5L2341.4 919.1L2341.9 918.1L2342.4 913.3L2342.9 901.4L2343.4 917.4L2343.9 904.7L2344.4 917.8L2344.9 909.6L2345.4 908.8L2345.9 912.2L2346.4 912.0L2346.9 917.8L2347.4 926.4L2347.9 916.2L2348.4 916.2L2348.9 905.6L2349.4 915.9L2349.9 914.6L2350.4 913.3L2350.9 920.8L2351.4 915.5L2351.9 910.3L2352.4 917.7L2352.9 923.8L2353.4 916.6L2353.9 910.5L2354.4 917.6L2354.9 920.0L2355.4 912.1L2355.9 926.5L2356.4 917.1L2356.9 917.5L2357.4 922.5L2357.9 917.9L2358.5 911.3L2359.0 911.9L2359.5 916.4L2360.0 910.8L2360.5 913.9L2361.0 925.1L2361.5 911.8L2362.0 918.1L2362.5 917.1L2363.0 916.7L2363.5 909.0L2364.0 920.6L2364.5 914.3L2365.0 918.1L2365.5 921.0L2366.0 927.6L2366.5 913.6L2367.0 921.0L2367.5 920.3L2368.0 918.6L2368.5 921.7L2369.0 928.0L2369.5 908.5L2370.0 914.1L2370.5 913.7L2371.0 916.8L2371.5 918.7L2372.0 916.9L2372.5 916.0L2373.0 915.5L2373.5 908.4L2374.0 924.6L2374.5 926.8L2375.0 921.3L2375.5 914.8L2376.0 917.4"/>
</g>
<g clip-path="url(#cB)" fill="none" stroke-width="4.2" stroke-linejoin="round" stroke-linecap="butt">
<path stroke="#000080" d="M218.0 489.5L218.5 561.1L219.0 597.7L219.5 639.7L220.0 678.1L220.5 745.6L221.0 802.5L221.5 848.0L222.0 859.2L222.5 873.2L223.0 918.4L223.5 970.0L224.0 1007.6L224.5 1087.3L225.0 1131.0L225.5 1177.5L226.0 1166.8L226.5 1193.2L227.0 1193.7L227.5 1198.2L228.0 1207.2L228.5 1194.6L229.0 1209.6L229.5 1224.8L230.0 1220.4L230.5 1226.2L231.0 1272.8L231.5 1266.3L232.0 1289.0L232.5 1290.8L233.0 1318.1L233.5 1312.4L234.0 1324.0L234.5 1337.1L235.0 1355.2L235.5 1354.8L236.0 1371.1L236.5 1381.5L237.0 1368.4L237.5 1391.6L238.1 1370.0L238.6 1382.2L239.1 1422.2L239.6 1401.6L240.1 1425.5L240.6 1419.2L241.1 1426.2L241.6 1456.7L242.1 1441.9L242.6 1447.1L243.1 1437.2L243.6 1466.0L244.1 1447.7L244.6 1472.4L245.1 1467.1L245.6 1476.3L246.1 1453.5L246.6 1466.6L247.1 1448.6L247.6 1471.5L248.1 1472.0L248.6 1474.6L249.1 1493.2L249.6 1489.6L250.1 1476.2L250.6 1497.7L251.1 1493.4L251.6 1497.8L252.1 1492.9L252.6 1505.5L253.1 1505.0L253.6 1502.5L254.1 1505.7L254.6 1517.8L255.1 1500.3L255.6 1525.4L256.1 1525.8L256.6 1528.1L257.1 1505.4L257.6 1521.0L258.1 1528.8L258.6 1532.0L259.1 1516.8L259.6 1533.8L260.1 1537.6L260.6 1519.1L261.1 1539.7L261.6 1532.1L262.1 1530.4L262.6 1536.7L263.1 1534.4L263.6 1521.5L264.1 1542.6L264.6 1551.9L265.1 1559.5L265.6 1544.1L266.1 1547.0L266.6 1541.9L267.1 1550.7L267.6 1551.9L268.1 1555.5L268.6 1554.5L269.1 1548.5L269.6 1555.0L270.1 1551.0L270.6 1533.6L271.1 1549.0L271.6 1570.8L272.1 1538.1L272.6 1553.1L273.1 1567.2L273.6 1549.7L274.2 1559.9L274.7 1567.5L275.2 1568.8L275.7 1573.5L276.2 1564.0L276.7 1554.5L277.2 1568.9L277.7 1561.6L278.2 1547.1L278.7 1577.9L279.2 1563.1L279.7 1568.7L280.2 1576.1L280.7 1575.6L281.2 1565.4L281.7 1560.7L282.2 1570.2L282.7 1564.1L283.2 1557.0L283.7 1560.5L284.2 1553.7L284.7 1556.5L285.2 1554.7L285.7 1539.4L286.2 1549.8L286.7 1552.9L287.2 1545.1L287.7 1559.9L288.2 1552.1L288.7 1538.7L289.2 1538.6L289.7 1527.2L290.2 1541.0L290.7 1554.3L291.2 1516.6L291.7 1523.1L292.2 1543.2L292.7 1515.0L293.2 1526.4L293.7 1542.9L294.2 1524.8L294.7 1522.1L295.2 1495.6L295.7 1517.1L296.2 1507.0L296.7 1502.8L297.2 1499.5L297.7 1500.9L298.2 1483.8L298.7 1469.6L299.2 1469.9L299.7 1482.3L300.2 1479.6L300.7 1459.6L301.2 1463.0L301.7 1455.3L302.2 1459.9L302.7 1408.9L303.2 1412.4L303.7 1426.6L304.2 1396.0L304.7 1383.4L305.2 1422.2L305.7 1392.9L306.2 1383.8L306.7 1363.0L307.2 1363.7L307.7 1355.3L308.2 1342.7L308.7 1307.1L309.2 1291.8L309.7 1315.3L310.3 1307.6L310.8 1242.6L311.3 1273.9L311.8 1250.3L312.3 1226.9L312.8 1209.3L313.3 1192.0L313.8 1192.5L314.3 1202.6L314.8 1173.9L315.3 1167.8L315.8 1132.6L316.3 1148.4L316.8 1155.7L317.3 1139.2L317.8 1091.0L318.3 1109.2L318.8 1118.1L319.3 1085.0L319.8 1063.5L320.3 1033.7L320.8 1028.1L321.3 1010.6L321.8 1016.6L322.3 1040.6L322.8 1049.6L323.3 1033.9L323.8 1037.1L324.3 1052.7L324.8 1065.0L325.3 1058.2L325.8 1084.0L326.3 1089.5L326.8 1108.4L327.3 1103.6L327.8 1116.9L328.3 1089.5L328.8 1150.8L329.3 1144.8L329.8 1158.3L330.3 1194.1L330.8 1188.1L331.3 1249.1L331.8 1230.0L332.3 1232.6L332.8 1290.5L333.3 1286.1L333.8 1268.7L334.3 1298.7L334.8 1321.9L335.3 1324.1L335.8 1337.9L336.3 1332.9L336.8 1347.3L337.3 1367.1L337.8 1382.0L338.3 1384.2L338.8 1376.8L339.3 1398.3L339.8 1404.4L340.3 1423.1L340.8 1445.0L341.3 1445.3L341.8 1435.7L342.3 1448.1L342.8 1465.3L343.3 1478.4L343.8 1462.6L344.3 1470.7L344.8 1473.0L345.3 1474.5L345.9 1469.1L346.4 1470.3L346.9 1464.0L347.4 1465.6L347.9 1462.4L348.4 1469.8L348.9 1484.3L349.4 1482.9L349.9 1478.6L350.4 1489.4L350.9 1481.7L351.4 1476.8L351.9 1500.1L352.4 1512.3L352.9 1481.1L353.4 1495.6L353.9 1489.5L354.4 1513.2L354.9 1481.0L355.4 1493.0L355.9 1503.4L356.4 1506.6L356.9 1502.1L357.4 1505.8L357.9 1507.6L358.4 1517.2L358.9 1491.9L359.4 1506.5L359.9 1505.8L360.4 1506.0L360.9 1532.9L361.4 1502.0L361.9 1511.6L362.4 1511.4L362.9 1507.7L363.4 1519.1L363.9 1499.6L364.4 1516.3L364.9 1518.5L365.4 1517.9L365.9 1506.7L366.4 1500.1L366.9 1514.3L367.4 1523.9L367.9 1495.7L368.4 1518.3L368.9 1493.3L369.4 1506.4L369.9 1512.9L370.4 1511.7L370.9 1499.3L371.4 1494.1L371.9 1505.4L372.4 1492.5L372.9 1479.5L373.4 1504.0L373.9 1513.7L374.4 1512.1L374.9 1515.2L375.4 1506.3L375.9 1506.6L376.4 1512.5L376.9 1491.5L377.4 1525.2L377.9 1510.3L378.4 1472.9L378.9 1482.9L379.4 1487.8L379.9 1487.7L380.4 1472.4L380.9 1485.3L381.4 1489.5L382.0 1503.2L382.5 1489.6L383.0 1496.1L383.5 1495.0L384.0 1494.3L384.5 1486.1L385.0 1488.5L385.5 1474.3L386.0 1498.0L386.5 1484.3L387.0 1460.8L387.5 1480.3L388.0 1466.5L388.5 1466.3L389.0 1463.4L389.5 1468.9L390.0 1491.8L390.5 1478.4L391.0 1478.8L391.5 1491.1L392.0 1478.0L392.5 1485.9L393.0 1489.7L393.5 1467.6L394.0 1469.6L394.5 1476.1L395.0 1478.2L395.5 1472.7L396.0 1470.2L396.5 1469.5L397.0 1464.7L397.5 1468.2L398.0 1458.1L398.5 1455.8L399.0 1457.0L399.5 1467.9L400.0 1466.7L400.5 1454.0L401.0 1460.6L401.5 1458.2L402.0 1485.6L402.5 1487.3L403.0 1451.8L403.5 1451.2L404.0 1438.2L404.5 1445.3L405.0 1450.4L405.5 1452.1L406.0 1468.0L406.5 1440.7L407.0 1457.2L407.5 1443.7L408.0 1446.5L408.5 1445.0L409.0 1437.1L409.5 1452.5L410.0 1450.6L410.5 1455.4L411.0 1449.1L411.5 1424.7L412.0 1447.7L412.5 1428.9L413.0 1432.5L413.5 1432.9L414.0 1431.4L414.5 1452.0L415.0 1435.2L415.5 1420.3L416.0 1446.4L416.5 1438.2L417.0 1445.1L417.5 1432.7L418.1 1448.5L418.6 1416.3L419.1 1439.1L419.6 1452.3L420.1 1412.5L420.6 1421.6L421.1 1426.3L421.6 1425.6L422.1 1435.6L422.6 1433.5L423.1 1421.8L423.6 1419.0L424.1 1418.4L424.6 1426.4L425.1 1434.0L425.6 1430.3L426.1 1414.5L426.6 1410.1L427.1 1430.8L427.6 1432.1L428.1 1411.2L428.6 1417.1L429.1 1417.0L429.6 1440.6L430.1 1429.1L430.6 1430.5L431.1 1421.6L431.6 1443.9L432.1 1408.4L432.6 1419.8L433.1 1418.0L433.6 1437.0L434.1 1423.1L434.6 1406.7L435.1 1441.1L435.6 1418.7L436.1 1413.9L436.6 1430.4L437.1 1412.4L437.6 1425.9L438.1 1407.3L438.6 1415.6L439.1 1419.1L439.6 1397.8L440.1 1411.8L440.6 1406.0L441.1 1435.7L441.6 1429.2L442.1 1411.4L442.6 1410.5L443.1 1421.9L443.6 1411.9L444.1 1433.8L444.6 1418.5L445.1 1434.7L445.6 1416.9L446.1 1426.7L446.6 1428.5L447.1 1420.1L447.6 1399.1L448.1 1432.7L448.6 1427.8L449.1 1407.8L449.6 1425.6L450.1 1399.3L450.6 1417.7L451.1 1419.3L451.6 1416.0L452.1 1399.5L452.6 1412.4L453.1 1414.0L453.7 1417.1L454.2 1438.7L454.7 1430.6L455.2 1402.2L455.7 1410.1L456.2 1413.8L456.7 1412.2L457.2 1426.2L457.7 1415.7L458.2 1430.4L458.7 1414.9L459.2 1428.1L459.7 1422.1L460.2 1414.1L460.7 1423.4L461.2 1411.7L461.7 1413.9L462.2 1415.0L462.7 1403.5L463.2 1436.9L463.7 1438.3L464.2 1411.8L464.7 1407.9L465.2 1395.1L465.7 1410.0L466.2 1409.1L466.7 1429.6L467.2 1410.0L467.7 1410.9L468.2 1431.5L468.7 1429.6L469.2 1420.2L469.7 1415.4L470.2 1454.0L470.7 1417.9L471.2 1416.0L471.7 1420.8L472.2 1415.5L472.7 1413.2L473.2 1430.7L473.7 1413.6L474.2 1421.6L474.7 1429.9L475.2 1416.0L475.7 1400.7L476.2 1436.0L476.7 1438.2L477.2 1438.2L477.7 1394.8L478.2 1421.4L478.7 1419.1L479.2 1427.8L479.7 1429.6L480.2 1442.6L480.7 1416.3L481.2 1415.2L481.7 1441.9L482.2 1430.8L482.7 1427.2L483.2 1418.6L483.7 1415.3L484.2 1404.8L484.7 1401.9L485.2 1405.4L485.7 1402.2L486.2 1432.2L486.7 1424.8L487.2 1404.5L487.7 1414.7L488.2 1418.0L488.7 1441.8L489.2 1440.4L489.8 1409.4L490.3 1414.1L490.8 1421.7L491.3 1423.1L491.8 1438.8L492.3 1413.7L492.8 1405.8L493.3 1398.5L493.8 1417.6L494.3 1420.7L494.8 1431.4L495.3 1403.7L495.8 1398.0L496.3 1425.8L496.8 1415.1L497.3 1417.6L497.8 1425.6L498.3 1448.7L498.8 1423.4L499.3 1411.9L499.8 1436.5L500.3 1429.4L500.8 1458.8L501.3 1404.4L501.8 1413.9L502.3 1419.5L502.8 1423.5L503.3 1428.1L503.8 1421.6L504.3 1424.6L504.8 1424.0L505.3 1421.7L505.8 1420.0L506.3 1403.3L506.8 1439.2L507.3 1419.1L507.8 1429.9L508.3 1436.3L508.8 1451.2L509.3 1416.0L509.8 1435.3L510.3 1432.8L510.8 1418.6L511.3 1437.3L511.8 1424.4L512.3 1425.9L512.8 1415.8L513.3 1413.6L513.8 1436.2L514.3 1415.3L514.8 1427.6L515.3 1425.4L515.8 1429.6L516.3 1418.2L516.8 1442.1L517.3 1425.0L517.8 1414.5L518.3 1432.1L518.8 1405.0L519.3 1438.0L519.8 1427.1L520.3 1435.7L520.8 1437.6L521.3 1443.8L521.8 1437.4L522.3 1431.9L522.8 1441.1L523.3 1421.6L523.8 1414.4L524.3 1450.6L524.8 1423.1L525.3 1431.1L525.9 1430.7L526.4 1405.0L526.9 1420.1L527.4 1430.6L527.9 1432.7L528.4 1460.5L528.9 1426.3L529.4 1444.5L529.9 1434.0L530.4 1435.2L530.9 1425.4L531.4 1413.2L531.9 1425.9L532.4 1422.8L532.9 1440.8L533.4 1433.1L533.9 1429.8L534.4 1456.1L534.9 1415.7L535.4 1448.4L535.9 1455.3L536.4 1421.7L536.9 1416.5L537.4 1449.8L537.9 1449.2L538.4 1406.2L538.9 1441.6L539.4 1466.5L539.9 1450.9L540.4 1420.9L540.9 1437.0L541.4 1436.4L541.9 1431.4L542.4 1438.2L542.9 1450.4L543.4 1465.5L543.9 1442.3L544.4 1460.9L544.9 1449.1L545.4 1428.6L545.9 1443.2L546.4 1449.2L546.9 1449.7L547.4 1442.5L547.9 1440.8L548.4 1467.1L548.9 1450.3L549.4 1433.2L549.9 1444.8L550.4 1462.8L550.9 1462.3L551.4 1478.7L551.9 1464.6L552.4 1437.6L552.9 1457.3L553.4 1466.9L553.9 1464.2L554.4 1459.4L554.9 1459.9L555.4 1463.2L555.9 1468.5L556.4 1452.9L556.9 1443.1L557.4 1467.7L557.9 1468.0L558.4 1448.7L558.9 1479.5L559.4 1470.1L559.9 1468.2L560.4 1462.5L560.9 1468.0L561.5 1475.5L562.0 1462.4L562.5 1479.9L563.0 1486.7L563.5 1490.5L564.0 1459.5L564.5 1488.2L565.0 1463.9L565.5 1461.9L566.0 1460.9L566.5 1472.5L567.0 1477.2L567.5 1470.5L568.0 1478.7L568.5 1487.0L569.0 1458.8L569.5 1483.5L570.0 1453.7L570.5 1468.6L571.0 1479.9L571.5 1470.4L572.0 1461.9L572.5 1491.7L573.0 1487.1L573.5 1489.0L574.0 1475.8L574.5 1473.6L575.0 1478.3L575.5 1487.2L576.0 1485.5L576.5 1466.8L577.0 1468.0L577.5 1479.5L578.0 1496.1L578.5 1475.0L579.0 1479.3L579.5 1480.1L580.0 1464.2L580.5 1474.8L581.0 1495.3L581.5 1495.6L582.0 1470.1L582.5 1483.6L583.0 1476.5L583.5 1488.1L584.0 1497.9L584.5 1484.3L585.0 1470.4L585.5 1484.4L586.0 1501.1L586.5 1492.6L587.0 1495.1L587.5 1488.1L588.0 1479.2L588.5 1469.2L589.0 1488.8L589.5 1496.5L590.0 1491.4L590.5 1492.6L591.0 1497.9L591.5 1493.5L592.0 1494.2L592.5 1507.6L593.0 1489.2L593.5 1499.7L594.0 1506.9L594.5 1491.3L595.0 1502.5L595.5 1478.6L596.0 1492.9L596.5 1497.8L597.0 1507.4L597.6 1504.1L598.1 1490.9L598.6 1508.1L599.1 1492.9L599.6 1524.5L600.1 1499.9L600.6 1493.7L601.1 1499.4L601.6 1503.6L602.1 1493.1L602.6 1513.8L603.1 1515.6L603.6 1504.3L604.1 1492.9L604.6 1501.7L605.1 1508.9L605.6 1504.0L606.1 1502.9L606.6 1521.6L607.1 1539.0L607.6 1520.1L608.1 1525.6L608.6 1516.2L609.1 1523.3L609.6 1520.1L610.1 1506.6L610.6 1510.6L611.1 1512.3L611.6 1494.6L612.1 1517.8L612.6 1517.3L613.1 1500.1L613.6 1526.0L614.1 1531.9L614.6 1500.8L615.1 1511.6L615.6 1509.2L616.1 1509.2L616.6 1506.7L617.1 1521.8L617.6 1517.9L618.1 1529.3L618.6 1516.3L619.1 1515.7L619.6 1523.3L620.1 1511.7L620.6 1487.8L621.1 1531.8L621.6 1511.0L622.1 1510.2L622.6 1509.2L623.1 1529.4L623.6 1508.5L624.1 1514.5L624.6 1523.1L625.1 1525.7L625.6 1519.8L626.1 1512.8L626.6 1513.7L627.1 1499.1L627.6 1527.4L628.1 1517.4L628.6 1528.8L629.1 1516.3L629.6 1523.5L630.1 1531.5L630.6 1539.5L631.1 1533.9L631.6 1523.6L632.1 1511.0L632.6 1518.6L633.1 1539.7L633.7 1532.6L634.2 1527.4L634.7 1529.6L635.2 1528.0L635.7 1520.9L636.2 1527.3L636.7 1537.2L637.2 1550.6L637.7 1534.3L638.2 1548.7L638.7 1533.2L639.2 1528.6L639.7 1546.3L640.2 1534.2L640.7 1536.7L641.2 1513.7L641.7 1529.2L642.2 1554.1L642.7 1530.1L643.2 1530.7L643.7 1537.5L644.2 1539.7L644.7 1529.8L645.2 1529.5L645.7 1532.2L646.2 1547.5L646.7 1540.0L647.2 1554.0L647.7 1553.6L648.2 1544.2L648.7 1549.7L649.2 1543.3L649.7 1513.6L650.2 1534.5L650.7 1549.2L651.2 1562.8L651.7 1549.3L652.2 1555.8L652.7 1564.1L653.2 1534.1L653.7 1546.9L654.2 1537.6L654.7 1510.4L655.2 1539.9L655.7 1541.8L656.2 1539.7L656.7 1546.3L657.2 1552.4L657.7 1546.3L658.2 1532.5L658.7 1547.4L659.2 1559.0L659.7 1558.0L660.2 1556.0L660.7 1545.5L661.2 1540.9L661.7 1541.1L662.2 1534.0L662.7 1548.6L663.2 1538.1L663.7 1543.5L664.2 1539.8L664.7 1566.2L665.2 1534.6L665.7 1563.5L666.2 1559.4L666.7 1540.0L667.2 1552.2L667.7 1530.3L668.2 1547.0L668.7 1559.4L669.3 1547.5L669.8 1553.4L670.3 1533.6L670.8 1533.1L671.3 1542.5L671.8 1554.4L672.3 1549.6L672.8 1540.0L673.3 1559.2L673.8 1559.4L674.3 1542.8L674.8 1544.2L675.3 1554.4L675.8 1555.0L676.3 1572.4L676.8 1540.7L677.3 1554.2L677.8 1567.8L678.3 1565.0L678.8 1562.9L679.3 1536.7L679.8 1547.3L680.3 1568.1L680.8 1535.9L681.3 1541.4L681.8 1566.1L682.3 1582.6L682.8 1546.0L683.3 1562.2L683.8 1557.7L684.3 1561.9L684.8 1544.1L685.3 1542.1L685.8 1549.2L686.3 1559.2L686.8 1555.3L687.3 1551.9L687.8 1574.4L688.3 1546.2L688.8 1562.2L689.3 1556.6L689.8 1558.1L690.3 1550.6L690.8 1549.3L691.3 1538.0L691.8 1564.1L692.3 1569.9L692.8 1559.7L693.3 1567.9L693.8 1552.9L694.3 1570.0L694.8 1560.8L695.3 1552.9L695.8 1552.4L696.3 1560.8L696.8 1549.0L697.3 1550.5L697.8 1580.7L698.3 1560.3L698.8 1562.4L699.3 1567.5L699.8 1571.1L700.3 1564.6L700.8 1561.4L701.3 1562.8L701.8 1552.2L702.3 1556.2L702.8 1572.2L703.3 1574.2L703.8 1558.5L704.3 1574.1L704.8 1565.8L705.4 1563.0L705.9 1557.8L706.4 1563.1L706.9 1554.2L707.4 1573.4L707.9 1562.4L708.4 1575.9L708.9 1567.8L709.4 1568.7L709.9 1579.4L710.4 1596.4L710.9 1561.3L711.4 1567.5L711.9 1569.9L712.4 1578.6L712.9 1575.2L713.4 1567.6L713.9 1572.2L714.4 1561.2L714.9 1571.8L715.4 1581.4L715.9 1567.5L716.4 1580.1L716.9 1572.0L717.4 1592.3L717.9 1578.1L718.4 1569.5L718.9 1581.7L719.4 1575.8L719.9 1570.0L720.4 1575.5L720.9 1558.8L721.4 1579.2L721.9 1578.7L722.4 1578.8L722.9 1596.9L723.4 1592.9L723.9 1572.8L724.4 1581.6L724.9 1565.0L725.4 1579.6L725.9 1580.8L726.4 1569.3L726.9 1577.0L727.4 1564.2L727.9 1590.6L728.4 1576.2L728.9 1574.1L729.4 1575.5L729.9 1570.0L730.4 1571.4L730.9 1581.4L731.4 1587.4L731.9 1572.6L732.4 1581.9L732.9 1573.3L733.4 1569.7L733.9 1581.1L734.4 1592.0L734.9 1586.0L735.4 1576.0L735.9 1586.2L736.4 1572.7L736.9 1584.0L737.4 1583.3L737.9 1590.9L738.4 1586.0L738.9 1574.6L739.4 1588.8L739.9 1589.0L740.4 1593.6L740.9 1578.7L741.5 1601.3L742.0 1593.2L742.5 1578.3L743.0 1573.6L743.5 1589.8L744.0 1578.6L744.5 1607.4L745.0 1581.2L745.5 1585.9L746.0 1600.8L746.5 1606.4L747.0 1594.4L747.5 1587.3L748.0 1586.5L748.5 1589.2L749.0 1583.1L749.5 1584.0L750.0 1604.4L750.5 1595.0L751.0 1596.5L751.5 1581.9L752.0 1596.8L752.5 1582.7L753.0 1591.7L753.5 1570.3L754.0 1593.5L754.5 1593.3L755.0 1594.6L755.5 1592.4L756.0 1570.8L756.5 1599.1L757.0 1602.9L757.5 1596.7L758.0 1588.6L758.5 1604.8L759.0 1588.0L759.5 1588.5L760.0 1597.7L760.5 1598.7L761.0 1604.1L761.5 1599.5L762.0 1604.7L762.5 1585.5L763.0 1582.1L763.5 1600.5L764.0 1598.5L764.5 1616.4L765.0 1603.6L765.5 1595.6L766.0 1596.5L766.5 1598.1L767.0 1591.5L767.5 1598.9L768.0 1603.7L768.5 1585.1L769.0 1618.7L769.5 1611.7L770.0 1607.9L770.5 1608.1L771.0 1608.8L771.5 1603.8L772.0 1608.7L772.5 1602.7L773.0 1596.8L773.5 1602.4L774.0 1601.6L774.5 1611.9L775.0 1614.0L775.5 1606.3L776.0 1595.1L776.5 1600.4L777.1 1594.0L777.6 1595.1L778.1 1594.1L778.6 1612.4L779.1 1593.4L779.6 1598.1L780.1 1586.0L780.6 1600.1L781.1 1602.8L781.6 1607.2L782.1 1604.6L782.6 1621.8L783.1 1608.9L783.6 1607.1L784.1 1597.7L784.6 1613.2L785.1 1606.1L785.6 1590.4L786.1 1612.6L786.6 1600.0L787.1 1613.0L787.6 1609.1L788.1 1604.0L788.6 1600.3L789.1 1613.2L789.6 1618.3L790.1 1594.9L790.6 1607.4L791.1 1601.9L791.6 1601.0L792.1 1602.6L792.6 1612.2L793.1 1611.2L793.6 1624.5L794.1 1608.6L794.6 1614.7L795.1 1610.8L795.6 1593.4L796.1 1604.5L796.6 1610.5L797.1 1623.7L797.6 1604.6L798.1 1597.4L798.6 1619.2L799.1 1607.9L799.6 1616.7L800.1 1613.4L800.6 1615.6L801.1 1627.1L801.6 1617.2L802.1 1627.5L802.6 1600.1L803.1 1603.4L803.6 1612.7L804.1 1610.7L804.6 1612.8L805.1 1611.7L805.6 1611.9L806.1 1616.0L806.6 1615.4L807.1 1626.3L807.6 1623.3L808.1 1619.9L808.6 1612.6L809.1 1618.0L809.6 1597.4L810.1 1616.6L810.6 1618.2L811.1 1611.2L811.6 1605.9L812.1 1598.5L812.6 1606.7L813.2 1621.0L813.7 1617.3L814.2 1606.3L814.7 1613.7L815.2 1608.9L815.7 1616.9L816.2 1601.8L816.7 1603.4L817.2 1606.4L817.7 1615.3L818.2 1631.4L818.7 1629.1L819.2 1614.1L819.7 1611.2L820.2 1643.5L820.7 1621.6L821.2 1607.1L821.7 1609.0L822.2 1622.2L822.7 1612.1L823.2 1617.6L823.7 1620.0L824.2 1608.0L824.7 1608.0L825.2 1623.0L825.7 1626.9L826.2 1630.3L826.7 1631.4L827.2 1606.7L827.7 1601.9L828.2 1617.0L828.7 1609.5L829.2 1625.2L829.7 1619.8L830.2 1611.0L830.7 1616.5L831.2 1619.8L831.7 1634.4L832.2 1632.7L832.7 1623.4L833.2 1624.8L833.7 1620.6L834.2 1625.7L834.7 1622.0L835.2 1619.6L835.7 1615.6L836.2 1619.7L836.7 1625.3L837.2 1623.0L837.7 1612.5L838.2 1622.5L838.7 1629.4L839.2 1629.8L839.7 1618.4L840.2 1616.0L840.7 1610.2L841.2 1624.0L841.7 1609.0L842.2 1624.4L842.7 1623.5L843.2 1626.6L843.7 1616.9L844.2 1612.3L844.7 1622.0L845.2 1626.3L845.7 1635.7L846.2 1620.7L846.7 1625.2L847.2 1624.0L847.7 1627.9L848.2 1630.2L848.7 1626.3L849.3 1618.6L849.8 1614.1L850.3 1622.8L850.8 1619.9L851.3 1624.6L851.8 1624.1L852.3 1635.2L852.8 1615.3L853.3 1617.9L853.8 1610.4L854.3 1628.8L854.8 1622.3L855.3 1631.7L855.8 1621.5L856.3 1624.8L856.8 1617.8L857.3 1625.1L857.8 1618.2L858.3 1628.3L858.8 1618.8L859.3 1626.8L859.8 1628.0L860.3 1623.5L860.8 1621.1L861.3 1636.8L861.8 1637.8L862.3 1622.8L862.8 1625.1L863.3 1642.6L863.8 1639.7L864.3 1631.5L864.8 1622.0L865.3 1623.1L865.8 1616.1L866.3 1614.7L866.8 1604.2L867.3 1637.8L867.8 1625.5L868.3 1615.8L868.8 1636.3L869.3 1637.8L869.8 1623.6L870.3 1615.8L870.8 1614.4L871.3 1641.2L871.8 1636.3L872.3 1626.5L872.8 1630.3L873.3 1622.9L873.8 1624.6L874.3 1610.2L874.8 1626.4L875.3 1624.2L875.8 1625.2L876.3 1616.2L876.8 1635.7L877.3 1622.6L877.8 1632.8L878.3 1638.5L878.8 1615.6L879.3 1621.4L879.8 1613.7L880.3 1623.8L880.8 1620.3L881.3 1624.9L881.8 1621.1L882.3 1629.7L882.8 1611.0L883.3 1633.9L883.8 1611.0L884.3 1627.8L884.9 1618.4L885.4 1624.9L885.9 1622.1L886.4 1612.9L886.9 1624.8L887.4 1634.4L887.9 1623.9L888.4 1620.3L888.9 1647.8L889.4 1617.4L889.9 1616.3L890.4 1641.7L890.9 1627.4L891.4 1618.7L891.9 1636.3L892.4 1629.8L892.9 1629.0L893.4 1621.0L893.9 1616.1L894.4 1626.3L894.9 1625.5L895.4 1617.8L895.9 1621.2L896.4 1627.0L896.9 1614.2L897.4 1638.6L897.9 1624.7L898.4 1629.8L898.9 1630.5L899.4 1624.3L899.9 1625.7L900.4 1604.1L900.9 1620.3L901.4 1622.9L901.9 1611.3L902.4 1617.0L902.9 1642.7L903.4 1625.0L903.9 1619.4L904.4 1631.5L904.9 1623.4L905.4 1630.1L905.9 1622.7L906.4 1640.6L906.9 1643.5L907.4 1631.0L907.9 1624.1L908.4 1614.2L908.9 1628.6L909.4 1632.8L909.9 1617.9L910.4 1625.8L910.9 1610.0L911.4 1627.0L911.9 1643.6L912.4 1633.3L912.9 1634.7L913.4 1638.7L913.9 1633.1L914.4 1632.4L914.9 1628.8L915.4 1631.1L915.9 1622.6L916.4 1622.5L916.9 1624.7L917.4 1624.5L917.9 1643.2L918.4 1641.2L918.9 1634.2L919.4 1624.0L919.9 1639.4L920.4 1630.1L921.0 1624.0L921.5 1608.5L922.0 1623.9L922.5 1631.1L923.0 1616.5L923.5 1624.5L924.0 1629.0L924.5 1616.3L925.0 1634.6L925.5 1624.6L926.0 1625.6L926.5 1618.3L927.0 1636.7L927.5 1638.1L928.0 1629.9L928.5 1628.9L929.0 1626.1L929.5 1629.8L930.0 1622.6L930.5 1620.3L931.0 1624.5L931.5 1636.0L932.0 1616.1L932.5 1640.3L933.0 1628.4L933.5 1618.5L934.0 1632.1L934.5 1614.9L935.0 1609.3L935.5 1612.4L936.0 1622.6L936.5 1617.7L937.0 1631.2L937.5 1622.9L938.0 1622.4L938.5 1625.7L939.0 1625.1L939.5 1628.4L940.0 1644.2L940.5 1622.9L941.0 1623.6L941.5 1607.9L942.0 1620.0L942.5 1625.8L943.0 1618.5L943.5 1620.7L944.0 1626.5L944.5 1629.7L945.0 1639.5L945.5 1625.1L946.0 1611.5L946.5 1643.0L947.0 1634.7L947.5 1619.3L948.0 1624.3L948.5 1622.2L949.0 1642.8L949.5 1631.3L950.0 1621.3L950.5 1620.5L951.0 1623.1L951.5 1633.8L952.0 1620.9L952.5 1636.5L953.0 1634.2L953.5 1636.2L954.0 1612.5L954.5 1629.3L955.0 1625.0L955.5 1645.3L956.0 1615.5L956.5 1621.1L957.1 1640.3L957.6 1639.8L958.1 1610.1L958.6 1633.7L959.1 1608.4L959.6 1629.3L960.1 1647.5L960.6 1614.9L961.1 1620.3L961.6 1618.6L962.1 1629.4L962.6 1626.6L963.1 1616.0L963.6 1632.1L964.1 1642.4L964.6 1616.2L965.1 1630.1L965.6 1612.8L966.1 1628.7L966.6 1628.1L967.1 1626.5L967.6 1645.6L968.1 1613.4L968.6 1629.8L969.1 1625.8L969.6 1610.6L970.1 1622.8L970.6 1615.6L971.1 1620.7L971.6 1616.6L972.1 1621.1L972.6 1613.0L973.1 1625.4L973.6 1619.2L974.1 1629.8L974.6 1612.5L975.1 1643.1L975.6 1621.5L976.1 1619.8L976.6 1619.9L977.1 1623.0L977.6 1610.7L978.1 1603.5L978.6 1628.2L979.1 1640.2L979.6 1632.6L980.1 1630.0L980.6 1623.8L981.1 1623.0L981.6 1612.6L982.1 1626.3L982.6 1622.7L983.1 1621.3L983.6 1630.2L984.1 1625.0L984.6 1596.8L985.1 1622.8L985.6 1630.7L986.1 1641.8L986.6 1612.3L987.1 1624.7L987.6 1627.5L988.1 1599.2L988.6 1608.4L989.1 1637.1L989.6 1624.6L990.1 1612.2L990.6 1613.6L991.1 1631.4L991.6 1604.8L992.1 1604.0L992.7 1631.1L993.2 1637.0L993.7 1633.5L994.2 1614.6L994.7 1610.7L995.2 1618.9L995.7 1625.9L996.2 1621.3L996.7 1615.1L997.2 1631.4L997.7 1635.8L998.2 1620.9L998.7 1608.7L999.2 1618.2L999.7 1618.1L1000.2 1626.0L1000.7 1611.2L1001.2 1635.3L1001.7 1620.1L1002.2 1624.9L1002.7 1620.8L1003.2 1627.8L1003.7 1612.3L1004.2 1619.8L1004.7 1624.5L1005.2 1614.2L1005.7 1619.3L1006.2 1623.5L1006.7 1624.1L1007.2 1611.4L1007.7 1627.2L1008.2 1620.5L1008.7 1620.8L1009.2 1615.4L1009.7 1619.9L1010.2 1598.2L1010.7 1634.1L1011.2 1612.4L1011.7 1618.1L1012.2 1607.5L1012.7 1632.6L1013.2 1606.3L1013.7 1630.2L1014.2 1610.9L1014.7 1612.5L1015.2 1616.8L1015.7 1623.8L1016.2 1624.5L1016.7 1615.9L1017.2 1623.7L1017.7 1634.7L1018.2 1633.2L1018.7 1609.0L1019.2 1608.7L1019.7 1611.4L1020.2 1615.6L1020.7 1612.5L1021.2 1611.3L1021.7 1613.4L1022.2 1623.0L1022.7 1622.3L1023.2 1626.1L1023.7 1613.9L1024.2 1624.4L1024.7 1616.6L1025.2 1602.8L1025.7 1618.4L1026.2 1605.8L1026.7 1600.2L1027.2 1631.5L1027.7 1627.7L1028.2 1609.9L1028.8 1620.8L1029.3 1609.1L1029.8 1607.4L1030.3 1618.6L1030.8 1606.1L1031.3 1597.4L1031.8 1604.6L1032.3 1621.5L1032.8 1614.6L1033.3 1618.1L1033.8 1598.4L1034.3 1614.7L1034.8 1619.2L1035.3 1612.2L1035.8 1607.7L1036.3 1615.8L1036.8 1611.2L1037.3 1612.1L1037.8 1605.1L1038.3 1602.8L1038.8 1609.1L1039.3 1615.9L1039.8 1607.6L1040.3 1619.6L1040.8 1601.1L1041.3 1607.8L1041.8 1608.6L1042.3 1633.4L1042.8 1588.5L1043.3 1596.9L1043.8 1598.5L1044.3 1609.0L1044.8 1603.8L1045.3 1583.2L1045.8 1616.1L1046.3 1602.6L1046.8 1603.8L1047.3 1607.9L1047.8 1605.8L1048.3 1618.1L1048.8 1602.7L1049.3 1620.9L1049.8 1591.3L1050.3 1600.8L1050.8 1616.1L1051.3 1627.6L1051.8 1606.9L1052.3 1602.9L1052.8 1616.9L1053.3 1591.7L1053.8 1604.7L1054.3 1611.4L1054.8 1620.0L1055.3 1607.9L1055.8 1608.5L1056.3 1600.4L1056.8 1596.5L1057.3 1605.9L1057.8 1601.7L1058.3 1592.5L1058.8 1600.0L1059.3 1608.1L1059.8 1599.7L1060.3 1610.3L1060.8 1601.0L1061.3 1604.6L1061.8 1615.3L1062.3 1599.2L1062.8 1603.9L1063.3 1597.7L1063.8 1617.0L1064.3 1593.9L1064.9 1593.4L1065.4 1607.4L1065.9 1604.9L1066.4 1603.4L1066.9 1603.9L1067.4 1595.8L1067.9 1610.3L1068.4 1614.3L1068.9 1605.6L1069.4 1585.3L1069.9 1606.8L1070.4 1612.4L1070.9 1611.6L1071.4 1601.2L1071.9 1591.6L1072.4 1609.6L1072.9 1600.9L1073.4 1600.4L1073.9 1597.9L1074.4 1600.8L1074.9 1592.1L1075.4 1595.5L1075.9 1607.7L1076.4 1578.8L1076.9 1614.5L1077.4 1614.0L1077.9 1591.6L1078.4 1599.6L1078.9 1603.6L1079.4 1599.2L1079.9 1594.5L1080.4 1604.9L1080.9 1606.8L1081.4 1610.6L1081.9 1608.7L1082.4 1608.1L1082.9 1589.5L1083.4 1597.6L1083.9 1595.0L1084.4 1605.4L1084.9 1590.0L1085.4 1614.6L1085.9 1595.2L1086.4 1593.0L1086.9 1605.0L1087.4 1609.1L1087.9 1594.3L1088.4 1605.9L1088.9 1607.6L1089.4 1599.2L1089.9 1609.5L1090.4 1600.1L1090.9 1579.4L1091.4 1602.7L1091.9 1589.8L1092.4 1608.3L1092.9 1597.4L1093.4 1600.7L1093.9 1599.6L1094.4 1590.7L1094.9 1577.3L1095.4 1598.9L1095.9 1585.1L1096.4 1594.1L1096.9 1590.3L1097.4 1601.7L1097.9 1603.8L1098.4 1598.9L1098.9 1604.3L1099.4 1596.9L1099.9 1606.8L1100.5 1596.5L1101.0 1594.8L1101.5 1579.0L1102.0 1579.8L1102.5 1591.3L1103.0 1600.8L1103.5 1590.1L1104.0 1588.0L1104.5 1597.6L1105.0 1603.7L1105.5 1612.6L1106.0 1595.8L1106.5 1576.9L1107.0 1597.2L1107.5 1591.4L1108.0 1591.5L1108.5 1590.3L1109.0 1587.4L1109.5 1613.9L1110.0 1596.0L1110.5 1590.9L1111.0 1595.2L1111.5 1582.6L1112.0 1597.7L1112.5 1585.2L1113.0 1577.0L1113.5 1596.3L1114.0 1593.5L1114.5 1596.4L1115.0 1586.2L1115.5 1614.0L1116.0 1607.4L1116.5 1596.1L1117.0 1584.8L1117.5 1587.4L1118.0 1600.8L1118.5 1577.4L1119.0 1591.7L1119.5 1598.7L1120.0 1587.5L1120.5 1579.9L1121.0 1593.0L1121.5 1606.9L1122.0 1597.5L1122.5 1591.2L1123.0 1583.0L1123.5 1601.6L1124.0 1589.4L1124.5 1603.2L1125.0 1591.0L1125.5 1604.5L1126.0 1596.0L1126.5 1606.2L1127.0 1600.8L1127.5 1606.7L1128.0 1610.2L1128.5 1579.4L1129.0 1579.7L1129.5 1586.4L1130.0 1594.4L1130.5 1576.7L1131.0 1593.5L1131.5 1586.6L1132.0 1579.6L1132.5 1588.3L1133.0 1576.1L1133.5 1591.7L1134.0 1591.7L1134.5 1588.8L1135.0 1601.2L1135.5 1600.3L1136.0 1582.4L1136.6 1606.4L1137.1 1578.8L1137.6 1586.9L1138.1 1578.1L1138.6 1582.0L1139.1 1583.5L1139.6 1572.4L1140.1 1589.9L1140.6 1590.1L1141.1 1578.1L1141.6 1595.3L1142.1 1577.9L1142.6 1582.1L1143.1 1593.5L1143.6 1600.9L1144.1 1608.1L1144.6 1570.3L1145.1 1602.8L1145.6 1600.0L1146.1 1579.9L1146.6 1583.6L1147.1 1586.1L1147.6 1587.3L1148.1 1592.2L1148.6 1596.9L1149.1 1595.1L1149.6 1582.1L1150.1 1577.4L1150.6 1576.3L1151.1 1588.1L1151.6 1609.4L1152.1 1582.7L1152.6 1589.0L1153.1 1613.5L1153.6 1574.0L1154.1 1585.2L1154.6 1587.8L1155.1 1585.3L1155.6 1586.0L1156.1 1584.8L1156.6 1585.9L1157.1 1586.7L1157.6 1581.3L1158.1 1583.5L1158.6 1563.3L1159.1 1585.3L1159.6 1591.6L1160.1 1592.4L1160.6 1582.8L1161.1 1585.2L1161.6 1584.0L1162.1 1588.3L1162.6 1588.0L1163.1 1578.9L1163.6 1572.9L1164.1 1582.8L1164.6 1587.1L1165.1 1597.3L1165.6 1597.3L1166.1 1585.6L1166.6 1588.5L1167.1 1587.0L1167.6 1596.9L1168.1 1587.3L1168.6 1605.0L1169.1 1597.7L1169.6 1593.8L1170.1 1580.4L1170.6 1592.1L1171.1 1595.4L1171.6 1583.6L1172.1 1587.2L1172.7 1577.3L1173.2 1583.2L1173.7 1584.3L1174.2 1588.2L1174.7 1580.0L1175.2 1593.5L1175.7 1601.3L1176.2 1577.7L1176.7 1591.1L1177.2 1586.1L1177.7 1580.5L1178.2 1576.7L1178.7 1614.8L1179.2 1596.9L1179.7 1574.8L1180.2 1603.3L1180.7 1582.2L1181.2 1590.3L1181.7 1595.5L1182.2 1588.1L1182.7 1603.3L1183.2 1583.0L1183.7 1575.5L1184.2 1600.9L1184.7 1593.5L1185.2 1575.4L1185.7 1583.5L1186.2 1590.3L1186.7 1573.3L1187.2 1603.6L1187.7 1590.0L1188.2 1586.4L1188.7 1590.5L1189.2 1579.7L1189.7 1603.8L1190.2 1587.1L1190.7 1595.2L1191.2 1576.0L1191.7 1577.5L1192.2 1595.0L1192.7 1598.5L1193.2 1588.3L1193.7 1596.3L1194.2 1593.5L1194.7 1583.9L1195.2 1592.6L1195.7 1570.6L1196.2 1587.6L1196.7 1593.4L1197.2 1599.2L1197.7 1593.5L1198.2 1577.8L1198.7 1583.3L1199.2 1574.8L1199.7 1576.0L1200.2 1583.4L1200.7 1595.6L1201.2 1590.4L1201.7 1588.3L1202.2 1605.1L1202.7 1586.0L1203.2 1599.3L1203.7 1590.1L1204.2 1594.4L1204.7 1583.8L1205.2 1564.0L1205.7 1601.2L1206.2 1589.9L1206.7 1569.9L1207.2 1598.8L1207.7 1592.1L1208.3 1591.0L1208.8 1587.0L1209.3 1605.8L1209.8 1587.2L1210.3 1584.4L1210.8 1565.7L1211.3 1591.2L1211.8 1596.1L1212.3 1589.3L1212.8 1616.0L1213.3 1587.5L1213.8 1575.8L1214.3 1591.2L1214.8 1591.3L1215.3 1593.4L1215.8 1589.8L1216.3 1603.3L1216.8 1576.4L1217.3 1595.8L1217.8 1595.9L1218.3 1575.5L1218.8 1591.4L1219.3 1595.8L1219.8 1575.8L1220.3 1590.1L1220.8 1582.8L1221.3 1597.5L1221.8 1609.1L1222.3 1590.5L1222.8 1578.4L1223.3 1596.8L1223.8 1588.9L1224.3 1585.6L1224.8 1590.1L1225.3 1592.1L1225.8 1585.4L1226.3 1590.9L1226.8 1598.2L1227.3 1583.0L1227.8 1585.6L1228.3 1589.8L1228.8 1586.7L1229.3 1619.1L1229.8 1591.3L1230.3 1593.6L1230.8 1613.3L1231.3 1574.4L1231.8 1591.1L1232.3 1598.9L1232.8 1598.4L1233.3 1592.4L1233.8 1595.3L1234.3 1610.8L1234.8 1599.3L1235.3 1591.4L1235.8 1589.9L1236.3 1587.7L1236.8 1606.4L1237.3 1602.4L1237.8 1593.0L1238.3 1602.6L1238.8 1594.9L1239.3 1605.1L1239.8 1591.7L1240.3 1596.9L1240.8 1592.1L1241.3 1597.5L1241.8 1605.6L1242.3 1609.9L1242.8 1598.0L1243.3 1604.5L1243.8 1613.0L1244.4 1604.3L1244.9 1591.7L1245.4 1587.6L1245.9 1592.4L1246.4 1586.9L1246.9 1603.6L1247.4 1601.7L1247.9 1609.6L1248.4 1608.1L1248.9 1585.6L1249.4 1597.0L1249.9 1595.2L1250.4 1576.8L1250.9 1583.5L1251.4 1610.3L1251.9 1593.0L1252.4 1609.7L1252.9 1593.4L1253.4 1620.8L1253.9 1612.2L1254.4 1612.2L1254.9 1584.7L1255.4 1620.8L1255.9 1593.7L1256.4 1594.3L1256.9 1603.6L1257.4 1597.1L1257.9 1580.8L1258.4 1603.0L1258.9 1608.3L1259.4 1593.1L1259.9 1598.8L1260.4 1617.3L1260.9 1604.9L1261.4 1604.2L1261.9 1618.0L1262.4 1616.4L1262.9 1613.9L1263.4 1619.3L1263.9 1603.3L1264.4 1605.6L1264.9 1629.7L1265.4 1613.0L1265.9 1607.8L1266.4 1622.3L1266.9 1612.4L1267.4 1607.3L1267.9 1626.3L1268.4 1613.4L1268.9 1633.1L1269.4 1604.0L1269.9 1618.3L1270.4 1625.3L1270.9 1629.3L1271.4 1627.8L1271.9 1600.5L1272.4 1620.8L1272.9 1618.5L1273.4 1617.1L1273.9 1627.9L1274.4 1606.9L1274.9 1637.9L1275.4 1606.2L1275.9 1622.1L1276.4 1614.8L1276.9 1612.8L1277.4 1608.0L1277.9 1627.8L1278.4 1610.7L1278.9 1617.3L1279.4 1618.5L1279.9 1620.0L1280.5 1607.2L1281.0 1613.6L1281.5 1606.4L1282.0 1610.0L1282.5 1637.4L1283.0 1620.2L1283.5 1610.1L1284.0 1628.3L1284.5 1635.9L1285.0 1641.9L1285.5 1602.3L1286.0 1629.8L1286.5 1619.9L1287.0 1631.8L1287.5 1618.2L1288.0 1607.0L1288.5 1636.3L1289.0 1623.7L1289.5 1630.6L1290.0 1641.2L1290.5 1632.4L1291.0 1624.1L1291.5 1613.2L1292.0 1613.2L1292.5 1625.5L1293.0 1641.0L1293.5 1619.9L1294.0 1626.4L1294.5 1626.8L1295.0 1637.6L1295.5 1628.7L1296.0 1609.4L1296.5 1614.1L1297.0 1616.5L1297.5 1622.4L1298.0 1632.6L1298.5 1629.2L1299.0 1628.1L1299.5 1626.3L1300.0 1633.4L1300.5 1638.5L1301.0 1620.5L1301.5 1634.6L1302.0 1623.7L1302.5 1633.4L1303.0 1625.9L1303.5 1627.7L1304.0 1625.9L1304.5 1626.7L1305.0 1642.0L1305.5 1646.1L1306.0 1634.4L1306.5 1619.1L1307.0 1642.2L1307.5 1643.4L1308.0 1614.4L1308.5 1649.6L1309.0 1641.0L1309.5 1639.8L1310.0 1642.6L1310.5 1642.6L1311.0 1627.2L1311.5 1635.4L1312.0 1635.9L1312.5 1652.9L1313.0 1630.9L1313.5 1636.9L1314.0 1637.3L1314.5 1631.5L1315.0 1636.4L1315.5 1639.8L1316.1 1636.0L1316.6 1646.4L1317.1 1648.5L1317.6 1652.8L1318.1 1632.1L1318.6 1647.0L1319.1 1639.8L1319.6 1631.6L1320.1 1625.6L1320.6 1645.3L1321.1 1640.8L1321.6 1641.7L1322.1 1654.6L1322.6 1647.4L1323.1 1618.3L1323.6 1644.1L1324.1 1627.9L1324.6 1637.2L1325.1 1628.6L1325.6 1632.7L1326.1 1642.8L1326.6 1656.1L1327.1 1632.5L1327.6 1639.2L1328.1 1641.4L1328.6 1638.2L1329.1 1653.3L1329.6 1645.3L1330.1 1646.7L1330.6 1660.2L1331.1 1657.9L1331.6 1648.5L1332.1 1667.4L1332.6 1641.3L1333.1 1641.3L1333.6 1649.0L1334.1 1646.1L1334.6 1665.0L1335.1 1647.5L1335.6 1642.6L1336.1 1645.0L1336.6 1641.6L1337.1 1650.6L1337.6 1632.6L1338.1 1646.6L1338.6 1643.7L1339.1 1641.3L1339.6 1657.9L1340.1 1661.3L1340.6 1644.7L1341.1 1662.8L1341.6 1657.3L1342.1 1643.5L1342.6 1662.1L1343.1 1661.3L1343.6 1663.8L1344.1 1662.3L1344.6 1636.9L1345.1 1648.7L1345.6 1645.3L1346.1 1671.0L1346.6 1675.3L1347.1 1664.5L1347.6 1645.5L1348.1 1644.6L1348.6 1672.4L1349.1 1670.6L1349.6 1649.8L1350.1 1653.6L1350.6 1652.2L1351.1 1650.4L1351.6 1665.3L1352.2 1655.6L1352.7 1659.4L1353.2 1646.4L1353.7 1660.0L1354.2 1674.0L1354.7 1646.7L1355.2 1642.2L1355.7 1649.7L1356.2 1661.3L1356.7 1666.9L1357.2 1650.1L1357.7 1663.7L1358.2 1654.7L1358.7 1652.7L1359.2 1660.9L1359.7 1677.3L1360.2 1655.8L1360.7 1669.0L1361.2 1674.1L1361.7 1661.2L1362.2 1659.8L1362.7 1662.0L1363.2 1655.9L1363.7 1678.2L1364.2 1656.8L1364.7 1648.0L1365.2 1663.0L1365.7 1666.8L1366.2 1664.2L1366.7 1652.3L1367.2 1664.7L1367.7 1670.2L1368.2 1678.1L1368.7 1651.6L1369.2 1651.6L1369.7 1664.0L1370.2 1646.5L1370.7 1667.9L1371.2 1658.5L1371.7 1676.2L1372.2 1673.8L1372.7 1665.4L1373.2 1661.4L1373.7 1660.4L1374.2 1673.6L1374.7 1670.6L1375.2 1667.2L1375.7 1668.9L1376.2 1668.9L1376.7 1659.9L1377.2 1657.1L1377.7 1683.1L1378.2 1656.2L1378.7 1666.1L1379.2 1665.1L1379.7 1665.2L1380.2 1660.3L1380.7 1662.5L1381.2 1681.7L1381.7 1661.4L1382.2 1678.6L1382.7 1665.9L1383.2 1667.5L1383.7 1682.7L1384.2 1669.6L1384.7 1672.1L1385.2 1675.8L1385.7 1653.1L1386.2 1669.2L1386.7 1673.8L1387.2 1656.1L1387.7 1671.3L1388.3 1672.4L1388.8 1688.4L1389.3 1666.6L1389.8 1663.4L1390.3 1655.9L1390.8 1680.8L1391.3 1663.6L1391.8 1660.8L1392.3 1666.7L1392.8 1673.0L1393.3 1687.1L1393.8 1671.8L1394.3 1678.3L1394.8 1688.5L1395.3 1668.9L1395.8 1675.2L1396.3 1676.4L1396.8 1658.0L1397.3 1679.3L1397.8 1692.4L1398.3 1693.8L1398.8 1671.0L1399.3 1677.4L1399.8 1682.1L1400.3 1693.8L1400.8 1683.2L1401.3 1685.8L1401.8 1677.6L1402.3 1684.0L1402.8 1684.4L1403.3 1677.6L1403.8 1684.1L1404.3 1675.0L1404.8 1706.4L1405.3 1688.4L1405.8 1668.2L1406.3 1676.8L1406.8 1687.8L1407.3 1680.5L1407.8 1684.0L1408.3 1682.4L1408.8 1667.7L1409.3 1683.2L1409.8 1678.3L1410.3 1687.3L1410.8 1686.6L1411.3 1693.4L1411.8 1686.3L1412.3 1684.4L1412.8 1683.8L1413.3 1681.0L1413.8 1680.9L1414.3 1676.4L1414.8 1683.8L1415.3 1671.4L1415.8 1677.5L1416.3 1671.3L1416.8 1683.3L1417.3 1673.1L1417.8 1682.5L1418.3 1697.1L1418.8 1683.9L1419.3 1685.4L1419.8 1696.2L1420.3 1692.5L1420.8 1689.6L1421.3 1666.2L1421.8 1682.5L1422.3 1670.5L1422.8 1677.9L1423.3 1676.9L1423.9 1679.3L1424.4 1698.3L1424.9 1676.2L1425.4 1694.8L1425.9 1683.3L1426.4 1687.9L1426.9 1674.1L1427.4 1677.8L1427.9 1672.9L1428.4 1684.0L1428.9 1688.1L1429.4 1682.2L1429.9 1669.2L1430.4 1684.7L1430.9 1688.8L1431.4 1699.3L1431.9 1695.6L1432.4 1690.5L1432.9 1684.6L1433.4 1685.3L1433.9 1691.3L1434.4 1689.7L1434.9 1678.6L1435.4 1676.4L1435.9 1681.8L1436.4 1679.4L1436.9 1681.9L1437.4 1677.5L1437.9 1702.4L1438.4 1696.6L1438.9 1690.9L1439.4 1689.9L1439.9 1682.6L1440.4 1708.2L1440.9 1692.5L1441.4 1691.8L1441.9 1699.5L1442.4 1695.5L1442.9 1686.6L1443.4 1691.1L1443.9 1696.0L1444.4 1693.6L1444.9 1696.5L1445.4 1688.3L1445.9 1696.7L1446.4 1688.3L1446.9 1700.7L1447.4 1696.8L1447.9 1705.6L1448.4 1698.6L1448.9 1690.5L1449.4 1705.4L1449.9 1700.4L1450.4 1697.0L1450.9 1700.8L1451.4 1691.6L1451.9 1708.2L1452.4 1691.8L1452.9 1688.4L1453.4 1685.9L1453.9 1699.7L1454.4 1705.7L1454.9 1712.0L1455.4 1694.4L1455.9 1693.5L1456.4 1697.8L1456.9 1697.6L1457.4 1695.2L1457.9 1703.5L1458.4 1712.4L1458.9 1712.2L1459.4 1707.4L1460.0 1708.6L1460.5 1714.0L1461.0 1705.1L1461.5 1710.0L1462.0 1696.9L1462.5 1702.8L1463.0 1696.2L1463.5 1712.9L1464.0 1711.3L1464.5 1715.3L1465.0 1700.8L1465.5 1678.9L1466.0 1701.6L1466.5 1706.9L1467.0 1702.0L1467.5 1704.1L1468.0 1696.5L1468.5 1704.2L1469.0 1711.2L1469.5 1719.3L1470.0 1701.9L1470.5 1697.0L1471.0 1703.8L1471.5 1712.0L1472.0 1708.7L1472.5 1708.0L1473.0 1701.1L1473.5 1706.3L1474.0 1696.9L1474.5 1707.7L1475.0 1711.3L1475.5 1692.1L1476.0 1714.3L1476.5 1712.8L1477.0 1690.7L1477.5 1704.8L1478.0 1693.4L1478.5 1726.6L1479.0 1697.8L1479.5 1707.6L1480.0 1707.0L1480.5 1704.1L1481.0 1729.4L1481.5 1715.2L1482.0 1704.9L1482.5 1683.6L1483.0 1714.5L1483.5 1690.7L1484.0 1704.1L1484.5 1701.2L1485.0 1716.7L1485.5 1704.7L1486.0 1716.2L1486.5 1719.0L1487.0 1700.0L1487.5 1715.4L1488.0 1714.1L1488.5 1705.0L1489.0 1716.7L1489.5 1720.3L1490.0 1709.0L1490.5 1708.8L1491.0 1699.4L1491.5 1719.8L1492.0 1705.8L1492.5 1706.0L1493.0 1715.0L1493.5 1713.0L1494.0 1711.7L1494.5 1719.9L1495.0 1722.3L1495.5 1706.9L1496.1 1720.6L1496.6 1720.1L1497.1 1706.7L1497.6 1717.1L1498.1 1716.1L1498.6 1723.9L1499.1 1722.8L1499.6 1724.1L1500.1 1724.2L1500.6 1704.3L1501.1 1721.3L1501.6 1731.8L1502.1 1722.7L1502.6 1709.1L1503.1 1723.5L1503.6 1715.2L1504.1 1722.1L1504.6 1728.5L1505.1 1719.4L1505.6 1723.2L1506.1 1714.3L1506.6 1710.4L1507.1 1716.4L1507.6 1696.0L1508.1 1724.2L1508.6 1706.1L1509.1 1713.2L1509.6 1705.9L1510.1 1712.6L1510.6 1733.8L1511.1 1719.2L1511.6 1709.3L1512.1 1717.1L1512.6 1727.3L1513.1 1721.6L1513.6 1715.1L1514.1 1708.5L1514.6 1722.4L1515.1 1717.3L1515.6 1725.2L1516.1 1727.4L1516.6 1722.4L1517.1 1708.4L1517.6 1713.3L1518.1 1721.0L1518.6 1719.2L1519.1 1715.1L1519.6 1720.2L1520.1 1722.7L1520.6 1721.8L1521.1 1714.9L1521.6 1722.8L1522.1 1714.1L1522.6 1734.1L1523.1 1726.0L1523.6 1723.6L1524.1 1716.1L1524.6 1727.6L1525.1 1724.8L1525.6 1718.5L1526.1 1721.8L1526.6 1726.2L1527.1 1723.8L1527.6 1728.3L1528.1 1715.5L1528.6 1718.4L1529.1 1715.4L1529.6 1705.1L1530.1 1712.6L1530.6 1718.3L1531.1 1722.8L1531.7 1705.2L1532.2 1720.3L1532.7 1723.8L1533.2 1712.6L1533.7 1719.1L1534.2 1724.2L1534.7 1719.1L1535.2 1707.9L1535.7 1721.4L1536.2 1719.6L1536.7 1729.0L1537.2 1726.0L1537.7 1716.0L1538.2 1723.4L1538.7 1721.9L1539.2 1714.7L1539.7 1725.3L1540.2 1711.5L1540.7 1727.9L1541.2 1728.8L1541.7 1729.3L1542.2 1734.5L1542.7 1719.5L1543.2 1723.6L1543.7 1713.7L1544.2 1729.4L1544.7 1718.6L1545.2 1714.4L1545.7 1726.0L1546.2 1725.8L1546.7 1743.0L1547.2 1710.6L1547.7 1725.9L1548.2 1720.0L1548.7 1729.0L1549.2 1722.8L1549.7 1733.9L1550.2 1720.1L1550.7 1724.9L1551.2 1728.5L1551.7 1722.8L1552.2 1739.2L1552.7 1725.0L1553.2 1729.5L1553.7 1715.9L1554.2 1720.9L1554.7 1728.1L1555.2 1729.0L1555.7 1705.2L1556.2 1734.4L1556.7 1713.3L1557.2 1720.6L1557.7 1721.8L1558.2 1741.5L1558.7 1721.7L1559.2 1731.5L1559.7 1734.6L1560.2 1723.8L1560.7 1733.4L1561.2 1724.2L1561.7 1735.3L1562.2 1724.3L1562.7 1725.5L1563.2 1735.0L1563.7 1735.9L1564.2 1734.1L1564.7 1733.1L1565.2 1733.8L1565.7 1716.1L1566.2 1726.6L1566.7 1732.3L1567.2 1732.3L1567.8 1735.9L1568.3 1728.2L1568.8 1730.8L1569.3 1735.3L1569.8 1735.6L1570.3 1733.6L1570.8 1738.4L1571.3 1730.0L1571.8 1737.6L1572.3 1727.2L1572.8 1733.6L1573.3 1727.5L1573.8 1735.6L1574.3 1745.0L1574.8 1741.1L1575.3 1733.8L1575.8 1729.0L1576.3 1729.0L1576.8 1728.3L1577.3 1727.1L1577.8 1729.5L1578.3 1729.1L1578.8 1734.0L1579.3 1728.5L1579.8 1733.4L1580.3 1733.2L1580.8 1731.4L1581.3 1716.4L1581.8 1743.5L1582.3 1736.5L1582.8 1735.1L1583.3 1730.3L1583.8 1733.3L1584.3 1721.8L1584.8 1744.7L1585.3 1720.7L1585.8 1742.8L1586.3 1739.0L1586.8 1730.0L1587.3 1733.5L1587.8 1734.4L1588.3 1733.8L1588.8 1731.6L1589.3 1727.6L1589.8 1731.7L1590.3 1743.7L1590.8 1740.1L1591.3 1725.1L1591.8 1721.3L1592.3 1728.5L1592.8 1727.6L1593.3 1733.1L1593.8 1720.7L1594.3 1739.6L1594.8 1738.1L1595.3 1741.3L1595.8 1724.7L1596.3 1739.7L1596.8 1732.5L1597.3 1746.0L1597.8 1746.7L1598.3 1729.4L1598.8 1731.5L1599.3 1730.6L1599.8 1735.2L1600.3 1738.8L1600.8 1739.8L1601.3 1744.8L1601.8 1739.8L1602.3 1727.6L1602.8 1738.4L1603.3 1746.6L1603.9 1739.2L1604.4 1744.5L1604.9 1745.8L1605.4 1738.6L1605.9 1743.3L1606.4 1746.9L1606.9 1727.4L1607.4 1726.1L1607.9 1737.3L1608.4 1728.0L1608.9 1741.8L1609.4 1738.9L1609.9 1729.6L1610.4 1736.8L1610.9 1733.2L1611.4 1758.4L1611.9 1737.2L1612.4 1742.3L1612.9 1740.2L1613.4 1750.2L1613.9 1745.1L1614.4 1735.5L1614.9 1735.7L1615.4 1734.5L1615.9 1734.1L1616.4 1732.4L1616.9 1737.5L1617.4 1742.0L1617.9 1744.5L1618.4 1743.5L1618.9 1747.4L1619.4 1747.7L1619.9 1741.5L1620.4 1756.9L1620.9 1749.6L1621.4 1746.8L1621.9 1737.5L1622.4 1733.8L1622.9 1739.1L1623.4 1741.8L1623.9 1745.0L1624.4 1733.9L1624.9 1736.8L1625.4 1746.5L1625.9 1742.1L1626.4 1739.2L1626.9 1735.7L1627.4 1744.5L1627.9 1731.8L1628.4 1734.2L1628.9 1745.4L1629.4 1743.9L1629.9 1749.0L1630.4 1748.9L1630.9 1740.5L1631.4 1732.9L1631.9 1732.8L1632.4 1741.6L1632.9 1745.5L1633.4 1747.5L1633.9 1740.1L1634.4 1746.4L1634.9 1738.3L1635.4 1744.1L1635.9 1741.3L1636.4 1747.0L1636.9 1729.5L1637.4 1735.7L1637.9 1743.1L1638.4 1749.8L1638.9 1739.9L1639.5 1738.7L1640.0 1751.8L1640.5 1743.6L1641.0 1730.0L1641.5 1743.0L1642.0 1747.0L1642.5 1740.3L1643.0 1731.9L1643.5 1747.6L1644.0 1747.6L1644.5 1746.3L1645.0 1744.2L1645.5 1736.6L1646.0 1742.6L1646.5 1760.2L1647.0 1742.0L1647.5 1742.3L1648.0 1740.7L1648.5 1743.3L1649.0 1746.1L1649.5 1741.8L1650.0 1750.1L1650.5 1757.1L1651.0 1747.9L1651.5 1753.3L1652.0 1734.2L1652.5 1746.7L1653.0 1735.3L1653.5 1755.4L1654.0 1754.5L1654.5 1743.4L1655.0 1758.2L1655.5 1750.9L1656.0 1759.9L1656.5 1743.9L1657.0 1758.7L1657.5 1747.9L1658.0 1759.2L1658.5 1743.8L1659.0 1739.9L1659.5 1746.5L1660.0 1754.2L1660.5 1744.6L1661.0 1740.9L1661.5 1742.4L1662.0 1739.1L1662.5 1734.8L1663.0 1746.4L1663.5 1749.8L1664.0 1752.4L1664.5 1748.2L1665.0 1749.8L1665.5 1751.9L1666.0 1746.0L1666.5 1734.9L1667.0 1753.9L1667.5 1751.9L1668.0 1751.1L1668.5 1755.8L1669.0 1741.7L1669.5 1750.0L1670.0 1745.0L1670.5 1760.1L1671.0 1745.4L1671.5 1750.2L1672.0 1759.3L1672.5 1743.6L1673.0 1743.1L1673.5 1748.0L1674.0 1746.4L1674.5 1756.2L1675.0 1742.8L1675.6 1751.4L1676.1 1746.7L1676.6 1745.9L1677.1 1746.8L1677.6 1755.1L1678.1 1748.3L1678.6 1749.2L1679.1 1742.3L1679.6 1755.5L1680.1 1743.9L1680.6 1747.2L1681.1 1750.2L1681.6 1737.8L1682.1 1745.2L1682.6 1754.4L1683.1 1748.8L1683.6 1756.0L1684.1 1758.9L1684.6 1754.4L1685.1 1754.4L1685.6 1739.5L1686.1 1745.8L1686.6 1767.7L1687.1 1752.4L1687.6 1756.1L1688.1 1752.4L1688.6 1750.3L1689.1 1751.3L1689.6 1748.8L1690.1 1757.0L1690.6 1742.2L1691.1 1752.8L1691.6 1743.6L1692.1 1752.7L1692.6 1748.7L1693.1 1758.6L1693.6 1744.7L1694.1 1750.3L1694.6 1755.0L1695.1 1749.8L1695.6 1749.3L1696.1 1762.9L1696.6 1757.6L1697.1 1759.4L1697.6 1747.1L1698.1 1751.5L1698.6 1757.3L1699.1 1757.7L1699.6 1753.2L1700.1 1768.6L1700.6 1754.2L1701.1 1742.6L1701.6 1762.7L1702.1 1761.3L1702.6 1761.0L1703.1 1750.4L1703.6 1758.5L1704.1 1740.9L1704.6 1754.9L1705.1 1757.0L1705.6 1761.1L1706.1 1749.2L1706.6 1746.6L1707.1 1752.7L1707.6 1745.1L1708.1 1745.6L1708.6 1751.6L1709.1 1753.7L1709.6 1757.8L1710.1 1752.7L1710.6 1756.6L1711.1 1744.3L1711.7 1749.2L1712.2 1755.5L1712.7 1757.0L1713.2 1751.7L1713.7 1747.5L1714.2 1752.7L1714.7 1747.8L1715.2 1757.7L1715.7 1753.2L1716.2 1750.4L1716.7 1753.5L1717.2 1752.3L1717.7 1748.1L1718.2 1754.9L1718.7 1748.3L1719.2 1758.5L1719.7 1751.7L1720.2 1757.9L1720.7 1757.7L1721.2 1751.1L1721.7 1746.7L1722.2 1756.1L1722.7 1754.6L1723.2 1746.4L1723.7 1760.7L1724.2 1749.3L1724.7 1763.2L1725.2 1768.1L1725.7 1753.2L1726.2 1757.5L1726.7 1759.0L1727.2 1771.7L1727.7 1753.3L1728.2 1758.9L1728.7 1763.8L1729.2 1756.8L1729.7 1764.0L1730.2 1761.3L1730.7 1761.6L1731.2 1749.8L1731.7 1757.1L1732.2 1747.9L1732.7 1761.9L1733.2 1764.5L1733.7 1745.0L1734.2 1765.9L1734.7 1748.7L1735.2 1764.2L1735.7 1752.2L1736.2 1761.9L1736.7 1747.0L1737.2 1744.0L1737.7 1750.2L1738.2 1754.8L1738.7 1759.7L1739.2 1752.1L1739.7 1743.4L1740.2 1760.4L1740.7 1765.0L1741.2 1745.6L1741.7 1759.0L1742.2 1752.7L1742.7 1756.4L1743.2 1755.9L1743.7 1759.6L1744.2 1758.7L1744.7 1768.9L1745.2 1761.7L1745.7 1763.7L1746.2 1750.3L1746.7 1760.1L1747.3 1757.4L1747.8 1769.3L1748.3 1757.8L1748.8 1748.2L1749.3 1757.3L1749.8 1752.6L1750.3 1760.6L1750.8 1762.6L1751.3 1752.3L1751.8 1761.7L1752.3 1765.7L1752.8 1759.5L1753.3 1761.4L1753.8 1752.0L1754.3 1754.2L1754.8 1768.6L1755.3 1755.8L1755.8 1768.0L1756.3 1758.1L1756.8 1755.6L1757.3 1762.8L1757.8 1762.9L1758.3 1754.5L1758.8 1761.6L1759.3 1767.1L1759.8 1748.9L1760.3 1754.0L1760.8 1756.7L1761.3 1757.6L1761.8 1753.2L1762.3 1759.4L1762.8 1754.8L1763.3 1757.9L1763.8 1764.5L1764.3 1753.1L1764.8 1759.0L1765.3 1765.5L1765.8 1763.2L1766.3 1776.1L1766.8 1771.3L1767.3 1770.0L1767.8 1756.0L1768.3 1756.3L1768.8 1753.2L1769.3 1758.1L1769.8 1749.6L1770.3 1764.0L1770.8 1766.1L1771.3 1767.3L1771.8 1760.0L1772.3 1765.6L1772.8 1767.5L1773.3 1765.1L1773.8 1760.6L1774.3 1770.2L1774.8 1761.9L1775.3 1762.0L1775.8 1751.0L1776.3 1761.1L1776.8 1770.6L1777.3 1760.5L1777.8 1761.0L1778.3 1770.6L1778.8 1782.3L1779.3 1757.6L1779.8 1763.8L1780.3 1767.3L1780.8 1763.8L1781.3 1754.4L1781.8 1751.4L1782.3 1765.9L1782.8 1753.0L1783.4 1763.3L1783.9 1763.0L1784.4 1763.7L1784.9 1763.6L1785.4 1764.2L1785.9 1767.8L1786.4 1763.3L1786.9 1770.0L1787.4 1759.8L1787.9 1767.8L1788.4 1760.4L1788.9 1764.5L1789.4 1775.4L1789.9 1756.2L1790.4 1762.0L1790.9 1764.4L1791.4 1766.2L1791.9 1752.4L1792.4 1765.7L1792.9 1758.0L1793.4 1763.0L1793.9 1773.0L1794.4 1759.7L1794.9 1774.4L1795.4 1761.6L1795.9 1762.0L1796.4 1763.2L1796.9 1769.6L1797.4 1755.7L1797.9 1753.4L1798.4 1770.9L1798.9 1767.5L1799.4 1754.5L1799.9 1767.9L1800.4 1759.0L1800.9 1771.6L1801.4 1769.4L1801.9 1763.7L1802.4 1762.5L1802.9 1774.9L1803.4 1772.4L1803.9 1762.3L1804.4 1757.4L1804.9 1762.4L1805.4 1763.5L1805.9 1763.0L1806.4 1773.8L1806.9 1763.4L1807.4 1760.2L1807.9 1762.3L1808.4 1773.7L1808.9 1772.4L1809.4 1759.1L1809.9 1775.3L1810.4 1773.3L1810.9 1756.3L1811.4 1772.4L1811.9 1771.3L1812.4 1762.5L1812.9 1761.7L1813.4 1767.9L1813.9 1776.1L1814.4 1770.2L1814.9 1765.9L1815.4 1773.0L1815.9 1773.4L1816.4 1759.1L1816.9 1763.7L1817.4 1762.3L1817.9 1761.6L1818.4 1773.9L1818.9 1764.4L1819.5 1759.9L1820.0 1763.2L1820.5 1775.1L1821.0 1777.7L1821.5 1772.9L1822.0 1764.3L1822.5 1769.1L1823.0 1766.2L1823.5 1776.2L1824.0 1762.8L1824.5 1772.9L1825.0 1761.0L1825.5 1768.5L1826.0 1787.5L1826.5 1769.7L1827.0 1774.1L1827.5 1774.0L1828.0 1769.7L1828.5 1761.8L1829.0 1763.3L1829.5 1759.9L1830.0 1768.9L1830.5 1780.9L1831.0 1772.6L1831.5 1774.9L1832.0 1773.6L1832.5 1752.2L1833.0 1764.2L1833.5 1775.5L1834.0 1761.8L1834.5 1771.4L1835.0 1778.2L1835.5 1762.1L1836.0 1772.7L1836.5 1768.9L1837.0 1755.1L1837.5 1776.3L1838.0 1763.3L1838.5 1772.0L1839.0 1777.2L1839.5 1771.7L1840.0 1769.1L1840.5 1769.1L1841.0 1780.1L1841.5 1765.1L1842.0 1775.9L1842.5 1768.6L1843.0 1769.3L1843.5 1774.2L1844.0 1766.9L1844.5 1775.4L1845.0 1776.9L1845.5 1780.0L1846.0 1782.9L1846.5 1775.5L1847.0 1785.1L1847.5 1773.5L1848.0 1774.7L1848.5 1760.9L1849.0 1778.8L1849.5 1764.2L1850.0 1769.3L1850.5 1769.8L1851.0 1775.7L1851.5 1777.0L1852.0 1773.9L1852.5 1772.3L1853.0 1768.4L1853.5 1775.4L1854.0 1762.3L1854.5 1761.6L1855.1 1787.9L1855.6 1771.5L1856.1 1773.2L1856.6 1778.7L1857.1 1789.6L1857.6 1783.6L1858.1 1773.9L1858.6 1768.4L1859.1 1770.0L1859.6 1769.7L1860.1 1774.4L1860.6 1766.6L1861.1 1770.1L1861.6 1766.1L1862.1 1774.1L1862.6 1777.5L1863.1 1783.1L1863.6 1763.8L1864.1 1777.2L1864.6 1780.2L1865.1 1787.2L1865.6 1770.2L1866.1 1782.5L1866.6 1773.5L1867.1 1772.2L1867.6 1765.1L1868.1 1778.6L1868.6 1786.4L1869.1 1768.8L1869.6 1772.7L1870.1 1778.4L1870.6 1774.7L1871.1 1762.7L1871.6 1774.3L1872.1 1778.9L1872.6 1775.3L1873.1 1771.2L1873.6 1772.7L1874.1 1772.9L1874.6 1773.0L1875.1 1782.5L1875.6 1771.5L1876.1 1768.8L1876.6 1771.3L1877.1 1775.9L1877.6 1776.0L1878.1 1774.4L1878.6 1775.3L1879.1 1786.1L1879.6 1776.6L1880.1 1768.0L1880.6 1778.0L1881.1 1779.3L1881.6 1772.3L1882.1 1775.6L1882.6 1780.6L1883.1 1775.2L1883.6 1765.7L1884.1 1765.0L1884.6 1775.5L1885.1 1777.6L1885.6 1769.2L1886.1 1773.8L1886.6 1773.4L1887.1 1777.3L1887.6 1785.0L1888.1 1786.0L1888.6 1777.6L1889.1 1783.9L1889.6 1772.2L1890.1 1771.5L1890.6 1768.2L1891.2 1776.8L1891.7 1765.4L1892.2 1769.6L1892.7 1775.2L1893.2 1773.0L1893.7 1781.2L1894.2 1797.4L1894.7 1771.4L1895.2 1774.9L1895.7 1767.6L1896.2 1775.1L1896.7 1779.3L1897.2 1781.3L1897.7 1782.1L1898.2 1777.4L1898.7 1789.8L1899.2 1785.6L1899.7 1773.6L1900.2 1791.4L1900.7 1788.6L1901.2 1782.7L1901.7 1781.6L1902.2 1778.8L1902.7 1774.0L1903.2 1777.6L1903.7 1775.8L1904.2 1783.1L1904.7 1779.4L1905.2 1784.0L1905.7 1780.4L1906.2 1776.3L1906.7 1776.8L1907.2 1791.6L1907.7 1787.1L1908.2 1767.9L1908.7 1792.8L1909.2 1779.9L1909.7 1787.6L1910.2 1781.8L1910.7 1784.1L1911.2 1780.2L1911.7 1787.5L1912.2 1774.4L1912.7 1767.4L1913.2 1796.0L1913.7 1786.2L1914.2 1790.4L1914.7 1780.4L1915.2 1772.7L1915.7 1772.8L1916.2 1773.3L1916.7 1780.1L1917.2 1785.0L1917.7 1774.7L1918.2 1785.5L1918.7 1786.6L1919.2 1781.5L1919.7 1789.5L1920.2 1783.2L1920.7 1787.8L1921.2 1781.6L1921.7 1776.3L1922.2 1785.7L1922.7 1779.5L1923.2 1776.6L1923.7 1787.3L1924.2 1783.1L1924.7 1784.9L1925.2 1771.7L1925.7 1785.9L1926.2 1782.2L1926.7 1791.6L1927.3 1788.7L1927.8 1779.5L1928.3 1785.0L1928.8 1778.8L1929.3 1783.0L1929.8 1767.5L1930.3 1785.0L1930.8 1777.8L1931.3 1788.0L1931.8 1786.4L1932.3 1793.1L1932.8 1767.9L1933.3 1796.7L1933.8 1783.3L1934.3 1786.8L1934.8 1779.3L1935.3 1787.5L1935.8 1772.8L1936.3 1777.4L1936.8 1781.2L1937.3 1781.4L1937.8 1778.1L1938.3 1781.9L1938.8 1774.9L1939.3 1779.2L1939.8 1784.9L1940.3 1782.0L1940.8 1783.4L1941.3 1777.6L1941.8 1786.3L1942.3 1784.2L1942.8 1792.5L1943.3 1780.9L1943.8 1783.5L1944.3 1789.1L1944.8 1774.8L1945.3 1785.1L1945.8 1792.2L1946.3 1778.4L1946.8 1786.5L1947.3 1804.1L1947.8 1783.5L1948.3 1785.7L1948.8 1785.2L1949.3 1787.0L1949.8 1790.7L1950.3 1785.2L1950.8 1796.2L1951.3 1787.2L1951.8 1781.0L1952.3 1780.2L1952.8 1789.3L1953.3 1774.8L1953.8 1784.6L1954.3 1789.2L1954.8 1785.6L1955.3 1790.8L1955.8 1781.5L1956.3 1792.4L1956.8 1791.1L1957.3 1793.8L1957.8 1791.8L1958.3 1788.7L1958.8 1776.0L1959.3 1785.7L1959.8 1780.2L1960.3 1787.0L1960.8 1781.7L1961.3 1793.7L1961.8 1794.2L1962.3 1776.5L1962.9 1785.4L1963.4 1797.1L1963.9 1784.2L1964.4 1789.0L1964.9 1789.5L1965.4 1783.1L1965.9 1795.4L1966.4 1780.8L1966.9 1786.6L1967.4 1791.1L1967.9 1796.3L1968.4 1778.0L1968.9 1790.7L1969.4 1796.7L1969.9 1789.5L1970.4 1785.9L1970.9 1785.1L1971.4 1780.1L1971.9 1785.6L1972.4 1789.3L1972.9 1775.7L1973.4 1777.1L1973.9 1795.8L1974.4 1783.4L1974.9 1792.8L1975.4 1780.4L1975.9 1795.0L1976.4 1787.7L1976.9 1780.1L1977.4 1787.6L1977.9 1783.1L1978.4 1793.8L1978.9 1797.1L1979.4 1796.8L1979.9 1786.2L1980.4 1793.8L1980.9 1781.3L1981.4 1792.0L1981.9 1782.1L1982.4 1788.1L1982.9 1796.7L1983.4 1790.0L1983.9 1787.4L1984.4 1787.5L1984.9 1791.1L1985.4 1783.9L1985.9 1784.9L1986.4 1785.0L1986.9 1795.3L1987.4 1803.3L1987.9 1787.4L1988.4 1795.8L1988.9 1794.2L1989.4 1792.5L1989.9 1789.2L1990.4 1801.5L1990.9 1792.0L1991.4 1783.2L1991.9 1799.9L1992.4 1793.1L1992.9 1782.9L1993.4 1786.6L1993.9 1787.9L1994.4 1790.7L1994.9 1800.1L1995.4 1791.1L1995.9 1797.4L1996.4 1791.1L1996.9 1796.4L1997.4 1798.9L1997.9 1792.1L1998.4 1785.9L1999.0 1795.1L1999.5 1791.1L2000.0 1788.1L2000.5 1789.3L2001.0 1799.9L2001.5 1795.8L2002.0 1790.5L2002.5 1792.5L2003.0 1782.4L2003.5 1789.3L2004.0 1798.0L2004.5 1788.9L2005.0 1786.4L2005.5 1789.2L2006.0 1790.1L2006.5 1801.4L2007.0 1793.5L2007.5 1789.7L2008.0 1795.6L2008.5 1795.3L2009.0 1790.8L2009.5 1797.2L2010.0 1798.8L2010.5 1794.5L2011.0 1794.2L2011.5 1788.8L2012.0 1794.8L2012.5 1800.6L2013.0 1791.2L2013.5 1798.6L2014.0 1789.8L2014.5 1797.5L2015.0 1790.8L2015.5 1792.5L2016.0 1795.5L2016.5 1801.7L2017.0 1796.7L2017.5 1786.3L2018.0 1793.5L2018.5 1787.9L2019.0 1794.3L2019.5 1794.7L2020.0 1800.4L2020.5 1792.6L2021.0 1799.8L2021.5 1799.8L2022.0 1789.0L2022.5 1800.9L2023.0 1781.9L2023.5 1795.2L2024.0 1798.5L2024.5 1787.6L2025.0 1801.0L2025.5 1794.7L2026.0 1795.3L2026.5 1790.1L2027.0 1785.7L2027.5 1793.7L2028.0 1803.2L2028.5 1803.4L2029.0 1798.7L2029.5 1791.3L2030.0 1795.2L2030.5 1794.5L2031.0 1797.9L2031.5 1788.4L2032.0 1802.7L2032.5 1785.2L2033.0 1789.5L2033.5 1792.4L2034.0 1796.6L2034.5 1798.2L2035.1 1796.6L2035.6 1799.8L2036.1 1799.1L2036.6 1801.4L2037.1 1792.5L2037.6 1796.3L2038.1 1794.4L2038.6 1801.2L2039.1 1804.1L2039.6 1802.4L2040.1 1795.9L2040.6 1804.0L2041.1 1793.9L2041.6 1802.8L2042.1 1800.0L2042.6 1796.2L2043.1 1804.4L2043.6 1809.5L2044.1 1791.2L2044.6 1798.8L2045.1 1801.5L2045.6 1788.8L2046.1 1785.6L2046.6 1797.9L2047.1 1796.3L2047.6 1783.2L2048.1 1801.7L2048.6 1791.5L2049.1 1792.8L2049.6 1801.7L2050.1 1804.0L2050.6 1802.9L2051.1 1797.8L2051.6 1796.6L2052.1 1783.8L2052.6 1804.5L2053.1 1797.7L2053.6 1803.3L2054.1 1793.9L2054.6 1796.5L2055.1 1806.4L2055.6 1801.5L2056.1 1798.7L2056.6 1795.0L2057.1 1796.1L2057.6 1795.3L2058.1 1799.1L2058.6 1795.8L2059.1 1798.8L2059.6 1793.8L2060.1 1796.1L2060.6 1804.4L2061.1 1799.8L2061.6 1803.9L2062.1 1800.3L2062.6 1796.4L2063.1 1799.1L2063.6 1800.4L2064.1 1803.2L2064.6 1791.5L2065.1 1799.8L2065.6 1805.4L2066.1 1802.7L2066.6 1794.7L2067.1 1788.7L2067.6 1793.0L2068.1 1802.1L2068.6 1795.4L2069.1 1809.7L2069.6 1795.7L2070.1 1801.7L2070.7 1799.0L2071.2 1807.4L2071.7 1798.4L2072.2 1807.8L2072.7 1809.9L2073.2 1792.4L2073.7 1807.8L2074.2 1795.7L2074.7 1804.1L2075.2 1801.6L2075.7 1801.0L2076.2 1794.8L2076.7 1798.7L2077.2 1806.1L2077.7 1804.1L2078.2 1793.9L2078.7 1793.8L2079.2 1804.1L2079.7 1796.5L2080.2 1801.9L2080.7 1795.9L2081.2 1807.3L2081.7 1797.2L2082.2 1804.9L2082.7 1809.0L2083.2 1798.5L2083.7 1798.8L2084.2 1810.4L2084.7 1815.0L2085.2 1802.8L2085.7 1799.7L2086.2 1805.2L2086.7 1801.8L2087.2 1804.8L2087.7 1805.5L2088.2 1800.3L2088.7 1795.7L2089.2 1800.1L2089.7 1804.5L2090.2 1806.6L2090.7 1801.7L2091.2 1815.2L2091.7 1802.3L2092.2 1803.6L2092.7 1803.2L2093.2 1804.6L2093.7 1804.3L2094.2 1811.3L2094.7 1799.6L2095.2 1805.1L2095.7 1803.3L2096.2 1806.2L2096.7 1811.7L2097.2 1800.1L2097.7 1804.8L2098.2 1805.1L2098.7 1801.6L2099.2 1794.4L2099.7 1804.0L2100.2 1800.8L2100.7 1793.6L2101.2 1805.6L2101.7 1797.2L2102.2 1803.8L2102.7 1798.5L2103.2 1803.4L2103.7 1798.8L2104.2 1808.3L2104.7 1806.9L2105.2 1807.7L2105.7 1806.0L2106.2 1798.3L2106.8 1802.0L2107.3 1800.8L2107.8 1805.7L2108.3 1804.0L2108.8 1802.2L2109.3 1802.6L2109.8 1807.7L2110.3 1806.9L2110.8 1810.6L2111.3 1800.7L2111.8 1799.0L2112.3 1794.5L2112.8 1821.9L2113.3 1800.4L2113.8 1801.9L2114.3 1790.6L2114.8 1807.7L2115.3 1809.5L2115.8 1804.1L2116.3 1813.3L2116.8 1813.2L2117.3 1802.3L2117.8 1814.7L2118.3 1811.8L2118.8 1799.1L2119.3 1802.5L2119.8 1812.9L2120.3 1798.2L2120.8 1805.5L2121.3 1807.9L2121.8 1805.3L2122.3 1806.6L2122.8 1799.8L2123.3 1803.1L2123.8 1811.1L2124.3 1809.3L2124.8 1802.2L2125.3 1809.8L2125.8 1811.8L2126.3 1819.6L2126.8 1802.0L2127.3 1806.6L2127.8 1807.9L2128.3 1811.6L2128.8 1809.9L2129.3 1807.1L2129.8 1813.1L2130.3 1806.4L2130.8 1797.7L2131.3 1809.9L2131.8 1807.1L2132.3 1798.5L2132.8 1806.7L2133.3 1798.7L2133.8 1801.7L2134.3 1802.3L2134.8 1808.3L2135.3 1810.0L2135.8 1800.3L2136.3 1806.8L2136.8 1808.2L2137.3 1819.6L2137.8 1808.4L2138.3 1794.1L2138.8 1804.2L2139.3 1798.0L2139.8 1806.5L2140.3 1815.4L2140.8 1807.0L2141.3 1798.2L2141.8 1806.9L2142.3 1809.5L2142.9 1808.9L2143.4 1814.4L2143.9 1810.0L2144.4 1807.4L2144.9 1802.9L2145.4 1804.0L2145.9 1814.2L2146.4 1818.8L2146.9 1810.3L2147.4 1812.6L2147.9 1803.9L2148.4 1814.1L2148.9 1805.3L2149.4 1811.0L2149.9 1802.5L2150.4 1808.4L2150.9 1819.5L2151.4 1821.6L2151.9 1807.3L2152.4 1814.6L2152.9 1803.8L2153.4 1809.4L2153.9 1799.5L2154.4 1809.4L2154.9 1813.4L2155.4 1820.3L2155.9 1806.8L2156.4 1810.7L2156.9 1811.3L2157.4 1795.1L2157.9 1805.4L2158.4 1814.8L2158.9 1806.2L2159.4 1818.2L2159.9 1813.4L2160.4 1805.3L2160.9 1817.1L2161.4 1810.0L2161.9 1809.7L2162.4 1809.2L2162.9 1815.4L2163.4 1817.9L2163.9 1810.3L2164.4 1806.9L2164.9 1815.8L2165.4 1806.1L2165.9 1804.5L2166.4 1808.8L2166.9 1805.0L2167.4 1805.3L2167.9 1804.1L2168.4 1809.2L2168.9 1809.1L2169.4 1808.9L2169.9 1804.3L2170.4 1813.6L2170.9 1802.8L2171.4 1815.9L2171.9 1800.4L2172.4 1807.5L2172.9 1796.4L2173.4 1809.6L2173.9 1807.4L2174.4 1819.5L2174.9 1812.6L2175.4 1810.1L2175.9 1809.0L2176.4 1807.7L2176.9 1810.5L2177.4 1811.7L2177.9 1806.3L2178.5 1819.6L2179.0 1813.9L2179.5 1807.8L2180.0 1812.0L2180.5 1805.2L2181.0 1815.3L2181.5 1813.8L2182.0 1808.4L2182.5 1802.3L2183.0 1818.8L2183.5 1821.1L2184.0 1818.4L2184.5 1818.7L2185.0 1810.7L2185.5 1807.1L2186.0 1812.3L2186.5 1811.0L2187.0 1808.9L2187.5 1810.3L2188.0 1810.8L2188.5 1811.1L2189.0 1806.4L2189.5 1818.5L2190.0 1815.2L2190.5 1811.2L2191.0 1798.2L2191.5 1817.3L2192.0 1808.6L2192.5 1816.7L2193.0 1813.7L2193.5 1817.0L2194.0 1802.9L2194.5 1810.9L2195.0 1815.6L2195.5 1807.8L2196.0 1816.8L2196.5 1811.7L2197.0 1820.3L2197.5 1814.8L2198.0 1811.4L2198.5 1811.5L2199.0 1817.8L2199.5 1817.4L2200.0 1822.7L2200.5 1824.7L2201.0 1814.8L2201.5 1807.6L2202.0 1811.1L2202.5 1810.6L2203.0 1813.7L2203.5 1813.9L2204.0 1814.0L2204.5 1805.0L2205.0 1815.6L2205.5 1807.6L2206.0 1821.4L2206.5 1819.7L2207.0 1814.4L2207.5 1822.0L2208.0 1806.0L2208.5 1812.9L2209.0 1812.0L2209.5 1816.6L2210.0 1811.7L2210.5 1817.7L2211.0 1807.2L2211.5 1807.4L2212.0 1817.9L2212.5 1818.9L2213.0 1822.3L2213.5 1822.0L2214.0 1807.7L2214.6 1810.3L2215.1 1806.1L2215.6 1811.7L2216.1 1809.7L2216.6 1810.9L2217.1 1817.0L2217.6 1813.4L2218.1 1809.5L2218.6 1813.7L2219.1 1819.6L2219.6 1819.7L2220.1 1799.1L2220.6 1819.2L2221.1 1818.2L2221.6 1814.4L2222.1 1815.2L2222.6 1809.4L2223.1 1817.0L2223.6 1811.4L2224.1 1814.5L2224.6 1814.5L2225.1 1815.9L2225.6 1819.6L2226.1 1817.7L2226.6 1821.1L2227.1 1817.5L2227.6 1814.6L2228.1 1814.1L2228.6 1821.3L2229.1 1819.3L2229.6 1817.2L2230.1 1808.6L2230.6 1814.4L2231.1 1813.7L2231.6 1809.2L2232.1 1813.1L2232.6 1818.4L2233.1 1807.0L2233.6 1816.4L2234.1 1809.6L2234.6 1813.7L2235.1 1812.6L2235.6 1809.2L2236.1 1818.3L2236.6 1823.5L2237.1 1814.5L2237.6 1816.4L2238.1 1817.6L2238.6 1816.2L2239.1 1824.5L2239.6 1816.5L2240.1 1817.9L2240.6 1815.0L2241.1 1817.1L2241.6 1818.5L2242.1 1813.3L2242.6 1811.2L2243.1 1817.3L2243.6 1821.3L2244.1 1820.5L2244.6 1810.8L2245.1 1825.8L2245.6 1817.0L2246.1 1816.0L2246.6 1815.0L2247.1 1827.9L2247.6 1816.5L2248.1 1829.0L2248.6 1820.8L2249.1 1823.1L2249.6 1828.6L2250.1 1809.5L2250.7 1820.4L2251.2 1827.0L2251.7 1824.6L2252.2 1819.6L2252.7 1815.3L2253.2 1818.9L2253.7 1825.2L2254.2 1810.9L2254.7 1817.2L2255.2 1810.5L2255.7 1811.7L2256.2 1817.2L2256.7 1811.8L2257.2 1819.3L2257.7 1813.4L2258.2 1827.2L2258.7 1828.2L2259.2 1824.5L2259.7 1816.3L2260.2 1818.2L2260.7 1822.7L2261.2 1822.1L2261.7 1822.0L2262.2 1818.4L2262.7 1813.6L2263.2 1814.1L2263.7 1820.2L2264.2 1819.3L2264.7 1816.2L2265.2 1824.8L2265.7 1819.2L2266.2 1816.3L2266.7 1817.0L2267.2 1821.6L2267.7 1823.5L2268.2 1824.0L2268.7 1812.2L2269.2 1819.3L2269.7 1825.7L2270.2 1829.8L2270.7 1819.4L2271.2 1811.8L2271.7 1820.9L2272.2 1824.1L2272.7 1815.5L2273.2 1821.3L2273.7 1820.4L2274.2 1818.2L2274.7 1821.4L2275.2 1816.3L2275.7 1815.6L2276.2 1820.3L2276.7 1822.7L2277.2 1818.3L2277.7 1832.9L2278.2 1822.1L2278.7 1822.9L2279.2 1816.3L2279.7 1825.5L2280.2 1814.6L2280.7 1820.9L2281.2 1818.1L2281.7 1813.6L2282.2 1819.5L2282.7 1823.4L2283.2 1818.9L2283.7 1818.8L2284.2 1810.5L2284.7 1820.7L2285.2 1815.7L2285.7 1813.6L2286.3 1814.8L2286.8 1821.6L2287.3 1826.4L2287.8 1815.1L2288.3 1811.8L2288.8 1817.1L2289.3 1814.5L2289.8 1819.7L2290.3 1816.1L2290.8 1813.7L2291.3 1820.4L2291.8 1814.2L2292.3 1820.6L2292.8 1825.1L2293.3 1818.5L2293.8 1821.3L2294.3 1818.2L2294.8 1817.7L2295.3 1821.5L2295.8 1818.5L2296.3 1822.9L2296.8 1816.5L2297.3 1825.3L2297.8 1827.7L2298.3 1815.6L2298.8 1830.8L2299.3 1822.2L2299.8 1822.0L2300.3 1816.8L2300.8 1822.3L2301.3 1822.3L2301.8 1830.4L2302.3 1816.4L2302.8 1826.7L2303.3 1821.5L2303.8 1825.5L2304.3 1815.8L2304.8 1826.3L2305.3 1828.5L2305.8 1815.1L2306.3 1825.0L2306.8 1820.6L2307.3 1819.6L2307.8 1829.4L2308.3 1816.7L2308.8 1827.1L2309.3 1821.5L2309.8 1819.7L2310.3 1822.4L2310.8 1826.5L2311.3 1817.3L2311.8 1826.5L2312.3 1828.7L2312.8 1816.1L2313.3 1815.9L2313.8 1831.6L2314.3 1823.3L2314.8 1822.2L2315.3 1836.6L2315.8 1825.1L2316.3 1816.5L2316.8 1827.4L2317.3 1815.8L2317.8 1812.4L2318.3 1823.2L2318.8 1826.2L2319.3 1822.1L2319.8 1829.8L2320.3 1816.0L2320.8 1820.0L2321.3 1829.7L2321.8 1826.6L2322.4 1824.2L2322.9 1817.2L2323.4 1818.5L2323.9 1826.0L2324.4 1821.9L2324.9 1825.0L2325.4 1820.4L2325.9 1824.2L2326.4 1812.2L2326.9 1820.5L2327.4 1824.2L2327.9 1828.3L2328.4 1830.1L2328.9 1819.3L2329.4 1818.8L2329.9 1815.1L2330.4 1828.3L2330.9 1819.3L2331.4 1829.3L2331.9 1819.7L2332.4 1820.3L2332.9 1822.0L2333.4 1824.8L2333.9 1825.7L2334.4 1825.1L2334.9 1833.1L2335.4 1819.9L2335.9 1829.1L2336.4 1822.6L2336.9 1823.7L2337.4 1819.8L2337.9 1823.1L2338.4 1823.3L2338.9 1822.0L2339.4 1818.5L2339.9 1825.5L2340.4 1827.9L2340.9 1823.4L2341.4 1824.0L2341.9 1819.8L2342.4 1821.5L2342.9 1822.7L2343.4 1817.9L2343.9 1822.0L2344.4 1820.4L2344.9 1825.6L2345.4 1816.0L2345.9 1820.3L2346.4 1828.3L2346.9 1828.1L2347.4 1814.7L2347.9 1822.5L2348.4 1814.9L2348.9 1811.8L2349.4 1822.9L2349.9 1822.1L2350.4 1819.6L2350.9 1828.2L2351.4 1832.8L2351.9 1814.4L2352.4 1827.8L2352.9 1824.4L2353.4 1816.3L2353.9 1823.4L2354.4 1819.1L2354.9 1822.2L2355.4 1830.2L2355.9 1827.7L2356.4 1823.4L2356.9 1828.7L2357.4 1819.0L2357.9 1822.1L2358.5 1831.9L2359.0 1821.6L2359.5 1826.6L2360.0 1825.7L2360.5 1820.5L2361.0 1833.5L2361.5 1828.9L2362.0 1822.9L2362.5 1831.7L2363.0 1817.9L2363.5 1840.8L2364.0 1819.1L2364.5 1820.8L2365.0 1827.8L2365.5 1824.2L2366.0 1828.3L2366.5 1815.2L2367.0 1824.8L2367.5 1822.3L2368.0 1823.3L2368.5 1831.7L2369.0 1834.5L2369.5 1824.0L2370.0 1817.8L2370.5 1821.7L2371.0 1825.8L2371.5 1822.7L2372.0 1826.7L2372.5 1818.5L2373.0 1821.9L2373.5 1823.4L2374.0 1814.5L2374.5 1827.9L2375.0 1829.7L2375.5 1826.3L2376.0 1827.8"/>
<path stroke="#0000FF" d="M218.0 451.5L218.5 474.7L219.0 598.3L219.5 586.6L220.0 600.2L220.5 629.4L221.0 677.8L221.5 696.9L222.0 753.4L222.5 782.4L223.0 823.4L223.5 880.1L224.0 909.5L224.5 919.3L225.0 961.7L225.5 953.1L226.0 972.8L226.5 982.9L227.0 1029.1L227.5 1022.8L228.0 1074.7L228.5 1089.3L229.0 1092.2L229.5 1107.4L230.0 1156.3L230.5 1180.3L231.0 1171.7L231.5 1209.5L232.0 1195.8L232.5 1220.1L233.0 1232.8L233.5 1244.7L234.0 1244.9L234.5 1268.2L235.0 1259.8L235.5 1289.6L236.0 1293.3L236.5 1307.0L237.0 1297.7L237.5 1312.8L238.1 1331.8L238.6 1301.4L239.1 1338.9L239.6 1342.3L240.1 1342.2L240.6 1331.4L241.1 1361.8L241.6 1357.5L242.1 1371.6L242.6 1397.6L243.1 1376.6L243.6 1381.1L244.1 1404.0L244.6 1408.8L245.1 1434.1L245.6 1441.6L246.1 1435.1L246.6 1429.8L247.1 1448.7L247.6 1445.3L248.1 1442.1L248.6 1456.3L249.1 1454.7L249.6 1448.5L250.1 1482.5L250.6 1463.3L251.1 1496.1L251.6 1473.0L252.1 1478.5L252.6 1489.6L253.1 1498.2L253.6 1489.5L254.1 1495.9L254.6 1492.8L255.1 1506.3L255.6 1492.8L256.1 1512.5L256.6 1507.0L257.1 1510.5L257.6 1495.1L258.1 1527.4L258.6 1518.4L259.1 1503.8L259.6 1526.0L260.1 1534.7L260.6 1521.0L261.1 1529.5L261.6 1520.0L262.1 1540.9L262.6 1531.6L263.1 1528.9L263.6 1527.4L264.1 1551.8L264.6 1527.8L265.1 1553.9L265.6 1562.3L266.1 1558.5L266.6 1549.1L267.1 1555.9L267.6 1550.0L268.1 1551.4L268.6 1555.1L269.1 1562.7L269.6 1543.7L270.1 1585.9L270.6 1582.6L271.1 1571.8L271.6 1580.7L272.1 1594.9L272.6 1578.5L273.1 1579.1L273.6 1597.1L274.2 1565.4L274.7 1562.1L275.2 1563.8L275.7 1581.8L276.2 1576.1L276.7 1589.1L277.2 1576.4L277.7 1585.2L278.2 1574.6L278.7 1581.9L279.2 1568.3L279.7 1570.2L280.2 1565.9L280.7 1593.7L281.2 1595.5L281.7 1573.4L282.2 1582.7L282.7 1572.8L283.2 1573.4L283.7 1574.2L284.2 1566.5L284.7 1569.6L285.2 1569.9L285.7 1582.7L286.2 1555.7L286.7 1570.0L287.2 1558.5L287.7 1564.2L288.2 1552.5L288.7 1561.3L289.2 1558.1L289.7 1556.4L290.2 1562.5L290.7 1558.8L291.2 1552.2L291.7 1549.7L292.2 1556.3L292.7 1519.7L293.2 1551.8L293.7 1542.5L294.2 1511.4L294.7 1541.3L295.2 1523.9L295.7 1522.4L296.2 1528.9L296.7 1539.2L297.2 1537.9L297.7 1518.7L298.2 1511.3L298.7 1536.0L299.2 1508.0L299.7 1513.4L300.2 1493.0L300.7 1496.9L301.2 1503.4L301.7 1494.6L302.2 1484.5L302.7 1464.9L303.2 1440.5L303.7 1465.3L304.2 1462.3L304.7 1449.6L305.2 1451.1L305.7 1437.2L306.2 1433.7L306.7 1432.0L307.2 1435.3L307.7 1418.0L308.2 1403.2L308.7 1407.2L309.2 1383.8L309.7 1384.6L310.3 1391.4L310.8 1361.9L311.3 1390.7L311.8 1355.2L312.3 1339.6L312.8 1359.2L313.3 1350.2L313.8 1329.7L314.3 1316.0L314.8 1321.2L315.3 1316.1L315.8 1299.7L316.3 1301.0L316.8 1313.7L317.3 1293.7L317.8 1285.3L318.3 1298.1L318.8 1269.0L319.3 1275.6L319.8 1255.5L320.3 1264.1L320.8 1253.5L321.3 1252.9L321.8 1246.0L322.3 1246.2L322.8 1248.4L323.3 1251.1L323.8 1259.9L324.3 1263.5L324.8 1301.9L325.3 1281.5L325.8 1299.4L326.3 1304.7L326.8 1325.0L327.3 1300.4L327.8 1325.8L328.3 1358.8L328.8 1345.5L329.3 1364.8L329.8 1386.9L330.3 1386.1L330.8 1399.9L331.3 1425.7L331.8 1423.1L332.3 1404.8L332.8 1412.5L333.3 1418.6L333.8 1440.4L334.3 1437.8L334.8 1434.0L335.3 1430.5L335.8 1452.3L336.3 1458.9L336.8 1437.7L337.3 1454.9L337.8 1465.2L338.3 1474.5L338.8 1478.8L339.3 1458.5L339.8 1470.1L340.3 1489.5L340.8 1502.0L341.3 1472.7L341.8 1476.6L342.3 1483.2L342.8 1489.7L343.3 1522.0L343.8 1518.0L344.3 1500.6L344.8 1512.9L345.3 1510.5L345.9 1522.5L346.4 1527.4L346.9 1517.9L347.4 1530.9L347.9 1529.1L348.4 1528.0L348.9 1529.5L349.4 1520.9L349.9 1519.7L350.4 1549.2L350.9 1538.5L351.4 1543.0L351.9 1528.7L352.4 1547.8L352.9 1528.6L353.4 1529.3L353.9 1530.4L354.4 1546.4L354.9 1538.2L355.4 1546.9L355.9 1531.2L356.4 1525.0L356.9 1550.5L357.4 1542.9L357.9 1535.6L358.4 1539.1L358.9 1517.5L359.4 1534.2L359.9 1529.5L360.4 1543.3L360.9 1514.8L361.4 1528.7L361.9 1521.7L362.4 1528.3L362.9 1550.9L363.4 1544.8L363.9 1540.9L364.4 1521.8L364.9 1531.5L365.4 1521.0L365.9 1521.9L366.4 1521.7L366.9 1514.0L367.4 1521.1L367.9 1539.9L368.4 1529.0L368.9 1503.5L369.4 1531.9L369.9 1505.4L370.4 1501.6L370.9 1525.0L371.4 1514.3L371.9 1532.3L372.4 1508.5L372.9 1524.5L373.4 1529.6L373.9 1519.1L374.4 1519.2L374.9 1520.0L375.4 1511.1L375.9 1514.4L376.4 1519.1L376.9 1501.2L377.4 1484.7L377.9 1509.5L378.4 1517.2L378.9 1519.8L379.4 1502.1L379.9 1510.6L380.4 1507.1L380.9 1528.2L381.4 1518.2L382.0 1517.9L382.5 1494.5L383.0 1507.0L383.5 1530.4L384.0 1497.5L384.5 1489.8L385.0 1487.3L385.5 1531.4L386.0 1498.5L386.5 1490.6L387.0 1492.2L387.5 1500.7L388.0 1517.2L388.5 1501.6L389.0 1499.7L389.5 1489.2L390.0 1487.8L390.5 1496.8L391.0 1484.1L391.5 1504.4L392.0 1499.6L392.5 1491.7L393.0 1484.4L393.5 1493.6L394.0 1475.7L394.5 1484.1L395.0 1498.4L395.5 1486.3L396.0 1496.3L396.5 1496.5L397.0 1501.0L397.5 1468.8L398.0 1473.5L398.5 1500.8L399.0 1469.8L399.5 1470.8L400.0 1484.9L400.5 1474.4L401.0 1454.2L401.5 1475.4L402.0 1473.1L402.5 1464.4L403.0 1487.8L403.5 1489.6L404.0 1490.4L404.5 1474.6L405.0 1463.0L405.5 1481.7L406.0 1486.6L406.5 1467.9L407.0 1473.4L407.5 1461.5L408.0 1468.9L408.5 1468.6L409.0 1466.6L409.5 1464.4L410.0 1474.9L410.5 1475.9L411.0 1444.1L411.5 1426.2L412.0 1447.8L412.5 1478.5L413.0 1458.7L413.5 1444.7L414.0 1476.2L414.5 1462.5L415.0 1460.9L415.5 1466.1L416.0 1464.6L416.5 1442.7L417.0 1459.0L417.5 1455.8L418.1 1432.9L418.6 1462.0L419.1 1473.9L419.6 1443.9L420.1 1427.6L420.6 1448.0L421.1 1446.5L421.6 1464.5L422.1 1460.0L422.6 1431.8L423.1 1433.8L423.6 1441.2L424.1 1455.0L424.6 1461.0L425.1 1459.0L425.6 1460.1L426.1 1439.0L426.6 1455.0L427.1 1451.2L427.6 1437.1L428.1 1437.0L428.6 1443.9L429.1 1438.6L429.6 1443.8L430.1 1466.1L430.6 1444.2L431.1 1447.9L431.6 1446.8L432.1 1439.5L432.6 1448.6L433.1 1427.4L433.6 1443.4L434.1 1439.1L434.6 1436.9L435.1 1442.5L435.6 1432.5L436.1 1431.0L436.6 1432.1L437.1 1447.6L437.6 1449.6L438.1 1445.9L438.6 1438.5L439.1 1460.3L439.6 1448.0L440.1 1451.3L440.6 1445.5L441.1 1448.1L441.6 1427.5L442.1 1431.5L442.6 1425.3L443.1 1447.9L443.6 1445.2L444.1 1439.3L444.6 1416.0L445.1 1415.5L445.6 1442.3L446.1 1427.4L446.6 1409.2L447.1 1446.4L447.6 1436.3L448.1 1418.5L448.6 1425.0L449.1 1445.1L449.6 1415.2L450.1 1421.3L450.6 1424.5L451.1 1447.2L451.6 1434.2L452.1 1416.5L452.6 1426.1L453.1 1422.3L453.7 1434.7L454.2 1413.5L454.7 1434.0L455.2 1420.1L455.7 1427.0L456.2 1442.0L456.7 1412.9L457.2 1445.2L457.7 1438.8L458.2 1428.2L458.7 1446.4L459.2 1450.9L459.7 1430.8L460.2 1434.3L460.7 1432.3L461.2 1423.0L461.7 1402.0L462.2 1433.5L462.7 1399.4L463.2 1425.4L463.7 1429.2L464.2 1460.0L464.7 1445.9L465.2 1424.6L465.7 1420.9L466.2 1437.3L466.7 1423.6L467.2 1416.4L467.7 1433.7L468.2 1446.1L468.7 1438.3L469.2 1430.1L469.7 1423.0L470.2 1417.0L470.7 1437.1L471.2 1425.5L471.7 1428.9L472.2 1425.2L472.7 1412.4L473.2 1409.9L473.7 1430.8L474.2 1432.3L474.7 1433.1L475.2 1431.0L475.7 1429.5L476.2 1426.5L476.7 1430.3L477.2 1437.0L477.7 1438.0L478.2 1423.3L478.7 1394.8L479.2 1417.1L479.7 1415.9L480.2 1419.3L480.7 1425.3L481.2 1399.4L481.7 1426.9L482.2 1434.7L482.7 1437.7L483.2 1420.7L483.7 1434.7L484.2 1433.2L484.7 1433.1L485.2 1438.3L485.7 1420.6L486.2 1442.5L486.7 1395.2L487.2 1455.3L487.7 1439.0L488.2 1421.5L488.7 1417.2L489.2 1426.3L489.8 1418.7L490.3 1420.0L490.8 1420.5L491.3 1415.0L491.8 1419.0L492.3 1423.0L492.8 1423.5L493.3 1411.3L493.8 1424.0L494.3 1415.0L494.8 1403.0L495.3 1417.3L495.8 1407.5L496.3 1427.1L496.8 1418.8L497.3 1416.1L497.8 1419.5L498.3 1416.6L498.8 1405.7L499.3 1426.3L499.8 1430.7L500.3 1419.0L500.8 1440.4L501.3 1423.4L501.8 1409.2L502.3 1423.7L502.8 1417.2L503.3 1419.3L503.8 1409.8L504.3 1418.3L504.8 1422.1L505.3 1464.3L505.8 1431.2L506.3 1416.8L506.8 1427.2L507.3 1434.6L507.8 1415.3L508.3 1436.8L508.8 1430.6L509.3 1418.7L509.8 1433.3L510.3 1425.4L510.8 1428.0L511.3 1442.3L511.8 1434.6L512.3 1433.0L512.8 1436.7L513.3 1416.4L513.8 1429.9L514.3 1437.5L514.8 1446.7L515.3 1434.5L515.8 1415.5L516.3 1434.9L516.8 1422.7L517.3 1426.6L517.8 1438.4L518.3 1443.8L518.8 1426.5L519.3 1453.0L519.8 1426.8L520.3 1447.8L520.8 1424.1L521.3 1439.0L521.8 1435.8L522.3 1422.7L522.8 1447.1L523.3 1435.1L523.8 1439.7L524.3 1430.3L524.8 1428.1L525.3 1433.5L525.9 1434.8L526.4 1442.3L526.9 1430.8L527.4 1440.9L527.9 1437.0L528.4 1436.6L528.9 1455.0L529.4 1452.6L529.9 1437.2L530.4 1440.3L530.9 1425.8L531.4 1469.2L531.9 1438.7L532.4 1428.9L532.9 1440.9L533.4 1433.3L533.9 1442.6L534.4 1443.9L534.9 1433.2L535.4 1459.2L535.9 1470.7L536.4 1439.6L536.9 1444.2L537.4 1444.8L537.9 1443.3L538.4 1439.9L538.9 1453.0L539.4 1442.7L539.9 1445.1L540.4 1462.4L540.9 1451.4L541.4 1447.1L541.9 1459.8L542.4 1439.3L542.9 1455.2L543.4 1443.0L543.9 1436.1L544.4 1470.2L544.9 1469.0L545.4 1447.5L545.9 1456.9L546.4 1449.3L546.9 1435.9L547.4 1461.7L547.9 1446.7L548.4 1460.0L548.9 1464.8L549.4 1452.5L549.9 1455.4L550.4 1446.5L550.9 1455.6L551.4 1449.7L551.9 1454.1L552.4 1479.9L552.9 1465.0L553.4 1465.0L553.9 1451.7L554.4 1474.2L554.9 1460.5L555.4 1467.8L555.9 1484.2L556.4 1465.7L556.9 1457.2L557.4 1469.0L557.9 1454.8L558.4 1461.3L558.9 1462.6L559.4 1472.4L559.9 1468.9L560.4 1462.2L560.9 1467.6L561.5 1482.2L562.0 1470.7L562.5 1464.7L563.0 1457.0L563.5 1460.6L564.0 1481.6L564.5 1463.1L565.0 1489.5L565.5 1479.1L566.0 1481.4L566.5 1455.6L567.0 1465.4L567.5 1470.2L568.0 1480.9L568.5 1460.5L569.0 1477.6L569.5 1469.9L570.0 1463.3L570.5 1479.4L571.0 1470.4L571.5 1499.1L572.0 1470.8L572.5 1496.7L573.0 1473.5L573.5 1475.3L574.0 1473.6L574.5 1453.5L575.0 1507.6L575.5 1475.1L576.0 1485.0L576.5 1472.6L577.0 1477.9L577.5 1480.6L578.0 1487.8L578.5 1490.5L579.0 1479.1L579.5 1500.2L580.0 1471.9L580.5 1490.6L581.0 1479.5L581.5 1498.1L582.0 1480.3L582.5 1488.4L583.0 1477.6L583.5 1473.0L584.0 1493.0L584.5 1486.2L585.0 1485.1L585.5 1472.0L586.0 1502.9L586.5 1482.3L587.0 1489.5L587.5 1502.9L588.0 1493.7L588.5 1497.8L589.0 1478.6L589.5 1501.6L590.0 1480.3L590.5 1497.0L591.0 1484.8L591.5 1511.5L592.0 1501.4L592.5 1491.7L593.0 1503.9L593.5 1511.3L594.0 1494.3L594.5 1486.3L595.0 1495.2L595.5 1498.0L596.0 1491.6L596.5 1501.0L597.0 1486.6L597.6 1485.0L598.1 1511.4L598.6 1486.4L599.1 1490.7L599.6 1495.4L600.1 1491.3L600.6 1483.6L601.1 1478.5L601.6 1482.2L602.1 1502.9L602.6 1486.0L603.1 1519.1L603.6 1491.4L604.1 1493.9L604.6 1491.2L605.1 1512.0L605.6 1486.9L606.1 1489.0L606.6 1500.9L607.1 1519.0L607.6 1500.3L608.1 1513.4L608.6 1521.6L609.1 1512.7L609.6 1479.9L610.1 1521.7L610.6 1509.8L611.1 1504.5L611.6 1496.7L612.1 1518.1L612.6 1518.3L613.1 1498.5L613.6 1505.5L614.1 1495.5L614.6 1521.7L615.1 1510.7L615.6 1499.9L616.1 1508.9L616.6 1522.7L617.1 1509.6L617.6 1531.6L618.1 1519.9L618.6 1503.7L619.1 1502.7L619.6 1508.3L620.1 1505.6L620.6 1529.5L621.1 1520.6L621.6 1502.8L622.1 1489.8L622.6 1509.8L623.1 1524.8L623.6 1525.5L624.1 1502.7L624.6 1504.2L625.1 1529.1L625.6 1515.0L626.1 1502.0L626.6 1502.1L627.1 1523.0L627.6 1519.6L628.1 1513.1L628.6 1530.0L629.1 1536.0L629.6 1526.2L630.1 1506.4L630.6 1508.0L631.1 1514.9L631.6 1532.7L632.1 1541.5L632.6 1532.0L633.1 1521.0L633.7 1510.8L634.2 1531.5L634.7 1521.7L635.2 1541.8L635.7 1545.6L636.2 1523.6L636.7 1536.5L637.2 1535.3L637.7 1548.7L638.2 1516.5L638.7 1544.4L639.2 1525.5L639.7 1542.0L640.2 1530.6L640.7 1512.7L641.2 1524.7L641.7 1526.3L642.2 1518.4L642.7 1522.5L643.2 1513.8L643.7 1544.1L644.2 1514.6L644.7 1528.5L645.2 1540.4L645.7 1523.4L646.2 1524.4L646.7 1530.4L647.2 1521.6L647.7 1544.6L648.2 1548.5L648.7 1537.6L649.2 1520.2L649.7 1526.3L650.2 1532.1L650.7 1539.0L651.2 1532.7L651.7 1520.7L652.2 1539.0L652.7 1539.5L653.2 1529.1L653.7 1527.1L654.2 1532.6L654.7 1519.3L655.2 1532.4L655.7 1544.9L656.2 1558.0L656.7 1523.0L657.2 1537.2L657.7 1532.3L658.2 1531.2L658.7 1522.1L659.2 1525.5L659.7 1526.2L660.2 1533.8L660.7 1539.3L661.2 1534.4L661.7 1545.9L662.2 1533.8L662.7 1526.8L663.2 1530.7L663.7 1536.8L664.2 1547.7L664.7 1548.1L665.2 1546.7L665.7 1543.7L666.2 1535.1L666.7 1534.9L667.2 1534.3L667.7 1530.1L668.2 1550.9L668.7 1543.3L669.3 1535.9L669.8 1533.4L670.3 1548.9L670.8 1549.4L671.3 1530.6L671.8 1535.6L672.3 1538.3L672.8 1546.1L673.3 1553.3L673.8 1544.0L674.3 1540.8L674.8 1539.1L675.3 1535.7L675.8 1543.6L676.3 1532.2L676.8 1548.8L677.3 1542.1L677.8 1545.2L678.3 1564.4L678.8 1559.7L679.3 1552.1L679.8 1545.4L680.3 1543.9L680.8 1534.4L681.3 1547.9L681.8 1551.4L682.3 1545.0L682.8 1561.0L683.3 1550.8L683.8 1559.5L684.3 1548.9L684.8 1556.9L685.3 1554.3L685.8 1530.9L686.3 1539.4L686.8 1525.5L687.3 1549.2L687.8 1553.2L688.3 1559.7L688.8 1552.3L689.3 1570.1L689.8 1551.6L690.3 1558.5L690.8 1566.7L691.3 1571.6L691.8 1562.8L692.3 1558.1L692.8 1554.6L693.3 1571.0L693.8 1555.3L694.3 1551.9L694.8 1533.0L695.3 1551.9L695.8 1546.5L696.3 1563.3L696.8 1556.4L697.3 1563.9L697.8 1565.3L698.3 1552.1L698.8 1559.7L699.3 1543.0L699.8 1558.2L700.3 1553.9L700.8 1570.7L701.3 1568.8L701.8 1552.3L702.3 1566.2L702.8 1546.8L703.3 1568.1L703.8 1569.0L704.3 1541.0L704.8 1577.7L705.4 1566.1L705.9 1556.0L706.4 1555.5L706.9 1573.1L707.4 1540.5L707.9 1566.9L708.4 1581.8L708.9 1553.8L709.4 1567.9L709.9 1562.8L710.4 1556.0L710.9 1573.0L711.4 1571.4L711.9 1565.5L712.4 1556.4L712.9 1578.2L713.4 1550.9L713.9 1562.0L714.4 1577.1L714.9 1565.8L715.4 1560.8L715.9 1554.5L716.4 1558.4L716.9 1556.1L717.4 1569.0L717.9 1560.6L718.4 1594.5L718.9 1558.3L719.4 1569.1L719.9 1553.1L720.4 1575.1L720.9 1574.2L721.4 1569.3L721.9 1561.9L722.4 1567.0L722.9 1560.3L723.4 1570.3L723.9 1560.7L724.4 1543.6L724.9 1559.3L725.4 1565.7L725.9 1586.5L726.4 1566.1L726.9 1561.9L727.4 1574.6L727.9 1562.8L728.4 1595.0L728.9 1580.3L729.4 1583.1L729.9 1568.9L730.4 1582.4L730.9 1584.2L731.4 1560.4L731.9 1589.5L732.4 1570.5L732.9 1564.9L733.4 1578.7L733.9 1585.2L734.4 1578.4L734.9 1582.5L735.4 1584.9L735.9 1575.1L736.4 1578.0L736.9 1547.2L737.4 1565.3L737.9 1576.5L738.4 1573.0L738.9 1562.3L739.4 1567.5L739.9 1578.7L740.4 1587.1L740.9 1562.4L741.5 1580.0L742.0 1577.8L742.5 1567.1L743.0 1578.8L743.5 1568.2L744.0 1584.0L744.5 1579.6L745.0 1583.5L745.5 1561.4L746.0 1596.4L746.5 1584.3L747.0 1591.3L747.5 1590.2L748.0 1595.8L748.5 1591.5L749.0 1572.0L749.5 1570.0L750.0 1590.8L750.5 1596.6L751.0 1589.6L751.5 1569.3L752.0 1586.2L752.5 1606.5L753.0 1577.8L753.5 1587.5L754.0 1580.6L754.5 1582.9L755.0 1599.6L755.5 1577.4L756.0 1581.1L756.5 1594.3L757.0 1610.1L757.5 1599.6L758.0 1599.6L758.5 1582.2L759.0 1594.8L759.5 1593.6L760.0 1589.3L760.5 1594.1L761.0 1586.3L761.5 1587.3L762.0 1581.5L762.5 1602.7L763.0 1587.6L763.5 1593.9L764.0 1571.2L764.5 1577.6L765.0 1595.8L765.5 1583.0L766.0 1609.3L766.5 1602.8L767.0 1595.4L767.5 1590.5L768.0 1603.9L768.5 1593.2L769.0 1581.8L769.5 1609.4L770.0 1607.2L770.5 1612.8L771.0 1583.8L771.5 1605.3L772.0 1598.9L772.5 1603.9L773.0 1596.6L773.5 1599.1L774.0 1594.4L774.5 1594.7L775.0 1581.3L775.5 1605.8L776.0 1595.3L776.5 1598.0L777.1 1606.2L777.6 1589.7L778.1 1580.6L778.6 1608.7L779.1 1575.1L779.6 1600.0L780.1 1599.6L780.6 1623.8L781.1 1598.6L781.6 1600.6L782.1 1602.1L782.6 1593.5L783.1 1601.7L783.6 1596.7L784.1 1606.6L784.6 1611.3L785.1 1599.7L785.6 1595.4L786.1 1594.5L786.6 1600.2L787.1 1608.4L787.6 1601.2L788.1 1604.2L788.6 1613.8L789.1 1598.9L789.6 1603.9L790.1 1612.8L790.6 1605.4L791.1 1597.1L791.6 1588.6L792.1 1620.3L792.6 1606.6L793.1 1598.1L793.6 1592.5L794.1 1600.0L794.6 1613.4L795.1 1608.6L795.6 1604.4L796.1 1611.7L796.6 1614.4L797.1 1616.7L797.6 1580.6L798.1 1604.6L798.6 1607.3L799.1 1598.6L799.6 1604.7L800.1 1606.8L800.6 1603.4L801.1 1612.8L801.6 1609.6L802.1 1597.3L802.6 1600.2L803.1 1616.4L803.6 1592.1L804.1 1610.1L804.6 1621.5L805.1 1599.9L805.6 1600.6L806.1 1603.9L806.6 1616.1L807.1 1595.8L807.6 1602.3L808.1 1604.0L808.6 1605.3L809.1 1604.1L809.6 1586.8L810.1 1612.5L810.6 1605.0L811.1 1597.3L811.6 1600.7L812.1 1615.4L812.6 1609.3L813.2 1611.9L813.7 1622.0L814.2 1610.4L814.7 1599.7L815.2 1606.1L815.7 1598.5L816.2 1604.9L816.7 1615.8L817.2 1604.3L817.7 1625.6L818.2 1597.9L818.7 1613.3L819.2 1594.4L819.7 1622.8L820.2 1619.2L820.7 1614.4L821.2 1612.9L821.7 1625.5L822.2 1622.7L822.7 1606.4L823.2 1618.7L823.7 1603.0L824.2 1596.0L824.7 1625.2L825.2 1615.1L825.7 1595.4L826.2 1601.6L826.7 1624.4L827.2 1608.4L827.7 1596.4L828.2 1632.1L828.7 1608.7L829.2 1602.1L829.7 1616.9L830.2 1618.4L830.7 1605.4L831.2 1627.4L831.7 1607.4L832.2 1601.2L832.7 1611.9L833.2 1627.5L833.7 1598.2L834.2 1613.3L834.7 1607.9L835.2 1621.4L835.7 1614.2L836.2 1603.2L836.7 1627.7L837.2 1626.0L837.7 1633.2L838.2 1609.7L838.7 1609.8L839.2 1622.0L839.7 1611.0L840.2 1614.0L840.7 1596.2L841.2 1625.5L841.7 1612.2L842.2 1618.7L842.7 1597.6L843.2 1610.5L843.7 1626.0L844.2 1610.8L844.7 1616.5L845.2 1624.0L845.7 1611.4L846.2 1614.0L846.7 1626.4L847.2 1619.8L847.7 1604.9L848.2 1606.4L848.7 1617.0L849.3 1619.1L849.8 1613.4L850.3 1617.1L850.8 1627.3L851.3 1610.3L851.8 1623.8L852.3 1602.8L852.8 1611.0L853.3 1609.8L853.8 1619.5L854.3 1615.0L854.8 1622.1L855.3 1620.4L855.8 1626.4L856.3 1603.7L856.8 1627.4L857.3 1601.3L857.8 1610.1L858.3 1625.5L858.8 1605.0L859.3 1613.3L859.8 1624.6L860.3 1615.0L860.8 1620.4L861.3 1624.5L861.8 1618.0L862.3 1615.0L862.8 1620.6L863.3 1618.0L863.8 1610.4L864.3 1618.9L864.8 1621.4L865.3 1629.9L865.8 1618.6L866.3 1622.4L866.8 1620.1L867.3 1610.8L867.8 1610.2L868.3 1617.9L868.8 1623.6L869.3 1617.0L869.8 1615.4L870.3 1616.1L870.8 1631.6L871.3 1615.6L871.8 1627.8L872.3 1615.7L872.8 1614.9L873.3 1617.3L873.8 1607.7L874.3 1618.7L874.8 1615.9L875.3 1627.0L875.8 1619.9L876.3 1621.0L876.8 1618.4L877.3 1620.6L877.8 1640.7L878.3 1611.7L878.8 1612.7L879.3 1638.3L879.8 1616.8L880.3 1609.9L880.8 1612.5L881.3 1612.7L881.8 1620.9L882.3 1623.9L882.8 1601.7L883.3 1615.2L883.8 1604.1L884.3 1619.8L884.9 1610.6L885.4 1611.6L885.9 1611.8L886.4 1630.2L886.9 1597.3L887.4 1616.2L887.9 1622.0L888.4 1616.3L888.9 1635.2L889.4 1606.3L889.9 1622.5L890.4 1616.4L890.9 1617.2L891.4 1635.0L891.9 1621.9L892.4 1607.4L892.9 1626.0L893.4 1616.5L893.9 1609.5L894.4 1604.2L894.9 1626.4L895.4 1609.2L895.9 1612.5L896.4 1613.7L896.9 1609.8L897.4 1611.8L897.9 1627.6L898.4 1614.1L898.9 1624.1L899.4 1615.5L899.9 1622.4L900.4 1604.9L900.9 1610.0L901.4 1614.0L901.9 1624.7L902.4 1614.6L902.9 1628.5L903.4 1626.4L903.9 1633.8L904.4 1610.5L904.9 1623.0L905.4 1610.1L905.9 1608.1L906.4 1609.1L906.9 1622.1L907.4 1605.2L907.9 1607.7L908.4 1629.9L908.9 1615.0L909.4 1625.7L909.9 1619.5L910.4 1607.3L910.9 1615.4L911.4 1603.8L911.9 1612.6L912.4 1611.5L912.9 1603.1L913.4 1607.0L913.9 1610.9L914.4 1605.8L914.9 1607.1L915.4 1630.7L915.9 1627.6L916.4 1617.4L916.9 1608.2L917.4 1625.0L917.9 1633.5L918.4 1618.8L918.9 1623.7L919.4 1604.8L919.9 1640.0L920.4 1611.0L921.0 1612.4L921.5 1642.9L922.0 1627.8L922.5 1620.9L923.0 1615.2L923.5 1618.4L924.0 1613.0L924.5 1616.8L925.0 1625.9L925.5 1603.3L926.0 1616.0L926.5 1626.4L927.0 1614.1L927.5 1619.9L928.0 1622.5L928.5 1624.4L929.0 1632.3L929.5 1626.7L930.0 1630.3L930.5 1636.8L931.0 1614.2L931.5 1616.0L932.0 1620.7L932.5 1628.9L933.0 1625.9L933.5 1604.3L934.0 1626.6L934.5 1610.9L935.0 1615.5L935.5 1614.1L936.0 1623.0L936.5 1620.8L937.0 1619.3L937.5 1628.7L938.0 1606.1L938.5 1626.2L939.0 1617.0L939.5 1602.5L940.0 1605.1L940.5 1624.1L941.0 1613.9L941.5 1609.2L942.0 1636.5L942.5 1599.7L943.0 1613.5L943.5 1621.1L944.0 1619.2L944.5 1638.9L945.0 1611.9L945.5 1603.7L946.0 1620.0L946.5 1603.5L947.0 1612.0L947.5 1630.5L948.0 1613.0L948.5 1636.7L949.0 1635.4L949.5 1612.1L950.0 1612.8L950.5 1618.8L951.0 1618.9L951.5 1632.0L952.0 1608.6L952.5 1618.0L953.0 1619.6L953.5 1584.6L954.0 1615.0L954.5 1617.8L955.0 1598.9L955.5 1614.6L956.0 1621.6L956.5 1603.0L957.1 1618.3L957.6 1624.3L958.1 1620.1L958.6 1616.6L959.1 1608.1L959.6 1604.7L960.1 1627.7L960.6 1604.8L961.1 1622.2L961.6 1620.6L962.1 1640.4L962.6 1601.0L963.1 1610.7L963.6 1618.1L964.1 1617.7L964.6 1606.9L965.1 1615.7L965.6 1643.4L966.1 1613.3L966.6 1616.0L967.1 1614.5L967.6 1615.2L968.1 1607.6L968.6 1622.3L969.1 1594.0L969.6 1614.1L970.1 1622.1L970.6 1614.4L971.1 1631.2L971.6 1616.7L972.1 1622.1L972.6 1624.3L973.1 1607.4L973.6 1612.3L974.1 1624.0L974.6 1620.7L975.1 1611.8L975.6 1593.5L976.1 1615.9L976.6 1616.1L977.1 1610.2L977.6 1626.3L978.1 1615.5L978.6 1607.7L979.1 1610.7L979.6 1611.2L980.1 1625.6L980.6 1613.9L981.1 1600.8L981.6 1589.1L982.1 1604.7L982.6 1618.9L983.1 1617.9L983.6 1615.3L984.1 1593.6L984.6 1626.1L985.1 1615.5L985.6 1628.9L986.1 1617.2L986.6 1616.1L987.1 1604.7L987.6 1605.6L988.1 1611.1L988.6 1615.6L989.1 1616.8L989.6 1597.5L990.1 1613.9L990.6 1623.1L991.1 1619.7L991.6 1612.3L992.1 1620.0L992.7 1627.2L993.2 1603.7L993.7 1618.9L994.2 1613.6L994.7 1611.4L995.2 1614.7L995.7 1613.8L996.2 1636.3L996.7 1611.7L997.2 1614.2L997.7 1615.8L998.2 1612.5L998.7 1591.0L999.2 1596.1L999.7 1604.7L1000.2 1596.9L1000.7 1615.4L1001.2 1611.9L1001.7 1606.8L1002.2 1602.7L1002.7 1603.3L1003.2 1593.6L1003.7 1612.0L1004.2 1598.0L1004.7 1616.5L1005.2 1605.3L1005.7 1619.6L1006.2 1598.6L1006.7 1615.3L1007.2 1597.8L1007.7 1628.0L1008.2 1592.9L1008.7 1610.1L1009.2 1605.6L1009.7 1607.0L1010.2 1625.4L1010.7 1615.2L1011.2 1615.3L1011.7 1610.3L1012.2 1624.1L1012.7 1615.4L1013.2 1608.5L1013.7 1598.5L1014.2 1602.2L1014.7 1620.1L1015.2 1600.7L1015.7 1593.8L1016.2 1601.4L1016.7 1611.8L1017.2 1616.9L1017.7 1612.3L1018.2 1592.8L1018.7 1617.6L1019.2 1631.4L1019.7 1599.4L1020.2 1614.0L1020.7 1608.4L1021.2 1611.4L1021.7 1597.1L1022.2 1611.1L1022.7 1614.2L1023.2 1614.7L1023.7 1590.5L1024.2 1592.8L1024.7 1610.3L1025.2 1611.4L1025.7 1607.6L1026.2 1601.1L1026.7 1614.3L1027.2 1591.6L1027.7 1603.5L1028.2 1630.8L1028.8 1615.9L1029.3 1608.6L1029.8 1582.9L1030.3 1590.5L1030.8 1603.5L1031.3 1616.3L1031.8 1606.1L1032.3 1605.0L1032.8 1609.5L1033.3 1604.0L1033.8 1598.5L1034.3 1609.7L1034.8 1615.9L1035.3 1603.6L1035.8 1619.8L1036.3 1609.4L1036.8 1593.8L1037.3 1603.2L1037.8 1616.5L1038.3 1605.5L1038.8 1607.6L1039.3 1603.8L1039.8 1595.2L1040.3 1609.8L1040.8 1616.5L1041.3 1589.7L1041.8 1612.6L1042.3 1598.6L1042.8 1600.3L1043.3 1607.1L1043.8 1598.5L1044.3 1600.5L1044.8 1601.8L1045.3 1596.2L1045.8 1610.0L1046.3 1594.2L1046.8 1611.0L1047.3 1593.4L1047.8 1589.8L1048.3 1610.2L1048.8 1583.5L1049.3 1608.3L1049.8 1602.7L1050.3 1609.9L1050.8 1604.7L1051.3 1601.1L1051.8 1607.5L1052.3 1592.3L1052.8 1609.0L1053.3 1598.3L1053.8 1611.5L1054.3 1610.0L1054.8 1600.1L1055.3 1598.1L1055.8 1604.4L1056.3 1597.6L1056.8 1596.2L1057.3 1606.9L1057.8 1600.0L1058.3 1608.4L1058.8 1612.5L1059.3 1605.6L1059.8 1601.9L1060.3 1588.3L1060.8 1594.5L1061.3 1598.1L1061.8 1619.7L1062.3 1607.7L1062.8 1594.0L1063.3 1593.0L1063.8 1598.4L1064.3 1609.7L1064.9 1616.8L1065.4 1614.0L1065.9 1596.3L1066.4 1593.9L1066.9 1580.4L1067.4 1603.7L1067.9 1594.0L1068.4 1604.4L1068.9 1598.8L1069.4 1595.8L1069.9 1601.6L1070.4 1582.8L1070.9 1606.7L1071.4 1588.5L1071.9 1598.0L1072.4 1600.6L1072.9 1585.8L1073.4 1601.2L1073.9 1592.5L1074.4 1595.3L1074.9 1588.3L1075.4 1606.4L1075.9 1592.2L1076.4 1590.1L1076.9 1600.9L1077.4 1604.2L1077.9 1604.3L1078.4 1594.6L1078.9 1601.6L1079.4 1588.9L1079.9 1595.1L1080.4 1596.3L1080.9 1594.1L1081.4 1593.0L1081.9 1592.5L1082.4 1587.8L1082.9 1582.2L1083.4 1589.0L1083.9 1588.1L1084.4 1578.3L1084.9 1578.1L1085.4 1591.7L1085.9 1602.5L1086.4 1580.9L1086.9 1599.7L1087.4 1599.2L1087.9 1599.5L1088.4 1595.1L1088.9 1614.0L1089.4 1596.4L1089.9 1580.6L1090.4 1566.6L1090.9 1586.5L1091.4 1583.1L1091.9 1582.1L1092.4 1596.1L1092.9 1599.5L1093.4 1586.6L1093.9 1579.2L1094.4 1588.6L1094.9 1586.4L1095.4 1589.8L1095.9 1590.8L1096.4 1594.3L1096.9 1578.7L1097.4 1580.9L1097.9 1590.1L1098.4 1586.1L1098.9 1582.6L1099.4 1577.7L1099.9 1569.6L1100.5 1571.3L1101.0 1587.9L1101.5 1585.4L1102.0 1590.3L1102.5 1580.0L1103.0 1576.8L1103.5 1602.9L1104.0 1586.1L1104.5 1573.2L1105.0 1600.8L1105.5 1572.2L1106.0 1576.0L1106.5 1591.7L1107.0 1596.4L1107.5 1569.9L1108.0 1590.1L1108.5 1598.7L1109.0 1585.7L1109.5 1599.8L1110.0 1596.1L1110.5 1569.3L1111.0 1590.5L1111.5 1587.8L1112.0 1602.3L1112.5 1594.8L1113.0 1576.3L1113.5 1582.3L1114.0 1576.0L1114.5 1576.7L1115.0 1583.9L1115.5 1590.1L1116.0 1607.1L1116.5 1575.3L1117.0 1584.8L1117.5 1560.8L1118.0 1587.0L1118.5 1586.7L1119.0 1590.2L1119.5 1597.3L1120.0 1585.2L1120.5 1582.2L1121.0 1583.1L1121.5 1588.0L1122.0 1592.7L1122.5 1573.9L1123.0 1575.3L1123.5 1591.0L1124.0 1597.1L1124.5 1591.1L1125.0 1591.1L1125.5 1574.4L1126.0 1592.7L1126.5 1580.6L1127.0 1593.9L1127.5 1585.0L1128.0 1558.2L1128.5 1590.1L1129.0 1579.5L1129.5 1588.0L1130.0 1572.2L1130.5 1579.8L1131.0 1583.0L1131.5 1568.9L1132.0 1574.8L1132.5 1576.4L1133.0 1594.2L1133.5 1591.4L1134.0 1568.6L1134.5 1594.1L1135.0 1566.8L1135.5 1567.0L1136.0 1584.7L1136.6 1591.0L1137.1 1594.6L1137.6 1574.8L1138.1 1577.3L1138.6 1590.3L1139.1 1592.9L1139.6 1578.0L1140.1 1588.9L1140.6 1582.9L1141.1 1597.4L1141.6 1578.5L1142.1 1581.1L1142.6 1587.1L1143.1 1593.9L1143.6 1583.1L1144.1 1578.8L1144.6 1578.2L1145.1 1581.0L1145.6 1589.4L1146.1 1575.6L1146.6 1570.7L1147.1 1587.7L1147.6 1594.1L1148.1 1567.5L1148.6 1579.8L1149.1 1600.3L1149.6 1573.6L1150.1 1580.0L1150.6 1588.4L1151.1 1580.8L1151.6 1592.2L1152.1 1590.0L1152.6 1597.7L1153.1 1570.4L1153.6 1586.9L1154.1 1579.8L1154.6 1578.5L1155.1 1607.3L1155.6 1580.3L1156.1 1593.1L1156.6 1570.0L1157.1 1593.8L1157.6 1573.8L1158.1 1565.8L1158.6 1579.3L1159.1 1571.7L1159.6 1568.4L1160.1 1579.8L1160.6 1583.8L1161.1 1595.5L1161.6 1563.3L1162.1 1571.4L1162.6 1574.9L1163.1 1597.9L1163.6 1570.2L1164.1 1584.7L1164.6 1579.3L1165.1 1577.4L1165.6 1569.8L1166.1 1583.7L1166.6 1587.3L1167.1 1574.9L1167.6 1578.0L1168.1 1586.4L1168.6 1559.8L1169.1 1569.2L1169.6 1595.8L1170.1 1602.0L1170.6 1599.0L1171.1 1584.6L1171.6 1576.0L1172.1 1563.4L1172.7 1578.6L1173.2 1586.6L1173.7 1578.9L1174.2 1579.8L1174.7 1589.2L1175.2 1578.7L1175.7 1598.4L1176.2 1583.7L1176.7 1575.7L1177.2 1582.2L1177.7 1574.9L1178.2 1569.5L1178.7 1574.1L1179.2 1573.4L1179.7 1573.5L1180.2 1581.7L1180.7 1570.0L1181.2 1577.1L1181.7 1589.1L1182.2 1570.3L1182.7 1579.7L1183.2 1609.8L1183.7 1562.8L1184.2 1579.0L1184.7 1586.8L1185.2 1571.8L1185.7 1575.5L1186.2 1576.7L1186.7 1562.1L1187.2 1567.9L1187.7 1581.4L1188.2 1585.4L1188.7 1591.0L1189.2 1574.6L1189.7 1577.7L1190.2 1568.2L1190.7 1576.8L1191.2 1571.8L1191.7 1565.7L1192.2 1583.6L1192.7 1588.0L1193.2 1578.8L1193.7 1591.2L1194.2 1580.6L1194.7 1581.5L1195.2 1565.2L1195.7 1582.3L1196.2 1567.5L1196.7 1583.0L1197.2 1579.7L1197.7 1584.0L1198.2 1580.3L1198.7 1585.3L1199.2 1590.3L1199.7 1592.0L1200.2 1571.2L1200.7 1578.3L1201.2 1564.5L1201.7 1565.6L1202.2 1590.0L1202.7 1562.0L1203.2 1584.7L1203.7 1595.9L1204.2 1591.8L1204.7 1586.0L1205.2 1604.3L1205.7 1576.5L1206.2 1584.5L1206.7 1575.0L1207.2 1577.9L1207.7 1578.7L1208.3 1574.4L1208.8 1576.7L1209.3 1595.1L1209.8 1566.5L1210.3 1586.2L1210.8 1581.4L1211.3 1575.0L1211.8 1588.9L1212.3 1587.3L1212.8 1599.7L1213.3 1576.0L1213.8 1576.1L1214.3 1586.7L1214.8 1590.4L1215.3 1608.4L1215.8 1578.8L1216.3 1592.4L1216.8 1588.3L1217.3 1587.2L1217.8 1587.4L1218.3 1582.6L1218.8 1578.4L1219.3 1582.7L1219.8 1594.9L1220.3 1585.0L1220.8 1585.7L1221.3 1593.8L1221.8 1587.2L1222.3 1576.4L1222.8 1577.6L1223.3 1579.9L1223.8 1579.0L1224.3 1603.0L1224.8 1583.1L1225.3 1570.8L1225.8 1588.1L1226.3 1588.2L1226.8 1592.3L1227.3 1582.5L1227.8 1585.7L1228.3 1594.9L1228.8 1584.8L1229.3 1585.6L1229.8 1582.5L1230.3 1582.2L1230.8 1593.2L1231.3 1582.4L1231.8 1586.9L1232.3 1587.5L1232.8 1590.6L1233.3 1586.3L1233.8 1593.1L1234.3 1597.8L1234.8 1577.4L1235.3 1599.5L1235.8 1585.9L1236.3 1581.5L1236.8 1586.6L1237.3 1591.9L1237.8 1590.8L1238.3 1603.7L1238.8 1586.7L1239.3 1598.6L1239.8 1591.4L1240.3 1598.8L1240.8 1582.7L1241.3 1594.6L1241.8 1591.6L1242.3 1578.2L1242.8 1600.4L1243.3 1594.1L1243.8 1612.4L1244.4 1595.4L1244.9 1596.8L1245.4 1598.8L1245.9 1586.9L1246.4 1579.4L1246.9 1586.1L1247.4 1586.9L1247.9 1584.4L1248.4 1599.5L1248.9 1601.5L1249.4 1591.6L1249.9 1578.8L1250.4 1600.1L1250.9 1608.7L1251.4 1594.8L1251.9 1586.3L1252.4 1589.5L1252.9 1591.7L1253.4 1597.1L1253.9 1589.5L1254.4 1600.2L1254.9 1585.6L1255.4 1584.9L1255.9 1589.8L1256.4 1579.1L1256.9 1575.5L1257.4 1605.1L1257.9 1599.8L1258.4 1607.1L1258.9 1614.0L1259.4 1609.1L1259.9 1600.8L1260.4 1594.8L1260.9 1595.9L1261.4 1623.6L1261.9 1601.0L1262.4 1611.4L1262.9 1595.1L1263.4 1608.9L1263.9 1592.6L1264.4 1586.0L1264.9 1584.7L1265.4 1604.1L1265.9 1600.4L1266.4 1605.8L1266.9 1603.3L1267.4 1587.4L1267.9 1620.0L1268.4 1609.3L1268.9 1603.4L1269.4 1608.8L1269.9 1615.0L1270.4 1595.2L1270.9 1605.9L1271.4 1609.5L1271.9 1618.2L1272.4 1607.3L1272.9 1597.8L1273.4 1608.1L1273.9 1596.5L1274.4 1610.1L1274.9 1615.1L1275.4 1607.3L1275.9 1616.4L1276.4 1622.0L1276.9 1603.6L1277.4 1599.8L1277.9 1593.6L1278.4 1626.6L1278.9 1600.8L1279.4 1603.9L1279.9 1608.7L1280.5 1606.0L1281.0 1604.4L1281.5 1606.2L1282.0 1606.0L1282.5 1614.1L1283.0 1596.0L1283.5 1612.2L1284.0 1602.5L1284.5 1616.2L1285.0 1613.5L1285.5 1614.5L1286.0 1611.6L1286.5 1601.5L1287.0 1628.1L1287.5 1603.5L1288.0 1621.4L1288.5 1596.3L1289.0 1624.4L1289.5 1614.5L1290.0 1610.4L1290.5 1631.2L1291.0 1617.0L1291.5 1616.6L1292.0 1614.1L1292.5 1619.6L1293.0 1627.7L1293.5 1635.5L1294.0 1624.0L1294.5 1622.9L1295.0 1623.0L1295.5 1612.4L1296.0 1619.3L1296.5 1636.1L1297.0 1628.7L1297.5 1611.0L1298.0 1615.6L1298.5 1620.5L1299.0 1625.2L1299.5 1612.7L1300.0 1629.8L1300.5 1629.2L1301.0 1613.5L1301.5 1640.3L1302.0 1614.0L1302.5 1628.5L1303.0 1621.0L1303.5 1628.8L1304.0 1642.0L1304.5 1622.2L1305.0 1632.1L1305.5 1627.0L1306.0 1622.9L1306.5 1625.2L1307.0 1625.9L1307.5 1621.7L1308.0 1640.3L1308.5 1609.4L1309.0 1642.1L1309.5 1630.4L1310.0 1629.0L1310.5 1633.8L1311.0 1622.8L1311.5 1634.2L1312.0 1629.6L1312.5 1606.6L1313.0 1634.6L1313.5 1609.9L1314.0 1643.7L1314.5 1626.2L1315.0 1629.8L1315.5 1626.0L1316.1 1653.0L1316.6 1650.9L1317.1 1627.0L1317.6 1625.5L1318.1 1627.3L1318.6 1637.9L1319.1 1629.3L1319.6 1630.5L1320.1 1639.6L1320.6 1617.8L1321.1 1635.2L1321.6 1639.6L1322.1 1632.0L1322.6 1639.1L1323.1 1633.5L1323.6 1644.2L1324.1 1644.0L1324.6 1641.3L1325.1 1627.5L1325.6 1639.3L1326.1 1623.1L1326.6 1624.6L1327.1 1642.6L1327.6 1642.2L1328.1 1627.8L1328.6 1641.1L1329.1 1641.8L1329.6 1623.2L1330.1 1627.8L1330.6 1634.1L1331.1 1655.4L1331.6 1638.3L1332.1 1655.0L1332.6 1638.2L1333.1 1637.2L1333.6 1624.5L1334.1 1652.4L1334.6 1639.5L1335.1 1638.3L1335.6 1637.6L1336.1 1636.8L1336.6 1631.6L1337.1 1637.3L1337.6 1645.6L1338.1 1644.4L1338.6 1632.8L1339.1 1645.5L1339.6 1660.3L1340.1 1657.1L1340.6 1654.1L1341.1 1654.9L1341.6 1641.7L1342.1 1642.6L1342.6 1659.8L1343.1 1653.6L1343.6 1641.1L1344.1 1641.4L1344.6 1646.4L1345.1 1626.7L1345.6 1653.3L1346.1 1636.2L1346.6 1644.1L1347.1 1664.9L1347.6 1656.5L1348.1 1646.4L1348.6 1654.4L1349.1 1651.1L1349.6 1649.3L1350.1 1645.5L1350.6 1651.2L1351.1 1643.1L1351.6 1650.8L1352.2 1658.1L1352.7 1653.1L1353.2 1660.5L1353.7 1643.0L1354.2 1663.1L1354.7 1655.4L1355.2 1654.3L1355.7 1646.3L1356.2 1638.6L1356.7 1661.5L1357.2 1654.6L1357.7 1656.1L1358.2 1658.5L1358.7 1666.9L1359.2 1651.7L1359.7 1669.1L1360.2 1640.1L1360.7 1645.7L1361.2 1643.9L1361.7 1637.2L1362.2 1654.6L1362.7 1660.3L1363.2 1670.5L1363.7 1644.4L1364.2 1647.6L1364.7 1659.1L1365.2 1664.4L1365.7 1652.4L1366.2 1653.0L1366.7 1665.7L1367.2 1643.1L1367.7 1660.8L1368.2 1651.2L1368.7 1672.5L1369.2 1666.2L1369.7 1655.9L1370.2 1666.3L1370.7 1642.3L1371.2 1674.8L1371.7 1662.5L1372.2 1674.2L1372.7 1661.9L1373.2 1647.8L1373.7 1656.6L1374.2 1660.9L1374.7 1648.5L1375.2 1673.1L1375.7 1670.6L1376.2 1673.8L1376.7 1650.7L1377.2 1674.6L1377.7 1648.8L1378.2 1667.0L1378.7 1662.8L1379.2 1664.4L1379.7 1654.0L1380.2 1665.8L1380.7 1664.2L1381.2 1664.4L1381.7 1663.2L1382.2 1670.0L1382.7 1662.3L1383.2 1671.6L1383.7 1658.1L1384.2 1667.2L1384.7 1651.1L1385.2 1675.3L1385.7 1662.2L1386.2 1664.7L1386.7 1648.8L1387.2 1659.7L1387.7 1666.0L1388.3 1666.1L1388.8 1670.8L1389.3 1647.4L1389.8 1646.8L1390.3 1666.1L1390.8 1672.1L1391.3 1662.0L1391.8 1659.7L1392.3 1674.2L1392.8 1670.0L1393.3 1671.3L1393.8 1669.3L1394.3 1663.0L1394.8 1676.3L1395.3 1683.1L1395.8 1650.2L1396.3 1671.0L1396.8 1664.1L1397.3 1672.6L1397.8 1667.5L1398.3 1666.3L1398.8 1670.3L1399.3 1647.7L1399.8 1664.0L1400.3 1672.3L1400.8 1669.1L1401.3 1670.0L1401.8 1672.2L1402.3 1661.2L1402.8 1661.5L1403.3 1671.3L1403.8 1669.0L1404.3 1681.8L1404.8 1667.3L1405.3 1672.8L1405.8 1679.0L1406.3 1675.1L1406.8 1660.0L1407.3 1680.6L1407.8 1680.2L1408.3 1669.6L1408.8 1669.3L1409.3 1674.5L1409.8 1682.4L1410.3 1678.9L1410.8 1657.3L1411.3 1685.8L1411.8 1672.6L1412.3 1666.9L1412.8 1668.7L1413.3 1655.6L1413.8 1671.6L1414.3 1678.7L1414.8 1681.3L1415.3 1677.8L1415.8 1664.2L1416.3 1685.3L1416.8 1674.0L1417.3 1683.2L1417.8 1677.5L1418.3 1660.1L1418.8 1675.0L1419.3 1673.5L1419.8 1681.7L1420.3 1690.6L1420.8 1685.1L1421.3 1682.0L1421.8 1678.7L1422.3 1695.0L1422.8 1680.0L1423.3 1667.0L1423.9 1683.3L1424.4 1673.1L1424.9 1677.7L1425.4 1680.2L1425.9 1682.3L1426.4 1674.2L1426.9 1666.5L1427.4 1695.6L1427.9 1672.3L1428.4 1684.4L1428.9 1678.4L1429.4 1672.6L1429.9 1680.3L1430.4 1665.9L1430.9 1673.3L1431.4 1684.8L1431.9 1675.4L1432.4 1694.9L1432.9 1681.0L1433.4 1687.8L1433.9 1690.3L1434.4 1675.2L1434.9 1682.0L1435.4 1688.1L1435.9 1681.4L1436.4 1685.3L1436.9 1685.9L1437.4 1698.0L1437.9 1689.5L1438.4 1681.1L1438.9 1682.5L1439.4 1685.3L1439.9 1695.6L1440.4 1692.5L1440.9 1706.4L1441.4 1695.3L1441.9 1676.9L1442.4 1673.3L1442.9 1686.8L1443.4 1687.8L1443.9 1699.6L1444.4 1686.3L1444.9 1692.8L1445.4 1671.2L1445.9 1684.6L1446.4 1689.7L1446.9 1701.8L1447.4 1677.5L1447.9 1688.9L1448.4 1672.8L1448.9 1684.6L1449.4 1691.3L1449.9 1684.3L1450.4 1684.0L1450.9 1695.2L1451.4 1679.8L1451.9 1675.3L1452.4 1696.7L1452.9 1710.5L1453.4 1685.6L1453.9 1690.8L1454.4 1691.8L1454.9 1699.6L1455.4 1680.0L1455.9 1709.6L1456.4 1682.7L1456.9 1696.9L1457.4 1710.3L1457.9 1700.1L1458.4 1694.0L1458.9 1677.7L1459.4 1684.6L1460.0 1695.5L1460.5 1694.1L1461.0 1683.8L1461.5 1688.2L1462.0 1676.9L1462.5 1700.5L1463.0 1691.8L1463.5 1699.8L1464.0 1694.4L1464.5 1707.7L1465.0 1695.7L1465.5 1707.7L1466.0 1693.5L1466.5 1684.6L1467.0 1694.6L1467.5 1695.5L1468.0 1698.2L1468.5 1708.0L1469.0 1703.0L1469.5 1700.9L1470.0 1706.0L1470.5 1689.2L1471.0 1712.9L1471.5 1706.7L1472.0 1705.7L1472.5 1701.1L1473.0 1707.8L1473.5 1710.3L1474.0 1709.3L1474.5 1704.9L1475.0 1710.9L1475.5 1691.2L1476.0 1699.9L1476.5 1690.2L1477.0 1704.8L1477.5 1695.6L1478.0 1701.0L1478.5 1699.0L1479.0 1688.2L1479.5 1695.1L1480.0 1698.9L1480.5 1702.3L1481.0 1715.3L1481.5 1703.2L1482.0 1706.8L1482.5 1687.5L1483.0 1706.0L1483.5 1700.8L1484.0 1703.2L1484.5 1707.3L1485.0 1694.4L1485.5 1711.1L1486.0 1698.2L1486.5 1717.8L1487.0 1707.6L1487.5 1690.0L1488.0 1704.9L1488.5 1701.6L1489.0 1701.3L1489.5 1703.4L1490.0 1724.5L1490.5 1716.2L1491.0 1697.2L1491.5 1703.3L1492.0 1715.6L1492.5 1715.3L1493.0 1695.2L1493.5 1708.9L1494.0 1707.0L1494.5 1708.9L1495.0 1711.9L1495.5 1703.4L1496.1 1701.9L1496.6 1707.9L1497.1 1706.6L1497.6 1712.7L1498.1 1696.2L1498.6 1717.9L1499.1 1704.5L1499.6 1701.5L1500.1 1698.2L1500.6 1706.8L1501.1 1703.3L1501.6 1708.9L1502.1 1713.9L1502.6 1706.7L1503.1 1699.8L1503.6 1702.5L1504.1 1717.3L1504.6 1707.7L1505.1 1698.3L1505.6 1705.4L1506.1 1697.2L1506.6 1707.9L1507.1 1709.8L1507.6 1734.3L1508.1 1698.8L1508.6 1721.8L1509.1 1712.7L1509.6 1716.8L1510.1 1715.2L1510.6 1703.3L1511.1 1722.1L1511.6 1707.4L1512.1 1719.5L1512.6 1710.3L1513.1 1707.0L1513.6 1711.9L1514.1 1712.8L1514.6 1711.8L1515.1 1712.2L1515.6 1706.2L1516.1 1708.0L1516.6 1714.3L1517.1 1694.2L1517.6 1716.6L1518.1 1697.7L1518.6 1713.0L1519.1 1701.7L1519.6 1703.7L1520.1 1714.4L1520.6 1705.9L1521.1 1696.5L1521.6 1724.2L1522.1 1722.2L1522.6 1718.7L1523.1 1698.8L1523.6 1708.8L1524.1 1718.0L1524.6 1714.3L1525.1 1710.9L1525.6 1719.4L1526.1 1715.2L1526.6 1712.4L1527.1 1709.7L1527.6 1706.2L1528.1 1717.3L1528.6 1715.2L1529.1 1723.4L1529.6 1714.9L1530.1 1713.2L1530.6 1714.7L1531.1 1710.9L1531.7 1722.5L1532.2 1706.1L1532.7 1713.5L1533.2 1705.8L1533.7 1722.1L1534.2 1716.5L1534.7 1714.3L1535.2 1720.1L1535.7 1707.3L1536.2 1715.6L1536.7 1726.1L1537.2 1708.5L1537.7 1720.6L1538.2 1713.8L1538.7 1710.0L1539.2 1724.0L1539.7 1706.1L1540.2 1710.6L1540.7 1728.1L1541.2 1707.9L1541.7 1723.1L1542.2 1722.6L1542.7 1704.9L1543.2 1727.6L1543.7 1736.6L1544.2 1716.2L1544.7 1719.2L1545.2 1724.6L1545.7 1710.4L1546.2 1729.3L1546.7 1725.3L1547.2 1712.4L1547.7 1723.5L1548.2 1725.6L1548.7 1721.4L1549.2 1727.9L1549.7 1728.4L1550.2 1719.9L1550.7 1722.9L1551.2 1720.5L1551.7 1725.7L1552.2 1718.0L1552.7 1716.6L1553.2 1714.1L1553.7 1724.4L1554.2 1725.0L1554.7 1729.0L1555.2 1718.3L1555.7 1713.9L1556.2 1713.8L1556.7 1715.0L1557.2 1712.2L1557.7 1708.1L1558.2 1719.3L1558.7 1716.4L1559.2 1726.7L1559.7 1717.9L1560.2 1714.6L1560.7 1725.6L1561.2 1706.7L1561.7 1717.3L1562.2 1715.5L1562.7 1719.4L1563.2 1707.1L1563.7 1719.9L1564.2 1715.0L1564.7 1719.8L1565.2 1724.8L1565.7 1722.8L1566.2 1725.9L1566.7 1724.5L1567.2 1716.1L1567.8 1727.9L1568.3 1724.6L1568.8 1716.8L1569.3 1714.0L1569.8 1722.3L1570.3 1725.1L1570.8 1732.3L1571.3 1718.5L1571.8 1728.9L1572.3 1727.5L1572.8 1718.3L1573.3 1727.3L1573.8 1720.0L1574.3 1720.3L1574.8 1729.0L1575.3 1725.2L1575.8 1715.3L1576.3 1721.8L1576.8 1722.9L1577.3 1734.2L1577.8 1725.5L1578.3 1715.9L1578.8 1727.0L1579.3 1722.3L1579.8 1718.3L1580.3 1708.2L1580.8 1737.5L1581.3 1718.0L1581.8 1717.4L1582.3 1725.2L1582.8 1711.6L1583.3 1734.9L1583.8 1736.6L1584.3 1727.2L1584.8 1721.3L1585.3 1734.0L1585.8 1726.6L1586.3 1730.4L1586.8 1712.5L1587.3 1730.9L1587.8 1717.1L1588.3 1742.0L1588.8 1727.8L1589.3 1727.2L1589.8 1736.9L1590.3 1729.8L1590.8 1725.3L1591.3 1729.8L1591.8 1731.6L1592.3 1728.8L1592.8 1725.1L1593.3 1724.6L1593.8 1732.7L1594.3 1721.8L1594.8 1729.4L1595.3 1711.0L1595.8 1729.0L1596.3 1727.3L1596.8 1736.6L1597.3 1718.3L1597.8 1730.8L1598.3 1726.8L1598.8 1722.6L1599.3 1732.2L1599.8 1727.9L1600.3 1732.7L1600.8 1735.5L1601.3 1739.1L1601.8 1744.5L1602.3 1737.8L1602.8 1744.2L1603.3 1725.2L1603.9 1738.8L1604.4 1711.5L1604.9 1732.4L1605.4 1736.1L1605.9 1720.5L1606.4 1729.5L1606.9 1732.8L1607.4 1733.0L1607.9 1721.1L1608.4 1737.0L1608.9 1740.1L1609.4 1732.9L1609.9 1729.4L1610.4 1747.1L1610.9 1741.7L1611.4 1738.6L1611.9 1735.9L1612.4 1733.0L1612.9 1746.3L1613.4 1735.9L1613.9 1746.4L1614.4 1727.6L1614.9 1735.4L1615.4 1727.7L1615.9 1723.4L1616.4 1731.6L1616.9 1732.7L1617.4 1738.3L1617.9 1737.5L1618.4 1729.5L1618.9 1727.1L1619.4 1720.7L1619.9 1739.0L1620.4 1740.8L1620.9 1720.1L1621.4 1733.5L1621.9 1741.1L1622.4 1726.8L1622.9 1735.5L1623.4 1737.6L1623.9 1743.4L1624.4 1728.4L1624.9 1728.2L1625.4 1722.9L1625.9 1733.6L1626.4 1737.3L1626.9 1733.7L1627.4 1733.2L1627.9 1737.3L1628.4 1744.6L1628.9 1742.8L1629.4 1736.1L1629.9 1738.2L1630.4 1723.5L1630.9 1734.4L1631.4 1736.8L1631.9 1740.1L1632.4 1731.3L1632.9 1736.9L1633.4 1728.9L1633.9 1735.0L1634.4 1728.0L1634.9 1736.8L1635.4 1731.2L1635.9 1727.2L1636.4 1739.2L1636.9 1726.0L1637.4 1736.7L1637.9 1721.1L1638.4 1725.8L1638.9 1728.6L1639.5 1729.6L1640.0 1724.0L1640.5 1739.9L1641.0 1729.8L1641.5 1737.0L1642.0 1734.2L1642.5 1732.8L1643.0 1729.0L1643.5 1741.7L1644.0 1744.1L1644.5 1747.3L1645.0 1733.0L1645.5 1740.6L1646.0 1732.8L1646.5 1730.1L1647.0 1729.2L1647.5 1751.4L1648.0 1736.5L1648.5 1736.9L1649.0 1745.0L1649.5 1749.3L1650.0 1735.5L1650.5 1722.7L1651.0 1747.3L1651.5 1740.0L1652.0 1735.4L1652.5 1756.5L1653.0 1726.9L1653.5 1745.1L1654.0 1731.6L1654.5 1719.4L1655.0 1737.5L1655.5 1746.8L1656.0 1739.6L1656.5 1742.9L1657.0 1735.0L1657.5 1746.5L1658.0 1732.0L1658.5 1744.7L1659.0 1717.2L1659.5 1750.2L1660.0 1734.0L1660.5 1750.2L1661.0 1731.7L1661.5 1740.3L1662.0 1754.4L1662.5 1747.5L1663.0 1745.4L1663.5 1750.4L1664.0 1740.8L1664.5 1748.7L1665.0 1741.8L1665.5 1737.7L1666.0 1741.2L1666.5 1744.1L1667.0 1744.2L1667.5 1738.0L1668.0 1745.2L1668.5 1742.2L1669.0 1757.9L1669.5 1748.5L1670.0 1739.3L1670.5 1743.2L1671.0 1741.4L1671.5 1741.5L1672.0 1732.3L1672.5 1746.8L1673.0 1754.6L1673.5 1734.1L1674.0 1741.3L1674.5 1748.4L1675.0 1752.0L1675.6 1757.0L1676.1 1749.2L1676.6 1744.6L1677.1 1734.2L1677.6 1746.2L1678.1 1745.3L1678.6 1748.9L1679.1 1753.0L1679.6 1741.3L1680.1 1742.5L1680.6 1745.4L1681.1 1738.2L1681.6 1754.6L1682.1 1744.3L1682.6 1746.8L1683.1 1739.8L1683.6 1750.2L1684.1 1747.6L1684.6 1748.1L1685.1 1743.4L1685.6 1747.3L1686.1 1747.9L1686.6 1752.6L1687.1 1751.3L1687.6 1741.8L1688.1 1750.8L1688.6 1738.4L1689.1 1732.5L1689.6 1735.3L1690.1 1741.8L1690.6 1742.4L1691.1 1740.9L1691.6 1745.4L1692.1 1746.8L1692.6 1746.4L1693.1 1751.6L1693.6 1749.4L1694.1 1734.0L1694.6 1754.9L1695.1 1754.3L1695.6 1759.2L1696.1 1741.3L1696.6 1733.1L1697.1 1738.3L1697.6 1748.2L1698.1 1740.5L1698.6 1743.2L1699.1 1741.5L1699.6 1753.0L1700.1 1740.1L1700.6 1751.5L1701.1 1744.0L1701.6 1741.7L1702.1 1740.4L1702.6 1734.0L1703.1 1736.1L1703.6 1747.6L1704.1 1730.9L1704.6 1757.8L1705.1 1751.0L1705.6 1745.2L1706.1 1742.6L1706.6 1746.6L1707.1 1747.0L1707.6 1735.9L1708.1 1758.8L1708.6 1748.5L1709.1 1752.3L1709.6 1747.7L1710.1 1751.0L1710.6 1744.0L1711.1 1739.3L1711.7 1736.0L1712.2 1762.5L1712.7 1751.0L1713.2 1739.2L1713.7 1747.2L1714.2 1749.6L1714.7 1748.3L1715.2 1741.1L1715.7 1748.6L1716.2 1746.4L1716.7 1749.4L1717.2 1747.4L1717.7 1745.8L1718.2 1734.3L1718.7 1743.2L1719.2 1746.5L1719.7 1740.0L1720.2 1758.7L1720.7 1750.5L1721.2 1747.3L1721.7 1756.1L1722.2 1749.6L1722.7 1750.4L1723.2 1751.7L1723.7 1752.6L1724.2 1748.2L1724.7 1741.9L1725.2 1751.6L1725.7 1746.5L1726.2 1745.4L1726.7 1752.5L1727.2 1750.1L1727.7 1742.1L1728.2 1758.9L1728.7 1748.5L1729.2 1749.0L1729.7 1753.0L1730.2 1764.2L1730.7 1744.5L1731.2 1733.0L1731.7 1750.9L1732.2 1743.7L1732.7 1747.7L1733.2 1747.9L1733.7 1751.4L1734.2 1747.3L1734.7 1756.5L1735.2 1750.4L1735.7 1749.5L1736.2 1749.4L1736.7 1755.8L1737.2 1744.8L1737.7 1760.6L1738.2 1759.1L1738.7 1749.3L1739.2 1762.6L1739.7 1735.9L1740.2 1759.5L1740.7 1754.1L1741.2 1741.8L1741.7 1759.7L1742.2 1740.4L1742.7 1741.7L1743.2 1743.2L1743.7 1750.8L1744.2 1741.1L1744.7 1751.7L1745.2 1744.8L1745.7 1757.4L1746.2 1744.7L1746.7 1745.9L1747.3 1746.8L1747.8 1745.1L1748.3 1758.2L1748.8 1744.7L1749.3 1752.7L1749.8 1750.9L1750.3 1748.0L1750.8 1755.7L1751.3 1745.9L1751.8 1753.2L1752.3 1747.0L1752.8 1751.7L1753.3 1757.7L1753.8 1745.8L1754.3 1752.3L1754.8 1748.7L1755.3 1755.5L1755.8 1762.9L1756.3 1746.8L1756.8 1766.5L1757.3 1757.6L1757.8 1765.2L1758.3 1750.6L1758.8 1766.9L1759.3 1748.3L1759.8 1736.5L1760.3 1759.5L1760.8 1746.0L1761.3 1740.2L1761.8 1761.7L1762.3 1752.9L1762.8 1757.7L1763.3 1753.2L1763.8 1755.6L1764.3 1740.4L1764.8 1751.9L1765.3 1736.7L1765.8 1738.1L1766.3 1744.8L1766.8 1755.8L1767.3 1756.4L1767.8 1758.0L1768.3 1748.4L1768.8 1752.8L1769.3 1752.3L1769.8 1752.0L1770.3 1740.2L1770.8 1754.4L1771.3 1755.6L1771.8 1751.1L1772.3 1751.2L1772.8 1745.1L1773.3 1744.4L1773.8 1759.5L1774.3 1750.5L1774.8 1756.7L1775.3 1750.4L1775.8 1756.4L1776.3 1760.0L1776.8 1756.0L1777.3 1751.6L1777.8 1761.7L1778.3 1751.9L1778.8 1755.0L1779.3 1756.8L1779.8 1751.9L1780.3 1750.0L1780.8 1756.4L1781.3 1776.1L1781.8 1760.9L1782.3 1747.8L1782.8 1764.3L1783.4 1753.5L1783.9 1767.6L1784.4 1741.4L1784.9 1761.7L1785.4 1751.4L1785.9 1759.6L1786.4 1754.8L1786.9 1747.9L1787.4 1756.2L1787.9 1762.9L1788.4 1746.3L1788.9 1757.3L1789.4 1746.7L1789.9 1761.4L1790.4 1758.6L1790.9 1751.7L1791.4 1750.3L1791.9 1752.0L1792.4 1761.9L1792.9 1753.2L1793.4 1766.6L1793.9 1750.9L1794.4 1755.7L1794.9 1751.3L1795.4 1759.8L1795.9 1757.9L1796.4 1752.9L1796.9 1766.0L1797.4 1760.3L1797.9 1750.9L1798.4 1752.8L1798.9 1759.5L1799.4 1761.3L1799.9 1764.9L1800.4 1759.2L1800.9 1752.7L1801.4 1756.3L1801.9 1765.1L1802.4 1763.2L1802.9 1753.4L1803.4 1773.3L1803.9 1747.4L1804.4 1777.6L1804.9 1758.2L1805.4 1763.0L1805.9 1763.5L1806.4 1763.4L1806.9 1757.0L1807.4 1760.0L1807.9 1761.1L1808.4 1748.1L1808.9 1756.5L1809.4 1759.6L1809.9 1769.1L1810.4 1760.6L1810.9 1759.3L1811.4 1755.6L1811.9 1759.1L1812.4 1759.8L1812.9 1762.9L1813.4 1753.9L1813.9 1770.9L1814.4 1758.9L1814.9 1751.2L1815.4 1778.1L1815.9 1751.0L1816.4 1756.8L1816.9 1757.7L1817.4 1765.7L1817.9 1765.4L1818.4 1766.6L1818.9 1737.4L1819.5 1766.4L1820.0 1745.4L1820.5 1761.8L1821.0 1767.0L1821.5 1756.2L1822.0 1762.3L1822.5 1766.5L1823.0 1763.6L1823.5 1756.0L1824.0 1762.9L1824.5 1765.0L1825.0 1760.1L1825.5 1758.0L1826.0 1769.9L1826.5 1752.4L1827.0 1768.4L1827.5 1762.0L1828.0 1754.5L1828.5 1757.8L1829.0 1762.9L1829.5 1763.6L1830.0 1760.8L1830.5 1753.2L1831.0 1761.2L1831.5 1753.3L1832.0 1762.0L1832.5 1747.3L1833.0 1759.7L1833.5 1752.7L1834.0 1769.5L1834.5 1761.7L1835.0 1757.0L1835.5 1773.8L1836.0 1766.2L1836.5 1769.1L1837.0 1758.4L1837.5 1767.8L1838.0 1761.4L1838.5 1763.4L1839.0 1763.3L1839.5 1773.7L1840.0 1758.7L1840.5 1775.5L1841.0 1755.7L1841.5 1762.5L1842.0 1769.0L1842.5 1764.7L1843.0 1775.0L1843.5 1767.3L1844.0 1763.4L1844.5 1748.7L1845.0 1773.0L1845.5 1764.7L1846.0 1770.1L1846.5 1760.8L1847.0 1754.6L1847.5 1770.9L1848.0 1762.9L1848.5 1756.9L1849.0 1766.8L1849.5 1765.7L1850.0 1766.7L1850.5 1764.1L1851.0 1762.8L1851.5 1769.2L1852.0 1766.2L1852.5 1771.6L1853.0 1763.4L1853.5 1763.8L1854.0 1757.8L1854.5 1765.9L1855.1 1766.3L1855.6 1774.5L1856.1 1760.1L1856.6 1764.1L1857.1 1768.4L1857.6 1762.9L1858.1 1757.9L1858.6 1761.3L1859.1 1761.9L1859.6 1760.6L1860.1 1771.8L1860.6 1766.7L1861.1 1763.2L1861.6 1775.0L1862.1 1768.0L1862.6 1757.5L1863.1 1773.2L1863.6 1768.8L1864.1 1766.8L1864.6 1760.1L1865.1 1774.1L1865.6 1761.8L1866.1 1757.0L1866.6 1765.4L1867.1 1773.2L1867.6 1756.2L1868.1 1762.8L1868.6 1763.2L1869.1 1757.5L1869.6 1763.3L1870.1 1768.5L1870.6 1777.2L1871.1 1756.0L1871.6 1767.2L1872.1 1768.6L1872.6 1763.5L1873.1 1761.2L1873.6 1773.9L1874.1 1767.7L1874.6 1771.9L1875.1 1774.7L1875.6 1771.7L1876.1 1771.5L1876.6 1769.3L1877.1 1777.2L1877.6 1773.8L1878.1 1763.2L1878.6 1777.8L1879.1 1769.7L1879.6 1777.3L1880.1 1772.8L1880.6 1768.4L1881.1 1764.5L1881.6 1763.7L1882.1 1775.4L1882.6 1761.1L1883.1 1777.7L1883.6 1761.8L1884.1 1778.3L1884.6 1775.6L1885.1 1765.9L1885.6 1771.3L1886.1 1764.3L1886.6 1768.1L1887.1 1768.8L1887.6 1763.0L1888.1 1772.0L1888.6 1772.6L1889.1 1767.7L1889.6 1769.3L1890.1 1767.9L1890.6 1766.6L1891.2 1763.9L1891.7 1774.6L1892.2 1781.1L1892.7 1769.9L1893.2 1766.3L1893.7 1768.9L1894.2 1778.3L1894.7 1781.7L1895.2 1781.6L1895.7 1768.9L1896.2 1775.4L1896.7 1764.5L1897.2 1758.8L1897.7 1766.2L1898.2 1769.2L1898.7 1770.4L1899.2 1768.4L1899.7 1758.7L1900.2 1773.6L1900.7 1779.4L1901.2 1768.2L1901.7 1763.5L1902.2 1778.9L1902.7 1780.2L1903.2 1783.2L1903.7 1773.1L1904.2 1781.1L1904.7 1762.7L1905.2 1779.4L1905.7 1764.6L1906.2 1770.7L1906.7 1785.6L1907.2 1771.6L1907.7 1762.4L1908.2 1767.9L1908.7 1775.8L1909.2 1774.1L1909.7 1772.5L1910.2 1772.3L1910.7 1774.0L1911.2 1778.9L1911.7 1780.2L1912.2 1786.0L1912.7 1773.5L1913.2 1774.8L1913.7 1780.6L1914.2 1766.4L1914.7 1778.3L1915.2 1765.5L1915.7 1776.4L1916.2 1778.0L1916.7 1771.6L1917.2 1781.3L1917.7 1766.4L1918.2 1764.0L1918.7 1775.8L1919.2 1772.1L1919.7 1781.2L1920.2 1772.0L1920.7 1767.5L1921.2 1777.9L1921.7 1772.7L1922.2 1773.3L1922.7 1776.8L1923.2 1764.8L1923.7 1760.6L1924.2 1781.6L1924.7 1771.4L1925.2 1788.5L1925.7 1775.5L1926.2 1774.0L1926.7 1777.3L1927.3 1774.9L1927.8 1773.6L1928.3 1766.7L1928.8 1776.4L1929.3 1781.3L1929.8 1773.9L1930.3 1763.3L1930.8 1779.1L1931.3 1767.0L1931.8 1773.7L1932.3 1784.5L1932.8 1776.9L1933.3 1779.8L1933.8 1772.5L1934.3 1785.9L1934.8 1775.1L1935.3 1776.5L1935.8 1791.6L1936.3 1778.2L1936.8 1781.5L1937.3 1770.4L1937.8 1773.5L1938.3 1771.9L1938.8 1776.8L1939.3 1783.9L1939.8 1770.2L1940.3 1772.9L1940.8 1777.8L1941.3 1777.4L1941.8 1772.0L1942.3 1772.7L1942.8 1778.2L1943.3 1780.0L1943.8 1771.1L1944.3 1777.6L1944.8 1781.2L1945.3 1778.1L1945.8 1780.7L1946.3 1776.5L1946.8 1781.0L1947.3 1778.6L1947.8 1775.3L1948.3 1781.1L1948.8 1782.2L1949.3 1777.4L1949.8 1784.5L1950.3 1780.7L1950.8 1780.8L1951.3 1778.0L1951.8 1777.9L1952.3 1780.3L1952.8 1770.1L1953.3 1785.1L1953.8 1780.9L1954.3 1771.1L1954.8 1782.0L1955.3 1780.3L1955.8 1785.4L1956.3 1778.4L1956.8 1771.1L1957.3 1781.2L1957.8 1785.3L1958.3 1781.2L1958.8 1789.6L1959.3 1785.1L1959.8 1765.8L1960.3 1788.8L1960.8 1789.3L1961.3 1782.2L1961.8 1787.0L1962.3 1782.1L1962.9 1768.8L1963.4 1774.6L1963.9 1786.9L1964.4 1774.4L1964.9 1775.0L1965.4 1773.8L1965.9 1784.2L1966.4 1779.4L1966.9 1783.8L1967.4 1778.5L1967.9 1779.9L1968.4 1773.6L1968.9 1777.9L1969.4 1783.1L1969.9 1795.8L1970.4 1779.3L1970.9 1778.0L1971.4 1776.0L1971.9 1781.1L1972.4 1780.6L1972.9 1782.1L1973.4 1783.3L1973.9 1792.4L1974.4 1786.2L1974.9 1784.4L1975.4 1792.5L1975.9 1783.6L1976.4 1788.9L1976.9 1778.9L1977.4 1781.1L1977.9 1793.0L1978.4 1795.7L1978.9 1779.3L1979.4 1776.2L1979.9 1778.2L1980.4 1794.2L1980.9 1778.0L1981.4 1784.6L1981.9 1777.0L1982.4 1782.3L1982.9 1785.9L1983.4 1784.2L1983.9 1778.9L1984.4 1780.9L1984.9 1792.7L1985.4 1785.1L1985.9 1780.2L1986.4 1782.3L1986.9 1784.2L1987.4 1783.8L1987.9 1792.7L1988.4 1791.9L1988.9 1784.7L1989.4 1785.2L1989.9 1783.1L1990.4 1789.6L1990.9 1789.2L1991.4 1790.2L1991.9 1785.2L1992.4 1784.2L1992.9 1780.3L1993.4 1780.2L1993.9 1780.9L1994.4 1780.8L1994.9 1776.1L1995.4 1777.0L1995.9 1785.6L1996.4 1793.8L1996.9 1787.6L1997.4 1784.3L1997.9 1784.7L1998.4 1789.2L1999.0 1779.5L1999.5 1794.9L2000.0 1785.3L2000.5 1786.5L2001.0 1777.7L2001.5 1782.8L2002.0 1789.7L2002.5 1794.6L2003.0 1790.8L2003.5 1781.0L2004.0 1788.1L2004.5 1782.8L2005.0 1783.4L2005.5 1786.8L2006.0 1779.2L2006.5 1790.1L2007.0 1784.9L2007.5 1780.7L2008.0 1785.6L2008.5 1785.3L2009.0 1790.6L2009.5 1792.5L2010.0 1785.8L2010.5 1785.7L2011.0 1790.8L2011.5 1789.6L2012.0 1788.1L2012.5 1784.8L2013.0 1778.7L2013.5 1785.1L2014.0 1787.2L2014.5 1775.1L2015.0 1797.5L2015.5 1784.7L2016.0 1789.3L2016.5 1785.5L2017.0 1776.4L2017.5 1794.0L2018.0 1793.3L2018.5 1786.6L2019.0 1779.3L2019.5 1788.8L2020.0 1786.7L2020.5 1786.8L2021.0 1793.6L2021.5 1786.5L2022.0 1790.4L2022.5 1788.5L2023.0 1786.8L2023.5 1797.6L2024.0 1789.0L2024.5 1790.3L2025.0 1789.9L2025.5 1791.8L2026.0 1785.6L2026.5 1776.8L2027.0 1789.3L2027.5 1780.3L2028.0 1790.1L2028.5 1787.6L2029.0 1782.9L2029.5 1790.9L2030.0 1789.8L2030.5 1795.6L2031.0 1779.4L2031.5 1798.3L2032.0 1787.9L2032.5 1790.5L2033.0 1788.5L2033.5 1795.2L2034.0 1788.9L2034.5 1786.5L2035.1 1793.7L2035.6 1794.3L2036.1 1785.5L2036.6 1786.5L2037.1 1787.4L2037.6 1784.2L2038.1 1789.3L2038.6 1792.4L2039.1 1792.8L2039.6 1785.4L2040.1 1796.2L2040.6 1791.0L2041.1 1798.9L2041.6 1792.7L2042.1 1782.7L2042.6 1787.6L2043.1 1792.3L2043.6 1797.7L2044.1 1797.5L2044.6 1797.1L2045.1 1790.3L2045.6 1795.9L2046.1 1787.1L2046.6 1797.8L2047.1 1778.7L2047.6 1789.8L2048.1 1787.2L2048.6 1788.5L2049.1 1794.9L2049.6 1795.4L2050.1 1796.5L2050.6 1794.3L2051.1 1778.7L2051.6 1790.8L2052.1 1788.0L2052.6 1796.8L2053.1 1794.0L2053.6 1794.3L2054.1 1803.9L2054.6 1807.6L2055.1 1795.7L2055.6 1797.2L2056.1 1800.9L2056.6 1785.7L2057.1 1784.2L2057.6 1800.9L2058.1 1785.5L2058.6 1790.8L2059.1 1799.1L2059.6 1801.8L2060.1 1793.6L2060.6 1800.1L2061.1 1791.6L2061.6 1787.1L2062.1 1790.3L2062.6 1776.7L2063.1 1788.0L2063.6 1786.8L2064.1 1788.7L2064.6 1790.9L2065.1 1792.2L2065.6 1790.8L2066.1 1798.4L2066.6 1782.1L2067.1 1797.8L2067.6 1783.3L2068.1 1791.2L2068.6 1787.5L2069.1 1799.9L2069.6 1799.3L2070.1 1784.4L2070.7 1790.9L2071.2 1798.6L2071.7 1800.0L2072.2 1798.5L2072.7 1797.6L2073.2 1788.1L2073.7 1783.4L2074.2 1789.7L2074.7 1788.1L2075.2 1789.9L2075.7 1798.5L2076.2 1792.8L2076.7 1790.9L2077.2 1788.6L2077.7 1796.8L2078.2 1790.4L2078.7 1783.8L2079.2 1781.6L2079.7 1788.7L2080.2 1801.8L2080.7 1796.6L2081.2 1790.1L2081.7 1799.0L2082.2 1797.0L2082.7 1790.1L2083.2 1803.7L2083.7 1786.0L2084.2 1794.3L2084.7 1795.8L2085.2 1796.5L2085.7 1799.0L2086.2 1785.6L2086.7 1790.4L2087.2 1795.9L2087.7 1788.9L2088.2 1792.9L2088.7 1796.6L2089.2 1799.0L2089.7 1788.7L2090.2 1799.3L2090.7 1798.4L2091.2 1802.5L2091.7 1796.7L2092.2 1805.8L2092.7 1800.9L2093.2 1794.4L2093.7 1792.4L2094.2 1782.2L2094.7 1797.3L2095.2 1799.6L2095.7 1800.0L2096.2 1790.8L2096.7 1795.9L2097.2 1801.6L2097.7 1794.1L2098.2 1796.3L2098.7 1796.1L2099.2 1798.6L2099.7 1789.5L2100.2 1797.2L2100.7 1793.6L2101.2 1797.2L2101.7 1786.9L2102.2 1799.4L2102.7 1792.8L2103.2 1806.5L2103.7 1788.6L2104.2 1804.7L2104.7 1801.7L2105.2 1798.4L2105.7 1793.8L2106.2 1800.6L2106.8 1792.4L2107.3 1794.4L2107.8 1792.1L2108.3 1805.2L2108.8 1801.1L2109.3 1802.0L2109.8 1796.9L2110.3 1797.7L2110.8 1795.3L2111.3 1795.6L2111.8 1791.4L2112.3 1801.0L2112.8 1804.2L2113.3 1795.3L2113.8 1794.6L2114.3 1795.6L2114.8 1801.2L2115.3 1813.7L2115.8 1791.3L2116.3 1796.6L2116.8 1786.2L2117.3 1801.0L2117.8 1800.7L2118.3 1812.5L2118.8 1805.0L2119.3 1800.7L2119.8 1799.4L2120.3 1788.7L2120.8 1787.0L2121.3 1802.9L2121.8 1794.7L2122.3 1791.9L2122.8 1795.5L2123.3 1793.6L2123.8 1784.6L2124.3 1796.9L2124.8 1796.6L2125.3 1799.8L2125.8 1797.7L2126.3 1798.4L2126.8 1800.9L2127.3 1800.2L2127.8 1802.5L2128.3 1802.2L2128.8 1805.3L2129.3 1797.9L2129.8 1798.8L2130.3 1809.8L2130.8 1793.5L2131.3 1792.4L2131.8 1794.8L2132.3 1796.7L2132.8 1797.4L2133.3 1798.1L2133.8 1803.0L2134.3 1801.4L2134.8 1805.0L2135.3 1803.6L2135.8 1808.8L2136.3 1799.6L2136.8 1798.9L2137.3 1789.5L2137.8 1797.6L2138.3 1797.4L2138.8 1804.2L2139.3 1800.7L2139.8 1806.6L2140.3 1798.4L2140.8 1782.4L2141.3 1802.2L2141.8 1813.4L2142.3 1792.2L2142.9 1794.7L2143.4 1806.0L2143.9 1798.9L2144.4 1804.2L2144.9 1796.7L2145.4 1806.6L2145.9 1800.1L2146.4 1793.9L2146.9 1799.4L2147.4 1795.6L2147.9 1797.3L2148.4 1802.0L2148.9 1800.7L2149.4 1802.5L2149.9 1798.1L2150.4 1799.4L2150.9 1794.0L2151.4 1799.5L2151.9 1800.7L2152.4 1803.5L2152.9 1801.6L2153.4 1799.8L2153.9 1794.3L2154.4 1796.9L2154.9 1790.9L2155.4 1804.4L2155.9 1804.1L2156.4 1805.5L2156.9 1797.8L2157.4 1804.5L2157.9 1795.5L2158.4 1799.4L2158.9 1813.9L2159.4 1790.4L2159.9 1802.3L2160.4 1805.1L2160.9 1798.4L2161.4 1807.3L2161.9 1803.0L2162.4 1806.2L2162.9 1809.3L2163.4 1810.3L2163.9 1799.4L2164.4 1803.0L2164.9 1803.0L2165.4 1804.9L2165.9 1808.3L2166.4 1802.1L2166.9 1804.0L2167.4 1795.4L2167.9 1806.5L2168.4 1801.9L2168.9 1808.3L2169.4 1804.0L2169.9 1808.1L2170.4 1788.7L2170.9 1796.7L2171.4 1803.0L2171.9 1797.1L2172.4 1794.3L2172.9 1798.7L2173.4 1815.2L2173.9 1797.9L2174.4 1803.6L2174.9 1805.2L2175.4 1799.1L2175.9 1803.1L2176.4 1813.1L2176.9 1809.2L2177.4 1806.0L2177.9 1800.2L2178.5 1802.2L2179.0 1817.0L2179.5 1806.7L2180.0 1813.3L2180.5 1816.1L2181.0 1812.9L2181.5 1811.5L2182.0 1808.7L2182.5 1805.9L2183.0 1796.1L2183.5 1801.6L2184.0 1800.8L2184.5 1804.2L2185.0 1797.8L2185.5 1788.2L2186.0 1799.6L2186.5 1807.4L2187.0 1809.5L2187.5 1806.1L2188.0 1799.9L2188.5 1808.4L2189.0 1812.2L2189.5 1802.8L2190.0 1792.5L2190.5 1805.7L2191.0 1802.4L2191.5 1803.2L2192.0 1806.5L2192.5 1803.0L2193.0 1797.1L2193.5 1808.5L2194.0 1801.4L2194.5 1800.6L2195.0 1800.3L2195.5 1805.1L2196.0 1820.0L2196.5 1801.5L2197.0 1803.0L2197.5 1805.6L2198.0 1808.8L2198.5 1810.4L2199.0 1803.1L2199.5 1800.9L2200.0 1809.4L2200.5 1809.1L2201.0 1806.3L2201.5 1809.9L2202.0 1806.4L2202.5 1800.5L2203.0 1805.6L2203.5 1807.6L2204.0 1803.0L2204.5 1817.3L2205.0 1813.6L2205.5 1803.8L2206.0 1802.3L2206.5 1811.9L2207.0 1796.6L2207.5 1797.0L2208.0 1806.3L2208.5 1800.2L2209.0 1802.0L2209.5 1813.6L2210.0 1804.1L2210.5 1808.6L2211.0 1807.8L2211.5 1807.8L2212.0 1818.1L2212.5 1807.1L2213.0 1796.8L2213.5 1809.2L2214.0 1802.1L2214.6 1816.9L2215.1 1802.6L2215.6 1812.1L2216.1 1805.0L2216.6 1802.8L2217.1 1816.3L2217.6 1809.7L2218.1 1803.3L2218.6 1806.0L2219.1 1819.6L2219.6 1807.4L2220.1 1816.1L2220.6 1808.6L2221.1 1817.7L2221.6 1821.1L2222.1 1807.8L2222.6 1814.8L2223.1 1804.1L2223.6 1805.9L2224.1 1808.6L2224.6 1803.5L2225.1 1810.4L2225.6 1805.2L2226.1 1809.2L2226.6 1823.1L2227.1 1808.9L2227.6 1817.3L2228.1 1811.9L2228.6 1804.2L2229.1 1815.1L2229.6 1804.9L2230.1 1804.6L2230.6 1798.6L2231.1 1805.3L2231.6 1816.4L2232.1 1810.2L2232.6 1817.6L2233.1 1809.6L2233.6 1811.1L2234.1 1802.5L2234.6 1810.7L2235.1 1814.6L2235.6 1814.4L2236.1 1811.8L2236.6 1817.1L2237.1 1811.4L2237.6 1811.2L2238.1 1812.6L2238.6 1816.1L2239.1 1811.6L2239.6 1809.9L2240.1 1805.7L2240.6 1811.2L2241.1 1805.6L2241.6 1819.2L2242.1 1805.4L2242.6 1821.8L2243.1 1816.5L2243.6 1810.2L2244.1 1811.7L2244.6 1805.9L2245.1 1806.9L2245.6 1807.3L2246.1 1811.1L2246.6 1814.3L2247.1 1806.9L2247.6 1810.9L2248.1 1809.5L2248.6 1809.6L2249.1 1810.4L2249.6 1808.4L2250.1 1808.7L2250.7 1812.7L2251.2 1817.7L2251.7 1809.4L2252.2 1813.5L2252.7 1813.0L2253.2 1809.7L2253.7 1815.4L2254.2 1812.2L2254.7 1811.5L2255.2 1806.4L2255.7 1799.5L2256.2 1811.5L2256.7 1809.5L2257.2 1812.9L2257.7 1804.5L2258.2 1809.8L2258.7 1805.7L2259.2 1803.0L2259.7 1799.5L2260.2 1811.5L2260.7 1817.5L2261.2 1811.3L2261.7 1820.3L2262.2 1793.9L2262.7 1811.1L2263.2 1813.5L2263.7 1803.6L2264.2 1813.5L2264.7 1804.9L2265.2 1818.6L2265.7 1820.7L2266.2 1809.6L2266.7 1819.6L2267.2 1818.3L2267.7 1806.4L2268.2 1815.3L2268.7 1812.5L2269.2 1814.5L2269.7 1806.4L2270.2 1812.3L2270.7 1813.5L2271.2 1815.2L2271.7 1810.4L2272.2 1808.4L2272.7 1819.8L2273.2 1807.6L2273.7 1813.4L2274.2 1810.9L2274.7 1808.7L2275.2 1815.2L2275.7 1823.0L2276.2 1821.4L2276.7 1807.4L2277.2 1805.8L2277.7 1796.5L2278.2 1814.0L2278.7 1808.5L2279.2 1813.7L2279.7 1817.7L2280.2 1808.6L2280.7 1811.1L2281.2 1810.4L2281.7 1812.2L2282.2 1809.2L2282.7 1813.3L2283.2 1808.0L2283.7 1814.4L2284.2 1816.3L2284.7 1804.2L2285.2 1803.5L2285.7 1808.2L2286.3 1818.2L2286.8 1815.0L2287.3 1826.6L2287.8 1821.6L2288.3 1801.5L2288.8 1823.5L2289.3 1811.4L2289.8 1809.3L2290.3 1817.3L2290.8 1809.3L2291.3 1816.9L2291.8 1808.3L2292.3 1812.2L2292.8 1813.3L2293.3 1813.6L2293.8 1806.9L2294.3 1820.1L2294.8 1816.6L2295.3 1821.8L2295.8 1815.2L2296.3 1813.1L2296.8 1815.8L2297.3 1813.1L2297.8 1816.1L2298.3 1804.5L2298.8 1809.9L2299.3 1814.6L2299.8 1812.6L2300.3 1815.9L2300.8 1808.0L2301.3 1822.2L2301.8 1822.4L2302.3 1822.3L2302.8 1809.0L2303.3 1800.3L2303.8 1807.3L2304.3 1816.4L2304.8 1813.8L2305.3 1811.6L2305.8 1815.8L2306.3 1816.3L2306.8 1810.5L2307.3 1819.0L2307.8 1830.7L2308.3 1804.4L2308.8 1808.6L2309.3 1817.4L2309.8 1804.9L2310.3 1819.4L2310.8 1814.0L2311.3 1815.7L2311.8 1813.6L2312.3 1821.2L2312.8 1812.7L2313.3 1810.4L2313.8 1816.5L2314.3 1813.8L2314.8 1812.1L2315.3 1811.0L2315.8 1814.0L2316.3 1812.4L2316.8 1815.4L2317.3 1818.2L2317.8 1829.6L2318.3 1806.6L2318.8 1815.6L2319.3 1812.6L2319.8 1810.9L2320.3 1818.2L2320.8 1811.8L2321.3 1817.1L2321.8 1815.6L2322.4 1825.1L2322.9 1812.2L2323.4 1813.7L2323.9 1822.8L2324.4 1811.3L2324.9 1811.1L2325.4 1817.6L2325.9 1822.9L2326.4 1815.5L2326.9 1822.3L2327.4 1814.2L2327.9 1812.7L2328.4 1820.8L2328.9 1810.7L2329.4 1822.3L2329.9 1808.9L2330.4 1812.0L2330.9 1817.1L2331.4 1811.3L2331.9 1811.9L2332.4 1805.3L2332.9 1814.1L2333.4 1817.9L2333.9 1808.5L2334.4 1819.0L2334.9 1820.8L2335.4 1819.1L2335.9 1819.7L2336.4 1820.7L2336.9 1828.5L2337.4 1808.1L2337.9 1818.3L2338.4 1814.8L2338.9 1812.9L2339.4 1813.7L2339.9 1822.8L2340.4 1821.0L2340.9 1811.2L2341.4 1818.5L2341.9 1817.1L2342.4 1813.5L2342.9 1814.1L2343.4 1817.8L2343.9 1811.7L2344.4 1821.1L2344.9 1824.5L2345.4 1819.9L2345.9 1812.6L2346.4 1817.2L2346.9 1820.5L2347.4 1818.5L2347.9 1819.0L2348.4 1810.8L2348.9 1817.7L2349.4 1808.5L2349.9 1824.4L2350.4 1819.9L2350.9 1815.1L2351.4 1816.7L2351.9 1826.8L2352.4 1809.5L2352.9 1816.2L2353.4 1820.5L2353.9 1824.0L2354.4 1817.4L2354.9 1815.2L2355.4 1816.4L2355.9 1817.4L2356.4 1820.1L2356.9 1811.5L2357.4 1814.8L2357.9 1815.6L2358.5 1817.5L2359.0 1815.4L2359.5 1813.7L2360.0 1811.4L2360.5 1819.0L2361.0 1820.2L2361.5 1822.7L2362.0 1823.3L2362.5 1812.4L2363.0 1807.6L2363.5 1817.4L2364.0 1820.1L2364.5 1812.5L2365.0 1806.3L2365.5 1821.3L2366.0 1815.7L2366.5 1821.1L2367.0 1816.7L2367.5 1823.0L2368.0 1823.3L2368.5 1822.8L2369.0 1814.3L2369.5 1817.9L2370.0 1817.7L2370.5 1817.5L2371.0 1818.9L2371.5 1817.5L2372.0 1819.0L2372.5 1811.2L2373.0 1811.0L2373.5 1815.3L2374.0 1811.8L2374.5 1816.2L2375.0 1819.4L2375.5 1818.0L2376.0 1816.5"/>
</g>
<g stroke="#000" stroke-width="6" fill="none">
<rect x="220.0" y="54.0" width="2156.0" height="1796.0"/>
<line x1="220.0" y1="952.0" x2="2376.0" y2="952.0"/>
<line x1="245.1" y1="54.0" x2="245.1" y2="67.5"/>
<line x1="245.1" y1="952.0" x2="245.1" y2="938.5"/>
<line x1="245.1" y1="952.0" x2="245.1" y2="965.5"/>
<line x1="245.1" y1="1850.0" x2="245.1" y2="1836.5"/>
<line x1="370.4" y1="54.0" x2="370.4" y2="80.5"/>
<line x1="370.4" y1="952.0" x2="370.4" y2="925.5"/>
<line x1="370.4" y1="952.0" x2="370.4" y2="978.5"/>
<line x1="370.4" y1="1850.0" x2="370.4" y2="1823.5"/>
<line x1="495.8" y1="54.0" x2="495.8" y2="67.5"/>
<line x1="495.8" y1="952.0" x2="495.8" y2="938.5"/>
<line x1="495.8" y1="952.0" x2="495.8" y2="965.5"/>
<line x1="495.8" y1="1850.0" x2="495.8" y2="1836.5"/>
<line x1="621.1" y1="54.0" x2="621.1" y2="80.5"/>
<line x1="621.1" y1="952.0" x2="621.1" y2="925.5"/>
<line x1="621.1" y1="952.0" x2="621.1" y2="978.5"/>
<line x1="621.1" y1="1850.0" x2="621.1" y2="1823.5"/>
<line x1="746.5" y1="54.0" x2="746.5" y2="67.5"/>
<line x1="746.5" y1="952.0" x2="746.5" y2="938.5"/>
<line x1="746.5" y1="952.0" x2="746.5" y2="965.5"/>
<line x1="746.5" y1="1850.0" x2="746.5" y2="1836.5"/>
<line x1="871.8" y1="54.0" x2="871.8" y2="80.5"/>
<line x1="871.8" y1="952.0" x2="871.8" y2="925.5"/>
<line x1="871.8" y1="952.0" x2="871.8" y2="978.5"/>
<line x1="871.8" y1="1850.0" x2="871.8" y2="1823.5"/>
<line x1="997.2" y1="54.0" x2="997.2" y2="67.5"/>
<line x1="997.2" y1="952.0" x2="997.2" y2="938.5"/>
<line x1="997.2" y1="952.0" x2="997.2" y2="965.5"/>
<line x1="997.2" y1="1850.0" x2="997.2" y2="1836.5"/>
<line x1="1122.5" y1="54.0" x2="1122.5" y2="80.5"/>
<line x1="1122.5" y1="952.0" x2="1122.5" y2="925.5"/>
<line x1="1122.5" y1="952.0" x2="1122.5" y2="978.5"/>
<line x1="1122.5" y1="1850.0" x2="1122.5" y2="1823.5"/>
<line x1="1247.9" y1="54.0" x2="1247.9" y2="67.5"/>
<line x1="1247.9" y1="952.0" x2="1247.9" y2="938.5"/>
<line x1="1247.9" y1="952.0" x2="1247.9" y2="965.5"/>
<line x1="1247.9" y1="1850.0" x2="1247.9" y2="1836.5"/>
<line x1="1373.2" y1="54.0" x2="1373.2" y2="80.5"/>
<line x1="1373.2" y1="952.0" x2="1373.2" y2="925.5"/>
<line x1="1373.2" y1="952.0" x2="1373.2" y2="978.5"/>
<line x1="1373.2" y1="1850.0" x2="1373.2" y2="1823.5"/>
<line x1="1498.6" y1="54.0" x2="1498.6" y2="67.5"/>
<line x1="1498.6" y1="952.0" x2="1498.6" y2="938.5"/>
<line x1="1498.6" y1="952.0" x2="1498.6" y2="965.5"/>
<line x1="1498.6" y1="1850.0" x2="1498.6" y2="1836.5"/>
<line x1="1623.9" y1="54.0" x2="1623.9" y2="80.5"/>
<line x1="1623.9" y1="952.0" x2="1623.9" y2="925.5"/>
<line x1="1623.9" y1="952.0" x2="1623.9" y2="978.5"/>
<line x1="1623.9" y1="1850.0" x2="1623.9" y2="1823.5"/>
<line x1="1749.3" y1="54.0" x2="1749.3" y2="67.5"/>
<line x1="1749.3" y1="952.0" x2="1749.3" y2="938.5"/>
<line x1="1749.3" y1="952.0" x2="1749.3" y2="965.5"/>
<line x1="1749.3" y1="1850.0" x2="1749.3" y2="1836.5"/>
<line x1="1874.6" y1="54.0" x2="1874.6" y2="80.5"/>
<line x1="1874.6" y1="952.0" x2="1874.6" y2="925.5"/>
<line x1="1874.6" y1="952.0" x2="1874.6" y2="978.5"/>
<line x1="1874.6" y1="1850.0" x2="1874.6" y2="1823.5"/>
<line x1="2000.0" y1="54.0" x2="2000.0" y2="67.5"/>
<line x1="2000.0" y1="952.0" x2="2000.0" y2="938.5"/>
<line x1="2000.0" y1="952.0" x2="2000.0" y2="965.5"/>
<line x1="2000.0" y1="1850.0" x2="2000.0" y2="1836.5"/>
<line x1="2125.3" y1="54.0" x2="2125.3" y2="80.5"/>
<line x1="2125.3" y1="952.0" x2="2125.3" y2="925.5"/>
<line x1="2125.3" y1="952.0" x2="2125.3" y2="978.5"/>
<line x1="2125.3" y1="1850.0" x2="2125.3" y2="1823.5"/>
<line x1="2250.7" y1="54.0" x2="2250.7" y2="67.5"/>
<line x1="2250.7" y1="952.0" x2="2250.7" y2="938.5"/>
<line x1="2250.7" y1="952.0" x2="2250.7" y2="965.5"/>
<line x1="2250.7" y1="1850.0" x2="2250.7" y2="1836.5"/>
<line x1="2376.0" y1="54.0" x2="2376.0" y2="80.5"/>
<line x1="2376.0" y1="952.0" x2="2376.0" y2="925.5"/>
<line x1="2376.0" y1="952.0" x2="2376.0" y2="978.5"/>
<line x1="2376.0" y1="1850.0" x2="2376.0" y2="1823.5"/>
<line x1="220.0" y1="903.5" x2="233.5" y2="903.5"/>
<line x1="2376.0" y1="903.5" x2="2362.5" y2="903.5"/>
<line x1="220.0" y1="782.1" x2="246.5" y2="782.1"/>
<line x1="2376.0" y1="782.1" x2="2349.5" y2="782.1"/>
<line x1="220.0" y1="660.8" x2="233.5" y2="660.8"/>
<line x1="2376.0" y1="660.8" x2="2362.5" y2="660.8"/>
<line x1="220.0" y1="539.4" x2="246.5" y2="539.4"/>
<line x1="2376.0" y1="539.4" x2="2349.5" y2="539.4"/>
<line x1="220.0" y1="418.1" x2="233.5" y2="418.1"/>
<line x1="2376.0" y1="418.1" x2="2362.5" y2="418.1"/>
<line x1="220.0" y1="296.7" x2="246.5" y2="296.7"/>
<line x1="2376.0" y1="296.7" x2="2349.5" y2="296.7"/>
<line x1="220.0" y1="175.4" x2="233.5" y2="175.4"/>
<line x1="2376.0" y1="175.4" x2="2362.5" y2="175.4"/>
<line x1="220.0" y1="54.0" x2="246.5" y2="54.0"/>
<line x1="2376.0" y1="54.0" x2="2349.5" y2="54.0"/>
<line x1="220.0" y1="1810.1" x2="233.5" y2="1810.1"/>
<line x1="2376.0" y1="1810.1" x2="2362.5" y2="1810.1"/>
<line x1="220.0" y1="1710.3" x2="246.5" y2="1710.3"/>
<line x1="2376.0" y1="1710.3" x2="2349.5" y2="1710.3"/>
<line x1="220.0" y1="1610.5" x2="233.5" y2="1610.5"/>
<line x1="2376.0" y1="1610.5" x2="2362.5" y2="1610.5"/>
<line x1="220.0" y1="1510.8" x2="246.5" y2="1510.8"/>
<line x1="2376.0" y1="1510.8" x2="2349.5" y2="1510.8"/>
<line x1="220.0" y1="1411.0" x2="233.5" y2="1411.0"/>
<line x1="2376.0" y1="1411.0" x2="2362.5" y2="1411.0"/>
<line x1="220.0" y1="1311.2" x2="246.5" y2="1311.2"/>
<line x1="2376.0" y1="1311.2" x2="2349.5" y2="1311.2"/>
<line x1="220.0" y1="1211.4" x2="233.5" y2="1211.4"/>
<line x1="2376.0" y1="1211.4" x2="2362.5" y2="1211.4"/>
<line x1="220.0" y1="1111.6" x2="246.5" y2="1111.6"/>
<line x1="2376.0" y1="1111.6" x2="2349.5" y2="1111.6"/>
<line x1="220.0" y1="1011.9" x2="233.5" y2="1011.9"/>
<line x1="2376.0" y1="1011.9" x2="2362.5" y2="1011.9"/>
</g>
<g font-family="'Liberation Serif', serif" font-size="63" fill="#000">
<text x="194" y="800.4" text-anchor="end">0.5</text>
<text x="194" y="557.7" text-anchor="end">1.0</text>
<text x="194" y="315.0" text-anchor="end">1.5</text>
<text x="194" y="72.3" text-anchor="end">2.0</text>
<text x="194" y="1729.1" text-anchor="end">0.5</text>
<text x="194" y="1529.6" text-anchor="end">1.0</text>
<text x="194" y="1330.0" text-anchor="end">1.5</text>
<text x="194" y="1130.4" text-anchor="end">2.0</text>
<text x="370.4" y="1926.8" text-anchor="middle">5</text>
<text x="621.1" y="1926.8" text-anchor="middle">10</text>
<text x="871.8" y="1926.8" text-anchor="middle">15</text>
<text x="1122.5" y="1926.8" text-anchor="middle">20</text>
<text x="1373.2" y="1926.8" text-anchor="middle">25</text>
<text x="1623.9" y="1926.8" text-anchor="middle">30</text>
<text x="1874.6" y="1926.8" text-anchor="middle">35</text>
<text x="2125.3" y="1926.8" text-anchor="middle">40</text>
<text x="2376.0" y="1926.8" text-anchor="middle">45</text>
</g>
<text transform="translate(78,805.6) rotate(-90)" font-family="'Liberation Sans', sans-serif" font-size="64.5">Intensity (10<tspan font-size="44" dy="-31">3</tspan><tspan dy="31"> counts)</tspan></text>
<text transform="translate(78,1703.6) rotate(-90)" font-family="'Liberation Sans', sans-serif" font-size="64.5">Intensity (10<tspan font-size="44" dy="-31">3</tspan><tspan dy="31"> counts)</tspan></text>
<text x="1214" y="2047" font-family="'Liberation Sans', sans-serif" font-size="65.0">2<tspan font-family="'Liberation Serif', serif" font-size="62.0" dx="2.0">Θ</tspan><tspan font-family="'Liberation Serif', serif" dx="1.0"> (</tspan><tspan font-size="44.0" dy="-29.5">o</tspan><tspan font-family="'Liberation Serif', serif" dy="29.5">)</tspan></text>
<text x="511" y="159" font-family="'Liberation Sans', sans-serif" font-size="64" font-weight="bold">CP</text>
<clipPath id="c1foot"><rect x="590" y="100" width="50" height="51.6"/><rect x="614.4" y="100" width="9.6" height="70"/></clipPath>
<text x="600" y="159" font-family="'Liberation Sans', sans-serif" font-size="64" font-weight="bold" clip-path="url(#c1foot)">1</text>
<text x="494" y="1087" font-family="'Liberation Sans', sans-serif" font-size="64" font-weight="bold">CP2</text>
<line x1="684" y1="141.5" x2="812" y2="141.5" stroke="#008000" stroke-width="7" stroke-linecap="round"/>
<text x="830" y="162.0" font-family="'Liberation Sans', sans-serif" font-size="58.4">CP1-a, <tspan font-style="italic">d</tspan> = 170 nm</text>
<line x1="684" y1="212.9" x2="812" y2="212.9" stroke="#00FF00" stroke-width="7" stroke-linecap="round"/>
<text x="830" y="233.4" font-family="'Liberation Sans', sans-serif" font-size="58.4">CP1-a, <tspan font-style="italic">d</tspan> = 93 nm</text>
<line x1="684" y1="284.3" x2="812" y2="284.3" stroke="#FF0000" stroke-width="7" stroke-linecap="round"/>
<text x="830" y="304.8" font-family="'Liberation Sans', sans-serif" font-size="58.4">CP1-b, <tspan font-style="italic">d</tspan> = 116 nm</text>
<line x1="684" y1="355.7" x2="812" y2="355.7" stroke="#FF00FF" stroke-width="7" stroke-linecap="round"/>
<text x="830" y="376.2" font-family="'Liberation Sans', sans-serif" font-size="58.4">CP1-c, <tspan font-style="italic">d</tspan> = 123 nm</text>
<line x1="699" y1="1089.5" x2="827" y2="1089.5" stroke="#000000" stroke-width="7.5" stroke-linecap="round"/>
<text x="844" y="1108.0" font-family="'Liberation Sans', sans-serif" font-size="58.4">CP2, <tspan font-style="italic">d</tspan> = 180 nm</text>
<line x1="699" y1="1159.7" x2="827" y2="1159.7" stroke="#0000FF" stroke-width="7.5" stroke-linecap="round"/>
<text x="844" y="1178.2" font-family="'Liberation Sans', sans-serif" font-size="58.4">CP2, <tspan font-style="italic">d</tspan> = 141 nm</text>
<rect x="1657.0" y="99.0" width="629.0" height="538.0" fill="#fff"/>
<g clip-path="url(#cI1)" fill="none" stroke-width="5" stroke-linejoin="round">
<path stroke="#008000" d="M1646.1 501.0L1648.8 484.4L1651.5 499.0L1654.3 491.5L1657.0 486.9L1659.7 499.5L1662.5 517.2L1665.2 527.1L1667.9 489.2L1670.7 514.1L1673.4 523.2L1676.1 515.1L1678.9 521.2L1681.6 510.5L1684.3 522.3L1687.1 524.4L1689.8 535.0L1692.6 522.7L1695.3 542.4L1698.0 523.9L1700.8 515.5L1703.5 553.5L1706.2 566.4L1709.0 531.6L1711.7 510.7L1714.4 554.2L1717.2 558.8L1719.9 538.9L1722.6 557.2L1725.4 554.8L1728.1 554.3L1730.8 545.4L1733.6 557.5L1736.3 550.7L1739.0 556.9L1741.8 565.5L1744.5 560.3L1747.2 568.4L1750.0 558.3L1752.7 572.1L1755.5 572.5L1758.2 544.0L1760.9 562.1L1763.7 562.8L1766.4 556.9L1769.1 568.1L1771.9 566.4L1774.6 559.3L1777.3 561.2L1780.1 577.8L1782.8 555.1L1785.5 571.3L1788.3 576.6L1791.0 574.7L1793.7 568.8L1796.5 545.6L1799.2 577.5L1801.9 562.1L1804.7 588.2L1807.4 563.6L1810.1 553.1L1812.9 565.9L1815.6 570.3L1818.4 560.3L1821.1 554.8L1823.8 555.1L1826.6 540.0L1829.3 560.1L1832.0 569.2L1834.8 563.7L1837.5 563.1L1840.2 560.9L1843.0 562.4L1845.7 560.0L1848.4 581.1L1851.2 552.4L1853.9 568.4L1856.6 575.2L1859.4 554.3L1862.1 546.4L1864.8 555.7L1867.6 559.3L1870.3 571.7L1873.0 527.7L1875.8 550.2L1878.5 573.0L1881.3 568.4L1884.0 557.9L1886.7 576.2L1889.5 555.7L1892.2 562.3L1894.9 542.1L1897.7 544.4L1900.4 586.1L1903.1 553.4L1905.9 571.9L1908.6 539.4L1911.3 549.5L1914.1 544.1L1916.8 561.8L1919.5 526.9L1922.3 523.3L1925.0 558.1L1927.7 539.8L1930.5 550.6L1933.2 541.4L1935.9 554.5L1938.7 515.9L1941.4 547.9L1944.2 538.4L1946.9 527.5L1949.6 539.7L1952.4 533.5L1955.1 536.1L1957.8 529.8L1960.6 541.1L1963.3 531.2L1966.0 527.4L1968.8 527.8L1971.5 522.1L1974.2 525.3L1977.0 511.6L1979.7 523.6L1982.4 520.4L1985.2 525.7L1987.9 523.0L1990.6 531.0L1993.4 508.2L1996.1 527.3L1998.8 521.4L2001.6 506.7L2004.3 505.0L2007.1 513.6L2009.8 532.3L2012.5 501.1L2015.3 501.8L2018.0 521.1L2020.7 492.9L2023.5 509.8L2026.2 513.8L2028.9 497.4L2031.7 499.6L2034.4 493.6L2037.1 514.9L2039.9 471.1L2042.6 500.0L2045.3 510.6L2048.1 482.4L2050.8 493.5L2053.5 483.8L2056.3 491.0L2059.0 486.4L2061.7 481.4L2064.5 492.8L2067.2 473.7L2070.0 487.1L2072.7 491.1L2075.4 478.0L2078.2 472.2L2080.9 479.6L2083.6 486.6L2086.4 466.6L2089.1 495.8L2091.8 485.4L2094.6 470.6L2097.3 487.5L2100.0 468.6L2102.8 468.5L2105.5 455.1L2108.2 477.4L2111.0 472.6L2113.7 459.1L2116.4 494.1L2119.2 421.1L2121.9 469.2L2124.6 468.5L2127.4 446.8L2130.1 457.4L2132.9 479.0L2135.6 446.7L2138.3 442.6L2141.1 458.6L2143.8 455.4L2146.5 444.3L2149.3 461.5L2152.0 442.9L2154.7 445.0L2157.5 455.4L2160.2 463.8L2162.9 447.5L2165.7 455.0L2168.4 429.2L2171.1 439.5L2173.9 430.0L2176.6 437.4L2179.3 434.6L2182.1 447.3L2184.8 426.9L2187.5 410.9L2190.3 437.6L2193.0 440.3L2195.8 433.4L2198.5 436.6L2201.2 438.5L2204.0 426.2L2206.7 430.9L2209.4 406.8L2212.2 425.1L2214.9 419.9L2217.6 410.6L2220.4 426.7L2223.1 402.5L2225.8 429.6L2228.6 431.2L2231.3 424.6L2234.0 420.5L2236.8 437.2L2239.5 418.1L2242.2 439.5L2245.0 397.4L2247.7 416.7L2250.4 423.7L2253.2 426.7L2255.9 419.0L2258.7 416.2L2261.4 426.7L2264.1 424.4L2266.9 413.8L2269.6 417.7L2272.3 397.1L2275.1 393.7L2277.8 408.3L2280.5 401.4L2283.3 425.4L2286.0 397.7L2288.7 406.0L2291.5 398.2L2294.2 382.1L2296.9 434.5"/>
<path stroke="#00FF00" d="M1646.1 514.8L1648.8 500.9L1651.5 495.0L1654.3 491.0L1657.0 496.5L1659.7 476.5L1662.5 505.0L1665.2 516.7L1667.9 490.4L1670.7 528.1L1673.4 505.6L1676.1 530.9L1678.9 517.0L1681.6 546.9L1684.3 514.2L1687.1 528.7L1689.8 540.1L1692.6 510.1L1695.3 522.7L1698.0 532.8L1700.8 543.7L1703.5 536.8L1706.2 539.7L1709.0 530.6L1711.7 531.2L1714.4 549.8L1717.2 549.7L1719.9 550.8L1722.6 561.5L1725.4 553.8L1728.1 549.0L1730.8 540.9L1733.6 534.5L1736.3 560.1L1739.0 545.0L1741.8 557.2L1744.5 528.7L1747.2 554.0L1750.0 548.2L1752.7 565.5L1755.5 564.7L1758.2 553.5L1760.9 560.8L1763.7 552.8L1766.4 575.4L1769.1 550.1L1771.9 568.5L1774.6 538.5L1777.3 561.9L1780.1 546.1L1782.8 574.8L1785.5 553.8L1788.3 569.0L1791.0 564.4L1793.7 558.5L1796.5 562.4L1799.2 555.7L1801.9 550.1L1804.7 551.2L1807.4 559.8L1810.1 574.4L1812.9 568.0L1815.6 561.0L1818.4 583.2L1821.1 550.1L1823.8 561.5L1826.6 561.7L1829.3 548.0L1832.0 551.4L1834.8 556.8L1837.5 571.2L1840.2 556.4L1843.0 556.4L1845.7 570.9L1848.4 549.1L1851.2 555.6L1853.9 584.3L1856.6 560.6L1859.4 576.8L1862.1 549.5L1864.8 553.4L1867.6 575.3L1870.3 572.8L1873.0 561.4L1875.8 565.2L1878.5 544.9L1881.3 553.7L1884.0 565.2L1886.7 555.1L1889.5 584.8L1892.2 557.7L1894.9 551.0L1897.7 562.6L1900.4 568.4L1903.1 553.4L1905.9 537.0L1908.6 556.8L1911.3 571.6L1914.1 541.6L1916.8 579.3L1919.5 551.1L1922.3 562.7L1925.0 544.2L1927.7 563.7L1930.5 537.4L1933.2 548.0L1935.9 570.4L1938.7 572.0L1941.4 551.4L1944.2 531.3L1946.9 543.7L1949.6 543.1L1952.4 545.5L1955.1 532.9L1957.8 536.1L1960.6 536.2L1963.3 550.1L1966.0 523.4L1968.8 520.2L1971.5 550.8L1974.2 507.0L1977.0 524.7L1979.7 538.0L1982.4 553.9L1985.2 522.3L1987.9 522.4L1990.6 535.1L1993.4 548.3L1996.1 512.2L1998.8 531.6L2001.6 529.0L2004.3 487.7L2007.1 495.1L2009.8 507.9L2012.5 523.7L2015.3 508.9L2018.0 543.2L2020.7 512.7L2023.5 522.0L2026.2 527.0L2028.9 529.4L2031.7 502.2L2034.4 506.3L2037.1 504.2L2039.9 494.6L2042.6 514.2L2045.3 517.9L2048.1 523.5L2050.8 504.6L2053.5 489.9L2056.3 500.1L2059.0 489.3L2061.7 510.9L2064.5 501.0L2067.2 503.7L2070.0 508.7L2072.7 468.8L2075.4 480.3L2078.2 499.5L2080.9 498.5L2083.6 488.5L2086.4 504.9L2089.1 480.2L2091.8 500.9L2094.6 488.2L2097.3 495.3L2100.0 487.4L2102.8 497.1L2105.5 499.1L2108.2 490.3L2111.0 485.6L2113.7 479.6L2116.4 473.9L2119.2 454.3L2121.9 462.3L2124.6 474.9L2127.4 461.4L2130.1 478.6L2132.9 450.2L2135.6 460.7L2138.3 484.3L2141.1 456.1L2143.8 454.4L2146.5 498.6L2149.3 472.7L2152.0 468.3L2154.7 486.2L2157.5 474.2L2160.2 471.8L2162.9 452.0L2165.7 453.8L2168.4 422.8L2171.1 461.2L2173.9 440.2L2176.6 453.3L2179.3 450.0L2182.1 467.8L2184.8 476.8L2187.5 461.1L2190.3 440.3L2193.0 428.7L2195.8 440.8L2198.5 441.4L2201.2 458.2L2204.0 426.3L2206.7 428.1L2209.4 452.1L2212.2 445.0L2214.9 456.9L2217.6 423.9L2220.4 437.3L2223.1 443.4L2225.8 436.3L2228.6 435.4L2231.3 446.2L2234.0 456.8L2236.8 457.0L2239.5 462.6L2242.2 433.1L2245.0 409.5L2247.7 461.0L2250.4 436.3L2253.2 432.3L2255.9 450.4L2258.7 434.2L2261.4 451.0L2264.1 420.0L2266.9 443.4L2269.6 433.6L2272.3 425.3L2275.1 439.5L2277.8 456.9L2280.5 439.4L2283.3 421.4L2286.0 431.7L2288.7 426.3L2291.5 442.3L2294.2 424.2L2296.9 414.4"/>
<path stroke="#FF0000" d="M1646.1 516.9L1648.8 510.6L1651.5 518.2L1654.3 506.4L1657.0 527.1L1659.7 517.0L1662.5 521.1L1665.2 514.3L1667.9 519.4L1670.7 492.6L1673.4 506.5L1676.1 507.9L1678.9 551.6L1681.6 532.5L1684.3 536.9L1687.1 524.4L1689.8 559.0L1692.6 518.7L1695.3 520.6L1698.0 549.4L1700.8 546.1L1703.5 544.5L1706.2 535.0L1709.0 528.4L1711.7 512.2L1714.4 539.3L1717.2 528.3L1719.9 535.9L1722.6 517.3L1725.4 529.7L1728.1 522.5L1730.8 551.6L1733.6 541.3L1736.3 548.8L1739.0 521.4L1741.8 531.4L1744.5 542.7L1747.2 544.2L1750.0 532.9L1752.7 546.7L1755.5 549.1L1758.2 532.0L1760.9 508.2L1763.7 539.8L1766.4 543.0L1769.1 549.8L1771.9 551.3L1774.6 528.7L1777.3 524.3L1780.1 533.7L1782.8 529.4L1785.5 531.4L1788.3 530.4L1791.0 549.6L1793.7 536.0L1796.5 528.4L1799.2 538.2L1801.9 533.6L1804.7 536.6L1807.4 529.8L1810.1 514.4L1812.9 528.4L1815.6 524.1L1818.4 511.2L1821.1 512.0L1823.8 497.9L1826.6 542.5L1829.3 505.4L1832.0 520.2L1834.8 511.2L1837.5 501.0L1840.2 496.3L1843.0 495.0L1845.7 504.0L1848.4 484.1L1851.2 505.4L1853.9 501.5L1856.6 487.6L1859.4 502.0L1862.1 465.7L1864.8 477.3L1867.6 459.8L1870.3 484.4L1873.0 485.5L1875.8 475.0L1878.5 464.0L1881.3 477.0L1884.0 460.6L1886.7 461.6L1889.5 436.2L1892.2 461.6L1894.9 435.0L1897.7 452.7L1900.4 452.2L1903.1 443.9L1905.9 445.1L1908.6 421.9L1911.3 404.4L1914.1 410.6L1916.8 398.9L1919.5 379.6L1922.3 393.1L1925.0 389.1L1927.7 390.9L1930.5 405.1L1933.2 367.9L1935.9 399.2L1938.7 361.3L1941.4 366.9L1944.2 347.1L1946.9 360.6L1949.6 368.2L1952.4 348.2L1955.1 358.5L1957.8 350.3L1960.6 344.4L1963.3 344.4L1966.0 342.7L1968.8 349.7L1971.5 338.2L1974.2 364.5L1977.0 333.6L1979.7 346.8L1982.4 310.6L1985.2 306.3L1987.9 351.9L1990.6 319.9L1993.4 323.4L1996.1 338.4L1998.8 319.2L2001.6 339.5L2004.3 365.3L2007.1 350.9L2009.8 356.4L2012.5 359.1L2015.3 383.9L2018.0 363.7L2020.7 368.0L2023.5 400.3L2026.2 399.4L2028.9 397.1L2031.7 409.5L2034.4 383.3L2037.1 410.0L2039.9 432.9L2042.6 436.3L2045.3 432.8L2048.1 407.2L2050.8 444.5L2053.5 443.5L2056.3 439.5L2059.0 446.7L2061.7 415.8L2064.5 452.3L2067.2 434.9L2070.0 441.8L2072.7 434.9L2075.4 457.7L2078.2 418.0L2080.9 442.0L2083.6 439.2L2086.4 451.3L2089.1 447.9L2091.8 430.1L2094.6 423.8L2097.3 426.2L2100.0 419.5L2102.8 425.4L2105.5 433.8L2108.2 422.4L2111.0 425.0L2113.7 433.6L2116.4 421.9L2119.2 413.8L2121.9 427.2L2124.6 434.5L2127.4 419.5L2130.1 403.1L2132.9 430.8L2135.6 428.7L2138.3 428.8L2141.1 410.1L2143.8 450.6L2146.5 420.6L2149.3 409.0L2152.0 435.4L2154.7 404.0L2157.5 416.4L2160.2 430.5L2162.9 419.9L2165.7 442.8L2168.4 429.3L2171.1 396.6L2173.9 432.7L2176.6 395.3L2179.3 420.8L2182.1 405.7L2184.8 418.0L2187.5 448.4L2190.3 425.2L2193.0 414.3L2195.8 431.9L2198.5 433.9L2201.2 410.1L2204.0 423.2L2206.7 436.7L2209.4 422.3L2212.2 400.6L2214.9 418.1L2217.6 398.2L2220.4 389.4L2223.1 409.0L2225.8 424.1L2228.6 425.7L2231.3 407.5L2234.0 394.4L2236.8 402.0L2239.5 397.4L2242.2 410.2L2245.0 399.2L2247.7 409.0L2250.4 406.2L2253.2 418.7L2255.9 421.8L2258.7 406.0L2261.4 413.8L2264.1 411.0L2266.9 387.8L2269.6 397.7L2272.3 355.2L2275.1 381.9L2277.8 402.7L2280.5 382.4L2283.3 387.5L2286.0 401.2L2288.7 375.7L2291.5 401.0L2294.2 432.0L2296.9 377.7"/>
<path stroke="#FF00FF" d="M1646.1 501.8L1648.8 504.8L1651.5 492.8L1654.3 499.1L1657.0 507.0L1659.7 504.3L1662.5 523.3L1665.2 513.1L1667.9 538.9L1670.7 508.2L1673.4 525.9L1676.1 527.2L1678.9 524.7L1681.6 534.4L1684.3 539.9L1687.1 525.4L1689.8 540.7L1692.6 555.4L1695.3 542.1L1698.0 569.5L1700.8 532.7L1703.5 556.0L1706.2 555.3L1709.0 531.4L1711.7 534.0L1714.4 558.5L1717.2 553.7L1719.9 549.4L1722.6 543.6L1725.4 565.3L1728.1 563.1L1730.8 551.4L1733.6 563.0L1736.3 558.1L1739.0 560.3L1741.8 580.7L1744.5 577.9L1747.2 598.5L1750.0 571.8L1752.7 553.9L1755.5 582.0L1758.2 555.7L1760.9 558.6L1763.7 570.8L1766.4 570.4L1769.1 569.6L1771.9 580.4L1774.6 574.0L1777.3 571.4L1780.1 564.0L1782.8 562.0L1785.5 579.3L1788.3 561.2L1791.0 578.8L1793.7 571.2L1796.5 564.1L1799.2 567.6L1801.9 567.6L1804.7 561.7L1807.4 569.7L1810.1 569.4L1812.9 562.7L1815.6 547.7L1818.4 557.9L1821.1 532.0L1823.8 548.3L1826.6 581.9L1829.3 548.2L1832.0 519.1L1834.8 534.4L1837.5 535.4L1840.2 536.5L1843.0 506.1L1845.7 506.2L1848.4 506.4L1851.2 505.7L1853.9 489.5L1856.6 493.3L1859.4 514.8L1862.1 486.2L1864.8 489.7L1867.6 489.2L1870.3 474.2L1873.0 479.4L1875.8 513.0L1878.5 451.5L1881.3 453.8L1884.0 464.4L1886.7 463.1L1889.5 450.6L1892.2 465.7L1894.9 440.0L1897.7 442.1L1900.4 438.5L1903.1 440.4L1905.9 430.9L1908.6 399.7L1911.3 388.5L1914.1 391.2L1916.8 389.6L1919.5 391.9L1922.3 359.9L1925.0 337.7L1927.7 374.8L1930.5 325.6L1933.2 364.9L1935.9 328.2L1938.7 306.0L1941.4 318.0L1944.2 303.5L1946.9 259.5L1949.6 231.6L1952.4 238.6L1955.1 198.4L1957.8 222.4L1960.6 172.5L1963.3 189.8L1966.0 178.3L1968.8 160.1L1971.5 151.2L1974.2 136.0L1977.0 156.7L1979.7 127.4L1982.4 146.0L1985.2 173.9L1987.9 180.1L1990.6 180.8L1993.4 193.6L1996.1 201.3L1998.8 208.7L2001.6 208.6L2004.3 245.7L2007.1 248.5L2009.8 223.2L2012.5 236.9L2015.3 267.8L2018.0 249.5L2020.7 289.7L2023.5 293.3L2026.2 326.9L2028.9 297.4L2031.7 321.3L2034.4 316.7L2037.1 332.8L2039.9 351.2L2042.6 358.3L2045.3 350.4L2048.1 375.9L2050.8 381.5L2053.5 383.6L2056.3 378.1L2059.0 380.7L2061.7 370.7L2064.5 401.4L2067.2 385.8L2070.0 414.7L2072.7 399.9L2075.4 408.7L2078.2 388.9L2080.9 406.2L2083.6 422.4L2086.4 410.5L2089.1 415.7L2091.8 426.6L2094.6 428.3L2097.3 438.8L2100.0 390.8L2102.8 427.1L2105.5 416.7L2108.2 445.5L2111.0 444.4L2113.7 431.9L2116.4 431.8L2119.2 419.1L2121.9 443.1L2124.6 422.4L2127.4 409.2L2130.1 441.6L2132.9 417.1L2135.6 441.9L2138.3 424.3L2141.1 424.0L2143.8 405.5L2146.5 437.8L2149.3 426.2L2152.0 414.4L2154.7 443.9L2157.5 428.2L2160.2 439.6L2162.9 437.3L2165.7 418.7L2168.4 418.3L2171.1 393.0L2173.9 409.0L2176.6 410.0L2179.3 429.3L2182.1 430.9L2184.8 424.9L2187.5 457.0L2190.3 404.1L2193.0 435.1L2195.8 439.9L2198.5 431.3L2201.2 412.8L2204.0 407.0L2206.7 427.8L2209.4 415.9L2212.2 421.4L2214.9 432.9L2217.6 416.0L2220.4 416.7L2223.1 436.7L2225.8 399.8L2228.6 434.9L2231.3 409.3L2234.0 425.8L2236.8 421.8L2239.5 419.5L2242.2 399.6L2245.0 425.7L2247.7 410.5L2250.4 386.2L2253.2 416.3L2255.9 406.6L2258.7 396.5L2261.4 413.0L2264.1 398.0L2266.9 413.0L2269.6 393.7L2272.3 401.8L2275.1 414.8L2277.8 381.9L2280.5 401.7L2283.3 403.4L2286.0 411.3L2288.7 404.0L2291.5 397.6L2294.2 392.6L2296.9 378.4"/>
</g>
<g stroke="#000" stroke-width="6" fill="none">
<rect x="1657.0" y="99.0" width="629.0" height="538.0"/>
<line x1="1657.0" y1="99.0" x2="1657.0" y2="125.5"/>
<line x1="1657.0" y1="637.0" x2="1657.0" y2="610.5"/>
<line x1="1725.4" y1="99.0" x2="1725.4" y2="112.5"/>
<line x1="1725.4" y1="637.0" x2="1725.4" y2="623.5"/>
<line x1="1793.7" y1="99.0" x2="1793.7" y2="125.5"/>
<line x1="1793.7" y1="637.0" x2="1793.7" y2="610.5"/>
<line x1="1862.1" y1="99.0" x2="1862.1" y2="112.5"/>
<line x1="1862.1" y1="637.0" x2="1862.1" y2="623.5"/>
<line x1="1930.5" y1="99.0" x2="1930.5" y2="125.5"/>
<line x1="1930.5" y1="637.0" x2="1930.5" y2="610.5"/>
<line x1="1998.8" y1="99.0" x2="1998.8" y2="112.5"/>
<line x1="1998.8" y1="637.0" x2="1998.8" y2="623.5"/>
<line x1="2067.2" y1="99.0" x2="2067.2" y2="125.5"/>
<line x1="2067.2" y1="637.0" x2="2067.2" y2="610.5"/>
<line x1="2135.6" y1="99.0" x2="2135.6" y2="112.5"/>
<line x1="2135.6" y1="637.0" x2="2135.6" y2="623.5"/>
<line x1="2204.0" y1="99.0" x2="2204.0" y2="125.5"/>
<line x1="2204.0" y1="637.0" x2="2204.0" y2="610.5"/>
<line x1="2272.3" y1="99.0" x2="2272.3" y2="112.5"/>
<line x1="2272.3" y1="637.0" x2="2272.3" y2="623.5"/>
<line x1="1657.0" y1="441.4" x2="1683.5" y2="441.4"/>
<line x1="2286.0" y1="441.4" x2="2259.5" y2="441.4"/>
<line x1="1657.0" y1="196.8" x2="1683.5" y2="196.8"/>
<line x1="2286.0" y1="196.8" x2="2259.5" y2="196.8"/>
<line x1="1657.0" y1="563.6" x2="1670.5" y2="563.6"/>
<line x1="2286.0" y1="563.6" x2="2272.5" y2="563.6"/>
<line x1="1657.0" y1="319.1" x2="1670.5" y2="319.1"/>
<line x1="2286.0" y1="319.1" x2="2272.5" y2="319.1"/>
</g>
<g font-family="'Liberation Serif', serif" font-size="54" fill="#000">
<text x="1628" y="457.5" text-anchor="end">1.0</text>
<text x="1628" y="212.9" text-anchor="end">1.5</text>
<text x="1657.5" y="710.3" text-anchor="middle">3.0</text>
<text x="1794.2" y="710.3" text-anchor="middle">3.5</text>
<text x="1931.0" y="710.3" text-anchor="middle">4.0</text>
<text x="2067.7" y="710.3" text-anchor="middle">4.5</text>
<text x="2204.5" y="710.3" text-anchor="middle">5.0</text>
</g>
<text transform="translate(1536,643.5) rotate(-90)" font-family="'Liberation Sans', sans-serif" font-size="58.3">Intensity (10<tspan font-size="40" dy="-28">3</tspan><tspan dy="28"> counts)</tspan></text>
<text x="1896" y="801.5" font-family="'Liberation Sans', sans-serif" font-size="57.9">2<tspan font-family="'Liberation Serif', serif" font-size="55.2" dx="1.8">Θ</tspan><tspan font-family="'Liberation Serif', serif" dx="0.9"> (</tspan><tspan font-size="39.2" dy="-26.3">o</tspan><tspan font-family="'Liberation Serif', serif" dy="26.3">)</tspan></text>
<rect x="1657.0" y="997.0" width="629.0" height="538.0" fill="#fff"/>
<g clip-path="url(#cI2)" fill="none" stroke-width="5" stroke-linejoin="round">
<path stroke="#000080" d="M1646.1 1475.5L1648.8 1474.7L1651.5 1470.0L1654.3 1475.1L1657.0 1472.0L1659.7 1458.2L1662.5 1470.4L1665.2 1487.7L1667.9 1461.8L1670.7 1473.7L1673.4 1484.8L1676.1 1470.9L1678.9 1479.0L1681.6 1485.0L1684.3 1486.1L1687.1 1489.8L1689.8 1482.3L1692.6 1474.7L1695.3 1486.2L1698.0 1480.4L1700.8 1468.8L1703.5 1493.3L1706.2 1481.6L1709.0 1486.0L1711.7 1491.9L1714.4 1491.5L1717.2 1483.4L1719.9 1479.7L1722.6 1487.2L1725.4 1482.4L1728.1 1476.7L1730.8 1479.5L1733.6 1474.1L1736.3 1476.3L1739.0 1474.9L1741.8 1462.8L1744.5 1471.0L1747.2 1473.5L1750.0 1467.3L1752.7 1479.0L1755.5 1472.9L1758.2 1462.2L1760.9 1462.1L1763.7 1453.1L1766.4 1464.1L1769.1 1474.5L1771.9 1444.7L1774.6 1449.9L1777.3 1465.8L1780.1 1443.4L1782.8 1452.4L1785.5 1465.6L1788.3 1451.2L1791.0 1449.0L1793.7 1428.0L1796.5 1445.1L1799.2 1437.1L1801.9 1433.8L1804.7 1431.1L1807.4 1432.2L1810.1 1418.7L1812.9 1407.4L1815.6 1407.6L1818.4 1417.5L1821.1 1415.4L1823.8 1399.5L1826.6 1402.2L1829.3 1396.1L1832.0 1399.7L1834.8 1359.3L1837.5 1362.1L1840.2 1373.3L1843.0 1349.1L1845.7 1339.1L1848.4 1369.9L1851.2 1346.6L1853.9 1339.4L1856.6 1322.9L1859.4 1323.4L1862.1 1316.8L1864.8 1306.8L1867.6 1278.6L1870.3 1266.4L1873.0 1285.0L1875.8 1279.0L1878.5 1227.4L1881.3 1252.3L1884.0 1233.5L1886.7 1215.0L1889.5 1201.1L1892.2 1187.3L1894.9 1187.7L1897.7 1195.7L1900.4 1173.0L1903.1 1168.2L1905.9 1140.2L1908.6 1152.7L1911.3 1158.5L1914.1 1145.5L1916.8 1107.2L1919.5 1121.6L1922.3 1128.7L1925.0 1102.5L1927.7 1085.4L1930.5 1061.8L1933.2 1057.4L1935.9 1043.5L1938.7 1048.2L1941.4 1067.3L1944.2 1074.4L1946.9 1061.9L1949.6 1064.5L1952.4 1076.8L1955.1 1086.6L1957.8 1081.2L1960.6 1101.7L1963.3 1106.0L1966.0 1121.0L1968.8 1117.2L1971.5 1127.8L1974.2 1106.0L1977.0 1154.6L1979.7 1149.9L1982.4 1160.6L1985.2 1188.9L1987.9 1184.2L1990.6 1232.6L1993.4 1217.5L1996.1 1219.5L1998.8 1265.4L2001.6 1262.0L2004.3 1248.1L2007.1 1271.9L2009.8 1290.3L2012.5 1292.1L2015.3 1303.0L2018.0 1299.0L2020.7 1310.5L2023.5 1326.2L2026.2 1338.0L2028.9 1339.7L2031.7 1333.8L2034.4 1350.9L2037.1 1355.8L2039.9 1370.6L2042.6 1387.9L2045.3 1388.1L2048.1 1380.5L2050.8 1390.4L2053.5 1404.0L2056.3 1414.4L2059.0 1401.9L2061.7 1408.3L2064.5 1410.1L2067.2 1411.3L2070.0 1407.0L2072.7 1408.0L2075.4 1403.0L2078.2 1404.3L2080.9 1401.7L2083.6 1407.6L2086.4 1419.0L2089.1 1418.0L2091.8 1414.6L2094.6 1423.1L2097.3 1417.0L2100.0 1413.2L2102.8 1431.6L2105.5 1441.3L2108.2 1416.6L2111.0 1428.0L2113.7 1423.2L2116.4 1442.0L2119.2 1416.5L2121.9 1426.0L2124.6 1434.2L2127.4 1436.8L2130.1 1433.2L2132.9 1436.1L2135.6 1437.5L2138.3 1445.2L2141.1 1425.1L2143.8 1436.7L2146.5 1436.1L2149.3 1436.3L2152.0 1457.6L2154.7 1433.1L2157.5 1440.7L2160.2 1440.6L2162.9 1437.7L2165.7 1446.7L2168.4 1431.2L2171.1 1444.4L2173.9 1446.2L2176.6 1445.7L2179.3 1436.9L2182.1 1431.6L2184.8 1442.9L2187.5 1450.5L2190.3 1428.1L2193.0 1446.0L2195.8 1426.2L2198.5 1436.6L2201.2 1441.7L2204.0 1440.8L2206.7 1430.9L2209.4 1426.9L2212.2 1435.8L2214.9 1425.6L2217.6 1415.3L2220.4 1434.7L2223.1 1442.4L2225.8 1441.1L2228.6 1443.6L2231.3 1436.6L2234.0 1436.8L2236.8 1441.4L2239.5 1424.8L2242.2 1451.5L2245.0 1439.7L2247.7 1410.1L2250.4 1418.0L2253.2 1421.8L2255.9 1421.8L2258.7 1409.7L2261.4 1419.8L2264.1 1423.2L2266.9 1434.0L2269.6 1423.3L2272.3 1428.4L2275.1 1427.6L2277.8 1427.0L2280.5 1420.5L2283.3 1422.4L2286.0 1411.2L2288.7 1429.9L2291.5 1419.1L2294.2 1400.5L2296.9 1415.9"/>
<path stroke="#0000FF" d="M1646.1 1472.3L1648.8 1475.2L1651.5 1481.3L1654.3 1466.2L1657.0 1499.6L1659.7 1497.0L1662.5 1488.5L1665.2 1495.5L1667.9 1506.8L1670.7 1493.8L1673.4 1494.3L1676.1 1508.5L1678.9 1483.4L1681.6 1480.8L1684.3 1482.1L1687.1 1496.4L1689.8 1491.9L1692.6 1502.2L1695.3 1492.2L1698.0 1499.1L1700.8 1490.7L1703.5 1496.5L1706.2 1485.7L1709.0 1487.2L1711.7 1483.8L1714.4 1505.8L1717.2 1507.3L1719.9 1489.7L1722.6 1497.1L1725.4 1489.3L1728.1 1489.7L1730.8 1490.4L1733.6 1484.2L1736.3 1486.7L1739.0 1487.0L1741.8 1497.1L1744.5 1475.7L1747.2 1487.1L1750.0 1477.9L1752.7 1482.4L1755.5 1473.1L1758.2 1480.1L1760.9 1477.6L1763.7 1476.3L1766.4 1481.1L1769.1 1478.1L1771.9 1472.9L1774.6 1470.9L1777.3 1476.2L1780.1 1447.1L1782.8 1472.6L1785.5 1465.2L1788.3 1440.6L1791.0 1464.3L1793.7 1450.5L1796.5 1449.3L1799.2 1454.5L1801.9 1462.6L1804.7 1461.6L1807.4 1446.3L1810.1 1440.5L1812.9 1460.0L1815.6 1437.9L1818.4 1442.2L1821.1 1426.0L1823.8 1429.1L1826.6 1434.2L1829.3 1427.3L1832.0 1419.3L1834.8 1403.7L1837.5 1384.4L1840.2 1404.0L1843.0 1401.6L1845.7 1391.6L1848.4 1392.8L1851.2 1381.7L1853.9 1379.0L1856.6 1377.6L1859.4 1380.2L1862.1 1366.5L1864.8 1354.8L1867.6 1358.0L1870.3 1339.4L1873.0 1340.0L1875.8 1345.5L1878.5 1322.0L1881.3 1344.8L1884.0 1316.7L1886.7 1304.3L1889.5 1319.9L1892.2 1312.7L1894.9 1296.5L1897.7 1285.6L1900.4 1289.7L1903.1 1285.7L1905.9 1272.7L1908.6 1273.8L1911.3 1283.8L1914.1 1268.0L1916.8 1261.3L1919.5 1271.4L1922.3 1248.4L1925.0 1253.6L1927.7 1237.7L1930.5 1244.4L1933.2 1236.0L1935.9 1235.6L1938.7 1230.1L1941.4 1230.3L1944.2 1232.0L1946.9 1234.2L1949.6 1241.2L1952.4 1244.0L1955.1 1274.5L1957.8 1258.2L1960.6 1272.5L1963.3 1276.7L1966.0 1292.8L1968.8 1273.3L1971.5 1293.4L1974.2 1319.6L1977.0 1309.0L1979.7 1324.3L1982.4 1341.8L1985.2 1341.2L1987.9 1352.1L1990.6 1372.6L1993.4 1370.5L1996.1 1356.0L1998.8 1362.1L2001.6 1367.0L2004.3 1384.3L2007.1 1382.2L2009.8 1379.2L2012.5 1376.4L2015.3 1393.7L2018.0 1398.9L2020.7 1382.1L2023.5 1395.8L2026.2 1403.9L2028.9 1411.3L2031.7 1414.7L2034.4 1398.7L2037.1 1407.8L2039.9 1423.2L2042.6 1433.1L2045.3 1409.9L2048.1 1413.0L2050.8 1418.2L2053.5 1423.4L2056.3 1449.0L2059.0 1445.8L2061.7 1432.0L2064.5 1441.8L2067.2 1439.9L2070.0 1449.4L2072.7 1453.3L2075.4 1445.7L2078.2 1456.1L2080.9 1454.6L2083.6 1453.8L2086.4 1454.9L2089.1 1448.1L2091.8 1447.2L2094.6 1470.5L2097.3 1462.0L2100.0 1465.6L2102.8 1454.3L2105.5 1469.5L2108.2 1454.2L2111.0 1454.7L2113.7 1455.6L2116.4 1468.3L2119.2 1461.8L2121.9 1468.7L2124.6 1456.3L2127.4 1451.4L2130.1 1471.6L2132.9 1465.6L2135.6 1459.8L2138.3 1462.6L2141.1 1445.4L2143.8 1458.6L2146.5 1454.9L2149.3 1465.8L2152.0 1443.3L2154.7 1454.3L2157.5 1448.7L2160.2 1454.0L2162.9 1471.9L2165.7 1467.1L2168.4 1464.0L2171.1 1448.8L2173.9 1456.5L2176.6 1448.2L2179.3 1448.9L2182.1 1448.7L2184.8 1442.6L2187.5 1448.3L2190.3 1463.1L2193.0 1454.5L2195.8 1434.3L2198.5 1456.9L2201.2 1435.8L2204.0 1432.8L2206.7 1451.3L2209.4 1442.9L2212.2 1457.2L2214.9 1438.3L2217.6 1450.9L2220.4 1455.0L2223.1 1446.7L2225.8 1446.8L2228.6 1447.4L2231.3 1440.3L2234.0 1442.9L2236.8 1446.7L2239.5 1432.5L2242.2 1419.4L2245.0 1439.1L2247.7 1445.2L2250.4 1447.2L2253.2 1433.2L2255.9 1439.9L2258.7 1437.1L2261.4 1453.9L2264.1 1446.0L2266.9 1445.8L2269.6 1427.1L2272.3 1437.1L2275.1 1455.7L2277.8 1429.6L2280.5 1423.4L2283.3 1421.4L2286.0 1456.4L2288.7 1430.3L2291.5 1424.1L2294.2 1425.4L2296.9 1432.1"/>
</g>
<g stroke="#000" stroke-width="6" fill="none">
<rect x="1657.0" y="997.0" width="629.0" height="538.0"/>
<line x1="1657.0" y1="997.0" x2="1657.0" y2="1023.5"/>
<line x1="1657.0" y1="1535.0" x2="1657.0" y2="1508.5"/>
<line x1="1725.4" y1="997.0" x2="1725.4" y2="1010.5"/>
<line x1="1725.4" y1="1535.0" x2="1725.4" y2="1521.5"/>
<line x1="1793.7" y1="997.0" x2="1793.7" y2="1023.5"/>
<line x1="1793.7" y1="1535.0" x2="1793.7" y2="1508.5"/>
<line x1="1862.1" y1="997.0" x2="1862.1" y2="1010.5"/>
<line x1="1862.1" y1="1535.0" x2="1862.1" y2="1521.5"/>
<line x1="1930.5" y1="997.0" x2="1930.5" y2="1023.5"/>
<line x1="1930.5" y1="1535.0" x2="1930.5" y2="1508.5"/>
<line x1="1998.8" y1="997.0" x2="1998.8" y2="1010.5"/>
<line x1="1998.8" y1="1535.0" x2="1998.8" y2="1521.5"/>
<line x1="2067.2" y1="997.0" x2="2067.2" y2="1023.5"/>
<line x1="2067.2" y1="1535.0" x2="2067.2" y2="1508.5"/>
<line x1="2135.6" y1="997.0" x2="2135.6" y2="1010.5"/>
<line x1="2135.6" y1="1535.0" x2="2135.6" y2="1521.5"/>
<line x1="2204.0" y1="997.0" x2="2204.0" y2="1023.5"/>
<line x1="2204.0" y1="1535.0" x2="2204.0" y2="1508.5"/>
<line x1="2272.3" y1="997.0" x2="2272.3" y2="1010.5"/>
<line x1="2272.3" y1="1535.0" x2="2272.3" y2="1521.5"/>
<line x1="1657.0" y1="1440.1" x2="1683.5" y2="1440.1"/>
<line x1="2286.0" y1="1440.1" x2="2259.5" y2="1440.1"/>
<line x1="1657.0" y1="1281.8" x2="1683.5" y2="1281.8"/>
<line x1="2286.0" y1="1281.8" x2="2259.5" y2="1281.8"/>
<line x1="1657.0" y1="1123.6" x2="1683.5" y2="1123.6"/>
<line x1="2286.0" y1="1123.6" x2="2259.5" y2="1123.6"/>
<line x1="1657.0" y1="1519.2" x2="1670.5" y2="1519.2"/>
<line x1="2286.0" y1="1519.2" x2="2272.5" y2="1519.2"/>
<line x1="1657.0" y1="1360.9" x2="1670.5" y2="1360.9"/>
<line x1="2286.0" y1="1360.9" x2="2272.5" y2="1360.9"/>
<line x1="1657.0" y1="1202.7" x2="1670.5" y2="1202.7"/>
<line x1="2286.0" y1="1202.7" x2="2272.5" y2="1202.7"/>
<line x1="1657.0" y1="1044.5" x2="1670.5" y2="1044.5"/>
<line x1="2286.0" y1="1044.5" x2="2272.5" y2="1044.5"/>
</g>
<g font-family="'Liberation Serif', serif" font-size="54" fill="#000">
<text x="1628" y="1456.2" text-anchor="end">1.0</text>
<text x="1628" y="1297.9" text-anchor="end">1.5</text>
<text x="1628" y="1139.7" text-anchor="end">2.0</text>
<text x="1657.5" y="1608.3" text-anchor="middle">3.0</text>
<text x="1794.2" y="1608.3" text-anchor="middle">3.5</text>
<text x="1931.0" y="1608.3" text-anchor="middle">4.0</text>
<text x="2067.7" y="1608.3" text-anchor="middle">4.5</text>
<text x="2204.5" y="1608.3" text-anchor="middle">5.0</text>
</g>
<text transform="translate(1536,1541.5) rotate(-90)" font-family="'Liberation Sans', sans-serif" font-size="58.3">Intensity (10<tspan font-size="40" dy="-28">3</tspan><tspan dy="28"> counts)</tspan></text>
<text x="1896" y="1699.5" font-family="'Liberation Sans', sans-serif" font-size="57.9">2<tspan font-family="'Liberation Serif', serif" font-size="55.2" dx="1.8">Θ</tspan><tspan font-family="'Liberation Serif', serif" dx="0.9"> (</tspan><tspan font-size="39.2" dy="-26.3">o</tspan><tspan font-family="'Liberation Serif', serif" dy="26.3">)</tspan></text>
</svg></body></html>
